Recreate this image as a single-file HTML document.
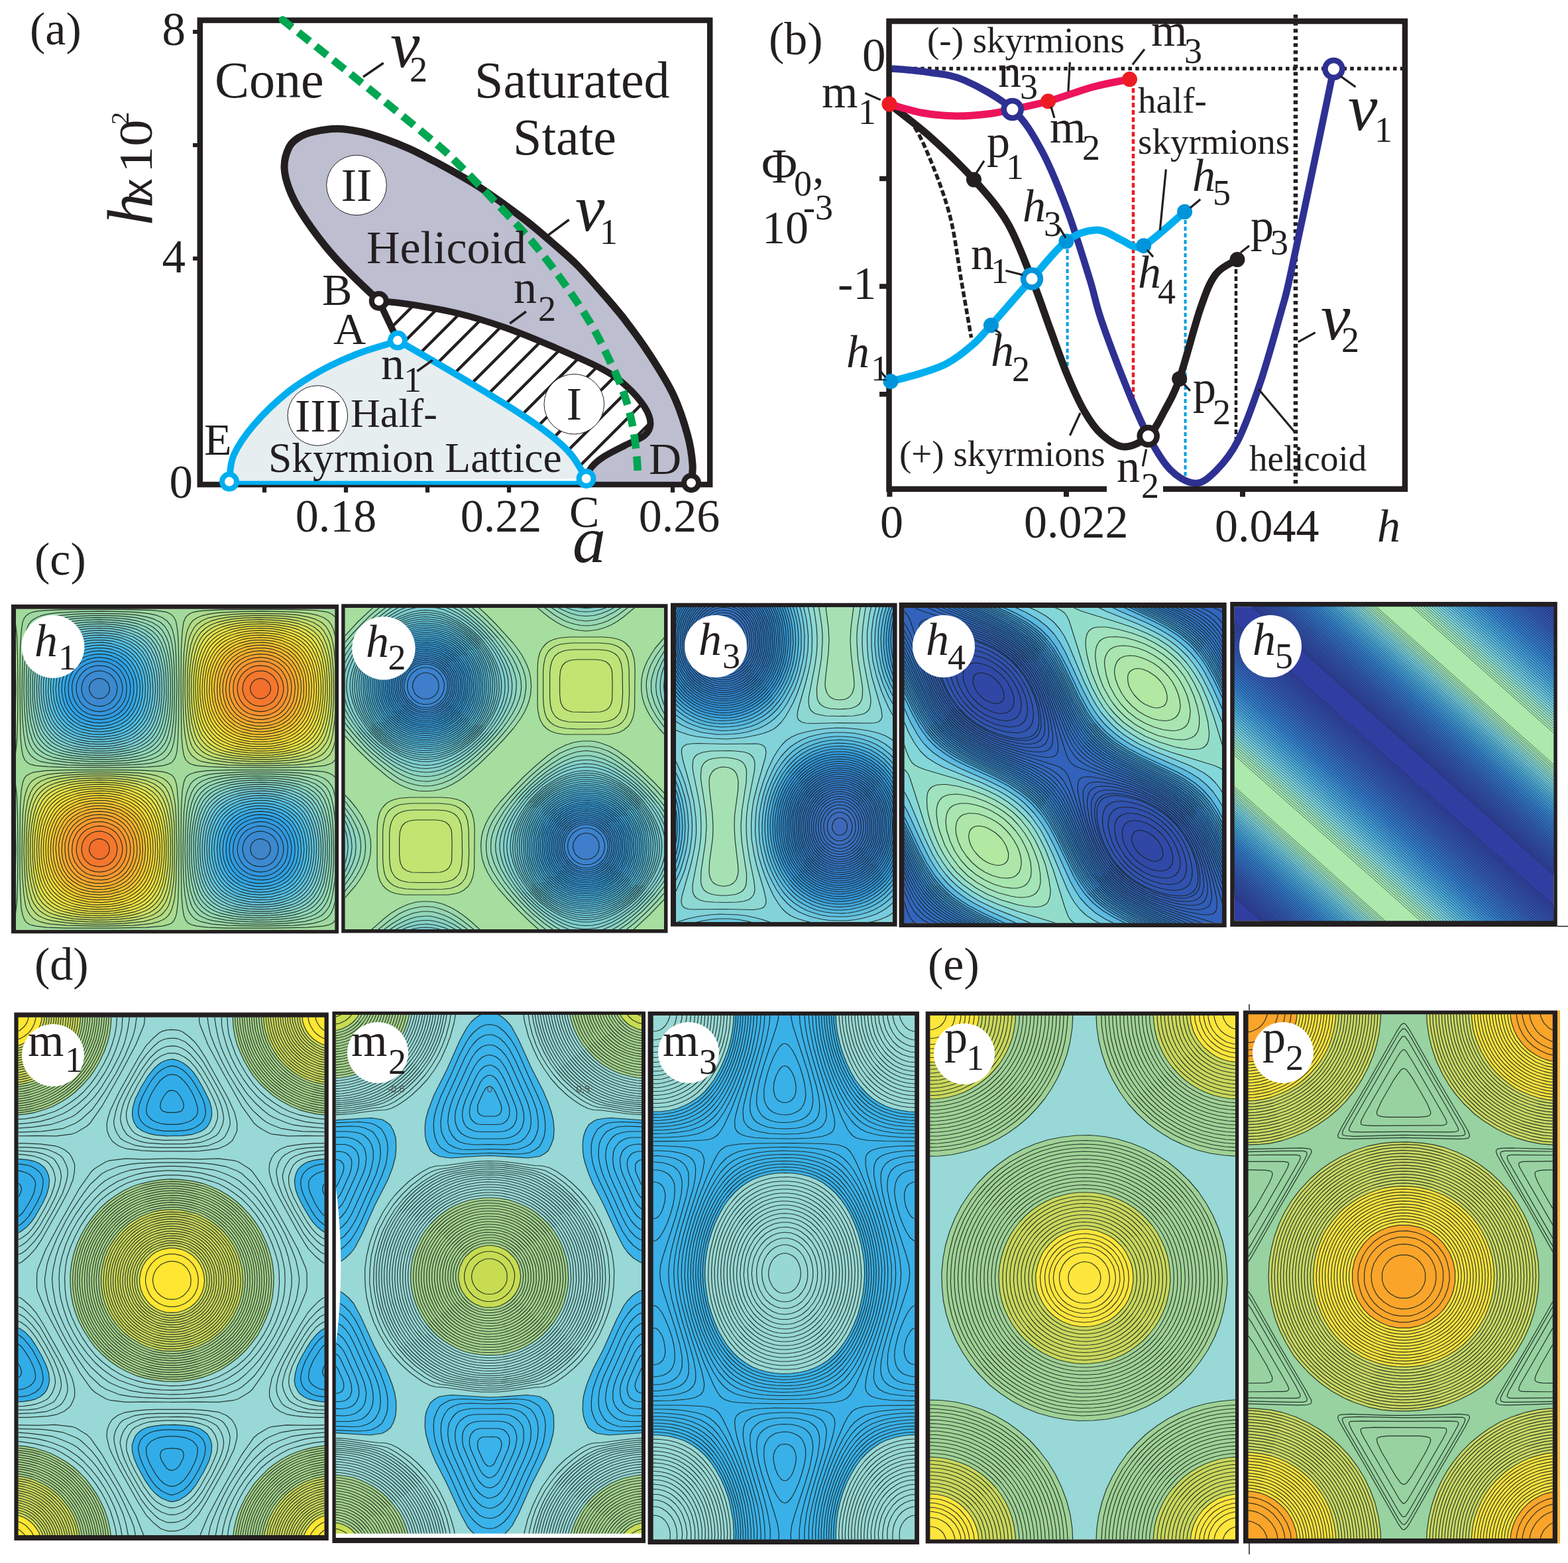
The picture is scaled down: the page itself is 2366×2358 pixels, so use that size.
<!DOCTYPE html>
<html><head><meta charset="utf-8"><title>Figure</title>
<style>html,body{margin:0;padding:0;background:#fff}svg{display:block}text{font-family:"Liberation Serif",serif;fill:#231f20}</style>
</head><body>
<svg width="2366" height="2358" viewBox="0 0 2366 2358">
<rect width="2366" height="2358" fill="#fff"/>
<path d="M571.7 454C564.2 446.8 540.3 424.7 526.8 410.9C513.3 397.1 502.7 386.1 490.6 371C478.5 355.9 463.1 334.5 454 320C444.9 305.5 440.2 295.4 436 284C431.8 272.6 429 261.6 429 251.4C429 241.2 432.5 229.7 436 222.5C439.5 215.3 443.9 211.9 450 208C456.1 204.1 462.7 201.3 472.5 199C482.3 196.7 496.6 194.2 508.7 194.2C520.8 194.2 533 196.4 545 199C557 201.6 568.9 205.6 581 209.8C593.1 214 605.3 218.9 617.4 224.3C629.5 229.7 641.5 236.1 653.6 242.4C665.7 248.7 677.9 255.4 690 262.3C702.1 269.2 714 276.1 726 284C738 291.9 750.2 300.6 762.3 309.4C774.4 318.2 786.4 326.9 798.5 336.6C810.6 346.3 822.7 356.8 834.8 367.4C846.9 378 859 387.9 871 400C883 412.1 894.9 426 907 439.9C919.1 453.8 931.4 467.6 943.5 483.3C955.6 499 967.6 515.3 979.7 534C991.8 552.7 1006.3 575.1 1016 595.6C1025.7 616.1 1032.9 639.5 1037.7 657C1042.5 674.5 1044.1 688.8 1045 700.7C1045.9 712.6 1043.3 723.9 1043 728.5 L884.6 728 L571.7 454 Z" fill="#bdbed0"/>
<clipPath id="hc"><path d="M571.7 454C579.3 454.8 597.7 455.9 617.4 459C637.1 462.1 665.9 466.6 690 472.5C714.1 478.4 738.2 485.8 762.3 494.2C786.4 502.6 810.7 512.9 834.8 523.2C858.9 533.5 888.9 546.2 907 555.8C925.1 565.4 932.6 571.3 943.5 581C954.4 590.7 966.2 604.1 972.5 613.8C978.8 623.5 981.5 631.8 981.5 639C981.5 646.2 978.8 651.5 972.5 657C966.2 662.5 953.8 666.4 943.5 671.7C933.2 677 919.5 683.5 911 689C902.5 694.5 896.8 699.5 892.4 705C888 710.5 885.9 719.2 884.6 722 L600 513.6 L571.7 454 Z"/></clipPath>
<path d="M571.7 454C579.3 454.8 597.7 455.9 617.4 459C637.1 462.1 665.9 466.6 690 472.5C714.1 478.4 738.2 485.8 762.3 494.2C786.4 502.6 810.7 512.9 834.8 523.2C858.9 533.5 888.9 546.2 907 555.8C925.1 565.4 932.6 571.3 943.5 581C954.4 590.7 966.2 604.1 972.5 613.8C978.8 623.5 981.5 631.8 981.5 639C981.5 646.2 978.8 651.5 972.5 657C966.2 662.5 953.8 666.4 943.5 671.7C933.2 677 919.5 683.5 911 689C902.5 694.5 896.8 699.5 892.4 705C888 710.5 885.9 719.2 884.6 722 L600 513.6 L571.7 454 Z" fill="#fff"/>
<path d="M303.5 740L603.5 440M344.6 740L644.6 440M385.7 740L685.7 440M426.8 740L726.8 440M467.9 740L767.9 440M509.0 740L809.0 440M550.1 740L850.1 440M591.2 740L891.2 440M632.3 740L932.3 440M673.4 740L973.4 440M714.5 740L1014.5 440M755.6 740L1055.6 440M796.7 740L1096.7 440M837.8 740L1137.8 440M878.9 740L1178.9 440M920.0 740L1220.0 440M961.1 740L1261.1 440M1002.2 740L1302.2 440" stroke="#231f20" stroke-width="4.4" fill="none" clip-path="url(#hc)"/>
<path d="M571.7 454C564.2 446.8 540.3 424.7 526.8 410.9C513.3 397.1 502.7 386.1 490.6 371C478.5 355.9 463.1 334.5 454 320C444.9 305.5 440.2 295.4 436 284C431.8 272.6 429 261.6 429 251.4C429 241.2 432.5 229.7 436 222.5C439.5 215.3 443.9 211.9 450 208C456.1 204.1 462.7 201.3 472.5 199C482.3 196.7 496.6 194.2 508.7 194.2C520.8 194.2 533 196.4 545 199C557 201.6 568.9 205.6 581 209.8C593.1 214 605.3 218.9 617.4 224.3C629.5 229.7 641.5 236.1 653.6 242.4C665.7 248.7 677.9 255.4 690 262.3C702.1 269.2 714 276.1 726 284C738 291.9 750.2 300.6 762.3 309.4C774.4 318.2 786.4 326.9 798.5 336.6C810.6 346.3 822.7 356.8 834.8 367.4C846.9 378 859 387.9 871 400C883 412.1 894.9 426 907 439.9C919.1 453.8 931.4 467.6 943.5 483.3C955.6 499 967.6 515.3 979.7 534C991.8 552.7 1006.3 575.1 1016 595.6C1025.7 616.1 1032.9 639.5 1037.7 657C1042.5 674.5 1044.1 688.8 1045 700.7C1045.9 712.6 1043.3 723.9 1043 728.5" fill="none" stroke="#231f20" stroke-width="11" stroke-linecap="round"/>
<path d="M571.7 454C579.3 454.8 597.7 455.9 617.4 459C637.1 462.1 665.9 466.6 690 472.5C714.1 478.4 738.2 485.8 762.3 494.2C786.4 502.6 810.7 512.9 834.8 523.2C858.9 533.5 888.9 546.2 907 555.8C925.1 565.4 932.6 571.3 943.5 581C954.4 590.7 966.2 604.1 972.5 613.8C978.8 623.5 981.5 631.8 981.5 639C981.5 646.2 978.8 651.5 972.5 657C966.2 662.5 953.8 666.4 943.5 671.7C933.2 677 919.5 683.5 911 689C902.5 694.5 896.8 699.5 892.4 705C888 710.5 885.9 719.2 884.6 722" fill="none" stroke="#231f20" stroke-width="10" stroke-linecap="round"/>
<path d="M571.7 454L600 513.6" stroke="#231f20" stroke-width="10"/>
<rect x="301.8" y="30.6" width="769.4" height="700.4" fill="none" stroke="#231f20" stroke-width="8.5"/>
<path d="M291 48H302M291 219H302M291 390H302M399 731V743M522 731V743M645 731V743M768 731V743M1015 731V743" stroke="#231f20" stroke-width="6.2"/>
<path d="M346 726.6C347.1 720 346.2 701.4 352.5 687C358.8 672.6 369.8 656.5 383.5 640.5C397.2 624.5 417.8 604.8 435 591C452.2 577.2 469.7 567.1 487 557.6C504.3 548.1 522.5 540.4 538.8 534C555.1 527.6 574.8 522.4 585 519C595.2 515.6 597.5 514.5 600 513.6 L600 513.6C615 522.3 660 548.1 690 566C720 583.9 756.7 606 780 621C803.3 636 816.3 645.2 830 656C843.7 666.8 852.9 675 862 686C871.1 697 880.8 716 884.6 722 L346 726.6 Z" fill="#e6eef0"/>
<path d="M346 728.5L884.6 728.5" stroke="#00aeef" stroke-width="6"/>
<path d="M346 726.6C347.1 720 346.2 701.4 352.5 687C358.8 672.6 369.8 656.5 383.5 640.5C397.2 624.5 417.8 604.8 435 591C452.2 577.2 469.7 567.1 487 557.6C504.3 548.1 522.5 540.4 538.8 534C555.1 527.6 574.8 522.4 585 519C595.2 515.6 597.5 514.5 600 513.6 L600 513.6C615 522.3 660 548.1 690 566C720 583.9 756.7 606 780 621C803.3 636 816.3 645.2 830 656C843.7 666.8 852.9 675 862 686C871.1 697 880.8 716 884.6 722" fill="none" stroke="#00aeef" stroke-width="10" stroke-linejoin="round"/>
<path d="M429 32C430.4 33.1 418.2 23.4 437.5 38.8C456.8 54.2 508.6 95.2 544.6 124.2C580.6 153.2 629.1 192.4 653.3 212.7C677.5 233 675.5 231.9 690 246C704.5 260.1 723 279.3 740 297C757 314.7 777.3 335.5 792 352C806.7 368.5 816.5 381.1 828 396C839.5 410.9 850.7 426.5 861 441.5C871.3 456.5 881.3 471.3 890 486C898.7 500.7 904.9 512.8 913 529.5C921.1 546.2 932.1 568.8 938.8 586.4C945.5 604 949.5 619.4 953 635C956.5 650.6 958.4 666.5 960 680C961.6 693.5 962.1 710 962.5 716" fill="none" stroke="#00a651" stroke-width="11.6" stroke-dasharray="21.7 11.9"/>
<circle cx="538" cy="279.4" r="45.3" fill="#fff" stroke="#231f20" stroke-width="1"/>
<circle cx="866.3" cy="609.7" r="45.3" fill="#fff" stroke="#231f20" stroke-width="1"/>
<circle cx="479.3" cy="627" r="45.3" fill="#fff" stroke="#231f20" stroke-width="1"/>
<circle cx="571.7" cy="454" r="11" fill="#fff" stroke="#231f20" stroke-width="8"/>
<circle cx="1043" cy="728.5" r="11" fill="#fff" stroke="#231f20" stroke-width="8"/>
<circle cx="600" cy="513.6" r="11" fill="#fff" stroke="#00aeef" stroke-width="8"/>
<circle cx="884.6" cy="722" r="11" fill="#fff" stroke="#00aeef" stroke-width="8"/>
<circle cx="346" cy="726.6" r="11" fill="#fff" stroke="#00aeef" stroke-width="8"/>
<path d="M548 116L578.7 95M823.6 357.4L858.6 331.5M769.3 488L793.9 470M629.4 560L652.7 543.4" stroke="#231f20" stroke-width="3.5"/>
<text x="45" y="67" font-size="70">(a)</text>
<text x="52" y="866.5" font-size="70">(c)</text>
<text x="280" y="67.5" font-size="71" text-anchor="end">8</text>
<text x="280" y="411" font-size="71" text-anchor="end">4</text>
<text x="291" y="751" font-size="71" text-anchor="end">0</text>
<g transform="translate(228.5,337) rotate(-90)"><text x="-3" y="0" font-size="97" font-style="italic">h</text><text x="37.5" y="0" font-size="65" style="font-family:'Liberation Sans',sans-serif" textLength="30" lengthAdjust="spacingAndGlyphs">x</text><g transform="translate(76,0) scale(1.12,1)"><text x="0" y="0" font-size="72">10</text></g><text x="149" y="-34.5" font-size="38">2</text></g>
<text x="324" y="147" font-size="78">Cone</text>
<text x="716" y="147" font-size="78">Saturated</text>
<text x="774" y="233" font-size="78">State</text>
<text x="553" y="397" font-size="70">Helicoid</text>
<text x="538" y="303" font-size="70" text-anchor="middle">II</text>
<text x="866.3" y="633" font-size="70" text-anchor="middle">I</text>
<text x="480" y="651" font-size="70" text-anchor="middle">III</text>
<text x="486" y="460" font-size="68">B</text>
<text x="503" y="518.5" font-size="68">A</text>
<text x="308" y="686" font-size="68">E</text>
<text x="979" y="714.5" font-size="68">D</text>
<text x="859" y="795" font-size="68">C</text>
<text x="864" y="848" font-size="100" font-style="italic">a</text>
<text x="775" y="457" font-size="70">n</text><text x="812" y="484" font-size="54">2</text>
<text x="575" y="572" font-size="70">n</text><text x="609" y="591" font-size="54">1</text>
<text x="868" y="348" font-size="100" font-style="italic">ν</text><text x="905" y="367.7" font-size="54">1</text>
<text x="589" y="101" font-size="100" font-style="italic">ν</text><text x="618" y="122.5" font-size="54">2</text>
<text x="529" y="643.5" font-size="62">Half-</text>
<text x="405" y="711.6" font-size="63.5">Skyrmion Lattice</text>
<text x="507" y="802" font-size="70" text-anchor="middle">0.18</text>
<text x="756" y="802" font-size="70" text-anchor="middle">0.22</text>
<text x="1025" y="802" font-size="70" text-anchor="middle">0.26</text>
<path d="M1346 103.6H2116" stroke="#231f20" stroke-width="5.5" stroke-dasharray="5.6 5.2" fill="none"/>
<path d="M1955 22V734" stroke="#231f20" stroke-width="6.5" stroke-dasharray="5.6 5.2" fill="none"/>
<path d="M1865 395V665" stroke="#231f20" stroke-width="4.5" stroke-dasharray="7 4" fill="none"/>
<path d="M1610.6 366V561M1788.6 322V724" stroke="#00a0e0" stroke-width="4" stroke-dasharray="6 4" fill="none"/>
<path d="M1710 122V609" stroke="#ed1c24" stroke-width="4.5" stroke-dasharray="7 4" fill="none"/>
<path d="M1342 157C1347.9 162.2 1366.5 172 1377.6 188C1388.7 204 1399.2 229.2 1408.7 253C1418.2 276.8 1427.7 302.8 1434.6 330.6C1441.5 358.4 1444.8 390.2 1450 420C1455.2 449.8 1463 494.5 1465.6 509.4" fill="none" stroke="#231f20" stroke-width="5.5" stroke-dasharray="9 4"/>
<path d="M1342 157C1352.2 165.2 1382.2 187.3 1403.5 206.3C1424.8 225.3 1450.1 249.4 1469.5 271C1488.9 292.6 1505.4 310.8 1520 335.7C1534.6 360.6 1546.2 393.8 1557 420.6C1567.8 447.4 1575.8 472.3 1584.7 496.5C1593.6 520.7 1602 545.3 1610.6 566C1619.2 586.7 1627.8 605.9 1636.4 620.7C1645 635.5 1652.1 646.1 1662 655C1671.9 663.9 1684.2 673.5 1696 674C1707.8 674.5 1722.5 667 1732.7 658C1742.9 649 1749.2 634.4 1757 620C1764.8 605.6 1770.7 597.3 1779.7 571.5C1788.8 545.7 1802.2 491.7 1811.3 465.4C1820.4 439.1 1825.3 425.9 1834.6 413.6C1843.9 401.3 1861.6 395.3 1867 391.6" fill="none" stroke="#231f20" stroke-width="11"/>
<path d="M1345 103.5C1354.2 104.4 1381.7 106.1 1400 109C1418.3 111.9 1433.7 111.7 1455 121C1476.3 130.3 1508.2 147.3 1527.7 165C1547.2 182.7 1557.9 201.6 1571.7 227C1585.5 252.4 1598.5 285.4 1610.6 317.6C1622.6 349.8 1635.4 392.4 1644 420C1652.6 447.6 1652.5 455.7 1662 483.5C1671.5 511.3 1689.2 557.9 1701 587C1712.8 616.1 1721.9 637.7 1732.7 658C1743.5 678.3 1754.2 696.9 1766 708.7C1777.8 720.5 1792 728.8 1803.5 729C1815 729.2 1824.2 720.7 1835 710C1845.8 699.3 1856.8 686.9 1868 664.7C1879.2 642.5 1891.1 609.1 1901.9 576.7C1912.7 544.4 1925.7 496.7 1933 470.6C1940.3 444.5 1938.2 455.1 1946 420C1953.8 384.9 1968.9 312.7 1980 260C1991.1 207.3 2007 130 2012.4 104" fill="none" stroke="#2e3192" stroke-width="10.5"/>
<path d="M1344 575.4C1351.7 573.3 1375.8 567.6 1390 563C1404.2 558.4 1416.4 555.2 1429.4 548C1442.4 540.8 1457 529.3 1468 519.8C1479 510.3 1480.6 507.3 1495.4 490.8C1510.2 474.3 1538.1 441.7 1557 420.6C1575.9 399.5 1592.8 376.3 1609 364C1625.2 351.7 1641 347.5 1654.5 347C1668 346.5 1680.8 356.9 1690 361C1699.2 365.1 1704 369.9 1710 371.5C1716 373.1 1718.2 374.6 1725.7 370.7C1733.2 366.8 1744.7 356.5 1755 348C1765.3 339.5 1782.2 324.2 1787.6 319.5" fill="none" stroke="#00aeef" stroke-width="11"/>
<path d="M1342 157C1350 159.2 1373.3 167 1390 170C1406.7 173 1425.3 174.7 1442 175C1458.7 175.3 1475.7 173.7 1490 172C1504.3 170.3 1512.4 168.2 1527.7 165C1543 161.8 1561.2 158.5 1581.6 152.8C1602 147.1 1629.5 136.5 1650 131C1670.5 125.5 1695.4 121.5 1704.5 119.6" fill="none" stroke="#ed145b" stroke-width="11"/>
<path d="M1670 737.7H1341.5V32H2120V737.7H1755" fill="none" stroke="#231f20" stroke-width="8.5"/>
<path d="M1327 269.5H1342M1327 432H1342M1327 594.8H1342" stroke="#231f20" stroke-width="7.5"/>
<path d="M1342.4 737V749.5M1609 737V749.5M1875 737V749.5" stroke="#231f20" stroke-width="8"/>
<circle cx="1342" cy="157" r="11.5" fill="#ed1c24"/>
<circle cx="1581.6" cy="152.8" r="11.5" fill="#ed1c24"/>
<circle cx="1704.5" cy="119.6" r="11.5" fill="#ed1c24"/>
<circle cx="1344" cy="575.4" r="11.5" fill="#0095da"/>
<circle cx="1495.4" cy="490.8" r="11.5" fill="#0095da"/>
<circle cx="1609" cy="364" r="11.5" fill="#0095da"/>
<circle cx="1725.7" cy="370.7" r="11.5" fill="#0095da"/>
<circle cx="1787.6" cy="319.5" r="11.5" fill="#0095da"/>
<circle cx="1469.5" cy="271" r="11.5" fill="#231f20"/>
<circle cx="1779.7" cy="571.5" r="11.5" fill="#231f20"/>
<circle cx="1867" cy="391.6" r="11.5" fill="#231f20"/>
<circle cx="1527.7" cy="165" r="13" fill="#fff" stroke="#2e3192" stroke-width="8.5"/>
<circle cx="2012.4" cy="104" r="13" fill="#fff" stroke="#2e3192" stroke-width="8.5"/>
<circle cx="1557" cy="420.6" r="13" fill="#fff" stroke="#0095da" stroke-width="8.5"/>
<circle cx="1732.7" cy="658" r="13" fill="#fff" stroke="#231f20" stroke-width="8.5"/>
<path d="M1614.4 657L1630 623M1899 587L1953.6 651.7M1958.8 515.9L1984.7 501.6M1305.4 140.5L1328.7 150.6M1614.4 93.8L1611.9 137.8M1708.9 97.6L1727 74.3M1586 161L1591 177.9M1473.4 260.7L1485 242.6M1598.9 343.5L1608 359M1759.4 255.5L1750.3 347.4M1517.4 408.2L1543.3 414.7M1730.9 377L1740 387.5M1795.8 313.7L1811.3 300.8M1872 381L1885 370.7M2022.2 114.5L2045.5 131.3M1501.9 497.8L1509.6 503M1327.2 558.6L1336.2 569M1729.6 677.6L1724.4 703.5M1785.4 578L1795.8 589.6" stroke="#231f20" stroke-width="3.2"/>
<text x="1160" y="81.5" font-size="70">(b)</text>
<text x="1301" y="107" font-size="71">0</text>
<text x="1149" y="276" font-size="74">Φ</text><text x="1198" y="294.5" font-size="54">0</text><text x="1226" y="276" font-size="70">,</text>
<text x="1150" y="367" font-size="70">10</text><text x="1212" y="331" font-size="54">-3</text>
<text x="1264" y="451.4" font-size="70">-1</text>
<text x="1240" y="162" font-size="70">m</text><text x="1295" y="187" font-size="54">1</text>
<text x="1277" y="554" font-size="70" font-style="italic">h</text><text x="1314" y="574" font-size="54">1</text>
<text x="1399" y="79" font-size="55">(-) skyrmions</text>
<text x="1357" y="702.5" font-size="55">(+) skyrmions</text>
<text x="1717" y="170" font-size="55">half-</text>
<text x="1717" y="232" font-size="55">skyrmions</text>
<text x="1885" y="710" font-size="55">helicoid</text>
<text x="1506" y="131" font-size="70">n</text><text x="1539" y="149" font-size="54">3</text>
<text x="1584" y="215" font-size="70">m</text><text x="1633" y="241" font-size="54">2</text>
<text x="1737" y="69" font-size="70">m</text><text x="1787" y="95" font-size="54">3</text>
<text x="1489" y="237" font-size="70">p</text><text x="1518" y="270" font-size="54">1</text>
<text x="1543" y="334.4" font-size="70" font-style="italic">h</text><text x="1575" y="356" font-size="54">3</text>
<text x="1465" y="405.6" font-size="70">n</text><text x="1495" y="427" font-size="54">1</text>
<text x="1495" y="552" font-size="70" font-style="italic">h</text><text x="1527" y="575.4" font-size="54">2</text>
<text x="1717" y="434" font-size="70" font-style="italic">h</text><text x="1747" y="457.6" font-size="54">4</text>
<text x="1799" y="288" font-size="70" font-style="italic">h</text><text x="1830" y="308.6" font-size="54">5</text>
<text x="1887" y="364" font-size="70">p</text><text x="1917" y="384" font-size="54">3</text>
<text x="1800" y="608" font-size="70">p</text><text x="1830" y="640" font-size="54">2</text>
<text x="1685" y="726.8" font-size="70">n</text><text x="1722" y="751.4" font-size="54">2</text>
<text x="2034" y="196" font-size="100" font-style="italic">ν</text><text x="2074" y="214" font-size="54">1</text>
<text x="1993" y="512" font-size="100" font-style="italic">ν</text><text x="2024" y="531.4" font-size="54">2</text>
<text x="1328" y="811" font-size="70">0</text>
<text x="1545" y="811" font-size="70">0.022</text>
<text x="1833" y="817" font-size="70">0.044</text>
<text x="2078" y="817" font-size="70" font-style="italic">h</text>
<clipPath id="c1"><rect x="0" y="0" width="962.6" height="968.4000000000001"/></clipPath>
<g transform="translate(24,918.7) scale(0.5)"><g clip-path="url(#c1)" stroke="#16221c" stroke-width="2.4" stroke-opacity="0.88" stroke-linejoin="round">
<rect x="-8" y="-8" width="978" height="984" fill="#a2da9b" stroke="none"/>
<path fill="#abdb8f" d="M91 -8h321l-60 2l-100 1l-100-1zM634 2l160-1l104 3l26 3l18 3l12 6l9 8l4 8l3 10v397l-6 15l-4 5l-5 5l-11 5l-14 4l-20 2l-26 2l-104 2l-140-1l-58-2l-36-3l-12-3l-8-3l-7-5l-6-6l-6-14l-4-22l-3-34l-1-54l-1-112l1-98l3-52l4-30l5-12l6-8l8-6l10-4l15-3l20-2zM-8 28v-1l3 7l4 12l4 36l2 60l1 98l-1 98l-2 60l-4 36l-3 11l-4 9zM159 486h161l58 1l40 2l24 2l16 4l12 6l8 9l4 10l4 16l4 50l2 110l-1 136l-2 54l-4 32l-3 11l-4 9l-4 6l-6 5l-10 4l-16 4l-48 4l-106 2h-138l-56-2l-34-4l-12-3l-8-3l-8-5l-5-6l-6-14l-5-24l-2-36l-2-58v-114l1-94l3-50l5-28l5-12l6-7l8-5l12-5l16-2l22-3zM659 970h187l52 2l32 4h-384l40-4z"/>
<path fill="#b4dc83" d="M680 8l62-1l62 1l46 2l36 4l24 5l19 7l13 9l10 13l7 16l4 18l4 24l2 32l1 200l-5 48l-3 18l-4 14l-5 12l-6 10l-9 8l-8 6l-15 6l-19 5l-24 3l-32 3l-100 2l-100-2l-48-5l-18-3l-14-3l-12-5l-10-7l-8-7l-6-9l-5-10l-3-12l-6-31l-4-45l-2-60l1-78l2-64l5-42l3-16l4-14l7-14l8-11l12-8l14-6l20-5l26-4l32-2zM-8 90l3 22l3 36l2 92l-2 92l-3 34l-3 26zM203 492h63l60 1l44 2l34 4l23 5l17 7l12 9l11 14l5 14l5 20l4 24l2 32l3 100l-3 100l-4 48l-4 18l-4 14l-5 12l-6 9l-7 7l-10 6l-14 6l-19 5l-24 3l-32 3l-100 2l-100-2l-48-4l-18-3l-14-4l-12-5l-10-6l-8-8l-6-9l-5-10l-4-12l-5-32l-4-46l-2-62l1-80l2-62l5-42l4-16l4-12l7-14l9-10l12-8l16-6l20-5l28-3z"/>
<path fill="#bcdd77" d="M699 14h55l52 1l42 3l32 6l24 7l18 9l13 12l10 16l7 17l5 21l4 26l2 32l2 42l1 48l-2 44l-2 38l-6 43l-4 17l-5 14l-7 12l-8 10l-9 8l-11 6l-16 7l-22 5l-26 4l-32 3l-42 1l-48 1l-46-1l-38-3l-44-6l-18-4l-14-6l-12-7l-10-8l-8-10l-6-10l-4-12l-4-14l-6-34l-4-46l-2-58l1-62l4-50l5-36l4-15l5-13l9-16l10-11l14-10l16-7l22-5l26-4l34-3zM-8 180l1 60l-1 62zM222 498h56l50 2l40 3l30 6l23 7l17 10l13 12l9 16l6 16l5 22l4 26l3 34l1 42v48l-1 44l-2 38l-7 42l-4 16l-5 14l-6 10l-8 10l-10 9l-12 6l-16 6l-22 6l-26 3l-34 3l-44 2h-48l-44-1l-38-3l-42-6l-16-4l-14-6l-12-6l-10-9l-8-10l-6-10l-9-26l-6-36l-3-48l-2-60l2-60l3-50l6-36l9-26l8-14l11-12l13-9l18-7l22-5l28-5l36-2z"/>
<path fill="#c5de6b" d="M713 20h51l46 2l36 4l30 7l22 8l18 11l13 14l11 19l7 19l5 22l3 28l3 32l1 40v42l-2 38l-3 32l-4 22l-4 18l-5 16l-6 12l-9 12l-8 9l-10 7l-14 7l-19 7l-23 5l-28 4l-32 2l-40 2l-42-1l-38-2l-32-3l-22-3l-18-4l-16-6l-13-6l-11-8l-10-10l-8-10l-6-13l-9-27l-5-34l-4-46l-1-52l1-52l4-42l6-34l9-26l10-16l11-12l14-10l18-8l22-6l28-5l34-3zM238 504h48l44 3l36 5l28 6l22 9l16 11l13 14l10 20l7 20l4 24l4 28l2 34l1 40v42l-2 36l-4 32l-3 20l-5 18l-6 16l-7 12l-8 11l-10 9l-12 8l-12 5l-20 6l-23 5l-29 4l-34 2l-40 1l-42-1l-36-2l-32-3l-20-4l-18-4l-16-6l-12-7l-11-8l-9-10l-7-10l-7-14l-8-28l-6-38l-3-48v-54l2-50l4-40l7-32l9-24l11-16l12-11l16-10l18-7l24-6l28-4l36-3z"/>
<path fill="#cfdf61" d="M730 26l46 1l42 3l34 6l26 8l21 10l17 14l12 17l9 21l6 22l5 24l3 30l2 32v36l-1 36l-3 32l-4 26l-5 20l-5 16l-6 14l-8 12l-9 10l-10 8l-13 8l-15 6l-20 6l-26 5l-29 3l-33 2h-38l-36-1l-32-3l-28-4l-20-5l-16-5l-14-7l-11-7l-11-10l-8-10l-7-12l-6-16l-8-30l-5-36l-3-46v-48l3-42l5-36l7-28l10-22l10-15l14-13l16-10l18-7l24-6l28-5l34-3zM197 512l49-2l48 1l42 4l34 6l26 8l20 11l16 15l12 18l7 17l6 22l5 24l3 28l2 34v36l-1 36l-3 32l-3 22l-4 20l-6 18l-6 14l-8 12l-8 10l-12 10l-12 8l-18 7l-20 6l-24 4l-28 3l-34 2l-38 1l-36-2l-32-2l-22-4l-20-4l-17-5l-15-6l-13-8l-11-10l-9-10l-7-12l-9-24l-7-30l-5-36l-2-44v-48l4-44l5-36l8-28l9-18l10-14l13-12l14-9l18-7l22-6l26-5z"/>
<path fill="#d9e056" d="M690 34l46-2l46 2l40 4l32 7l24 9l20 13l15 15l12 20l7 18l6 20l4 24l3 28l2 32v34l-2 32l-3 28l-4 21l-5 19l-6 16l-7 14l-8 12l-10 10l-10 8l-14 8l-18 7l-22 6l-24 4l-28 3l-32 2h-34l-32-2l-30-3l-22-4l-18-5l-16-6l-14-7l-12-9l-10-10l-8-10l-7-14l-9-24l-7-30l-4-36l-2-42l1-42l4-38l6-32l8-26l8-16l10-14l13-12l15-10l18-8l22-6l26-5zM207 518l45-2l44 2l40 4l32 7l24 9l20 13l15 15l12 20l7 18l6 22l4 24l3 28l1 32v34l-1 32l-4 28l-4 22l-5 18l-6 16l-7 14l-9 12l-10 10l-11 8l-13 7l-18 7l-22 6l-25 4l-29 3l-32 1h-34l-32-2l-28-3l-20-4l-19-5l-16-6l-13-7l-12-9l-10-9l-8-11l-8-14l-8-24l-7-30l-4-36l-2-42l1-42l4-38l6-32l8-26l9-18l11-14l12-11l16-10l18-7l22-6l26-5z"/>
<path fill="#e3e14b" d="M698 40l44-1l42 2l38 5l30 7l24 11l18 13l8 7l8 10l11 20l6 18l6 22l4 24l2 28l1 30v32l-3 28l-3 26l-5 20l-5 16l-6 14l-8 14l-10 12l-10 9l-12 8l-14 7l-18 7l-22 5l-24 4l-28 3l-30 1l-32-1l-28-2l-26-4l-20-4l-16-5l-14-6l-14-8l-12-10l-9-10l-9-12l-7-14l-8-24l-6-30l-4-34l-1-38l1-38l4-34l6-30l8-24l10-18l11-14l12-10l16-10l18-8l22-6l26-5zM215 524l43-1l42 2l37 5l30 8l23 10l19 14l15 17l11 21l7 18l5 22l4 24l2 28l1 30l-1 32l-2 28l-4 26l-4 20l-6 16l-7 16l-8 12l-10 12l-10 9l-12 8l-14 6l-18 7l-22 5l-26 4l-28 2l-30 1l-30-1l-28-2l-26-4l-20-5l-16-5l-16-7l-12-8l-12-10l-9-10l-8-12l-7-14l-8-24l-6-30l-3-36l-1-38l1-38l4-34l6-28l9-23l9-17l11-14l14-12l16-9l18-7l22-7l26-4z"/>
<path fill="#eae144" d="M707 46l41-1l40 3l36 6l28 8l22 12l18 14l14 18l12 24l6 18l4 22l4 24l2 28v28l-2 28l-3 26l-4 22l-5 18l-6 16l-8 14l-8 12l-10 10l-10 8l-13 8l-15 7l-18 6l-22 5l-24 3l-28 2h-28l-28-1l-26-3l-24-4l-18-5l-16-7l-14-7l-11-8l-11-10l-8-10l-8-12l-7-16l-8-24l-5-30l-3-32l-1-36l2-34l4-30l7-26l8-22l10-16l11-14l14-12l16-9l18-8l22-6l26-4zM224 530l42-1l40 3l34 6l28 9l22 12l18 15l14 19l10 23l6 20l5 22l3 25l2 27v28l-2 26l-3 26l-4 22l-5 16l-6 16l-8 14l-8 12l-10 10l-12 10l-14 8l-14 6l-20 6l-22 4l-26 4l-26 1h-28l-28-1l-26-3l-22-5l-16-4l-16-6l-14-8l-12-8l-10-10l-10-12l-8-14l-6-14l-7-24l-6-30l-3-34v-34l2-34l5-30l6-26l9-22l10-16l12-14l14-11l16-9l20-8l22-5l24-4z"/>
<path fill="#eddf40" d="M718 52h40l38 4l32 7l26 10l22 13l16 16l13 20l10 26l6 20l3 22l3 24v26v26l-3 24l-3 22l-5 20l-6 16l-7 14l-8 12l-10 12l-11 10l-12 8l-14 7l-16 5l-20 6l-24 4l-24 2l-26 1l-26-1l-24-2l-24-4l-20-6l-16-5l-14-7l-12-8l-11-10l-10-12l-8-12l-7-14l-6-16l-6-26l-4-28l-1-30v-32l3-30l5-26l7-22l9-20l11-16l12-12l14-11l16-8l20-8l21-5l25-4zM237 536h39l36 4l32 7l26 11l12 7l10 7l16 17l13 21l9 26l5 20l4 24l2 24v26l-1 26l-3 24l-4 22l-5 20l-7 16l-7 13l-8 11l-10 11l-11 9l-13 8l-16 7l-16 5l-20 5l-24 4l-26 2h-26l-26-1l-24-3l-22-4l-18-6l-16-6l-13-7l-13-9l-10-10l-9-11l-7-12l-8-16l-5-16l-6-26l-3-28l-1-32l1-32l3-28l5-26l8-22l8-18l10-14l12-12l14-11l18-9l20-7l22-5l26-4z"/>
<path fill="#f1dd3c" d="M701 60l37-2l38 2l34 6l28 9l22 11l11 8l9 8l14 18l12 24l5 18l5 20l3 22l2 24v24l-2 24l-3 22l-4 20l-5 16l-7 15l-7 13l-9 12l-10 10l-10 8l-13 8l-15 7l-18 6l-20 4l-22 3l-22 2h-24l-24-1l-23-3l-21-4l-16-5l-16-7l-14-7l-12-9l-10-10l-8-10l-8-13l-7-15l-7-22l-5-24l-3-28l-1-30l2-30l4-26l6-24l8-20l8-16l11-14l12-11l14-10l16-8l20-7l22-5zM217 544l37-2l38 3l34 5l28 10l22 11l18 15l15 20l11 23l6 19l4 20l3 22l2 24l-1 24l-1 24l-3 22l-5 20l-5 16l-6 14l-8 13l-8 11l-10 10l-12 9l-14 8l-14 7l-18 5l-20 5l-22 3l-24 1h-24l-24-1l-22-3l-22-5l-16-5l-16-7l-12-8l-12-9l-10-10l-8-11l-8-13l-6-14l-7-22l-5-26l-2-28l-1-30l2-28l4-26l6-24l9-20l8-15l10-13l13-12l15-10l18-8l18-6l22-5z"/>
<path fill="#f5db38" d="M711 66l35-1l36 3l32 7l26 9l22 14l17 16l13 20l11 26l5 18l3 20l2 22l1 22l-1 22l-2 22l-4 20l-5 18l-6 14l-7 14l-8 12l-9 10l-12 10l-12 8l-14 7l-14 5l-20 5l-20 4l-22 2h-22h-22l-22-3l-20-4l-18-5l-14-5l-14-7l-12-9l-10-8l-10-12l-8-12l-7-14l-5-14l-6-22l-4-24l-2-26l1-28l2-24l4-24l7-22l8-18l9-14l11-13l13-11l15-10l16-7l20-6l20-4zM227 550l37-1l34 3l32 7l26 11l20 12l10 9l8 9l13 20l10 26l5 18l4 22l1 22l1 22l-1 22l-3 22l-4 19l-5 17l-6 14l-7 14l-9 12l-9 10l-12 9l-12 8l-14 7l-16 5l-19 5l-21 3l-22 2l-22 1l-22-2l-22-2l-20-4l-18-6l-14-6l-14-8l-11-8l-11-10l-8-10l-8-13l-6-13l-6-16l-5-22l-4-26l-1-26l1-26l3-26l4-22l7-20l8-18l9-14l12-13l12-10l15-9l17-7l20-6l20-4z"/>
<path fill="#f8d934" d="M725 72l35 1l34 4l29 9l13 6l12 7l19 15l8 10l7 10l12 24l8 30l3 20l2 20v22l-1 20l-3 20l-4 18l-6 16l-6 14l-7 12l-9 12l-10 10l-11 8l-12 8l-14 6l-16 6l-18 4l-20 3l-20 1h-22l-20-1l-20-3l-18-4l-16-5l-15-7l-13-8l-11-8l-10-10l-9-12l-7-12l-6-14l-5-16l-4-16l-4-22l-1-24v-24l3-22l4-22l5-18l7-16l10-16l10-13l12-11l12-8l16-8l16-6l20-5l20-3zM246 556l36 1l34 6l16 5l14 6l12 6l11 8l9 8l10 10l7 10l7 12l6 14l4 14l7 32l2 20v20l-1 20l-2 20l-4 18l-5 18l-6 14l-8 14l-8 12l-10 10l-11 9l-12 8l-14 6l-16 6l-18 5l-18 3l-20 1l-22 1l-20-1l-20-3l-18-4l-18-5l-14-6l-14-8l-11-8l-10-10l-9-11l-8-13l-7-14l-5-16l-7-34l-2-22v-22l1-22l4-22l4-18l7-18l8-16l9-14l10-11l12-10l14-8l15-7l17-6l20-4l20-3z"/>
<path fill="#fad531" d="M712 80l34-1l32 3l28 6l26 11l20 13l17 18l13 21l10 25l4 18l3 18l1 38l-2 20l-2 18l-4 16l-6 16l-6 14l-8 12l-8 11l-10 9l-10 8l-13 8l-13 6l-16 5l-18 4l-18 3l-20 1h-20l-20-1l-18-3l-16-4l-16-6l-12-6l-12-7l-10-8l-10-10l-8-10l-8-13l-6-13l-6-16l-4-20l-3-22l-1-22l1-22l2-20l5-20l6-18l8-17l9-13l11-12l12-10l12-8l16-7l16-6l18-4zM228 564l34-1l32 3l30 8l24 10l20 14l16 18l12 20l10 26l4 18l3 18l1 38l-2 20l-3 18l-4 16l-6 16l-6 14l-8 12l-9 11l-10 9l-11 8l-13 8l-14 6l-14 4l-18 4l-18 2l-20 2l-20-1l-20-1l-18-4l-17-4l-15-6l-13-6l-12-8l-10-8l-9-10l-9-12l-7-12l-6-14l-4-14l-5-20l-2-22l-1-22l1-22l3-20l4-20l7-18l8-16l9-13l10-11l12-10l14-9l16-7l16-5l18-4z"/>
<path fill="#face30" d="M735 86l35 2l32 7l26 11l12 8l10 8l10 10l7 10l7 12l6 13l9 29l4 34l-2 36l-6 32l-5 16l-6 13l-8 13l-8 10l-10 10l-10 8l-12 7l-14 6l-14 5l-16 4l-34 4l-36-1l-32-6l-15-5l-13-6l-12-7l-12-9l-10-10l-8-10l-7-12l-7-14l-5-14l-4-16l-4-34l2-36l2-18l4-16l5-14l7-14l7-12l10-12l10-9l12-9l12-7l14-6l16-5l16-3zM223 572l31-2l30 2l28 6l26 10l20 13l17 17l13 20l10 25l4 15l3 18l2 36l-2 18l-2 18l-4 16l-5 14l-6 13l-7 11l-7 10l-10 10l-10 8l-12 8l-14 7l-14 5l-16 4l-18 3l-36 1l-18-1l-18-3l-16-4l-14-4l-14-7l-12-7l-10-8l-10-10l-8-10l-8-12l-10-26l-5-18l-3-20l-1-20l1-22l2-20l4-18l6-17l7-15l7-12l10-12l11-10l13-9l14-7l16-7l16-4z"/>
<path fill="#fac72f" d="M722 94h30l30 4l26 8l23 12l17 14l15 20l12 24l7 26l3 32l-1 34l-3 16l-5 16l-5 14l-6 12l-15 20l-10 9l-10 8l-12 7l-12 5l-14 5l-16 3l-32 4l-34-2l-16-3l-16-4l-14-5l-12-7l-12-8l-10-8l-8-9l-8-11l-7-12l-5-12l-8-28l-2-18l-1-18v-18l2-18l4-16l5-16l6-14l8-13l9-11l10-10l11-8l13-8l14-6l15-4l16-4zM239 578h31l30 5l26 9l22 13l18 16l14 20l10 23l7 28l2 34l-2 32l-4 16l-4 14l-6 14l-7 12l-7 10l-9 10l-10 9l-11 7l-11 6l-14 5l-30 8l-34 2l-34-3l-16-3l-14-5l-12-5l-12-7l-11-8l-9-8l-9-10l-7-11l-6-11l-6-14l-7-30l-2-18v-18l1-18l3-18l4-16l5-14l6-14l8-12l9-10l10-10l12-8l13-7l14-6l16-4l16-3z"/>
<path fill="#fac02e" d="M720 102l28-1l28 4l26 8l22 11l17 14l14 18l12 22l7 24l3 30l-1 32l-6 29l-5 13l-6 12l-14 20l-9 9l-10 8l-12 7l-12 6l-26 7l-30 4l-32-1l-28-6l-14-5l-12-6l-20-14l-9-9l-8-10l-7-11l-6-13l-8-26l-2-16l-2-18l1-18l2-16l3-16l5-14l6-14l7-12l8-11l9-9l11-8l12-8l12-5l14-5l16-4zM236 586h30l28 4l25 8l21 12l18 15l14 19l10 22l6 24l3 30l-2 32l-3 16l-4 14l-11 24l-7 10l-9 10l-9 8l-10 8l-11 6l-13 5l-26 7l-30 3l-32-2l-16-3l-14-4l-24-11l-10-7l-10-8l-9-10l-7-10l-7-12l-5-12l-7-26l-3-32l1-18l2-16l4-16l4-14l7-14l7-12l9-11l10-9l10-8l12-7l26-9l16-4z"/>
<path fill="#fab92d" d="M721 110l27-1l26 4l24 7l22 12l16 14l14 18l10 21l7 23l2 28l-1 30l-7 26l-5 12l-6 12l-14 18l-8 8l-11 8l-21 11l-26 7l-28 3l-30-2l-26-6l-12-5l-12-6l-18-14l-8-8l-8-11l-11-21l-8-26l-2-30l2-30l3-14l4-14l6-13l7-11l7-10l10-10l10-8l10-6l13-6l13-5zM237 594h27l26 4l24 7l20 12l18 15l13 18l10 22l6 24l2 30l-2 28l-7 26l-11 22l-15 19l-10 8l-10 7l-22 10l-26 7l-30 2l-28-2l-26-7l-12-5l-11-7l-19-15l-14-19l-11-22l-6-26l-3-30l3-30l4-14l5-14l12-22l8-10l8-8l11-8l11-7l12-5l14-5z"/>
<path fill="#fab22d" d="M726 118h26l24 4l22 8l20 12l16 16l12 18l9 20l5 24l1 26l-3 26l-8 24l-12 22l-15 16l-19 13l-22 9l-24 5l-26 2l-26-4l-24-7l-21-12l-17-15l-13-19l-10-22l-5-24l-1-28l4-26l8-24l6-12l7-10l16-16l20-13l24-9zM243 602l27 1l24 5l22 8l18 12l16 16l11 18l9 22l4 24l1 26l-4 26l-9 24l-12 20l-15 16l-19 12l-22 9l-26 5l-26 1l-26-4l-24-9l-20-12l-16-15l-13-19l-8-22l-5-26l-1-28l5-26l9-24l13-20l17-16l20-12l23-8z"/>
<path fill="#f9aa2d" d="M717 128l23-2l24 3l20 5l19 10l16 12l13 15l10 17l6 20l4 24l-1 24l-5 24l-8 20l-13 18l-15 14l-18 11l-22 7l-24 4l-24-1l-24-5l-20-9l-18-12l-14-15l-11-18l-7-22l-4-24l1-26l6-24l10-22l14-18l17-14l21-10zM233 612l23-1l22 2l22 6l18 10l16 12l12 15l10 18l7 22l3 24l-1 24l-6 22l-9 21l-13 17l-15 13l-19 11l-21 7l-24 3l-24-1l-22-5l-22-9l-18-13l-14-16l-10-18l-7-22l-3-26l2-26l6-24l10-20l14-17l18-14l20-9z"/>
<path fill="#f8a22e" d="M735 136l21 1l20 5l18 8l16 12l13 14l10 18l7 20l3 22l-2 22l-4 20l-9 19l-12 16l-15 13l-17 9l-20 7l-22 2l-22-1l-20-5l-18-8l-17-12l-13-15l-9-17l-7-20l-3-22l2-22l5-20l8-18l12-17l14-12l18-10l20-6zM231 622l21-2l20 2l20 5l18 9l14 10l13 14l9 16l7 18l3 22v22l-4 20l-8 20l-11 16l-15 14l-17 10l-19 7l-22 3h-22l-20-4l-20-8l-17-12l-13-14l-10-16l-7-20l-3-22v-24l6-22l8-18l12-16l16-14l19-10z"/>
<path fill="#f79a2e" d="M719 148l19-2l18 2l18 5l16 7l14 11l11 13l9 15l6 17l2 18l-1 20l-4 18l-8 18l-10 14l-13 12l-16 9l-18 6l-18 3l-20-1l-18-4l-18-8l-14-10l-12-13l-9-16l-7-18l-2-20l1-20l5-20l8-16l11-14l14-12l17-9zM234 632l18-2l18 2l18 5l16 8l14 10l11 13l9 16l5 16l3 18l-1 20l-4 18l-8 18l-10 14l-13 12l-16 9l-18 7l-18 2l-20-1l-18-4l-18-8l-14-9l-12-14l-10-16l-6-18l-2-20l1-20l5-20l8-16l12-15l14-11l16-9z"/>
<path fill="#f68f2e" d="M730 158h18l16 3l14 6l14 9l10 10l9 14l6 14l3 16l1 16l-3 17l-6 15l-8 14l-12 12l-12 8l-16 7l-16 3h-18l-16-3l-15-5l-13-8l-12-12l-8-12l-7-16l-3-16v-18l2-16l6-14l9-14l11-12l14-9l16-6zM246 642h16l16 4l15 6l13 8l11 12l9 14l5 14l3 16v18l-3 16l-6 14l-9 14l-10 10l-14 9l-16 7l-16 3l-18-1l-16-3l-14-5l-14-10l-10-10l-10-14l-6-16l-3-16l1-18l3-16l7-16l8-12l12-11l14-9l16-6z"/>
<path fill="#f5832d" d="M724 172l14-1l14 1l12 3l12 6l11 9l9 10l6 12l4 12l2 14l-1 14l-4 14l-6 12l-9 12l-10 8l-12 6l-12 4l-14 2l-14-1l-14-4l-12-6l-12-9l-8-10l-6-11l-4-13l-2-14l1-14l4-14l6-12l9-11l10-8l12-7zM239 656l13-1l14 1l13 4l12 6l10 8l8 10l7 12l4 13l2 13l-1 14l-4 14l-6 12l-9 12l-10 8l-12 6l-12 4l-14 2l-14-1l-14-4l-12-6l-12-9l-8-10l-6-12l-4-12l-2-14l2-16l4-14l6-11l9-11l10-8l13-6z"/>
<path fill="#f4772d" d="M725 188l11-1h10l10 2l10 5l8 6l7 8l5 8l4 10l2 10l-1 12l-2 10l-5 10l-6 9l-8 7l-8 4l-10 4l-10 2l-12-1l-10-2l-10-5l-8-6l-8-8l-4-8l-4-10l-2-10l1-12l2-10l5-10l6-8l8-7l8-5zM240 672l10-1h10l10 3l10 4l8 6l7 8l5 8l4 10l2 12l-1 10l-2 10l-5 10l-6 9l-8 7l-8 5l-10 3l-10 2l-12-1l-10-2l-10-4l-9-7l-7-8l-5-8l-3-10l-2-10l1-12l2-10l5-10l6-8l8-7l10-6z"/>
<path fill="#f26f2c" d="M731 210h13l10 4l9 8l5 10l1 12l-4 12l-9 9l-10 5l-12 1l-12-4l-9-9l-5-10l-1-12l5-12l8-9zM246 694h12l12 5l8 9l4 10v12l-4 11l-9 9l-11 5h-12l-11-5l-9-9l-5-11l1-12l4-11l8-8l6-3z"/>
<path fill="#9fd9a1" d="M578 -8h321l-61 2l-100 1l-100-1zM148 2l160-1l104 3l26 3l18 3l12 6l8 8l6 10l3 14l3 20l2 26l2 102l-1 140l-2 58l-3 36l-3 12l-4 10l-5 7l-5 5l-11 5l-14 4l-20 2l-28 2l-104 2l-138-1l-58-2l-36-3l-12-3l-8-3l-7-5l-6-6l-6-14l-4-22l-3-34l-1-54l-1-112l1-98l3-52l4-30l5-12l6-8l8-6l10-4l15-3l20-2zM645 486h161l58 1l40 2l24 2l16 4l12 6l8 9l6 16v397l-6 15l-4 6l-6 5l-12 5l-14 3l-48 4l-106 2h-138l-56-2l-34-4l-12-3l-8-3l-8-5l-5-6l-6-14l-4-24l-3-36l-1-58l-1-114l1-94l3-50l5-28l5-12l6-7l8-5l12-4l16-3l22-3zM-8 512l3 6l4 12l4 36l2 60l1 98l-1 98l-2 60l-4 36l-3 11l-4 9zM173 970h187l52 2l32 4h-384l40-4z"/>
<path fill="#9bd9a7" d="M194 8l62-1l62 1l46 2l36 4l24 5l18 7l14 10l10 13l6 13l5 20l4 24l2 32l3 98l-3 102l-4 48l-3 18l-4 14l-5 12l-7 10l-8 8l-8 6l-16 6l-18 5l-24 3l-30 2l-98 3l-102-2l-50-5l-18-3l-14-3l-12-5l-10-7l-8-7l-6-9l-5-10l-4-12l-5-30l-4-44l-2-60l1-80l2-64l4-42l4-16l4-14l6-14l9-11l12-8l14-6l20-5l26-4zM689 492h63l60 1l44 2l34 4l23 5l17 7l12 9l11 14l6 14l4 20l4 24l2 32v200l-4 46l-3 18l-4 14l-5 12l-6 10l-8 8l-9 6l-15 6l-19 5l-24 3l-32 3l-100 2l-100-2l-48-4l-18-4l-14-3l-12-5l-10-6l-8-8l-6-9l-5-10l-3-12l-6-32l-4-46l-2-62l1-80l2-62l5-42l4-16l4-12l7-14l9-10l12-8l16-6l20-5l28-3zM-8 574l3 24l3 34l2 92l-2 92l-3 34l-3 26z"/>
<path fill="#98d8ad" d="M213 14h55l52 1l42 3l32 6l24 7l18 9l13 12l10 16l7 17l5 21l4 26l2 32l2 42v48l-1 44l-2 38l-6 44l-4 16l-6 14l-6 12l-8 10l-10 8l-10 6l-16 7l-22 5l-26 4l-32 3l-42 1l-48 1l-46-1l-38-3l-44-6l-18-4l-14-6l-12-7l-10-8l-8-10l-6-10l-5-12l-4-14l-5-34l-4-46l-2-58l1-62l4-50l5-36l4-15l5-13l9-16l10-11l14-10l16-7l22-5l26-4l34-3zM708 498h56l50 2l40 3l30 6l23 7l17 10l13 12l9 15l6 17l5 22l4 26l3 34l1 42v48l-1 44l-2 38l-7 42l-4 16l-5 14l-6 10l-8 10l-10 9l-12 6l-16 6l-22 6l-26 3l-34 3l-44 2h-48l-44-1l-38-3l-42-6l-16-4l-14-6l-12-6l-10-9l-8-10l-6-11l-8-25l-7-36l-3-48l-2-60l2-60l3-50l6-36l9-26l8-14l11-12l13-9l18-7l22-5l28-5l36-2zM-8 664l1 60l-1 63z"/>
<path fill="#94d8b3" d="M227 20h51l46 2l36 4l30 7l22 8l18 11l13 14l11 19l7 19l4 22l4 28l3 32l1 40v40l-2 38l-3 33l-4 23l-4 18l-5 16l-6 12l-9 12l-8 9l-10 7l-14 7l-19 7l-23 5l-28 4l-32 2l-40 2l-42-1l-38-2l-32-3l-22-3l-18-4l-16-6l-13-6l-11-8l-10-9l-8-11l-6-12l-9-28l-6-34l-3-46l-1-52l1-52l4-42l6-34l9-26l10-16l11-12l14-10l18-8l22-6l28-5l34-3zM724 504l50 1l44 2l36 5l28 7l22 9l16 12l12 14l10 20l6 20l5 24l3 28l2 34l1 40v40l-2 36l-4 32l-3 20l-5 18l-6 16l-7 12l-8 11l-10 9l-10 7l-14 6l-20 6l-24 5l-28 4l-34 2l-40 1l-42-1l-36-2l-32-3l-20-4l-18-4l-16-6l-12-7l-11-8l-9-10l-7-10l-6-14l-9-28l-5-38l-4-48v-54l2-50l4-40l7-32l9-24l11-16l12-11l16-10l18-7l24-6l28-4l36-3z"/>
<path fill="#91d7b9" d="M244 26l46 1l42 3l34 6l26 8l21 10l16 14l13 17l9 21l6 22l5 24l3 30l2 32v36l-1 36l-3 32l-4 26l-5 20l-5 16l-6 14l-8 12l-9 10l-10 8l-13 8l-15 6l-20 6l-26 5l-29 3l-33 2h-38l-36-1l-32-3l-28-4l-20-5l-16-5l-14-7l-11-7l-11-10l-8-10l-8-14l-5-14l-8-30l-5-36l-3-46v-48l3-42l5-36l7-28l9-22l11-15l13-13l17-10l18-7l24-6l28-5l34-3zM684 512l48-2l48 1l42 4l34 6l26 8l20 11l16 15l12 18l7 17l6 20l4 24l4 30l2 34v36l-1 36l-3 32l-3 22l-4 20l-6 18l-6 14l-7 12l-9 10l-11 10l-13 8l-18 7l-20 6l-24 4l-28 3l-34 2l-38 1l-36-2l-32-2l-22-4l-20-4l-17-5l-15-6l-12-8l-12-10l-8-10l-8-12l-9-24l-7-30l-5-38l-2-44l1-48l3-44l5-34l8-28l9-18l10-14l13-12l14-9l18-7l22-6l26-5z"/>
<path fill="#8cd5bf" d="M204 34l46-2l46 2l40 4l32 7l24 9l20 13l15 15l12 20l7 18l6 20l4 24l3 28l1 32v34l-1 32l-3 28l-4 22l-5 18l-6 16l-7 14l-8 12l-10 10l-10 8l-14 8l-18 7l-22 6l-24 4l-28 3l-32 2h-34l-32-2l-30-3l-22-4l-18-5l-16-6l-14-7l-12-9l-10-10l-8-10l-8-14l-8-24l-7-30l-4-36l-2-42l1-42l4-38l6-32l8-26l8-16l10-14l13-12l15-10l18-8l22-6l26-5zM693 518l45-2l46 2l40 5l32 7l24 9l19 13l16 16l11 20l7 18l5 20l5 26l2 28l2 32l-1 34l-1 32l-4 28l-4 20l-4 18l-6 16l-8 14l-9 12l-10 10l-11 8l-13 7l-18 7l-22 6l-25 4l-29 3l-32 1h-34l-32-2l-28-3l-20-4l-19-5l-15-6l-14-7l-12-9l-10-10l-8-10l-8-14l-8-24l-7-30l-4-36l-2-42l1-42l4-38l6-32l8-26l8-16l10-14l13-12l16-10l19-8l22-6l26-5z"/>
<path fill="#87d3c5" d="M212 40l44-1l42 2l38 5l30 7l24 11l18 13l15 17l12 20l6 18l6 22l4 24l2 28l1 30v32l-3 28l-3 26l-5 20l-5 16l-6 14l-8 14l-10 12l-10 9l-12 8l-14 7l-18 7l-22 5l-24 4l-28 3l-30 1l-32-1l-28-2l-26-4l-20-4l-16-5l-14-6l-14-8l-12-10l-9-10l-9-12l-7-14l-8-24l-6-30l-4-34l-1-38l1-38l4-34l6-30l8-24l9-16l10-14l13-12l16-10l19-8l22-6l26-5zM701 524l45-1l42 2l36 5l30 8l24 11l18 14l15 17l11 21l6 19l6 22l3 24l3 28v30v30l-3 28l-4 26l-4 20l-6 16l-7 16l-7 12l-11 12l-10 9l-12 8l-14 6l-18 7l-22 5l-26 4l-28 2l-30 1l-30-1l-28-2l-26-4l-20-5l-16-5l-16-7l-12-8l-12-10l-9-10l-8-12l-7-14l-8-24l-6-30l-3-36l-1-38l1-38l4-34l7-28l8-23l9-17l12-14l13-12l16-9l18-7l22-7l26-4z"/>
<path fill="#82d1cb" d="M221 46l41-1l40 3l36 6l28 8l22 12l18 14l14 18l12 24l5 18l5 22l4 24l1 28l1 28l-2 28l-3 26l-4 22l-5 18l-6 15l-8 15l-8 12l-10 10l-10 8l-13 8l-15 7l-18 6l-22 4l-24 4l-28 2h-28l-28-1l-26-3l-24-4l-18-5l-16-7l-14-7l-12-8l-10-10l-10-12l-8-14l-6-14l-7-24l-6-30l-3-34v-34l2-34l5-30l6-26l9-22l10-16l10-12l14-12l16-9l18-8l22-6l26-4zM711 530l41-1l40 3l34 6l28 9l22 12l18 15l14 19l11 23l6 20l4 22l3 24l2 28v28l-2 26l-3 26l-4 22l-5 17l-6 15l-8 14l-8 12l-10 10l-12 10l-14 8l-14 6l-20 6l-22 4l-26 4l-26 1h-28l-28-1l-26-3l-22-5l-16-4l-16-6l-14-8l-12-8l-10-10l-10-12l-8-14l-6-14l-7-24l-6-30l-2-34l-1-34l2-34l5-30l6-26l9-22l10-16l12-14l14-11l16-9l20-8l22-5l24-4z"/>
<path fill="#7dcfd1" d="M232 52h40l38 4l32 7l26 10l22 13l16 16l13 20l10 26l5 20l4 22l2 24l1 26l-1 26l-2 24l-3 22l-6 20l-5 16l-7 14l-9 14l-9 10l-11 10l-12 8l-14 7l-16 5l-20 6l-24 4l-24 2l-26 1l-26-1l-24-2l-24-4l-20-6l-16-5l-14-7l-12-8l-11-10l-10-12l-8-12l-7-14l-6-16l-6-26l-4-28l-1-30v-32l3-30l5-26l7-22l9-20l11-16l11-12l15-11l16-8l20-8l21-5l25-4zM723 536h39l38 5l32 7l26 11l20 13l9 8l8 10l13 22l9 26l5 21l3 23l2 24v26l-1 26l-3 24l-4 22l-5 18l-7 16l-7 13l-8 12l-10 10l-11 9l-13 8l-16 7l-16 5l-20 5l-24 4l-26 2h-26l-26-1l-24-3l-22-4l-18-6l-16-6l-13-7l-13-9l-10-10l-9-11l-8-14l-6-14l-6-16l-6-26l-3-28l-1-32l1-32l3-28l5-26l8-22l8-18l10-14l12-12l14-11l18-9l20-7l22-5l26-4z"/>
<path fill="#78cdd7" d="M215 60l37-2l38 2l34 6l28 9l22 11l10 7l10 9l14 18l12 24l5 18l5 20l3 22l1 24v24l-1 24l-3 22l-5 20l-5 16l-6 15l-7 13l-9 12l-10 10l-10 8l-14 8l-14 7l-18 6l-20 4l-22 3l-22 2h-24l-24-1l-23-3l-21-4l-16-5l-16-7l-14-7l-12-9l-10-10l-10-12l-7-12l-6-14l-7-22l-5-26l-3-28l-1-28l2-30l4-26l6-24l7-20l9-16l11-14l12-11l14-10l16-8l20-7l22-5zM703 544l37-2l38 3l34 5l28 10l22 11l18 15l15 20l11 23l6 19l4 20l3 22l2 24v24l-2 24l-3 22l-5 20l-5 16l-6 14l-8 13l-8 11l-10 10l-12 9l-14 9l-14 6l-18 5l-20 5l-22 3l-24 1h-24l-24-1l-22-3l-22-5l-16-5l-16-8l-12-7l-12-9l-10-10l-8-11l-8-13l-6-14l-7-22l-5-26l-2-28l-1-30l2-28l4-26l7-24l8-20l8-15l11-13l13-12l14-10l16-7l20-7l22-5z"/>
<path fill="#70cada" d="M225 66l35-1l36 3l32 7l26 9l20 13l9 7l9 9l14 21l10 24l5 18l4 20l2 22l1 22l-1 22l-2 22l-4 20l-5 19l-6 15l-7 14l-9 12l-9 10l-11 10l-12 8l-13 6l-15 6l-20 5l-20 4l-22 2h-22h-22l-22-3l-20-4l-18-5l-14-5l-14-7l-12-9l-10-8l-10-12l-8-12l-7-14l-5-14l-6-22l-4-24l-2-26v-28l3-24l4-24l7-22l8-18l9-14l11-13l12-11l14-9l16-7l20-7l22-4zM713 550l37-1l34 3l32 7l26 11l20 12l10 9l8 9l13 20l10 26l5 18l4 22l2 22v22l-1 22l-3 22l-4 20l-5 16l-6 14l-7 14l-9 12l-9 10l-12 10l-12 7l-14 7l-16 5l-19 5l-21 3l-22 2l-22 1l-22-2l-22-2l-20-4l-18-6l-14-6l-14-8l-11-8l-11-10l-8-10l-8-13l-6-13l-6-16l-5-22l-4-26l-1-26l1-26l3-26l4-22l7-20l8-18l9-14l12-13l12-10l15-9l17-7l20-6l20-4z"/>
<path fill="#68c7dd" d="M239 72l35 1l34 4l29 9l13 6l12 7l19 15l8 10l7 10l12 25l8 29l3 20l2 20v22l-2 20l-2 20l-5 18l-5 16l-6 14l-7 12l-9 12l-10 10l-11 8l-12 8l-14 6l-16 5l-18 5l-20 3l-20 1h-22l-20-1l-20-3l-18-4l-16-5l-15-7l-13-8l-11-8l-10-10l-9-12l-7-12l-6-14l-6-16l-3-16l-4-22l-1-24v-24l3-22l4-22l5-18l7-16l10-16l10-13l12-11l12-8l16-8l16-6l20-5l20-3zM732 556l38 2l34 6l28 10l12 6l11 8l10 8l9 10l7 10l7 13l10 27l7 32l2 20v20l-1 20l-2 20l-4 19l-5 17l-6 14l-8 14l-8 12l-10 10l-11 9l-12 8l-14 6l-16 6l-18 5l-18 3l-20 1l-22 1l-20-1l-20-3l-18-4l-17-5l-15-6l-14-8l-11-8l-10-10l-9-11l-8-13l-6-14l-6-16l-7-34l-2-22v-22l2-22l3-22l4-18l7-18l8-16l9-14l10-11l12-9l14-9l15-7l17-6l20-4l20-3z"/>
<path fill="#60c4e0" d="M226 80l34-1l32 3l28 6l26 11l20 13l17 18l13 21l9 25l5 18l2 18l2 38l-2 20l-3 18l-3 16l-6 16l-6 14l-8 12l-8 10l-10 10l-10 8l-13 8l-14 6l-15 5l-18 4l-18 3l-20 1h-20l-20-1l-18-3l-16-4l-16-6l-12-6l-12-7l-10-8l-11-10l-9-12l-7-12l-6-14l-5-14l-4-20l-3-22l-1-22l1-22l3-22l4-19l6-17l8-17l9-13l11-12l11-10l13-8l16-8l16-5l18-4zM715 564l33-1l32 3l30 8l24 10l20 14l16 17l12 21l10 26l4 18l3 18l1 38l-2 20l-3 18l-4 16l-6 16l-6 14l-8 12l-9 11l-10 9l-11 8l-13 8l-14 6l-14 4l-18 4l-18 2l-20 2l-20-1l-20-1l-18-4l-17-4l-15-6l-13-6l-12-8l-10-8l-9-10l-9-12l-7-12l-6-14l-4-14l-5-20l-2-22l-1-22l1-22l3-20l5-20l6-18l8-16l9-13l10-11l12-10l14-9l16-7l16-5l18-4z"/>
<path fill="#58c1e3" d="M249 86l35 2l16 3l16 4l26 11l12 8l10 8l9 10l8 10l7 12l6 13l8 29l4 34l-1 36l-6 32l-5 15l-6 14l-8 13l-8 10l-10 10l-10 8l-12 7l-14 6l-14 5l-16 4l-34 4l-36-1l-32-6l-15-5l-13-6l-14-8l-10-8l-10-10l-8-10l-7-12l-7-14l-5-14l-4-16l-4-34l2-36l2-18l4-16l5-14l7-14l7-12l10-12l10-9l12-9l12-7l14-6l16-5l16-3zM709 572l31-2l30 2l28 6l26 10l20 13l17 17l13 20l10 24l4 16l3 18l2 36l-2 18l-2 18l-4 16l-5 14l-6 13l-7 11l-7 10l-10 10l-10 9l-12 7l-14 7l-14 5l-16 4l-18 3l-36 1l-18-1l-18-3l-16-4l-14-4l-14-7l-12-7l-10-8l-10-10l-8-10l-7-12l-11-26l-5-18l-3-20l-1-20l1-22l2-20l4-18l6-17l7-15l7-12l10-12l11-10l13-9l14-7l16-7l16-4z"/>
<path fill="#50bee6" d="M236 94h30l30 4l26 8l23 12l17 14l15 20l11 22l8 28l3 32l-2 34l-2 16l-5 16l-5 14l-6 12l-15 20l-10 9l-10 8l-12 7l-12 5l-14 5l-16 3l-32 4l-34-2l-16-3l-16-4l-14-5l-12-7l-12-7l-10-9l-8-9l-8-11l-7-12l-5-12l-8-28l-2-18l-1-18v-18l2-18l4-16l5-16l6-14l8-13l9-11l10-10l11-8l13-8l14-6l15-5l16-3zM725 578h31l30 5l26 9l22 13l18 16l14 20l10 23l7 28l2 34l-2 32l-4 16l-4 14l-6 14l-7 12l-7 10l-9 10l-10 9l-11 7l-11 6l-14 5l-30 8l-34 2l-32-3l-30-7l-14-6l-12-7l-11-8l-9-8l-9-10l-7-11l-6-11l-6-14l-7-30l-2-18v-18l1-18l3-18l4-16l5-15l7-13l7-12l9-10l11-10l11-8l13-7l14-6l16-4l16-3z"/>
<path fill="#49b8e6" d="M234 102l28-1l28 4l26 8l22 11l17 14l14 18l12 22l7 24l3 30l-1 32l-6 28l-5 14l-6 12l-14 20l-9 9l-10 8l-12 7l-12 6l-26 7l-30 4l-32-1l-28-6l-14-5l-12-6l-20-14l-9-9l-8-10l-7-11l-6-13l-8-26l-2-16l-2-18l1-18l2-16l3-16l5-14l6-14l7-12l8-11l9-9l11-9l12-7l12-5l14-5l16-4zM722 586h30l28 4l25 8l21 12l18 15l14 19l10 22l6 24l4 30l-2 32l-4 16l-4 14l-11 24l-7 10l-8 10l-10 9l-10 7l-11 6l-13 5l-26 7l-30 3l-32-2l-16-3l-14-4l-24-11l-10-7l-10-9l-9-9l-7-10l-6-12l-6-12l-7-26l-3-32l1-18l2-16l4-16l5-14l6-14l7-12l9-11l10-9l10-8l12-7l14-6l14-4z"/>
<path fill="#42b2e6" d="M235 110l27-1l26 4l24 7l20 11l16 13l15 18l11 22l6 24l3 28l-2 30l-6 26l-5 12l-6 12l-14 18l-8 8l-11 8l-21 11l-26 7l-28 3l-30-2l-26-6l-13-5l-11-6l-18-14l-16-19l-11-21l-8-26l-3-30l3-30l3-14l4-14l6-13l7-11l7-10l10-10l20-14l12-6l14-5zM723 594h27l26 4l24 7l20 11l18 16l13 18l10 22l6 24l3 30l-3 28l-7 26l-11 22l-15 19l-10 8l-10 7l-22 10l-26 7l-30 2l-28-2l-26-7l-12-6l-11-6l-19-15l-14-19l-11-22l-6-26l-2-30l3-30l3-14l5-14l12-22l8-10l8-8l11-8l11-7l12-5l14-5z"/>
<path fill="#3bace6" d="M240 118h26l24 4l22 8l20 12l16 16l12 18l8 20l6 24l1 26l-3 26l-8 24l-12 21l-15 17l-19 13l-22 9l-24 5l-26 2l-26-4l-24-7l-21-12l-17-15l-13-19l-10-22l-5-24l-1-28l4-26l8-24l6-12l7-10l16-16l20-13l24-9zM730 602l26 1l24 5l22 8l18 12l16 16l11 18l9 22l4 24l1 26l-4 26l-9 24l-12 20l-15 16l-19 12l-22 9l-26 5l-26 1l-26-4l-24-9l-20-12l-16-15l-12-19l-9-22l-5-26l-1-28l5-26l9-24l13-20l17-16l20-12l23-8z"/>
<path fill="#34a6e6" d="M231 128l23-2l22 3l21 5l19 9l16 12l13 15l10 18l7 20l4 24l-1 24l-5 24l-8 20l-13 18l-15 14l-18 10l-22 8l-24 4l-24-1l-24-5l-20-8l-18-13l-14-15l-11-18l-7-22l-4-24l1-26l6-24l10-22l14-18l17-14l21-10zM719 612l23-1l22 2l22 6l18 10l16 12l13 15l9 18l7 22l3 24l-1 24l-5 22l-10 21l-12 17l-16 14l-19 10l-21 7l-24 3l-24-1l-24-6l-20-8l-17-13l-15-16l-10-19l-7-21l-3-26l2-26l6-24l10-20l14-17l18-14l20-9z"/>
<path fill="#2da0e6" d="M249 136l21 1l20 5l18 8l16 12l13 14l10 18l7 20l2 22l-1 22l-5 20l-8 19l-12 16l-14 12l-18 10l-20 7l-22 2l-22-1l-20-5l-18-8l-17-12l-13-15l-10-17l-6-20l-3-22l2-22l5-20l8-19l12-16l14-12l18-10l20-6zM717 622l21-2l20 2l20 5l18 8l14 11l13 14l9 16l7 20l3 20v22l-4 20l-8 20l-11 16l-15 14l-17 10l-19 7l-22 3h-22l-20-4l-20-8l-17-12l-13-14l-10-17l-7-19l-3-22l1-24l5-22l9-20l13-16l16-13l18-9z"/>
<path fill="#309ae1" d="M233 148l19-2l18 2l18 5l16 7l14 11l11 13l9 16l5 16l3 18l-1 20l-4 18l-8 18l-10 14l-13 12l-16 9l-18 6l-18 3l-20-1l-18-4l-18-8l-14-10l-12-13l-10-16l-6-18l-2-20l1-20l5-20l8-16l11-14l14-12l17-9zM720 632l18-2l18 2l18 5l16 7l14 11l11 13l9 16l5 16l3 18l-1 20l-4 18l-7 18l-11 14l-13 12l-16 10l-18 6l-18 2l-20-1l-18-4l-18-8l-14-10l-12-13l-10-16l-6-18l-2-20l1-20l5-19l8-17l12-15l14-11l16-8z"/>
<path fill="#3495dd" d="M244 158h16l18 3l14 6l14 9l10 10l9 14l6 14l3 16v18l-2 16l-6 15l-8 13l-12 12l-12 8l-16 7l-16 3h-18l-16-2l-15-6l-13-8l-12-12l-8-12l-7-16l-3-16l-1-18l3-16l6-15l8-13l12-12l14-9l16-6zM732 642h16l16 4l15 6l13 8l11 12l9 14l6 14l3 16l-1 18l-3 16l-5 14l-10 14l-10 10l-14 9l-16 7l-16 3l-18-1l-16-3l-14-6l-14-9l-10-10l-9-14l-7-16l-3-16l1-18l3-16l7-16l8-12l12-11l14-9l16-5z"/>
<path fill="#378fd8" d="M238 172l14-1l14 1l12 3l12 6l11 9l9 10l6 12l4 12l2 14l-1 14l-4 14l-6 12l-9 11l-10 9l-12 6l-12 4l-14 2l-14-1l-14-4l-12-6l-12-9l-8-10l-6-12l-4-12l-2-14l1-14l4-14l6-12l9-11l10-9l12-6zM725 656l13-1l14 1l13 4l12 6l10 8l9 10l6 12l4 12l2 14l-1 14l-4 14l-6 12l-9 12l-10 8l-12 6l-12 4l-14 2l-14-1l-14-4l-12-6l-12-9l-8-10l-6-12l-4-12l-2-14l2-16l4-14l6-11l9-11l10-8l13-6z"/>
<path fill="#3b89d0" d="M239 188l11-1h10l10 3l10 4l8 6l7 8l5 8l4 10l2 10l-1 12l-2 10l-5 10l-6 8l-8 8l-8 4l-10 4l-10 2l-12-1l-10-2l-10-5l-9-6l-7-8l-5-8l-3-10l-2-10l1-12l2-10l5-10l6-8l8-7l8-5zM726 672l10-1h10l10 3l10 4l8 6l7 8l5 8l4 10l2 10l-1 12l-2 10l-5 10l-6 9l-8 7l-8 5l-10 3l-10 2l-12-1l-10-2l-10-5l-9-6l-7-8l-5-8l-3-10l-2-10l1-12l2-10l5-10l6-8l8-7l10-6z"/>
<path fill="#3f85ca" d="M245 210h13l10 4l9 8l5 11l1 11l-4 12l-9 9l-10 5l-12 1l-12-4l-9-9l-5-10l-1-12l4-12l9-9zM732 694h12l12 5l8 8l4 11v12l-4 11l-9 9l-11 5h-12l-11-5l-9-9l-4-11v-12l4-10l8-9l6-3z"/>
</g></g><path fill-rule="evenodd" fill="#231f20" d="M17 912H511V1408.3H17ZM24 918.7H505.3V1402.9H24Z"/><circle cx="80" cy="975.5" r="47.4" fill="#fff"/><text x="52" y="990" font-size="70" font-style="italic">h</text><text x="88" y="1009.7" font-size="54">1</text>
<clipPath id="c2"><rect x="0" y="0" width="962.8" height="970"/></clipPath>
<g transform="translate(520.6,917) scale(0.5)"><g clip-path="url(#c2)" stroke="#16221c" stroke-width="2.4" stroke-opacity="0.88" stroke-linejoin="round">
<rect x="-8" y="-8" width="978" height="986" fill="#a5de9e" stroke="none"/>
<path fill="#b2e188" d="M654 90l26-2h98l24 2l20 4l15 6l9 6l12 12l6 10l4 10l4 15l2 14l1 19l-1 118l-4 23l-6 16l-8 13l-14 12l-11 6l-12 4l-24 4h-133l-25-4l-17-6l-12-8l-10-10l-8-14l-4-11l-4-21l-1-14v-110l1-21l2-12l4-15l4-9l6-9l9-10l8-6l13-6l14-4zM170 574l26-2h98l24 2l20 4l15 6l9 6l12 12l6 10l4 10l4 15l2 14l1 19l-1 118l-4 23l-6 16l-8 13l-14 12l-11 6l-12 4l-24 4h-133l-25-4l-17-6l-12-8l-10-10l-8-14l-4-11l-4-21l-1-14v-110l1-21l2-12l4-15l4-9l6-9l9-10l8-6l13-6l14-4z"/>
<path fill="#b8e280" d="M685 106h83l34 3l16 5l11 6l10 8l7 10l4 9l4 13l3 24l1 74l-2 38l-4 22l-6 15l-10 13l-11 8l-9 4l-12 4l-24 3l-74 1l-38-2l-22-4l-15-6l-11-8l-10-12l-4-8l-4-14l-2-14l-2-22v-86l2-20l4-19l4-10l6-10l7-7l9-6l8-4l12-4l14-2zM201 590h83l34 3l16 5l11 6l10 8l7 10l4 9l4 13l3 24l1 74l-2 38l-4 22l-6 15l-10 13l-11 8l-9 4l-12 4l-24 3l-74 1l-38-2l-22-4l-15-6l-11-8l-10-12l-4-8l-4-14l-2-14l-2-22v-86l2-20l4-19l4-10l6-10l7-7l9-6l8-4l12-4l14-2z"/>
<path fill="#bee377" d="M690 126h72l26 2l14 4l12 6l8 7l6 9l6 16l3 24l1 64l-2 32l-4 18l-4 10l-8 10l-10 8l-17 6l-21 3h-64l-34-1l-18-4l-10-4l-11-8l-7-10l-4-8l-4-16l-2-26v-70l2-20l4-16l8-15l5-5l8-6l15-6l9-2zM206 610h72l26 2l14 4l12 6l8 7l6 9l6 16l3 24l1 64l-2 32l-4 18l-4 10l-8 10l-10 8l-17 6l-21 3h-64l-34-1l-18-4l-10-4l-11-8l-7-10l-4-8l-4-16l-2-26v-70l2-20l4-16l8-15l5-5l8-6l15-6l9-2z"/>
<path fill="#c2e471" d="M698 156h59l17 2l12 4l6 4l6 6l6 12l2 9l1 39l-1 46l-2 9l-4 9l-4 6l-8 6l-10 4l-8 2l-38 1l-46-1l-14-4l-7-4l-7-6l-6-12l-2-8l-2-20v-49l2-21l6-16l10-10l9-4l7-2zM214 640h59l17 2l12 4l6 4l6 6l6 12l2 9l1 39l-1 46l-2 9l-4 9l-4 6l-8 6l-10 4l-8 2l-38 1l-46-1l-14-4l-7-4l-7-6l-6-12l-2-8l-2-20v-49l2-21l6-16l10-10l9-4l7-2z"/>
<path fill="#9bdaac" d="M90 -6l2-2h304l30 28l28 28l52 57l12 15l14 20l10 18l8 17l6 17l4 20l2 24l-2 24l-4 19l-6 17l-8 18l-12 20l-22 30l-30 34l-35 36l-35 34l-34 30l-26 20l-23 14l-21 10l-18 6l-18 4l-18 1h-16l-14-1l-19-4l-17-6l-18-8l-20-12l-17-12l-43-36l-48-46l-46-50v-285l46-50zM572 -8h311l-43 36l-20 14l-18 10l-19 8l-21 6l-14 2l-20 2l-20-2l-15-2l-20-6l-19-8l-18-10l-18-12l-18-14zM970 82v307l-22-25l-14-18l-12-18l-10-18l-8-18l-6-19l-3-17l-1-20l1-20l3-18l6-19l8-18l12-21l12-18zM716 402h28l13 2l15 4l27 10l25 14l30 22l39 34l39 38l38 40v307l-52 54l-55 51h-270l-34-30l-35-34l-34-36l-28-32l-18-24l-12-20l-10-21l-8-24l-3-21l-1-22l2-22l4-18l8-21l12-23l16-24l16-20l36-40l36-37l36-33l38-32l24-16l28-14l24-8zM-8 556l24 26l18 22l14 20l10 18l10 22l6 20l3 16l1 20l-1 20l-3 16l-6 20l-10 22l-12 20l-14 20l-40 46zM232 886h22l20 2l22 6l23 10l21 12l20 14l22 18l33 30h-343l48-42l18-14l19-12l16-8l19-8l22-6z"/>
<path fill="#96d8b3" d="M110 -6l2-2h263l27 23l28 26l24 25l25 28l22 28l16 22l10 18l10 22l6 20l3 18v22l-3 20l-4 18l-8 20l-8 16l-13 20l-23 30l-26 30l-29 30l-30 29l-34 28l-30 22l-20 12l-24 10l-18 5l-16 3l-16 1l-16-1l-16-3l-18-5l-16-6l-16-8l-18-12l-22-16l-44-37l-25-24l-23-24l-38-45v-243l25-30l30-32l29-29zM592 -8h271l-41 31l-28 16l-16 6l-18 5l-16 3l-16 1l-16-1l-16-3l-18-5l-16-6l-28-16zM970 102v267l-29-39l-16-28l-7-18l-5-16l-2-14l-2-18l1-18l3-14l4-16l6-16l16-28l14-20zM713 418h27l28 5l26 9l26 15l38 28l40 35l37 36l35 40v267l-29 33l-31 32l-36 33l-34 27h-225l-31-25l-36-32l-34-35l-28-32l-21-28l-18-28l-11-22l-7-24l-3-22v-20l3-22l6-22l8-18l12-20l18-26l25-30l29-32l31-31l32-28l34-26l24-16l22-10l24-8zM-8 576v-2l7 8l24 32l12 18l10 18l8 18l6 20l2 16l1 16l-1 18l-3 18l-5 16l-8 18l-10 18l-12 18l-31 39zM229 902l19-1l20 2l22 6l18 7l18 9l22 14l24 18l25 21h-306l41-33l32-22l16-8l16-6l16-4z"/>
<path fill="#90d6ba" d="M129 -6l3-2h224l24 19l30 26l28 27l25 28l22 28l20 30l12 24l10 26l4 20l1 20l-2 20l-5 18l-8 20l-12 22l-14 22l-16 22l-22 26l-27 29l-28 26l-26 22l-28 20l-22 14l-22 10l-22 8l-16 3l-14 2l-16-1l-16-2l-18-6l-16-6l-16-8l-20-12l-40-30l-24-20l-20-19l-36-40l-21-26l-13-19v-199l15-22l16-20l31-34l36-35zM612 -8h232l-32 21l-32 16l-26 8l-26 3l-26-3l-26-8l-32-16zM969 122l1 228l-21-32l-14-28l-8-26l-3-14v-14v-14l3-14l8-26l14-28zM717 432l13-1l14 2l14 2l14 4l28 12l32 20l40 30l34 31l37 40l27 34v227l-33 41l-39 41l-42 36l-39 27h-179l-4-3l-34-24l-36-30l-33-33l-28-32l-24-32l-18-30l-12-26l-8-28l-1-20l1-20l4-18l8-22l12-22l16-26l18-24l22-26l25-26l26-25l24-20l30-22l26-16l22-10l24-8zM-8 594v-2l7 10l18 26l10 18l8 16l6 16l4 14l2 14l1 14l-1 14l-2 14l-4 14l-6 16l-16 30l-27 39zM233 916h15l16 1l16 4l18 6l18 8l20 12l24 16l19 15h-271l34-25l34-20l30-12z"/>
<path fill="#8ad3c2" d="M148 -6l4-2h184l28 19l30 24l29 27l26 28l24 32l18 28l14 28l8 24l4 20v18l-2 20l-4 18l-8 20l-10 20l-16 26l-16 22l-20 24l-23 24l-24 22l-26 21l-22 16l-24 14l-22 11l-22 7l-18 3l-16 1l-16-1l-18-3l-18-6l-18-8l-20-10l-18-12l-22-16l-20-16l-21-19l-19-20l-19-22l-16-20l-14-20l-13-23v-155l13-22l16-24l18-22l20-22l21-21l22-19l24-19zM630 -8h195l-27 15l-24 10l-22 6l-24 2l-24-2l-22-6l-24-10zM969 142l1-2v191l-15-27l-9-24l-6-20l-2-24l2-20l5-24l10-24zM724 446h16l14 3l28 8l32 15l34 23l32 25l35 34l32 38l23 33v189l-15 22l-20 26l-23 26l-24 24l-22 19l-28 21l-24 15l-22 11h-129l-25-13l-24-16l-28-21l-31-28l-26-28l-24-30l-18-26l-16-28l-10-26l-6-26l-1-22l3-20l6-22l8-20l14-26l16-24l20-26l18-20l23-23l24-21l24-19l28-18l22-12l24-10l18-5zM-8 610l19 30l13 28l7 26l2 26l-2 26l-8 26l-14 30l-17 27zM240 930h16l14 3l28 8l30 14l35 23h-238l31-21l28-14l16-6l14-4z"/>
<path fill="#85d1c9" d="M170 -6l4-2h140l34 19l28 20l26 22l23 23l22 26l20 28l16 26l12 28l6 22l3 20v18l-2 20l-5 18l-8 20l-12 24l-14 22l-16 22l-17 20l-22 22l-24 22l-22 17l-22 14l-22 12l-22 10l-22 6l-18 3h-18l-18-2l-20-4l-18-7l-20-10l-18-10l-24-16l-22-18l-20-18l-18-19l-19-22l-16-22l-14-22l-12-22l-7-18v-101l9-21l14-26l16-24l16-20l18-20l19-19l20-18l24-18l22-14zM651 -8h153l-20 9l-18 6l-20 4l-18 1l-20-1l-18-4l-18-6zM970 162v147l-9-21l-6-18l-3-16l-1-18l1-16l3-18l6-20zM710 460l16-1h16l18 4l16 4l16 6l20 10l34 22l22 17l18 15l34 35l13 16l16 22l12 20l9 17v146l-19 33l-22 30l-23 26l-24 24l-26 21l-28 20l-26 14l-24 10l-24 7h-52l-14-3l-16-6l-22-10l-22-12l-26-18l-22-18l-23-21l-20-22l-20-24l-16-24l-14-24l-10-24l-6-20l-4-22v-18l2-18l6-22l8-20l10-20l14-22l16-22l18-22l21-22l22-19l22-18l20-13l22-13l22-10l22-8zM-8 628l13 24l8 22l6 24l2 22l-2 22l-6 24l-10 24l-11 21zM226 944l14-1h14l14 2l16 4l14 4l18 8l30 17h-205l23-13l22-10l22-8z"/>
<path fill="#80cfce" d="M196 -6l7-2h82l21 7l20 10l22 12l20 14l22 18l22 21l19 20l20 26l16 26l12 24l8 22l5 22l1 18v18l-4 20l-6 20l-8 20l-12 22l-16 24l-15 20l-18 20l-20 19l-22 18l-22 16l-20 12l-22 10l-22 8l-20 4l-20 2l-18-1l-20-3l-20-7l-22-9l-22-12l-20-14l-24-19l-20-18l-19-20l-18-22l-16-24l-12-22l-10-22l-6-20l-4-18l-1-16l1-18l4-20l4-16l8-18l10-20l12-20l14-20l15-18l19-20l19-17l20-16l20-14l20-12l18-8zM676 -8h103l-25 7l-26 2l-26-2zM969 190l1 93l-6-23l-2-24l2-24zM704 472l18-2l20 1l16 2l20 6l16 6l20 10l20 12l20 14l20 16l18 17l19 20l16 20l14 20l12 20l10 20l7 20v92l-7 18l-11 24l-15 24l-17 22l-19 22l-23 23l-22 18l-26 18l-24 14l-24 10l-22 7l-24 3h-20l-20-3l-18-5l-20-8l-22-12l-20-12l-22-16l-20-17l-22-22l-17-20l-16-22l-14-22l-10-20l-8-20l-6-22l-2-18v-20l2-18l4-18l8-20l10-20l10-18l14-20l17-22l19-20l21-19l20-16l20-14l20-12l22-10l18-6zM-8 648l7 18l6 18l3 20l1 16l-1 16l-3 18l-6 20l-7 17zM220 956l26-2l26 3l28 8l29 13h-170l15-8l18-7z"/>
<path fill="#7bcdd0" d="M243 -4l17 1l18 3l21 6l23 10l22 12l24 16l20 16l16 15l18 20l18 23l12 18l12 22l8 19l6 19l4 20l1 20l-1 20l-4 20l-6 18l-10 23l-12 21l-12 18l-14 18l-20 22l-22 20l-18 14l-18 12l-21 12l-23 10l-19 6l-20 4l-19 1l-19-1l-21-4l-18-6l-23-10l-21-12l-18-12l-21-16l-19-18l-20-21l-16-21l-12-18l-12-22l-8-19l-6-19l-4-18l-2-22l2-22l4-20l6-18l8-19l12-21l14-21l16-21l17-18l19-18l20-16l21-14l22-12l18-8l19-6l18-4zM727 480l17 1l18 3l21 6l23 10l22 12l24 16l20 16l16 15l18 20l18 23l12 18l12 22l8 19l6 19l4 20l1 20l-1 20l-4 20l-6 18l-10 23l-12 21l-12 18l-14 18l-20 22l-22 20l-18 14l-18 12l-21 12l-23 10l-19 6l-20 4l-19 1l-19-1l-21-4l-18-6l-23-10l-21-12l-18-12l-21-16l-19-18l-20-21l-16-21l-12-18l-12-22l-8-19l-6-19l-4-18l-2-22l2-22l4-20l6-18l8-19l12-21l14-21l16-21l17-18l19-18l20-16l21-14l22-12l18-8l19-6l18-4zM-8 674l6 24l1 22l-1 20l-6 27zM243 964l17 1l18 3l31 10h-131l17-6l15-4l16-3z"/>
<path fill="#77cad1" d="M228 8l18-1l22 2l18 4l20 6l22 10l18 10l20 14l20 16l20 19l15 18l12 16l12 20l10 20l8 20l6 22l3 18v16l-1 20l-4 18l-8 24l-10 22l-10 18l-14 20l-18 22l-17 17l-20 17l-16 11l-20 12l-20 10l-22 8l-18 4l-18 3h-24l-18-3l-18-4l-22-8l-20-10l-20-12l-22-16l-14-12l-17-17l-14-16l-14-20l-13-20l-9-20l-8-22l-6-24l-2-16v-16l2-18l4-18l8-22l8-18l10-18l12-18l18-22l21-22l16-14l16-11l22-14l16-8l20-8l20-6zM712 492l18-1l22 2l18 4l20 6l22 10l18 10l20 14l20 16l20 19l15 18l12 16l12 20l10 20l8 20l6 22l3 18v16l-1 20l-4 18l-8 24l-10 22l-10 18l-14 20l-18 22l-17 17l-20 17l-16 11l-20 12l-20 10l-22 8l-18 4l-18 3h-24l-18-3l-18-4l-22-8l-20-10l-20-12l-22-16l-14-12l-17-17l-14-16l-14-20l-13-20l-9-20l-8-22l-6-24l-2-16v-16l2-18l4-18l8-22l8-18l10-18l12-18l18-22l21-22l16-14l16-11l22-14l16-8l20-8l20-6zM228 976l22-1l24 3h-60z"/>
<path fill="#72c8d3" d="M238 14l20 1l18 2l20 5l20 8l20 10l18 11l18 13l19 16l17 18l14 18l12 18l11 20l9 20l6 20l4 20l1 18v18l-3 20l-6 20l-7 20l-11 20l-11 18l-13 18l-16 18l-18 17l-18 14l-18 12l-20 11l-20 8l-20 6l-20 4l-18 1h-18l-20-4l-20-5l-20-8l-20-11l-18-11l-18-13l-18-17l-15-16l-14-18l-12-18l-11-20l-9-20l-6-20l-4-20l-1-18l1-18l3-20l5-18l8-20l10-20l11-18l13-18l16-18l17-16l18-15l18-12l20-11l20-8l18-6l20-4zM722 498l20 1l18 2l20 5l20 8l20 10l18 11l18 13l19 16l17 18l14 18l12 18l11 20l9 20l6 20l4 20l1 18v18l-3 20l-6 20l-7 20l-11 20l-11 18l-13 18l-16 18l-18 17l-18 14l-18 12l-20 11l-20 8l-20 6l-20 4l-18 1h-18l-20-4l-20-5l-20-8l-20-11l-18-11l-18-13l-18-17l-15-16l-14-18l-12-18l-11-20l-9-20l-6-20l-4-20l-1-18l1-18l3-20l5-18l8-20l10-20l11-18l13-18l16-18l17-16l18-15l18-12l20-11l20-8l18-6l20-4z"/>
<path fill="#6ec6d5" d="M222 22l18-1h20l20 4l20 5l20 8l20 10l18 12l18 13l16 15l16 18l14 18l11 18l10 20l7 20l5 20l3 20l1 18l-2 20l-4 18l-6 20l-8 20l-10 18l-12 18l-15 18l-15 16l-17 15l-18 13l-18 10l-18 9l-20 7l-20 6l-18 2l-18 1l-20-2l-18-4l-20-6l-20-8l-18-10l-18-12l-18-14l-16-16l-15-17l-13-18l-11-18l-9-18l-7-20l-5-20l-3-18v-18l1-18l3-18l6-20l9-20l9-18l12-18l12-16l15-16l16-15l16-12l18-12l18-9l20-9l20-6zM706 506l18-1h20l20 4l20 5l20 8l20 10l18 12l18 13l16 15l16 18l14 18l11 18l10 20l7 20l5 20l3 20l1 18l-2 20l-4 18l-6 20l-8 20l-10 18l-12 18l-15 18l-15 16l-17 15l-18 13l-18 10l-18 9l-20 7l-20 6l-18 2l-18 1l-20-2l-18-4l-20-6l-20-8l-18-10l-18-12l-18-14l-16-16l-15-17l-13-18l-11-18l-9-18l-7-20l-5-20l-3-18v-18l1-18l3-18l6-20l9-20l9-18l12-18l12-16l15-16l16-15l16-12l18-12l18-9l20-9l20-6z"/>
<path fill="#69c3d6" d="M227 28l19-1l20 2l20 3l18 6l20 8l18 9l18 12l16 13l15 14l14 16l13 18l11 18l8 18l7 20l5 20l3 20v18l-2 20l-3 18l-7 20l-8 18l-9 18l-12 18l-13 16l-14 14l-16 14l-18 13l-18 10l-18 9l-20 7l-20 4l-18 3h-20l-18-2l-18-4l-20-6l-18-7l-18-10l-18-12l-16-13l-14-14l-14-16l-13-18l-11-18l-8-18l-7-20l-5-18l-2-20l-1-18l2-18l4-20l5-18l8-18l9-18l12-18l13-16l14-15l16-14l16-12l18-11l18-9l20-7l18-5zM711 512l19-1l20 2l20 3l18 6l20 8l18 9l18 12l16 13l15 14l14 16l13 18l11 18l8 18l7 20l5 20l3 20v18l-2 20l-3 18l-7 20l-8 18l-9 18l-12 18l-13 16l-14 14l-16 14l-18 13l-18 10l-18 9l-20 7l-20 4l-18 3h-20l-18-2l-18-4l-20-6l-18-7l-18-10l-18-12l-16-13l-14-14l-14-16l-13-18l-11-18l-8-18l-7-20l-5-18l-2-20l-1-18l2-18l4-20l5-18l8-18l9-18l12-18l13-16l14-15l16-14l16-12l18-11l18-9l20-7l18-5z"/>
<path fill="#65c1d8" d="M233 34h19l18 2l20 4l18 5l18 8l18 10l18 12l16 13l14 14l13 16l11 16l10 18l8 18l6 20l4 18l2 20l-1 20l-2 18l-4 18l-6 18l-8 18l-10 18l-11 16l-13 16l-15 15l-16 13l-16 10l-18 10l-18 8l-18 5l-18 4l-20 2h-20l-18-2l-18-4l-18-6l-18-8l-18-10l-16-10l-16-14l-15-15l-13-16l-11-16l-10-18l-7-18l-6-18l-4-18l-2-20v-20l2-18l4-18l6-18l8-18l10-18l11-16l13-16l14-14l16-13l16-11l18-10l18-8l18-6l18-4zM717 518h19l18 2l20 4l18 5l18 8l18 10l18 12l16 13l14 14l13 16l11 16l10 18l8 18l6 20l4 18l2 20l-1 20l-2 18l-4 18l-6 18l-8 18l-10 18l-11 16l-13 16l-15 15l-16 13l-16 10l-18 10l-18 8l-18 5l-18 4l-20 2h-20l-18-2l-18-4l-18-6l-18-8l-18-10l-16-10l-16-14l-15-15l-13-16l-11-16l-10-18l-7-18l-6-18l-4-18l-2-20v-20l2-18l4-18l6-18l8-18l10-18l11-16l13-16l14-14l16-13l16-11l18-10l18-8l18-6l18-4z"/>
<path fill="#60bfda" d="M218 42l18-2h18l20 3l18 3l18 6l18 8l18 10l16 11l15 13l13 14l13 16l10 16l9 18l7 18l6 18l3 18l1 18v20l-3 18l-4 18l-6 18l-8 18l-9 16l-11 16l-12 14l-14 14l-16 12l-16 11l-18 9l-18 7l-18 5l-18 3l-18 2h-20l-18-3l-18-4l-18-6l-18-8l-16-9l-16-11l-14-12l-14-14l-13-16l-10-16l-9-16l-7-18l-5-18l-4-20l-2-18l1-20l2-18l4-18l6-18l8-18l9-16l11-16l12-14l14-14l15-12l16-11l16-8l18-8l18-5zM702 526l18-2h18l20 3l18 3l18 6l18 8l18 10l16 11l15 13l13 14l13 16l10 16l9 18l7 18l6 18l3 18l1 18v20l-3 18l-4 18l-6 18l-8 18l-9 16l-11 16l-12 14l-14 14l-16 12l-16 11l-18 9l-18 7l-18 5l-18 3l-18 2h-20l-18-3l-18-4l-18-6l-18-8l-16-9l-16-11l-14-12l-14-14l-13-16l-10-16l-9-16l-7-18l-5-18l-4-20l-2-18l1-20l2-18l4-18l6-18l8-18l9-16l11-16l12-14l14-14l15-12l16-11l16-8l18-8l18-5z"/>
<path fill="#5cbcdb" d="M219 48l19-2l18 1l20 2l16 4l18 5l16 7l16 9l16 11l14 11l13 14l11 13l11 17l8 16l8 18l5 18l3 18l2 18v20l-2 18l-4 18l-6 18l-7 16l-9 16l-11 17l-12 14l-14 13l-14 11l-16 11l-16 8l-16 6l-18 6l-18 3l-18 2l-20-1l-18-2l-18-3l-18-6l-18-8l-17-9l-14-10l-14-12l-13-13l-12-15l-10-16l-8-16l-7-18l-6-18l-3-18l-1-18v-20l2-18l4-18l6-18l7-16l9-16l11-16l12-14l12-12l15-12l16-10l15-8l18-7l18-5zM703 532l19-2l18 1l20 2l16 4l18 5l16 7l16 9l16 11l14 11l13 14l11 13l11 17l8 16l8 18l5 18l3 18l2 18v20l-2 18l-4 18l-6 18l-7 16l-9 16l-11 17l-12 14l-14 13l-14 11l-16 11l-16 8l-16 6l-18 6l-18 3l-18 2l-20-1l-18-2l-18-3l-18-6l-18-8l-17-9l-14-10l-14-12l-13-13l-12-15l-10-16l-8-16l-7-18l-6-18l-3-18l-1-18v-20l2-18l4-18l6-18l7-16l9-16l11-16l12-14l12-12l15-12l16-10l15-8l18-7l18-5z"/>
<path fill="#57badd" d="M217 54l17-2h18l18 2l18 3l18 6l16 6l16 9l15 10l15 12l12 12l11 14l10 14l8 16l7 16l6 18l3 18l2 18v18l-2 18l-3 18l-6 18l-6 16l-9 16l-9 14l-11 14l-13 13l-14 11l-16 11l-16 9l-16 6l-18 6l-18 3l-18 2h-18l-18-2l-18-4l-18-5l-16-7l-16-9l-14-9l-14-12l-12-12l-12-14l-10-15l-8-16l-7-16l-5-18l-4-18l-2-18v-18l2-18l4-18l6-18l6-16l9-16l10-14l11-14l12-12l14-12l16-10l16-9l16-6l18-6zM701 538l17-2h18l18 2l18 3l18 6l16 6l16 9l15 10l15 12l12 12l11 14l10 14l8 16l7 16l6 18l3 18l2 18v18l-2 18l-3 18l-6 18l-6 16l-9 16l-9 14l-11 14l-13 13l-14 11l-16 11l-16 9l-16 6l-18 6l-18 3l-18 2h-18l-18-2l-18-4l-18-5l-16-7l-16-9l-14-9l-14-12l-12-12l-12-14l-10-15l-8-16l-7-16l-5-18l-4-18l-2-18v-18l2-18l4-18l6-18l6-16l9-16l10-14l11-14l12-12l14-12l16-10l16-9l16-6l18-6z"/>
<path fill="#53b7de" d="M232 58h18l18 1l18 4l16 4l16 7l16 8l14 9l13 11l13 12l12 14l9 14l9 16l7 16l5 16l3 16l2 18l1 18l-2 16l-3 18l-4 16l-7 16l-8 16l-9 14l-11 15l-12 12l-13 11l-14 10l-15 9l-16 7l-18 5l-16 4l-18 2l-18 1l-16-2l-18-3l-16-4l-16-7l-16-8l-14-8l-15-12l-12-12l-11-12l-10-14l-9-16l-7-16l-6-18l-4-16l-2-18v-18l1-18l4-18l4-16l7-16l8-16l9-14l11-14l12-12l14-12l14-10l15-8l17-7l16-5l16-4zM716 542h18l18 1l18 4l16 4l16 7l16 8l14 9l13 11l13 12l12 14l9 14l9 16l7 16l5 16l3 16l2 18l1 18l-2 16l-3 18l-4 16l-7 16l-8 16l-9 14l-11 15l-12 12l-13 11l-14 10l-15 9l-16 7l-18 5l-16 4l-18 2l-18 1l-16-2l-18-3l-16-4l-16-7l-16-8l-14-8l-15-12l-12-12l-11-12l-10-14l-9-16l-7-16l-6-18l-4-16l-2-18v-18l1-18l4-18l4-16l7-16l8-16l9-14l11-14l12-12l14-12l14-10l15-8l17-7l16-5l16-4z"/>
<path fill="#50b4de" d="M227 64l17-1l16 1l18 3l16 4l16 5l16 8l14 9l14 10l12 11l12 13l10 14l9 15l7 16l5 16l4 16l2 16l1 18l-1 16l-2 16l-4 16l-6 16l-8 16l-8 14l-11 14l-11 12l-13 12l-14 10l-14 8l-16 8l-16 5l-16 4l-16 2l-18 1l-16-1l-16-2l-16-4l-16-6l-16-8l-14-8l-14-10l-12-11l-12-14l-10-13l-9-15l-7-16l-6-16l-4-16l-2-16l-1-18l1-16l3-16l4-16l5-16l8-16l8-14l11-14l11-12l12-11l14-11l14-8l16-8l16-5l16-4zM711 548l17-1l16 1l18 3l16 4l16 5l16 8l14 9l14 10l12 11l12 13l10 14l9 15l7 16l5 16l4 16l2 16l1 18l-1 16l-2 16l-4 16l-6 16l-8 16l-8 14l-11 14l-11 12l-13 12l-14 10l-14 8l-16 8l-16 5l-16 4l-16 2l-18 1l-16-1l-16-2l-16-4l-16-6l-16-8l-14-8l-14-10l-12-11l-12-14l-10-13l-9-15l-7-16l-6-16l-4-16l-2-16l-1-18l1-16l3-16l4-16l5-16l8-16l8-14l11-14l11-12l12-11l14-11l14-8l16-8l16-5l16-4z"/>
<path fill="#4cb0de" d="M224 70l16-1h16l16 2l16 4l16 5l14 6l14 8l14 10l12 10l12 13l10 13l9 14l7 14l6 16l5 16l2 16l2 16l-1 16l-2 16l-3 16l-6 16l-6 14l-8 14l-10 14l-10 12l-12 12l-13 10l-14 9l-14 7l-16 6l-16 4l-16 3l-16 1h-16l-16-2l-16-3l-16-6l-14-6l-14-8l-14-9l-12-10l-12-13l-10-13l-9-14l-7-14l-7-16l-4-16l-3-16l-1-16v-16l2-16l4-16l5-16l6-14l8-14l10-15l10-11l12-12l14-11l14-9l14-7l16-6l16-4zM708 554l16-1h16l16 2l16 4l16 5l14 6l14 8l14 10l12 10l12 13l10 13l9 14l7 14l6 16l5 16l2 16l2 16l-1 16l-2 16l-3 16l-6 16l-6 14l-8 14l-10 14l-10 12l-12 12l-13 10l-14 9l-14 7l-16 6l-16 4l-16 3l-16 1h-16l-16-2l-16-3l-16-6l-14-6l-14-8l-14-9l-12-10l-12-13l-10-13l-9-14l-7-14l-7-16l-4-16l-3-16l-1-16v-16l2-16l4-16l5-16l6-14l8-14l10-15l10-11l12-12l14-11l14-9l14-7l16-6l16-4z"/>
<path fill="#49addd" d="M221 76l15-1h16l16 1l16 3l16 6l14 5l14 8l14 10l22 20l10 13l9 13l7 14l6 14l5 16l3 16l1 16v16l-2 16l-3 14l-5 16l-6 14l-8 14l-9 13l-10 12l-11 11l-12 10l-13 8l-14 8l-16 6l-14 4l-16 3l-16 2h-16l-16-2l-14-3l-16-5l-14-6l-14-8l-14-9l-12-10l-10-11l-10-12l-9-13l-7-14l-6-14l-5-16l-3-16l-1-16v-16l2-16l3-16l5-16l6-14l8-14l9-12l10-12l10-10l12-10l14-9l14-8l14-5l16-5zM705 560l15-1h16l16 1l16 3l16 6l14 5l14 8l14 10l22 20l10 13l9 13l7 14l6 14l5 16l3 16l1 16v16l-2 16l-3 14l-5 16l-6 14l-8 14l-9 13l-10 12l-11 11l-12 10l-13 8l-14 8l-16 6l-14 4l-16 3l-16 2h-16l-16-2l-14-3l-16-5l-14-6l-14-8l-14-9l-12-10l-10-11l-10-12l-9-13l-7-14l-6-14l-5-16l-3-16l-1-16v-16l2-16l3-16l5-16l6-14l8-14l9-12l10-12l10-10l12-10l14-9l14-8l14-5l16-5z"/>
<path fill="#45a9dd" d="M219 82l15-2h16l16 2l14 2l16 5l14 6l14 7l12 8l12 10l10 10l10 12l8 12l8 14l6 14l4 14l4 16l1 14v16l-1 16l-3 14l-5 16l-5 14l-8 14l-8 12l-10 12l-11 11l-12 10l-12 8l-14 7l-13 6l-29 7l-14 2h-16l-16-1l-14-3l-16-5l-14-5l-14-8l-12-8l-12-9l-12-12l-9-12l-8-12l-13-26l-4-14l-4-16l-1-14l-1-16l2-16l2-14l5-16l6-14l7-14l8-12l10-12l10-10l12-11l12-8l14-7l14-6l14-5zM703 566l15-2h16l16 2l14 2l16 5l14 6l14 7l12 8l12 10l10 10l10 12l8 12l8 14l6 14l4 14l4 16l1 14v16l-1 16l-3 14l-5 16l-5 14l-8 14l-8 12l-10 12l-11 11l-12 10l-12 8l-14 7l-13 6l-29 7l-14 2h-16l-16-1l-14-3l-16-5l-14-5l-14-8l-12-8l-12-9l-12-12l-9-12l-8-12l-13-26l-4-14l-4-16l-1-14l-1-16l2-16l2-14l5-16l6-14l7-14l8-12l10-12l10-10l12-11l12-8l14-7l14-6l14-5z"/>
<path fill="#42a6dd" d="M233 86h15l14 1l16 3l14 4l26 11l12 8l12 9l10 10l11 12l8 12l7 13l6 13l4 14l4 14l1 16l1 16l-2 14l-6 28l-12 26l-8 12l-9 12l-10 10l-11 10l-12 8l-14 8l-14 6l-14 5l-28 4h-16l-14-1l-28-6l-26-12l-12-7l-12-10l-10-9l-10-12l-9-12l-7-13l-6-13l-5-14l-3-14l-2-16v-16l1-14l7-28l11-26l8-12l9-12l21-20l11-8l14-8l14-6l14-5l14-3zM717 570h15l14 1l16 3l14 4l26 11l12 8l12 9l10 10l11 12l8 12l7 13l6 13l4 14l4 14l1 16l1 16l-2 14l-6 28l-12 26l-8 12l-9 12l-10 10l-11 10l-12 8l-14 8l-14 6l-14 5l-28 4h-16l-14-1l-28-6l-26-12l-12-7l-12-10l-10-9l-10-12l-9-12l-7-13l-6-13l-5-14l-3-14l-2-16v-16l1-14l7-28l11-26l8-12l9-12l21-20l11-8l14-8l14-6l14-5l14-3z"/>
<path fill="#3ea2dd" d="M229 92h27l14 2l14 3l26 10l12 7l12 9l20 19l9 12l7 12l11 26l4 14l2 14l1 28l-2 14l-4 14l-10 26l-7 12l-9 12l-10 12l-10 9l-12 9l-12 7l-26 11l-14 3l-14 2h-28l-14-2l-14-3l-26-11l-12-7l-12-9l-20-20l-15-23l-11-26l-4-14l-2-14v-28l2-14l4-14l10-26l7-12l9-12l20-20l12-9l12-7l26-11zM713 576h27l14 2l14 3l26 10l12 7l12 9l20 19l9 12l7 12l11 26l4 14l2 14l1 28l-2 14l-4 14l-10 26l-7 12l-9 12l-10 12l-10 9l-12 9l-12 7l-26 11l-14 3l-14 2h-28l-14-2l-14-3l-26-11l-12-7l-12-9l-20-20l-15-23l-11-26l-4-14l-2-14v-28l2-14l4-14l10-26l7-12l9-12l20-20l12-9l12-7l26-11z"/>
<path fill="#3b9fdc" d="M226 98l26-1l14 2l14 3l26 10l22 13l20 19l16 22l6 12l6 14l5 26l2 14l-1 14l-4 26l-10 26l-14 22l-18 19l-22 16l-12 7l-14 5l-26 6l-14 1h-14l-26-4l-26-10l-22-14l-20-18l-16-22l-6-12l-6-14l-6-26l-1-14v-14l5-26l9-26l15-23l18-20l22-15l24-11l14-5zM710 582l26-1l14 2l14 3l26 10l22 13l20 19l16 22l6 12l6 14l5 26l2 14l-1 14l-4 26l-10 26l-14 22l-18 19l-22 16l-12 7l-14 5l-26 6l-14 1h-14l-26-4l-26-10l-22-14l-20-18l-16-22l-6-12l-6-14l-6-26l-1-14v-14l5-26l9-26l15-23l18-20l22-15l24-11l14-5z"/>
<path fill="#379bdc" d="M223 104l27-1l26 3l24 9l22 13l20 18l15 20l12 24l7 26l1 26l-4 26l-9 24l-13 22l-17 20l-20 15l-24 12l-26 6l-26 2l-26-4l-24-8l-22-13l-20-18l-16-21l-11-23l-7-26l-1-26l3-26l9-24l13-23l17-19l21-16l24-11zM707 588l27-1l26 3l24 9l22 13l20 18l15 20l12 24l7 26l1 26l-4 26l-9 24l-13 22l-17 20l-20 15l-24 12l-26 6l-26 2l-26-4l-24-8l-22-13l-20-18l-16-21l-11-23l-7-26l-1-26l3-26l9-24l13-23l17-19l21-16l24-11z"/>
<path fill="#3498dc" d="M221 110l25-2l26 3l24 8l22 13l19 16l15 20l11 22l7 24l1 26l-3 24l-8 24l-12 21l-16 19l-20 15l-22 12l-24 6l-26 2l-24-3l-24-8l-22-12l-18-16l-16-20l-11-22l-7-24l-2-26l3-24l8-24l13-22l16-19l19-15l23-11zM705 594l25-2l26 3l24 8l22 13l19 16l15 20l11 22l7 24l1 26l-3 24l-8 24l-12 21l-16 19l-20 15l-22 12l-24 6l-26 2l-24-3l-24-8l-22-12l-18-16l-16-20l-11-22l-7-24l-2-26l3-24l8-24l13-22l16-19l19-15l23-11z"/>
<path fill="#3295db" d="M234 114h24l22 5l22 9l20 14l18 18l12 20l9 22l4 24v24l-5 22l-9 22l-14 20l-17 17l-20 13l-22 9l-24 4h-24l-22-5l-22-9l-20-13l-17-18l-13-20l-9-22l-5-24l1-24l4-22l9-22l14-20l18-18l20-13l22-9zM718 598h24l22 5l22 9l20 14l18 18l12 20l9 22l4 24v24l-5 22l-9 22l-14 20l-17 17l-20 13l-22 9l-24 4h-24l-22-5l-22-9l-20-13l-17-18l-13-20l-9-22l-5-24l1-24l4-22l9-22l14-20l18-18l20-13l22-9z"/>
<path fill="#3394da" d="M230 120h24l22 4l21 8l19 12l16 16l13 18l10 22l4 22l1 24l-4 22l-8 20l-13 20l-15 16l-20 14l-20 8l-22 5l-24 1l-22-4l-20-8l-20-13l-16-15l-14-20l-9-20l-5-22v-24l4-22l8-21l12-19l16-17l18-12l22-10zM714 604h24l22 4l21 8l19 12l16 16l13 18l10 22l4 22l1 24l-4 22l-8 20l-13 20l-15 16l-20 14l-20 8l-22 5l-24 1l-22-4l-20-8l-20-13l-16-15l-14-20l-9-20l-5-22v-24l4-22l8-21l12-19l16-17l18-12l22-10z"/>
<path fill="#3492d9" d="M228 126l20-1l22 3l20 7l20 12l17 15l13 18l9 20l4 20l1 22l-3 22l-8 20l-11 18l-14 16l-18 13l-20 9l-20 5l-22 1l-22-3l-20-7l-18-11l-16-15l-14-18l-9-20l-5-20l-1-22l3-20l7-20l12-20l14-16l17-13l20-10zM712 610l20-1l22 3l20 7l20 12l17 15l13 18l9 20l4 20l1 22l-3 22l-8 20l-11 18l-14 16l-18 13l-20 9l-20 5l-22 1l-22-3l-20-7l-18-11l-16-15l-14-18l-9-20l-5-20l-1-22l3-20l7-20l12-20l14-16l17-13l20-10z"/>
<path fill="#3590d8" d="M226 132l20-2l20 3l20 6l18 10l16 14l13 17l9 18l6 20l1 20l-2 20l-7 20l-10 18l-14 16l-16 13l-18 9l-20 5l-20 2l-20-2l-20-7l-18-10l-16-13l-13-17l-9-18l-6-20l-1-20l2-20l6-20l10-18l13-15l16-13l19-10zM710 616l20-2l20 3l20 6l18 10l16 14l13 17l9 18l6 20l1 20l-2 20l-7 20l-10 18l-14 16l-16 13l-18 9l-20 5l-20 2l-20-2l-20-7l-18-10l-16-13l-13-17l-9-18l-6-20l-1-20l2-20l6-20l10-18l13-15l16-13l19-10z"/>
<path fill="#358fd7" d="M224 138l18-2l20 2l18 5l18 9l16 13l12 15l10 18l5 18l2 18l-1 20l-5 18l-10 18l-13 16l-14 12l-18 10l-18 5l-18 2l-20-1l-18-5l-18-10l-16-12l-12-15l-10-18l-6-18l-2-20l2-20l6-18l9-18l13-15l14-12l18-10zM708 622l18-2l20 2l18 5l18 9l16 13l12 15l10 18l5 18l2 18l-1 20l-5 18l-10 18l-13 16l-14 12l-18 10l-18 5l-18 2l-20-1l-18-5l-18-10l-16-12l-12-15l-10-18l-6-18l-2-20l2-20l6-18l9-18l13-15l14-12l18-10z"/>
<path fill="#368dd6" d="M235 142h19l18 4l16 7l16 10l12 13l11 16l7 18l3 18v18l-4 18l-7 17l-10 15l-12 12l-16 11l-18 7l-18 3h-18l-18-4l-17-7l-15-10l-12-12l-11-16l-7-18l-4-18v-18l4-18l7-16l10-16l13-13l16-11l18-7zM719 626h19l18 4l16 7l16 10l12 13l11 16l7 18l3 18v18l-4 18l-7 17l-10 15l-12 12l-16 11l-18 7l-18 3h-18l-18-4l-17-7l-15-10l-12-12l-11-16l-7-18l-4-18v-18l4-18l7-16l10-16l13-13l16-11l18-7z"/>
<path fill="#378bd5" d="M232 148l18-1l16 3l16 6l16 10l13 12l10 14l7 16l3 16l1 18l-3 16l-6 16l-9 15l-12 13l-14 10l-16 7l-16 4l-18 1l-16-3l-16-5l-16-10l-13-12l-10-14l-7-16l-4-16v-18l2-16l6-16l10-16l12-13l14-10l16-7zM716 632l18-1l16 3l16 6l16 10l13 12l10 14l7 16l3 16l1 18l-3 16l-6 16l-9 15l-12 13l-14 10l-16 7l-16 4l-18 1l-16-3l-16-5l-16-10l-13-12l-10-14l-7-16l-4-16v-18l2-16l6-16l10-16l12-13l14-10l16-7z"/>
<path fill="#378ad4" d="M230 154l16-1l16 2l16 5l14 8l12 11l10 13l7 14l4 16l2 16l-2 16l-6 16l-8 14l-11 12l-12 10l-14 7l-16 4l-16 1l-16-2l-16-5l-14-8l-12-10l-10-13l-7-14l-5-16l-1-16l2-16l5-16l8-14l10-12l14-11l14-7zM714 638l16-1l16 2l16 5l14 8l12 11l10 13l7 14l4 16l2 16l-2 16l-6 16l-8 14l-11 12l-12 10l-14 7l-16 4l-16 1l-16-2l-16-5l-14-8l-12-10l-10-13l-7-14l-5-16l-1-16l2-16l5-16l8-14l10-12l14-11l14-7z"/>
<path fill="#3888d3" d="M228 160l16-2l14 2l14 4l14 7l12 10l10 11l7 14l4 14l2 14l-1 16l-4 14l-8 14l-9 12l-11 9l-14 8l-14 4l-14 2l-16-1l-14-4l-14-7l-12-10l-9-11l-8-14l-5-14l-1-14l1-16l4-14l7-14l9-12l12-10l14-8zM712 644l16-2l14 2l14 4l14 7l12 10l10 11l7 14l4 14l2 14l-1 16l-4 14l-8 14l-9 12l-11 9l-14 8l-14 4l-14 2l-16-1l-14-4l-14-7l-12-10l-9-11l-8-14l-5-14l-1-14l1-16l4-14l7-14l9-12l12-10l14-8z"/>
<path fill="#3986d2" d="M227 166l15-2l14 1l14 4l12 6l11 9l9 10l7 12l5 14l1 14l-1 14l-4 14l-6 12l-8 11l-11 9l-11 7l-14 4l-14 2l-14-1l-14-4l-12-6l-11-8l-9-10l-7-12l-5-14l-2-14l1-14l4-14l6-12l9-12l10-9l12-7zM711 650l15-2l14 1l14 4l12 6l11 9l9 10l7 12l5 14l1 14l-1 14l-4 14l-6 12l-8 11l-11 9l-11 7l-14 4l-14 2l-14-1l-14-4l-12-6l-11-8l-9-10l-7-12l-5-14l-2-14l1-14l4-14l6-12l9-12l10-9l12-7z"/>
<path fill="#3a85d1" d="M237 170h13l11 2l11 4l10 6l8 7l8 9l6 11l4 11l2 16l-2 14l-2 8l-6 12l-6 8l-10 10l-14 8l-12 4l-14 1l-14-1l-13-4l-13-8l-12-12l-6-9l-6-15l-2-10v-12l4-17l4-9l8-12l6-6l12-8l14-6zM721 654h13l11 2l11 4l10 6l8 7l8 9l6 11l4 11l2 16l-2 14l-2 8l-6 12l-6 8l-10 10l-14 8l-12 4l-14 1l-14-1l-13-4l-13-8l-12-12l-6-9l-6-15l-2-10v-12l4-17l4-9l8-12l6-6l12-8l14-6z"/>
<path fill="#3c82ce" d="M237 180h13l10 2l10 4l9 6l9 9l6 10l4 11l2 10l-2 18l-4 10l-6 10l-8 8l-8 6l-14 6l-10 1h-12l-12-3l-8-4l-9-6l-7-8l-6-9l-4-10l-2-11v-9l2-11l4-10l8-12l7-6l9-6l10-4zM721 664h13l10 2l10 4l9 6l9 9l6 10l4 11l2 10l-2 18l-4 10l-6 10l-8 8l-8 6l-14 6l-10 1h-12l-12-3l-8-4l-9-6l-7-8l-6-9l-4-10l-2-11v-9l2-11l4-10l8-12l7-6l9-6l10-4z"/>
<path fill="#3f7eca" d="M239 196h10l13 4l6 4l8 8l6 12l1 14l-1 9l-4 9l-6 8l-8 6l-10 4l-10 1l-11-1l-9-4l-6-4l-6-6l-4-7l-4-13v-8l2-9l6-11l10-10l9-4zM723 680h10l13 4l6 4l8 8l6 12l1 14l-1 9l-4 9l-6 8l-8 6l-10 4l-10 1l-11-1l-9-4l-6-4l-6-6l-4-7l-4-13v-8l2-9l6-11l10-10l9-4z"/>
</g></g><path fill-rule="evenodd" fill="#231f20" d="M515.2 911.2H1007.5V1407.5H515.2ZM520.6 917H1002V1402H520.6Z"/><circle cx="578.9" cy="977.9" r="47.7" fill="#fff"/><text x="552" y="991" font-size="70" font-style="italic">h</text><text x="585.5" y="1009.7" font-size="54">2</text>
<clipPath id="c3"><rect x="0" y="0" width="654" height="950"/></clipPath>
<g transform="translate(1020,916) scale(0.5)"><g clip-path="url(#c3)" stroke="#16221c" stroke-width="2.4" stroke-opacity="0.88" stroke-linejoin="round">
<rect x="-8" y="-8" width="670" height="966" fill="#a6e1b3" stroke="none"/>
<path fill="#9fdfbf" d="M-8 -8h459l9 70l2 38l-2 38l-9 78l-1 16l1 12l5 16l8 10l6 4l8 4l16 2l16-2l8-4l6-4l8-10l5-16l1-12l-1-16l-9-78l-2-38l2-38l9-70h125v966h-670zM130 484l-12 5l-8 7l-7 12l-3 14l1 26l9 76l2 38l-1 34l-10 74l-1 28l1 10l3 10l4 8l4 5l6 4l8 4l10 2l10 1l16-3l12-7l8-10l5-16l1-12l-1-16l-9-78l-2-38l1-34l10-74l1-28l-2-12l-3-10l-5-8l-6-6l-10-5l-10-2l-12-1z"/>
<path fill="#96dccd" d="M-8 -8h438l10 64l2 26v24l-3 48l-14 88v18l1 13l2 7l4 8l6 7l8 5l10 4l10 2l28 2l28-2l10-2l10-4l8-5l6-7l4-8l2-7l1-13v-18l-14-88l-3-48v-24l2-26l10-64h104v966h-670zM134 454l-24 3l-10 3l-8 4l-7 6l-4 6l-4 8l-1 8l-1 12v16l14 90l2 26l1 26l-3 46l-13 88l-1 28l1 12l4 10l5 8l8 6l9 4l14 4l17 2h19l26-3l9-3l8-4l6-4l5-6l4-8l2-8l1-14v-16l-14-92l-2-26l-1-26l3-46l13-86l1-28l-1-12l-4-11l-6-8l-8-6l-10-4l-14-3l-18-2z"/>
<path fill="#8dd8d3" d="M-8 -8h422l6 36l4 30l2 30v28l-2 26l-4 30l-19 98l-1 16l2 14l3 8l5 6l8 6l8 3l26 5l42 1l42-1l26-5l8-3l8-6l5-6l3-8l2-14l-1-16l-19-98l-4-30l-2-26v-28l2-30l4-30l6-36h88v966h-670zM106 434l-26 4l-15 6l-5 4l-5 6l-3 6l-1 8l-1 14l2 16l15 74l6 34l2 28l1 28l-1 32l-4 34l-20 104l-1 16l1 12l4 10l7 8l11 6l15 4l26 2l38 1l32-1l22-3l14-5l8-6l7-10l3-12l-1-14l-2-16l-14-70l-5-34l-3-30l-1-28l1-32l4-34l20-104l1-16l-1-12l-4-10l-7-8l-8-5l-12-4l-18-2l-22-2z"/>
<path fill="#82d2d9" d="M-8 -8h405l8 38l5 36l1 34l-1 36l-4 28l-6 30l-9 36l-20 70l-4 16l-1 12l1 6l3 6l8 6l14 4l20 1l80-2l96 1l12-1l8-2l6-3l4-4l3-6l1-6l-2-18l-29-100l-6-30l-5-28l-2-26l-1-26v-24l3-26l4-28l7-30h71v966h-670zM46 412l-14 2l-10 6l-5 8v12l4 22l22 78l11 48l6 48l1 24v24l-4 36l-7 36l-8 32l-24 84l-2 16l2 10l4 6l6 4l10 3l14 1l92-1l88 2l16-2l12-3l6-4l4-6l2-8l-1-10l-5-24l-23-78l-8-36l-7-44l-1-44l2-34l5-36l11-44l24-84l3-18l-2-12l-4-6l-6-4l-8-3l-12-1l-96 1l-78-2z"/>
<path fill="#77ccdd" d="M-8 -8h391l6 24l5 24l3 24l2 22v22l-1 24l-7 46l-7 28l-9 28l-10 28l-11 26l-13 24l-12 20l-11 15l-12 12l-10 8l-14 7l-16 6l-18 5l-46 9l-48 4l-46-2l-48-6l-22-5l-18-6l-16-6l-12-6zM605 -8h57v345l-10-15l-11-20l-20-46l-16-48l-11-46l-4-42v-42l5-42zM455 366l31-2l32 1l32 3l32 5l26 6l22 8l18 10l14 11v508l-14 11l-14 8l-20 8l-22 6l-30 6l-29 3h-78l-35-4l-30-7l-26-8l-18-8l-14-10l-12-12l-12-16l-14-23l-13-28l-13-32l-10-30l-9-30l-6-36l-4-36l1-36l3-36l8-38l12-40l14-38l18-38l13-21l12-16l13-13l15-10l20-9l26-7l30-6zM-8 452l11 20l13 30l11 30l7 26l7 26l4 26l3 26l1 26l-1 26l-3 26l-4 26l-7 26l-7 26l-11 28l-12 28l-12 25zM105 928l27-2l26 1l28 1l26 3l28 6l22 6l18 6l17 9h-305l18-10l26-8l32-7z"/>
<path fill="#6ac5de" d="M-8 -8h379l7 22l5 24l3 22l2 24l-1 44l-2 22l-5 24l-6 24l-7 24l-9 24l-11 22l-11 21l-12 18l-12 15l-14 14l-14 11l-16 10l-16 8l-18 6l-20 6l-22 4l-22 2l-24 1h-24l-22-3l-22-3l-20-6l-20-7l-16-7l-16-9l-14-11zM616 -6l1-2h45v312l-20-33l-17-39l-13-40l-8-40l-4-38l1-40l5-40zM479 378h29l28 2l26 5l26 7l22 9l20 11l16 12l16 16v444l-14 14l-14 11l-16 10l-16 8l-18 6l-22 6l-22 4l-24 3h-28l-26-1l-26-4l-26-6l-22-8l-20-9l-18-12l-16-14l-16-18l-15-22l-13-24l-13-28l-10-28l-8-30l-6-30l-2-28l-1-30l2-30l5-30l7-30l10-32l13-30l13-26l16-24l14-16l16-15l16-11l18-10l22-9l24-6l26-5zM-8 484l10 20l10 22l7 22l7 24l5 22l4 24l3 44l-3 44l-4 24l-5 22l-7 24l-7 22l-10 22l-10 20zM129 940h31l32 3l30 6l27 9h-210l21-7l22-5l24-4z"/>
<path fill="#5ebedf" d="M-8 -8h369l6 22l5 22l4 22l2 22v22v22l-3 22l-4 22l-5 24l-7 22l-9 22l-10 20l-10 18l-12 18l-13 16l-13 13l-14 12l-16 10l-18 10l-18 7l-20 5l-22 5l-22 2l-22 1l-22-2l-22-3l-20-4l-20-7l-18-7l-16-9l-16-11l-14-12zM627 -8h35v289l-17-31l-16-36l-10-36l-7-38l-2-36l1-38l6-38zM476 390h28l28 2l26 5l26 8l22 10l20 13l20 16l16 18v400l-14 16l-16 14l-16 11l-18 10l-20 8l-20 6l-22 4l-24 3h-26l-24-1l-24-4l-24-7l-20-7l-20-11l-18-12l-16-14l-16-18l-14-20l-13-24l-11-24l-10-26l-7-26l-6-28l-3-28v-28l2-30l4-28l6-28l10-28l11-26l12-24l15-22l14-17l16-16l16-12l18-11l20-9l24-7l24-5zM-8 510l7 14l8 20l12 40l7 40l2 38l-2 38l-7 40l-11 38l-16 37zM126 952l20-1l20 1l37 6h-118l19-4z"/>
<path fill="#53b7e0" d="M-8 -8h359l6 20l6 22l4 22l2 20l1 22l-1 22l-2 22l-3 20l-5 20l-7 22l-7 20l-10 20l-10 18l-12 18l-13 16l-12 13l-14 12l-16 11l-18 9l-18 8l-20 6l-20 4l-22 2l-22 1l-22-2l-20-3l-20-5l-20-7l-18-9l-16-10l-16-12l-14-13zM637 -8h25v269l-16-31l-13-34l-9-34l-4-34l-2-34l3-34l6-34zM463 402l29-2l30 2l28 5l28 8l24 12l22 14l20 18l18 21v364l-14 16l-14 14l-16 13l-16 10l-18 9l-20 7l-22 6l-22 4l-22 1l-24-1l-24-3l-22-5l-22-8l-20-10l-18-11l-16-14l-16-16l-14-18l-13-20l-11-22l-10-24l-8-24l-6-26l-4-26l-2-26l1-28l3-26l5-26l7-26l9-26l12-24l13-22l13-18l15-17l16-14l18-13l18-9l20-8l22-7zM-8 534v-2l3 8l8 20l10 36l5 32l2 34l-2 34l-5 32l-9 32l-12 32z"/>
<path fill="#4bafde" d="M-8 -8h350l6 20l6 20l4 20l2 22l1 20v22l-5 40l-5 22l-6 20l-7 20l-9 18l-10 18l-11 16l-12 15l-12 13l-14 12l-16 12l-16 9l-18 8l-18 5l-20 5l-20 2l-22 1l-20-1l-20-3l-20-5l-18-7l-18-9l-16-9l-16-13l-14-13l-6-7zM646 -6v-2h16v250l-13-28l-11-30l-7-32l-4-32v-32l3-32l6-32zM485 410l27 1l26 3l24 7l24 9l22 13l20 15l18 19l16 20v330l-15 19l-17 18l-18 14l-20 13l-22 10l-22 6l-24 5l-24 2h-22l-22-3l-22-5l-20-7l-20-10l-18-11l-16-12l-16-16l-14-18l-13-20l-12-22l-9-22l-8-24l-6-24l-4-24l-1-26v-26l2-24l5-26l7-24l9-24l10-22l12-21l14-19l14-16l16-15l18-13l18-10l20-8l20-6l22-4zM-8 556l8 24l7 28l3 28l1 26l-1 26l-3 28l-6 26l-9 27z"/>
<path fill="#43a7dd" d="M-8 -8h341l6 18l6 20l4 20l3 20l2 40l-5 40l-4 20l-6 20l-7 20l-8 18l-9 16l-11 17l-12 15l-12 13l-14 12l-16 12l-16 9l-18 8l-18 6l-20 4l-18 2l-20 1l-20-1l-18-3l-18-5l-18-6l-18-9l-16-10l-14-11l-14-13l-12-14zM655 -8h7v232l-11-28l-9-28l-5-30l-3-30l1-30l4-30l6-28zM473 420l29-1l28 3l26 7l26 10l24 14l20 16l19 21l17 23v298l-14 20l-16 18l-18 16l-18 12l-20 11l-20 7l-22 6l-24 3l-22 1l-20-2l-22-4l-20-6l-18-7l-18-10l-16-11l-16-14l-14-15l-14-19l-12-19l-10-22l-9-22l-6-22l-5-24l-3-24l-1-24l1-24l4-24l5-24l7-24l9-22l11-20l12-20l13-16l15-16l15-12l18-12l18-10l20-7l20-6zM-8 582l5 16l4 22l2 20l1 22l-1 22l-2 20l-4 20l-5 20z"/>
<path fill="#3b9fdc" d="M-8 -8h333l12 36l5 20l3 20l1 20v20l-3 38l-9 38l-7 18l-8 18l-9 17l-10 15l-12 16l-12 13l-14 12l-16 12l-16 9l-16 7l-18 6l-18 5l-18 2l-18 1l-18-2l-18-2l-18-5l-18-6l-16-8l-16-10l-14-10l-14-13l-18-21zM662 -4v209l-9-25l-6-26l-4-26l-2-28l2-28l4-26l6-26zM480 428h28l26 4l26 7l26 12l22 14l20 18l18 21l16 24v268l-14 21l-15 19l-17 16l-20 15l-22 12l-22 9l-24 6l-24 2h-20l-20-2l-20-4l-20-7l-18-8l-18-11l-16-12l-14-13l-14-16l-12-18l-11-19l-9-20l-8-22l-6-22l-4-24l-2-22v-22l1-24l4-24l6-22l7-22l9-20l11-20l12-18l13-16l15-14l16-13l16-10l18-9l20-7l20-5zM-8 612l3 24l2 26l-2 26l-3 24z"/>
<path fill="#3397da" d="M-8 -8h325l7 18l6 18l5 20l3 18l2 38l-4 38l-4 20l-5 18l-13 34l-9 16l-10 16l-11 15l-12 13l-14 12l-14 10l-16 10l-16 7l-16 6l-18 4l-18 3h-18l-18-1l-18-3l-18-4l-16-6l-16-8l-14-9l-14-11l-14-12l-12-14l-10-13zM662 16v168l-6-20l-4-22l-3-20l-1-22l1-22l3-20l4-22zM482 436h28l28 5l26 9l24 12l22 16l20 19l18 23l14 24v236l-14 24l-15 20l-18 18l-19 15l-22 13l-22 9l-24 6l-26 3h-20l-18-2l-20-5l-18-6l-18-8l-16-10l-16-12l-14-14l-13-15l-13-18l-10-18l-9-20l-7-20l-6-22l-4-22l-1-22l-1-22l2-22l4-22l5-22l8-22l9-20l10-18l13-18l13-15l14-14l16-12l16-10l18-8l18-6l18-5z"/>
<path fill="#3294d9" d="M-8 -8h317l8 18l6 18l8 36l1 18l1 20l-3 36l-8 36l-13 34l-8 16l-10 16l-11 14l-11 12l-13 12l-14 10l-14 9l-16 8l-16 6l-18 4l-16 3l-18 1l-18-1l-16-3l-18-4l-16-6l-16-8l-14-9l-14-10l-12-11l-15-17l-13-18zM662 42v118l-5-28l-2-30l1-30zM479 444h29l28 4l26 9l26 14l22 17l20 20l17 24l15 28v204l-5 10l-12 22l-15 20l-17 18l-19 15l-20 12l-22 10l-24 6l-24 3h-20l-18-2l-18-4l-18-5l-18-9l-16-10l-14-10l-14-13l-13-15l-12-16l-10-18l-9-18l-7-20l-6-22l-4-20l-2-22v-22l2-22l3-22l5-20l7-20l9-20l10-18l11-16l12-15l14-13l14-12l16-10l16-8l18-7l18-4z"/>
<path fill="#3291d7" d="M-8 -8h310l13 32l5 18l3 18l4 36l-2 36l-8 36l-6 18l-6 16l-17 30l-11 14l-11 13l-12 11l-14 11l-14 9l-16 8l-16 6l-16 4l-16 2l-16 1h-16l-16-3l-16-3l-16-6l-16-7l-14-8l-14-11l-12-10l-18-21l-16-23zM474 452l30-1l30 5l28 9l26 15l24 19l20 23l17 26l13 30v168l-12 28l-12 20l-14 18l-16 16l-18 15l-20 12l-20 9l-20 5l-22 4h-18l-18-1l-18-4l-18-5l-16-7l-16-9l-14-10l-14-12l-12-13l-12-16l-10-16l-9-18l-8-18l-6-20l-4-20l-3-22l-1-20l1-22l3-20l4-20l6-20l8-20l10-18l10-16l11-14l13-14l14-12l15-10l16-9l16-7l18-5z"/>
<path fill="#318ed6" d="M-6 -8h300l14 32l9 34l4 36l-2 36l-3 18l-5 18l-12 32l-8 16l-9 14l-10 14l-11 12l-13 12l-12 9l-14 9l-14 7l-14 5l-16 4l-16 3l-16 1l-16-1l-16-2l-16-4l-14-5l-16-7l-14-9l-12-8l-13-12l-20-24l-17-27v-210zM493 458l27 2l28 7l26 12l24 17l22 22l17 24l15 28l10 29v126l-11 31l-15 28l-13 18l-15 17l-16 14l-18 12l-18 9l-20 6l-20 4l-22 2l-18-1l-16-3l-18-5l-16-6l-16-9l-14-9l-14-12l-12-13l-11-14l-11-16l-9-18l-8-18l-6-20l-4-20l-3-20l-1-20l1-20l3-20l4-20l6-18l7-18l9-18l10-16l11-14l12-13l14-12l14-10l16-9l16-7l18-5l18-3z"/>
<path fill="#318bd4" d="M0 -6l1-2h286l8 16l7 16l9 34l3 34v18l-1 18l-7 34l-12 33l-8 15l-9 14l-10 14l-11 12l-12 10l-12 10l-14 8l-14 7l-14 5l-16 4l-14 2l-16 1l-16-1l-14-2l-16-4l-14-5l-14-7l-14-8l-12-10l-12-10l-12-14l-11-14l-9-16l-8-16v-180zM476 466l16-1l16 1l16 2l16 4l16 6l14 7l14 9l13 10l12 12l11 12l10 14l9 16l8 16l7 18l5 18l3 18v68l-2 14l-6 20l-7 20l-9 18l-9 16l-12 16l-13 14l-14 12l-16 11l-16 8l-16 6l-18 5l-18 3h-18l-16-2l-16-3l-16-5l-16-7l-14-8l-14-10l-12-10l-12-13l-11-15l-10-16l-8-16l-7-18l-6-18l-3-18l-3-20l-1-18l1-20l3-20l4-18l5-18l8-18l8-16l10-16l11-14l11-12l14-12l14-9l16-9l16-7l16-4z"/>
<path fill="#3189d3" d="M8 -8h272l8 16l7 16l5 16l5 18l4 34v18l-2 18l-7 34l-6 16l-6 16l-9 16l-9 13l-10 13l-12 12l-12 10l-12 9l-14 8l-14 6l-14 4l-14 3l-14 2h-16l-16-1l-14-3l-14-4l-14-6l-14-8l-12-8l-22-20l-12-14l-11-16l-9-18l-8-18v-148l8-18zM486 472h16l16 2l16 3l16 6l16 7l14 9l14 11l12 12l12 14l10 14l9 16l7 16l6 18l4 18l3 18l2 18l-1 20l-1 18l-4 18l-4 18l-7 18l-7 16l-10 16l-10 14l-11 12l-12 12l-14 10l-14 9l-16 7l-16 5l-16 4l-16 1h-16l-16-2l-16-4l-16-6l-14-6l-14-9l-14-11l-12-12l-12-14l-10-14l-9-16l-7-16l-6-18l-4-18l-3-18l-2-18l1-20l1-18l4-18l4-18l7-18l7-16l9-15l10-14l12-13l12-12l14-10l14-9l14-6l16-6l16-3z"/>
<path fill="#3186d2" d="M14 -6l1-2h258l8 14l7 16l6 16l4 18l5 34v18l-2 18l-3 18l-4 16l-5 16l-7 16l-8 14l-9 14l-11 13l-11 11l-23 18l-12 6l-14 6l-14 5l-14 3l-28 1l-14-1l-14-3l-14-4l-14-6l-13-7l-12-8l-22-20l-15-18l-11-18l-10-22l-7-22v-108l10-28zM473 480l15-1h16l16 2l16 4l16 6l14 7l14 9l12 10l12 12l11 13l9 14l9 16l7 16l6 18l4 18l2 18l1 18l-1 20l-2 18l-4 18l-6 18l-6 16l-9 16l-9 14l-10 13l-12 12l-12 10l-14 10l-14 7l-16 7l-14 3l-16 3l-16 1l-16-2l-16-3l-14-4l-14-6l-14-7l-14-10l-11-10l-11-11l-10-13l-9-14l-9-16l-6-16l-6-16l-4-18l-2-18l-1-18l1-18l5-34l5-18l6-16l8-16l9-14l10-14l11-11l12-11l13-10l15-8l14-6l14-5z"/>
<path fill="#3083d0" d="M21 -6l1-2h244l8 14l8 16l6 16l4 16l3 16l2 18v18l-1 18l-3 18l-4 16l-6 16l-7 16l-8 15l-9 13l-11 13l-12 11l-22 16l-12 6l-14 6l-26 6l-14 1h-14l-14-2l-14-3l-26-11l-24-16l-20-19l-16-22l-13-24l-10-28l-5-28v-48l3-20l5-16l5-16l8-16zM477 486l15-1l16 1l16 2l14 4l14 6l14 7l14 10l12 10l12 13l9 12l9 14l8 16l6 16l5 16l4 16l2 18v18l-1 18l-2 18l-4 16l-5 16l-7 17l-8 15l-10 14l-10 12l-12 12l-12 10l-14 9l-14 7l-14 5l-14 4l-16 2h-16l-14-1l-14-3l-14-5l-14-6l-14-8l-12-9l-12-10l-10-11l-11-14l-8-14l-7-14l-6-16l-5-16l-4-16l-2-18v-34l3-18l3-16l5-16l7-16l7-14l9-14l9-12l12-13l12-10l12-8l14-8l14-6l14-4z"/>
<path fill="#3081cf" d="M28 -6l1-2h230l9 14l8 16l6 16l4 16l4 16l1 18l1 18l-1 16l-3 18l-4 16l-6 16l-7 16l-8 14l-10 14l-11 12l-12 11l-22 15l-12 6l-14 5l-26 5h-26l-26-6l-24-10l-12-7l-11-9l-20-20l-17-24l-12-26l-8-30l-4-30l1-30l6-30l10-28zM482 492l14-1l16 2l14 2l14 5l14 6l12 7l12 8l12 11l11 12l9 12l9 14l7 15l6 15l4 16l4 16l1 18l1 18l-1 16l-3 18l-4 16l-6 16l-6 14l-8 14l-10 14l-10 12l-10 10l-13 10l-13 8l-14 7l-14 5l-14 3l-14 1h-14l-14-1l-14-3l-14-5l-14-6l-12-7l-12-9l-12-11l-10-11l-9-13l-9-14l-6-14l-6-16l-5-16l-4-32l-1-18l1-16l7-32l11-30l8-14l9-14l10-12l10-10l12-10l12-8l14-7l14-5l14-4z"/>
<path fill="#307ecd" d="M35 -6l2-2h214l10 14l7 14l7 16l5 16l4 16l2 18v18l-1 18l-3 18l-4 16l-6 16l-7 14l-8 14l-10 14l-11 12l-12 10l-22 14l-24 9l-26 5l-26-1l-24-6l-24-11l-21-16l-19-20l-15-24l-12-26l-7-28l-2-30l2-30l6-28l11-26zM487 498h15l14 2l14 3l12 4l14 7l12 7l12 10l10 9l10 12l8 12l8 14l7 14l5 16l4 16l4 32l-1 32l-3 16l-5 16l-12 28l-8 14l-9 12l-10 12l-11 10l-13 9l-12 7l-12 5l-14 5l-14 3l-14 1h-14l-14-2l-14-4l-12-4l-14-7l-12-8l-11-9l-10-10l-10-12l-9-12l-7-14l-7-14l-8-30l-4-32l1-32l3-16l5-16l12-28l8-14l9-12l10-12l10-9l12-9l12-7l12-6l14-4l14-4z"/>
<path fill="#307ccc" d="M44 -8h200l6 8l9 14l7 14l6 16l4 16l3 16l2 16v18l-2 16l-3 16l-5 16l-6 16l-7 14l-9 14l-10 12l-11 11l-12 9l-22 13l-24 8l-24 3l-24-2l-24-7l-22-12l-20-16l-18-21l-14-24l-10-26l-6-28l-1-28l3-28l7-26l12-26zM473 506l13-2h14l14 2l14 3l14 5l12 6l22 15l10 10l10 11l8 12l8 14l11 28l4 16l3 16l1 16l-1 16l-1 16l-4 16l-4 16l-6 14l-15 26l-9 12l-10 10l-11 9l-12 9l-12 6l-14 6l-12 3l-14 2h-26l-14-2l-12-4l-24-11l-11-8l-11-9l-19-21l-14-24l-11-28l-6-30l-1-16l1-16l4-30l9-28l14-26l18-22l21-18l12-7l12-6z"/>
<path fill="#317bcc" d="M50 -6l2-2h184l11 14l9 14l6 14l5 14l5 16l2 16l1 16v16l-2 16l-3 16l-5 14l-5 14l-8 15l-8 12l-10 12l-10 9l-12 10l-22 12l-22 7l-24 3l-24-3l-22-7l-22-12l-19-16l-16-20l-13-23l-9-25l-5-26l-1-28l3-28l8-26l12-24zM475 512l13-1h14l14 2l12 3l12 4l12 6l12 8l10 8l19 20l15 24l11 28l5 30l1 30l-5 30l-9 28l-7 13l-8 13l-18 21l-11 9l-11 8l-12 6l-12 5l-12 4l-14 2l-14 1l-12-1l-24-6l-12-5l-12-6l-21-16l-17-20l-15-24l-10-28l-5-28l-1-30l4-28l10-28l13-25l17-21l21-17l22-12l12-4z"/>
<path fill="#327acb" d="M58 -6l2-2h168l10 11l8 12l7 13l7 14l7 28l2 16l1 16l-3 30l-4 16l-5 14l-7 14l-7 12l-9 12l-9 10l-10 9l-12 9l-20 10l-22 6l-24 1l-22-3l-22-9l-20-12l-18-17l-14-19l-12-23l-8-24l-3-26v-26l4-26l8-24l11-22zM478 518l12-1h14l24 5l12 5l12 6l20 15l18 20l14 24l10 26l5 28v30l-4 28l-10 26l-13 24l-18 20l-10 9l-12 8l-12 6l-12 5l-24 5l-24-1l-24-6l-22-10l-20-16l-18-20l-12-22l-10-26l-5-28v-28l4-28l9-26l13-24l17-20l20-17l22-11z"/>
<path fill="#3279ca" d="M66 -6l2-2h152l13 14l11 16l7 14l5 13l4 15l3 14l1 14v16l-4 28l-4 14l-5 14l-14 24l-17 20l-10 8l-12 8l-20 9l-22 5h-22l-20-3l-21-9l-19-13l-16-16l-14-19l-11-24l-7-24l-2-24l1-26l5-24l9-24l12-20zM480 524h24l12 1l12 4l22 10l20 15l17 20l13 22l9 26l5 28v28l-5 26l-10 26l-13 22l-18 20l-20 14l-22 10l-12 3l-12 2l-24-1l-22-6l-22-11l-18-15l-16-19l-13-23l-9-26l-4-26v-28l5-26l9-24l13-22l15-18l20-16l22-11z"/>
<path fill="#3378c9" d="M75 -6l2-2h134l10 10l9 10l14 22l10 26l4 26v28l-5 28l-10 26l-15 22l-17 18l-21 13l-20 8l-20 3l-22-1l-20-5l-20-10l-16-13l-16-17l-12-20l-8-22l-5-22l-2-24l2-24l6-22l9-22l14-20zM484 530h22l22 5l22 11l18 14l16 19l13 23l8 24l4 26l-1 26l-5 26l-9 24l-14 22l-17 18l-19 13l-22 10l-22 3l-22-1l-22-6l-20-11l-18-14l-14-18l-13-22l-8-24l-4-26l1-26l5-26l9-23l12-21l17-18l19-14l20-9z"/>
<path fill="#3377c8" d="M85 -6l3-2h112l13 10l11 12l10 14l7 14l8 24l4 26l-1 26l-6 26l-10 24l-14 20l-18 17l-20 12l-18 6l-20 3l-20-2l-20-6l-18-10l-16-13l-14-17l-11-20l-8-22l-4-22v-24l3-22l7-22l10-20l14-18zM491 536l21 2l22 7l19 11l17 15l14 19l10 22l7 24l2 24l-1 24l-6 24l-10 22l-14 20l-16 16l-18 11l-20 8l-22 3l-22-2l-20-7l-19-11l-17-15l-14-19l-10-22l-7-24l-2-24l1-24l6-24l10-22l14-20l16-16l18-11l20-8z"/>
<path fill="#3475c7" d="M96 -6l4-2h88l18 12l13 14l13 18l8 19l6 24l2 25l-3 24l-8 24l-11 21l-14 17l-18 15l-20 9l-18 5h-20l-18-3l-18-8l-18-12l-13-14l-13-18l-8-19l-6-21l-2-22l2-22l5-22l8-20l11-17l14-15zM478 544l20-1l20 3l20 8l18 12l15 16l13 20l8 22l5 22v24l-3 24l-7 22l-12 20l-15 18l-16 13l-20 9l-20 5h-20l-20-5l-18-8l-16-12l-15-16l-11-19l-8-21l-5-22v-24l3-22l7-22l10-20l13-16l16-14l18-10z"/>
<path fill="#3574c6" d="M110 -6l6-2h56l16 7l17 13l14 16l11 18l8 22l3 22v24l-4 22l-9 22l-12 18l-14 15l-18 12l-18 7l-18 3l-20-2l-18-5l-16-9l-14-12l-13-15l-10-18l-7-20l-3-20v-22l3-20l6-20l10-18l13-16l15-13zM482 550h20l18 3l18 8l17 13l14 16l11 18l7 20l4 22v22l-3 22l-8 22l-11 18l-13 15l-17 13l-17 8l-20 4h-20l-18-5l-16-7l-16-13l-13-15l-11-18l-7-20l-4-22v-22l3-22l7-20l10-18l13-15l16-13l18-9z"/>
<path fill="#3573c6" d="M126 -4l20-2l18 3l18 7l16 10l13 14l11 16l8 20l5 20l1 22l-3 20l-6 20l-10 18l-13 16l-14 12l-18 9l-18 4l-18 1l-16-4l-16-7l-16-11l-13-14l-10-16l-7-18l-5-20l-1-20l2-20l6-19l8-17l12-16l14-13l16-9zM476 558l20-2l18 3l18 7l16 10l13 14l11 16l8 20l5 20l1 22l-3 20l-6 20l-10 18l-13 16l-14 12l-18 9l-18 4l-18 1l-16-4l-16-7l-16-11l-13-14l-10-16l-7-18l-5-20l-1-20l2-20l6-19l8-17l12-16l14-13l16-9z"/>
<path fill="#3672c5" d="M133 2l17-1l16 3l16 7l15 11l12 14l10 16l7 18l3 20v20l-3 20l-7 18l-10 16l-12 14l-14 10l-17 8l-16 3l-16-1l-16-4l-16-8l-13-10l-12-14l-9-16l-6-18l-3-18v-20l3-18l6-18l9-16l11-13l14-11l15-8zM483 564l17-1l16 3l16 7l15 11l12 14l10 16l7 18l3 20v20l-3 20l-7 18l-10 16l-12 14l-14 10l-17 8l-16 3l-16-1l-16-4l-16-8l-13-10l-12-14l-9-16l-6-18l-3-18v-20l3-18l6-18l9-16l11-13l14-11l15-8z"/>
<path fill="#3671c4" d="M130 10l16-1l16 2l14 5l15 10l11 12l10 15l7 17l4 18v18l-2 18l-7 18l-8 15l-11 13l-13 10l-14 7l-16 4h-16l-14-3l-14-7l-13-9l-11-12l-9-14l-6-16l-4-18v-18l2-16l5-16l8-16l10-13l12-11l14-8zM480 572l16-1l16 2l14 5l15 10l11 12l10 15l7 17l4 18v18l-2 18l-7 18l-8 15l-11 13l-13 10l-14 7l-16 4h-16l-14-3l-14-7l-13-9l-11-12l-9-14l-6-16l-4-18v-18l2-16l5-16l8-16l10-13l12-11l14-8z"/>
<path fill="#3770c3" d="M130 18l14-2l16 2l14 6l12 8l10 10l10 14l6 16l4 16v16l-2 16l-4 16l-8 14l-10 13l-12 10l-14 7l-14 3h-14l-14-3l-12-5l-12-8l-10-11l-9-14l-5-14l-4-16v-16l2-16l4-14l7-14l8-12l11-10l12-7zM480 580l14-2l16 2l14 6l12 8l10 10l10 14l6 16l4 16v16l-2 16l-4 16l-8 14l-10 13l-12 10l-14 7l-14 3h-14l-14-3l-12-5l-12-8l-10-11l-9-14l-5-14l-4-16v-16l2-16l4-14l7-14l8-12l11-10l12-7z"/>
<path fill="#386fc1" d="M132 26l14-1l12 1l12 5l12 8l10 10l7 11l6 14l3 14l1 16l-2 14l-4 14l-7 14l-8 10l-12 10l-12 6l-12 3h-14l-12-3l-12-5l-9-7l-10-10l-7-11l-5-13l-3-14l-1-16l2-14l4-14l6-12l9-12l10-8l10-6zM482 588l14-1l12 1l12 5l12 8l10 10l7 11l6 14l3 14l1 16l-2 14l-4 14l-7 14l-8 10l-12 10l-12 6l-12 3h-14l-12-3l-12-5l-9-7l-10-10l-7-11l-5-13l-3-14l-1-16l2-14l4-14l6-12l9-12l10-8l10-6z"/>
<path fill="#3a6dbf" d="M140 34l12 1l10 2l10 5l10 8l8 10l6 12l4 12l1 12v14l-3 12l-5 12l-7 11l-8 8l-10 7l-10 4l-12 2l-12-1l-10-3l-10-6l-8-6l-8-10l-6-12l-4-12l-1-12v-14l3-12l5-12l6-10l9-9l10-7l10-4zM490 596l12 1l10 2l10 5l10 8l8 10l6 12l4 12l1 12v14l-3 12l-5 12l-7 11l-8 8l-10 7l-10 4l-12 2l-12-1l-10-3l-10-6l-8-6l-8-10l-6-12l-4-12l-1-12v-14l3-12l5-12l6-10l9-9l10-7l10-4z"/>
<path fill="#3b6cbd" d="M132 46l8-2l10 1l10 2l9 5l9 8l6 8l5 10l2 10l1 10v12l-3 12l-5 10l-6 8l-8 7l-8 5l-10 3l-10 1l-8-1l-10-4l-7-5l-7-6l-6-8l-5-10l-2-10l-1-10v-10l2-10l4-10l6-9l6-7l8-6zM482 608l8-2l10 1l10 2l9 5l9 8l6 8l5 10l2 10l1 10v12l-3 12l-5 10l-6 8l-8 7l-8 5l-10 3l-10 1l-8-1l-10-4l-7-5l-7-6l-6-8l-5-10l-2-10l-1-10v-10l2-10l4-10l6-9l6-7l8-6z"/>
<path fill="#3d6abb" d="M134 58l8-1h8l8 3l6 3l6 5l4 6l4 8l3 8l1 8l-1 10l-2 8l-3 8l-6 8l-6 5l-6 3l-8 3h-8h-6l-7-3l-6-4l-6-6l-5-6l-5-14v-16l1-8l3-8l9-12l6-4zM484 620l8-1h8l8 3l6 3l6 5l4 6l4 8l3 8l1 8l-1 10l-2 8l-3 8l-6 8l-6 5l-6 3l-8 3h-8h-6l-7-3l-6-4l-6-6l-5-6l-5-14v-16l1-8l3-8l9-12l6-4z"/>
<path fill="#3e69ba" d="M139 74h9l9 4l7 8l3 10l-1 12l-4 9l-8 7l-8 2h-8l-8-5l-6-8l-3-9l1-10l4-10l6-7zM489 636h9l9 4l7 8l3 10l-1 12l-4 9l-8 7l-8 2h-8l-8-5l-6-8l-3-9l1-10l4-10l6-7z"/>
</g></g><path fill-rule="evenodd" fill="#231f20" d="M1012 909.8H1353.6V1397.7H1012ZM1020 916H1347V1391H1020Z"/><circle cx="1080" cy="975" r="47" fill="#fff"/><text x="1054" y="988" font-size="70" font-style="italic">h</text><text x="1090" y="1008" font-size="54">3</text>
<clipPath id="c4"><rect x="0" y="0" width="958.8000000000002" height="950.8000000000002"/></clipPath>
<g transform="translate(1364.6,917) scale(0.5)"><g clip-path="url(#c4)" stroke="#16221c" stroke-width="2.4" stroke-opacity="0.88" stroke-linejoin="round">
<rect x="-8" y="-8" width="974" height="966" fill="#3265bd" stroke="none"/>
<path fill="#3268c0" d="M58 -8h818l24 10l18 8l15 10l13 10l10 12l10 15v816l-42-113l-12-30l-14-28l-15-26l-16-24l-17-22l-20-20l-18-16l-18-13l-20-13l-22-12l-28-13l-30-13l-102-37l-30-12l-16-8l-12-8l-10-8l-10-10l-13-19l-12-24l-45-120l-12-30l-13-26l-14-26l-16-24l-17-22l-17-18l-19-17l-22-16l-24-15l-26-14l-56-24l-112-41l-22-10zM-8 36l6 7l7 11l13 25l45 121l13 30l12 26l14 25l15 23l15 20l18 19l18 17l22 17l24 15l26 15l28 13l30 12l118 43l26 13l18 12l10 9l9 11l7 12l9 16l12 30l38 102l13 31l13 27l13 23l14 21l14 18l16 17l20 19l22 17l24 15l28 15l52 23l102 37l36 15h-826l-26-14l-11-8l-9-8l-12-14l-11-20l-12-26l-13-35z"/>
<path fill="#326bc2" d="M81 -8h772l28 12l21 11l18 11l16 14l16 18l14 23v769l-41-104l-13-28l-13-26l-15-25l-16-23l-16-20l-18-18l-32-26l-38-24l-26-13l-28-13l-100-39l-32-14l-18-10l-14-9l-12-10l-12-12l-16-22l-13-26l-49-120l-24-51l-14-24l-15-21l-16-20l-17-18l-18-16l-21-16l-22-14l-25-14l-50-23l-104-41zM-8 58v-2l10 16l15 28l46 114l23 50l14 24l15 22l15 20l16 17l18 17l20 15l22 15l24 14l52 24l118 47l28 14l20 14l12 11l10 12l10 15l10 17l15 34l40 100l13 28l12 24l12 20l14 20l12 16l15 16l19 18l20 16l24 16l26 14l48 23l94 36l34 15h-777l-35-18l-14-10l-12-11l-15-17l-13-22l-14-29l-16-39z"/>
<path fill="#326ec4" d="M100 -8h734l32 14l24 13l20 13l18 15l20 23l18 30v730l-40-96l-26-51l-14-23l-16-23l-16-19l-18-18l-17-14l-19-14l-22-14l-22-12l-46-22l-96-39l-34-17l-28-18l-12-11l-11-11l-17-24l-16-28l-13-30l-37-88l-25-50l-13-22l-14-20l-16-19l-16-17l-18-16l-20-15l-20-13l-24-14l-48-23l-98-40zM-8 76v-2l9 14l14 28l46 108l23 47l13 23l14 20l15 19l16 18l18 16l18 15l21 14l23 13l48 24l118 49l29 16l23 16l10 10l11 12l20 28l17 35l41 97l22 46l13 23l14 21l14 19l16 18l18 17l20 16l22 15l26 15l46 22l88 37l30 13h-738l-22-11l-20-11l-16-12l-14-12l-17-20l-15-23l-15-31l-19-44z"/>
<path fill="#3271c7" d="M116 -8h701l36 16l27 14l24 16l18 16l12 13l12 15l20 34v698l-38-88l-26-50l-14-23l-15-21l-17-19l-17-17l-17-15l-18-13l-20-13l-22-12l-44-21l-93-40l-37-19l-16-10l-14-10l-12-11l-11-12l-18-24l-17-29l-14-31l-38-86l-24-48l-14-22l-14-20l-15-18l-15-16l-18-16l-18-14l-20-13l-24-14l-39-19l-94-40zM-8 90l11 18l11 22l44 101l23 45l13 23l14 20l14 18l16 17l16 15l18 15l20 14l22 13l48 24l86 37l31 14l29 16l24 18l13 12l11 12l11 14l10 16l18 36l41 94l22 44l13 22l13 20l14 18l16 18l16 16l20 16l22 16l24 14l48 24l107 46h-704l-27-13l-22-13l-18-13l-17-15l-17-20l-17-26l-16-32l-21-48z"/>
<path fill="#3274c9" d="M131 -8h671l39 18l29 15l24 16l20 17l14 15l14 17l12 19l12 23v667l-37-83l-25-48l-14-22l-15-20l-16-18l-17-17l-16-13l-18-14l-40-24l-42-20l-92-41l-37-19l-17-11l-14-10l-14-13l-12-12l-18-24l-18-31l-15-31l-39-86l-24-46l-12-20l-14-20l-15-18l-15-15l-18-16l-18-14l-20-14l-22-12l-40-20l-86-38zM-8 106v-2l6 10l13 26l44 98l23 44l13 22l14 20l14 18l15 16l16 15l18 15l18 12l22 14l46 23l86 38l31 15l31 18l25 18l13 12l12 14l21 30l20 38l41 92l21 42l25 40l14 18l14 16l18 17l18 15l20 15l24 14l48 25l100 44h-674l-30-15l-24-14l-21-15l-18-16l-19-22l-18-28l-18-34l-22-50z"/>
<path fill="#3277cb" d="M145 -8h643l43 20l31 17l26 17l21 18l15 16l14 18l14 22l14 26v638l-36-78l-25-46l-13-20l-15-20l-16-18l-17-16l-33-26l-39-24l-40-19l-90-41l-38-20l-32-22l-13-12l-13-13l-20-26l-18-31l-16-31l-40-87l-23-44l-13-20l-14-20l-14-16l-15-16l-16-14l-18-14l-19-13l-22-13l-40-20l-82-37zM-8 118l18 33l43 93l21 42l13 22l14 20l15 18l14 16l15 14l17 14l20 14l20 12l44 23l86 39l32 16l32 18l24 18l13 12l12 14l13 16l10 16l21 38l42 92l21 41l25 39l13 17l14 16l17 17l19 16l20 14l22 14l46 24l93 42h-644l-35-17l-26-15l-22-16l-20-18l-20-23l-19-29l-18-34l-25-55z"/>
<path fill="#327acd" d="M159 -8h616l47 22l32 17l28 19l22 19l16 17l16 21l15 23l15 29v612l-33-71l-26-46l-13-20l-14-18l-16-18l-16-16l-32-25l-38-23l-39-20l-89-41l-38-20l-17-11l-16-12l-15-13l-13-13l-20-26l-20-32l-16-32l-40-86l-24-44l-12-20l-14-18l-13-16l-16-16l-16-15l-17-13l-41-26l-40-20zM-8 132v-1l2 3l13 24l43 93l22 41l12 20l14 20l14 18l14 15l16 15l16 13l38 26l44 23l86 39l32 16l31 19l27 20l14 14l12 13l12 16l12 17l20 38l42 90l21 40l24 38l26 32l17 17l18 15l19 14l21 13l46 25l88 40h-618l-37-18l-28-16l-23-16l-22-20l-22-26l-20-30l-19-36l-27-58z"/>
<path fill="#327dd0" d="M172 -8h590l50 24l34 18l30 20l24 20l18 20l16 21l16 26l16 31v586l-32-68l-25-44l-14-20l-14-18l-15-16l-16-15l-32-25l-36-22l-38-19l-86-40l-40-22l-18-11l-16-12l-14-13l-14-14l-21-27l-20-32l-17-33l-40-85l-24-44l-13-20l-13-17l-14-17l-14-14l-32-27l-40-25l-40-21zM-8 144l16 30l43 90l18 34l25 38l14 18l14 15l31 27l37 25l42 23l86 40l34 17l32 19l28 22l14 13l12 14l12 15l12 18l22 40l42 88l19 38l24 38l25 30l16 17l18 15l19 14l21 14l46 25l81 37h-592l-41-20l-30-17l-26-19l-22-20l-22-25l-20-31l-20-37l-30-64z"/>
<path fill="#3582d2" d="M184 -8h565l55 26l36 19l30 20l24 21l19 20l18 24l17 28l18 34v562l-31-64l-25-44l-13-18l-14-18l-15-16l-15-14l-31-24l-36-22l-36-18l-86-40l-40-22l-34-24l-14-12l-14-14l-22-28l-22-34l-17-34l-41-85l-24-43l-25-36l-27-30l-16-14l-16-12l-38-25l-40-21zM-8 156l14 26l41 86l18 34l25 38l14 17l14 16l30 26l36 25l42 23l86 40l34 17l34 21l27 21l15 14l12 14l12 16l12 18l23 40l42 88l19 37l24 37l24 30l16 16l16 14l18 14l20 13l45 25l77 36h-566l-44-21l-33-19l-27-19l-23-21l-23-27l-22-33l-20-37l-32-68z"/>
<path fill="#3888d4" d="M196 -8h541l59 28l36 19l31 21l26 22l21 22l19 26l18 30l19 37v537l-29-60l-25-42l-13-18l-13-17l-14-15l-16-14l-30-23l-34-21l-36-19l-86-40l-40-22l-18-12l-17-13l-15-13l-14-14l-22-27l-22-35l-18-34l-41-85l-23-42l-25-36l-27-30l-32-26l-36-23l-40-21zM-8 168l12 22l40 83l19 35l25 38l26 30l30 27l36 24l41 23l85 40l34 17l34 21l28 22l15 14l13 15l13 17l12 18l23 41l41 85l19 36l22 36l24 30l16 16l16 14l18 14l20 14l44 24l72 34h-542l-46-22l-35-20l-29-20l-24-22l-24-28l-23-34l-20-38l-35-72z"/>
<path fill="#3b8dd6" d="M208 -8h517l63 30l38 20l32 21l27 23l21 23l20 27l19 32l21 40v514l-29-58l-24-40l-13-18l-13-16l-29-28l-28-21l-34-21l-35-18l-84-40l-41-22l-18-12l-18-13l-16-14l-14-14l-23-29l-21-34l-18-34l-42-86l-23-42l-24-34l-27-29l-30-26l-36-23l-40-21zM-8 180v-2l9 18l41 84l18 34l24 36l26 30l29 26l35 24l40 22l88 42l34 17l34 22l28 21l14 14l14 16l14 18l12 18l23 40l41 86l19 36l22 34l23 30l14 14l16 15l17 13l19 13l44 25l68 32h-518l-50-24l-36-20l-30-21l-26-23l-26-30l-22-34l-20-38l-38-78z"/>
<path fill="#3e93d8" d="M220 -8h493l67 32l38 20l34 22l29 24l22 24l21 29l20 33l22 44v490l-27-54l-25-40l-25-32l-14-14l-15-14l-28-20l-33-20l-33-17l-84-40l-40-22l-36-25l-16-14l-14-14l-24-29l-22-35l-20-36l-41-86l-23-41l-24-34l-26-28l-29-25l-35-23l-40-21zM-8 190l44 90l20 38l24 36l26 30l29 26l35 24l40 22l85 40l35 18l35 22l29 23l16 15l14 16l14 18l11 18l23 40l42 86l18 34l21 34l22 28l13 14l16 15l17 13l19 13l42 24l64 31h-494l-54-26l-38-21l-32-23l-27-24l-25-29l-23-35l-21-39l-40-82z"/>
<path fill="#4199da" d="M232 -8h470l71 34l39 21l36 23l28 24l24 26l22 30l20 34l24 48v466l-26-51l-23-37l-25-31l-28-27l-28-20l-32-19l-32-17l-84-40l-40-22l-20-13l-18-13l-16-14l-14-14l-25-30l-23-36l-19-36l-42-86l-22-40l-23-33l-26-28l-28-24l-34-22l-39-21zM-8 202l42 86l20 36l22 34l26 30l28 25l34 23l40 22l86 41l36 19l36 23l29 23l15 14l14 16l14 18l12 19l23 41l41 84l18 34l20 33l22 28l14 15l14 13l16 13l18 13l42 24l60 29h-470l-58-28l-40-22l-34-24l-27-24l-26-30l-23-36l-21-38l-43-89z"/>
<path fill="#449edd" d="M243 -8h447l78 37l39 21l35 23l30 25l24 26l23 32l21 36l26 52v442l-25-48l-23-36l-24-30l-28-26l-26-18l-32-19l-32-17l-81-38l-41-22l-20-13l-18-13l-16-14l-16-16l-25-30l-23-36l-20-38l-42-86l-22-40l-23-32l-25-28l-28-23l-32-21l-38-20zM-8 214v-2l2 4l38 80l19 34l22 34l25 29l28 24l33 23l39 21l86 41l36 19l37 23l30 24l15 14l14 16l14 18l13 20l23 42l41 84l17 32l20 33l21 27l13 15l14 13l16 13l18 12l40 24l56 27h-446l-63-30l-41-23l-34-23l-29-26l-15-16l-12-16l-24-36l-20-38l-46-94z"/>
<path fill="#48a4df" d="M255 -8h423l82 39l40 21l37 24l31 26l26 28l23 32l22 38l27 56v418l-23-44l-22-34l-23-28l-28-26l-26-19l-32-18l-109-53l-39-21l-36-23l-30-26l-14-14l-13-16l-25-36l-22-40l-41-84l-17-33l-20-33l-22-28l-14-14l-14-13l-17-13l-17-12l-42-23zM-8 224l34 72l21 38l22 34l24 28l27 24l32 22l40 22l86 41l38 20l37 23l30 24l17 16l14 16l13 18l13 20l24 42l40 84l17 32l19 31l20 27l26 27l32 24l38 23l54 26h-422l-68-32l-42-23l-36-25l-29-26l-15-16l-12-16l-25-38l-19-36l-50-102z"/>
<path fill="#4cabe1" d="M267 -8h399l89 42l41 22l38 24l31 26l25 28l24 34l23 40l29 60v394l-22-42l-22-33l-23-27l-27-24l-24-17l-30-17l-110-53l-39-21l-37-24l-30-25l-14-15l-14-16l-25-36l-23-42l-39-82l-17-33l-20-33l-20-26l-14-15l-14-13l-33-24l-39-22zM-8 236l32 68l20 37l21 31l23 28l27 24l32 22l39 21l87 41l38 20l37 23l32 25l16 16l14 16l14 19l14 21l23 42l39 82l17 32l18 30l19 26l26 27l30 24l36 22l52 25h-398l-72-34l-44-24l-36-24l-16-13l-15-15l-15-16l-13-16l-25-39l-20-37l-36-76l-16-31z"/>
<path fill="#5cb9e1" d="M285 -8h363l98 46l40 20l40 26l32 26l14 14l14 17l13 17l13 20l23 42l31 65v360l-21-39l-20-30l-23-26l-24-21l-24-16l-29-17l-107-50l-42-22l-37-24l-31-26l-15-16l-14-16l-13-18l-13-20l-23-43l-39-83l-17-32l-18-31l-19-25l-26-26l-31-23l-38-22zM-8 254l34 70l21 38l23 32l14 15l14 13l26 19l32 20l32 16l85 39l43 23l38 26l16 13l16 15l27 31l24 36l22 42l52 108l17 30l18 25l24 26l29 23l35 21l46 23h-362l-80-37l-44-23l-20-13l-19-13l-17-14l-16-15l-14-16l-14-17l-26-40l-19-36l-39-83l-18-35z"/>
<path fill="#72cbe1" d="M320 -8h294l34 17l85 37l39 20l22 13l20 13l18 14l16 14l16 16l15 18l13 18l14 22l24 46l36 80v290l-17-30l-18-26l-21-22l-22-18l-22-14l-26-14l-104-46l-44-23l-22-13l-18-12l-18-14l-16-14l-16-16l-15-18l-14-20l-13-21l-23-45l-52-112l-17-30l-16-23l-22-23l-28-22l-34-20zM-8 286l26 58l21 38l11 16l11 14l12 12l13 12l24 17l30 17l30 15l86 38l46 23l22 14l20 14l17 14l16 16l15 16l12 16l14 20l12 20l22 42l49 108l15 27l15 23l21 23l24 21l30 19l39 19h-292l-97-43l-46-24l-22-13l-20-14l-20-16l-17-16l-15-17l-14-18l-13-19l-13-22l-21-42l-43-94l-20-38z"/>
<path fill="#84d7d9" d="M361 -8h211l36 18l100 40l46 22l24 13l22 14l20 15l18 16l18 18l16 20l15 22l14 24l25 50l40 98v206l-13-22l-14-18l-16-16l-19-14l-20-11l-22-11l-104-42l-48-22l-24-14l-22-14l-18-14l-18-16l-17-18l-17-20l-14-21l-14-24l-24-49l-47-112l-13-26l-13-20l-19-22l-22-17l-28-16zM-8 326l21 50l17 31l18 25l10 10l12 11l22 14l26 14l116 47l50 24l24 14l22 15l20 16l18 17l16 18l13 18l14 20l13 24l23 48l44 106l12 24l11 18l16 20l19 18l23 15l30 15h-206l-32-14l-90-36l-48-23l-25-15l-23-16l-20-16l-18-17l-15-17l-15-19l-13-21l-13-22l-23-48l-45-108l-12-24l-12-19z"/>
<path fill="#92ddca" d="M431 -8h72l11 9l20 9l104 32l48 16l44 18l36 18l32 21l28 23l26 28l23 32l22 38l19 44l19 54l31 101v60l-6-6l-6-5l-18-8l-130-40l-36-13l-32-14l-28-13l-26-16l-23-16l-21-18l-21-22l-19-24l-17-28l-17-32l-12-28l-13-34l-39-124l-5-16l-6-12l-7-10l-12-9l-16-7zM-8 386l13 44l9 22l8 14l10 9l12 6l18 7l88 26l42 14l32 12l30 13l32 16l28 18l24 19l23 22l19 22l16 23l15 27l15 30l23 60l35 113l10 27l6 10l6 6l8 6l12 6h-54l-25-10l-105-32l-56-20l-44-19l-36-21l-31-22l-28-26l-17-20l-14-20l-15-24l-13-26l-14-32l-14-38l-43-134l-5-12l-6-8l-6-6l-8-6z"/>
<path fill="#9fe2bd" d="M584 58h26l36 7l40 11l38 14l32 16l29 18l25 20l23 22l22 28l19 32l18 38l14 40l10 40l4 34l-1 14l-2 10l-3 8l-6 7l-8 6l-11 3l-13 1h-16l-20-3l-22-4l-48-15l-42-17l-35-20l-31-22l-28-27l-14-17l-13-18l-12-20l-11-22l-10-24l-10-26l-7-26l-6-24l-3-20l-1-16l1-14l3-12l4-8l7-7l10-5zM100 534l12-1h14l34 5l40 11l40 15l32 15l30 18l26 20l24 23l22 28l20 32l17 36l15 40l10 42l5 34l-1 14l-2 10l-4 10l-4 6l-8 5l-10 4l-14 2l-16-1l-18-2l-22-4l-48-14l-42-17l-36-20l-32-23l-28-26l-13-16l-13-18l-12-19l-11-21l-10-22l-9-24l-8-24l-7-26l-4-22l-1-18v-14l2-13l4-9l7-8l9-5z"/>
<path fill="#a4e4b6" d="M616 88l22-1l28 3l30 8l32 12l27 14l25 16l24 19l20 21l20 26l16 28l14 32l10 32l6 30v26l-4 18l-5 8l-5 6l-8 5l-10 4l-12 3h-12l-16-1l-18-3l-36-9l-35-15l-32-18l-29-22l-24-24l-13-16l-11-16l-19-34l-8-20l-7-20l-5-20l-3-18l-2-16l1-14l2-12l4-10l5-8l8-7l8-4zM133 564l23-2l26 3l30 7l33 12l28 14l26 16l23 18l21 22l20 26l17 28l14 32l11 32l5 30l1 26l-2 10l-3 10l-5 8l-5 6l-8 5l-10 4l-12 2l-12 1l-16-1l-16-3l-38-10l-34-14l-32-18l-28-21l-25-25l-23-31l-10-17l-10-18l-14-38l-6-20l-3-18l-2-16v-14l2-12l3-10l5-8l7-8l8-4z"/>
<path fill="#a8e5af" d="M641 116l19-2l22 2l24 6l24 9l24 13l21 14l19 16l18 19l16 21l14 25l11 25l7 26l3 22l-2 20l-5 16l-4 6l-6 6l-8 5l-8 3l-10 2l-12 1l-26-3l-28-8l-28-12l-26-15l-24-19l-21-22l-19-26l-16-30l-10-30l-5-28l-1-12l1-12l3-10l4-8l6-8l6-5l8-4zM171 590h19l22 4l24 7l24 10l22 13l20 14l18 17l16 18l15 21l13 24l10 24l7 26l2 22l-1 20l-6 14l-4 6l-6 6l-8 5l-10 3l-10 2h-12l-26-3l-30-9l-28-13l-27-17l-23-19l-21-23l-19-28l-14-30l-10-32l-2-14l-1-14l1-12l2-10l3-8l5-8l6-6l8-5l10-3z"/>
<path fill="#ade6a8" d="M665 146l15-2l16 1l18 5l18 7l18 9l17 12l15 13l14 15l12 16l10 18l8 19l5 19l2 18l-2 14l-5 12l-8 9l-13 7l-17 3l-20-2l-20-5l-22-10l-20-12l-19-16l-17-18l-14-20l-11-22l-8-22l-3-20l2-18l6-14l9-10zM193 620h15l16 2l18 6l18 8l18 10l16 12l14 14l12 14l11 16l10 18l7 18l4 18l1 16l-2 14l-5 12l-8 9l-6 4l-8 3l-16 2l-20-2l-22-6l-22-10l-22-14l-18-16l-16-18l-15-22l-10-22l-7-24l-1-20l3-16l4-8l4-5l5-5l7-4z"/>
<path fill="#b1e8a2" d="M695 184l9-1l10 1l10 3l12 5l20 13l10 9l8 9l8 11l5 10l4 12l2 10v10l-2 8l-3 7l-5 5l-9 4l-10 2l-12-1l-12-4l-14-6l-12-8l-12-11l-9-10l-9-14l-6-12l-3-12l-1-12l1-10l4-8l7-6zM213 660l9-2l10 1l10 2l12 5l20 12l10 9l9 9l7 10l7 12l4 12l3 10v10l-1 8l-4 8l-5 5l-8 4l-10 2l-12-1l-12-3l-12-5l-13-8l-11-9l-10-11l-9-12l-7-13l-4-13l-2-12l2-12l3-8l6-6z"/>
<path fill="#3262bb" d="M-8 -8h31l11 9l20 9l106 32l52 18l34 14l28 14l25 14l23 16l27 22l24 26l21 29l19 33l17 36l16 42l43 136l8 18l8 10l11 8l18 7l126 39l38 14l32 13l30 15l28 17l24 18l21 19l23 26l22 32l20 36l17 40l19 54l32 103v47h-15l-27-11l-98-29l-54-19l-32-13l-28-14l-26-15l-22-15l-26-23l-24-25l-20-28l-20-34l-16-35l-16-41l-44-139l-8-17l-8-10l-11-8l-17-7l-126-39l-38-13l-32-14l-30-15l-28-17l-24-18l-22-19l-18-20l-18-24l-16-26l-15-30l-14-32l-13-36l-41-130l-5-12l-6-10l-8-8l-8-5zM910 -8h56v28l-8-8l-10-6l-16-7zM-8 862l16 51l9 21l6 8l6 6l7 5l11 5h-55z"/>
<path fill="#325fb9" d="M71 34h13l16 2l46 10l48 14l44 17l36 17l30 18l27 20l25 23l24 29l20 32l19 38l17 42l16 54l10 48l2 16v14l-2 9l-4 7l-8 5l-10 2h-14l-20-3l-26-5l-30-8l-58-18l-44-19l-36-20l-32-23l-27-25l-15-17l-14-19l-13-20l-12-22l-11-24l-11-26l-19-58l-7-28l-5-26l-2-20v-14l3-10l5-6l8-4zM544 510l12-1l16 2l42 8l50 14l48 17l38 18l32 18l27 20l25 23l24 29l21 32l19 38l17 42l16 54l11 50l2 18l-1 12l-2 10l-5 6l-6 4l-12 2h-14l-20-3l-26-5l-30-7l-56-19l-42-17l-36-20l-32-22l-28-25l-14-16l-14-18l-12-18l-11-20l-21-46l-19-54l-9-30l-6-28l-4-22l-1-18l2-12l3-8l6-5z"/>
<path fill="#325db7" d="M94 50l28 1l38 7l42 12l40 15l32 15l30 19l26 19l24 24l24 30l20 32l18 38l15 40l11 44l6 38v14l-1 12l-4 10l-5 6l-8 5l-10 3l-14 1l-18-1l-22-3l-24-6l-50-15l-42-18l-36-19l-32-23l-28-27l-14-17l-14-19l-13-21l-11-22l-11-24l-10-26l-8-28l-7-26l-4-22l-2-18v-16l2-12l5-10l7-6l9-4zM569 526l13-1l14 1l36 6l42 11l42 15l34 16l30 18l28 21l24 23l23 28l20 32l19 38l15 40l12 46l6 38l1 14l-2 12l-3 10l-5 7l-8 5l-10 3l-14 2l-16-1l-20-3l-24-5l-26-7l-26-9l-42-17l-38-21l-31-22l-28-26l-14-16l-13-18l-13-20l-12-22l-11-24l-9-24l-9-26l-7-26l-4-22l-3-20l-1-16l1-14l4-10l6-8l8-5z"/>
<path fill="#325bb6" d="M104 64l12-1h12l34 4l38 10l38 13l32 15l30 18l26 20l24 23l23 28l19 32l17 36l14 40l10 40l3 32l-1 12l-2 10l-5 10l-5 6l-9 6l-10 3l-12 1h-16l-18-2l-22-4l-44-13l-40-16l-36-20l-32-23l-26-25l-14-17l-12-16l-12-20l-11-20l-10-22l-9-24l-7-24l-5-22l-4-20l-1-18v-14l2-12l4-10l7-8l8-5zM594 538l28 1l34 7l36 10l36 14l31 16l28 18l25 20l22 22l21 28l19 32l16 36l14 40l8 38l3 18v14l-1 12l-3 10l-4 8l-5 6l-8 5l-10 3l-14 2l-16-1l-20-2l-22-5l-46-13l-39-17l-35-20l-32-24l-26-26l-14-17l-13-19l-12-20l-11-22l-10-24l-8-24l-7-24l-4-24l-3-18v-16l2-14l3-10l6-8l8-6l10-4z"/>
<path fill="#3259b4" d="M130 74l26 1l32 6l34 10l32 13l28 15l26 17l22 18l21 22l21 28l17 30l16 34l11 36l7 34l1 28l-1 10l-3 10l-5 8l-5 6l-8 5l-10 4l-12 2h-16l-18-2l-20-4l-42-12l-38-16l-34-20l-30-23l-26-26l-14-18l-12-18l-11-20l-9-20l-9-22l-7-22l-6-24l-3-20l-1-16l1-14l2-12l5-10l6-7l8-5l10-4zM603 550h25l30 4l34 9l34 13l30 15l27 17l23 19l22 22l21 27l18 30l16 34l12 36l7 34l2 28l-2 12l-2 10l-4 8l-6 7l-8 5l-10 4l-12 2h-16l-18-1l-18-4l-42-12l-38-15l-34-20l-30-22l-26-26l-13-16l-12-18l-11-18l-10-20l-9-22l-8-22l-6-22l-4-22l-1-18v-14l1-12l4-10l5-8l8-7l10-5z"/>
<path fill="#3158b3" d="M133 86l23-1l28 3l30 8l32 12l28 13l26 17l24 19l20 21l20 26l18 30l14 32l11 32l5 32l1 26l-2 10l-3 9l-4 7l-6 7l-8 5l-10 4l-12 2h-14l-16-1l-18-3l-36-10l-34-14l-32-18l-29-22l-25-25l-12-15l-12-16l-10-18l-9-18l-9-20l-7-20l-5-20l-3-18l-2-18v-14l2-12l4-10l5-8l8-7l8-4zM627 560l25 2l30 6l30 10l28 12l26 14l24 17l21 19l19 21l18 25l17 30l13 32l10 32l4 30v24l-2 10l-3 8l-5 7l-6 6l-8 5l-12 4l-12 2h-14l-18-2l-18-4l-38-11l-34-16l-32-19l-28-22l-24-26l-12-16l-12-18l-11-20l-9-20l-8-22l-6-20l-4-20l-2-18v-14l2-12l4-12l5-8l7-6l10-6l12-3z"/>
<path fill="#3156b1" d="M142 92l22-1l28 4l28 7l30 12l28 14l24 16l22 18l19 20l19 25l16 28l14 31l9 30l5 30v24l-4 18l-5 8l-5 6l-8 5l-10 4l-12 2l-14 1l-16-1l-16-3l-36-10l-33-14l-31-18l-28-22l-23-24l-23-31l-10-17l-9-18l-7-18l-7-20l-4-18l-3-18l-1-14l1-14l3-12l4-10l6-8l7-5l10-5zM618 568l22-2l28 4l30 7l29 11l27 14l25 16l23 18l20 21l19 25l16 28l14 30l10 32l5 30v24l-2 10l-3 8l-5 8l-6 6l-8 5l-10 4l-12 2h-12l-30-3l-36-10l-34-14l-30-17l-28-21l-24-24l-13-16l-11-16l-18-34l-8-19l-6-19l-5-18l-3-18l-1-14v-14l2-12l4-10l5-8l7-6l9-5z"/>
<path fill="#3152af" d="M167 108l21 1l24 4l26 8l24 11l22 13l21 15l19 17l16 18l16 23l14 26l10 26l7 26l3 24l-2 20l-2 8l-4 8l-9 10l-7 5l-10 4l-12 2h-12l-28-3l-32-10l-30-13l-27-17l-25-21l-22-23l-20-30l-15-32l-7-18l-4-16l-3-16l-1-14l1-12l2-12l4-8l5-8l8-7l8-5l10-3zM640 584l20-1l24 4l26 7l24 10l24 13l22 15l20 17l17 19l17 23l14 25l11 28l7 26l3 24l-1 20l-6 16l-4 6l-6 6l-8 5l-9 3l-11 2l-12 1l-28-4l-32-9l-28-12l-28-17l-24-20l-22-23l-20-28l-16-32l-6-16l-6-18l-3-16l-1-14v-12l2-12l3-10l4-8l7-7l7-5l9-4z"/>
<path fill="#314fad" d="M177 126l17-1l20 3l22 6l22 10l20 11l18 13l18 16l16 18l14 20l12 22l9 22l5 22l2 20l-2 18l-6 14l-8 9l-8 5l-8 3l-20 3l-24-3l-26-7l-26-12l-24-15l-22-18l-19-21l-17-24l-14-28l-9-28l-3-26l2-20l3-8l5-8l6-6l6-4l8-4zM652 602l18-1l20 2l22 6l22 8l20 11l20 14l18 16l15 16l15 20l12 22l9 22l6 22l3 20l-2 18l-4 14l-4 6l-6 6l-6 4l-9 4l-19 3l-24-2l-26-7l-26-11l-24-15l-22-17l-20-21l-18-26l-14-26l-8-26l-5-26v-12l2-10l2-8l5-8l4-6l8-6l8-4z"/>
<path fill="#314caa" d="M186 146l14-2l16 1l18 4l18 7l18 10l18 12l16 14l13 14l13 18l10 18l7 18l5 18l1 18l-2 14l-5 12l-8 10l-12 6l-18 3l-20-2l-20-6l-22-9l-20-13l-19-15l-16-18l-14-20l-12-22l-7-22l-3-20l1-18l6-14l10-10zM673 620h15l16 2l18 6l18 8l17 10l16 12l15 14l12 14l11 16l9 18l7 18l5 18l1 16l-2 14l-5 12l-8 8l-6 4l-8 4l-16 2l-20-2l-23-6l-22-10l-21-14l-19-16l-16-18l-14-22l-11-22l-6-23l-2-21l2-10l2-7l3-7l5-6l12-8z"/>
<path fill="#3049a8" d="M201 168l11-2l12 1l14 3l14 5l14 7l14 10l12 10l11 12l9 12l8 14l6 14l4 14l1 12l-1 12l-4 10l-6 8l-10 6l-12 3l-16-1l-16-4l-16-7l-16-9l-14-12l-14-14l-12-16l-8-16l-7-18l-2-16l1-12l4-12l8-8zM687 642h11l14 2l14 4l13 6l13 8l12 9l12 11l10 12l8 12l8 15l5 13l3 14v12l-1 10l-5 10l-6 6l-11 6l-13 2l-16-1l-16-5l-17-8l-16-10l-15-13l-13-15l-11-17l-8-17l-4-16l-1-16l3-14l6-10l10-7z"/>
<path fill="#3047a6" d="M226 196h8l8 1l16 6l16 11l14 16l9 16l4 16v8l-2 6l-3 5l-4 4l-6 3l-8 1l-10-1l-10-3l-10-5l-10-6l-9-8l-8-10l-7-10l-4-10l-3-10v-10l2-8l5-6l5-4zM703 672l7-1l8 1l16 5l17 11l14 14l11 18l4 16l1 8l-2 6l-3 6l-4 4l-6 3l-8 2l-10-1l-10-3l-10-5l-9-6l-9-7l-8-9l-7-10l-5-10l-3-10l-1-10l2-8l3-6l5-5z"/>
</g></g><path fill-rule="evenodd" fill="#231f20" d="M1356.6 909H1850.7V1399H1356.6ZM1364.6 917H1844V1392.4H1364.6Z"/><circle cx="1424" cy="975" r="47" fill="#fff"/><text x="1397" y="988" font-size="70" font-style="italic">h</text><text x="1430" y="1010" font-size="54">4</text>
<clipPath id="c5"><rect x="0" y="0" width="963.4000000000001" height="948.0"/></clipPath>
<g transform="translate(1862.7,915.3) scale(0.5)"><g clip-path="url(#c5)" stroke="#16221c" stroke-width="1.6" stroke-opacity="0.75" stroke-linejoin="round">
<rect x="-8" y="-8" width="979" height="964" fill="#303ea2" stroke="none"/>
<path fill="#3041a4" d="M45 -8h927v825zM-8 38l980 872v46h-882l-98-87z"/>
<path fill="#3042a5" d="M52 -8h918l2 2v817zM-8 46l980 872v38h-875l-105-93z"/>
<path fill="#3045a7" d="M59 -8h902l7 6l4 3v803zM-8 54l980 871v31h-868l-112-100z"/>
<path fill="#3047a8" d="M67 -8h885l12 10l8 7v789zM-8 62l980 871v23h-860l-120-107z"/>
<path fill="#3149aa" d="M74 -8h870l28 25v774zM-8 70l980 871v15h-853l-127-113z"/>
<path fill="#314bab" d="M81 -8h854l29 26l8 7v760zM-8 78v-1l980 872v7h-846l-134-120z"/>
<path fill="#314dad" d="M89 -8h837l42 38l4 3v745zM-8 86v-1l979 871h-837l-142-126z"/>
<path fill="#314fae" d="M96 -8h821l51 45l4 4v731zM-8 94v-1l970 863h-821l-149-133z"/>
<path fill="#3151b0" d="M103 -8h805l5 4l59 53v716zM-8 102v-1l961 855h-805l-156-139z"/>
<path fill="#3153b1" d="M111 -8h788l20 18l53 47v701zM-8 110v-1l952 847h-788l-164-146z"/>
<path fill="#3255b3" d="M118 -8h772l74 66l8 7v687zM-8 118v-1l943 839h-772l-171-152z"/>
<path fill="#3257b4" d="M125 -8h756l9 8l82 73v672zM-8 126v-2l934 832h-756l-178-159z"/>
<path fill="#3259b6" d="M133 -8h739l12 10l88 79v658zM-8 134v-2l925 824h-739l-186-165z"/>
<path fill="#325cb8" d="M140 -8h724l8 7l100 89v644zM-8 142v-2l917 816h-724l-193-172z"/>
<path fill="#325fba" d="M147 -8h708l21 19l96 85v630zM-8 150v-2l908 808h-708l-200-178z"/>
<path fill="#3262bc" d="M155 -8h691l54 48l72 64v615zM-8 158v-2l899 800h-691l-208-185z"/>
<path fill="#3265be" d="M162 -8h675l115 102l20 18v601zM-8 164l890 792h-675l-215-191z"/>
<path fill="#3268c1" d="M169 -8h659l72 64l72 64v586zM-8 172l881 784h-659l-222-198z"/>
<path fill="#326bc3" d="M177 -8h642l41 36l112 100v572zM-8 180l872 776h-642l-230-204z"/>
<path fill="#326ec5" d="M184 -8h626l158 140l4 4v557zM-8 188l863 768h-626l-237-211z"/>
<path fill="#3271c7" d="M191 -8h610l167 148l4 4v543zM-8 196l854 760h-610l-244-218z"/>
<path fill="#3274ca" d="M199 -8h594l175 156l4 4v528zM-8 204l845 752h-593l-252-224z"/>
<path fill="#3277cc" d="M206 -8h578l132 118l56 50v514zM-8 212l837 744h-578l-259-231z"/>
<path fill="#327bce" d="M214 -8h561l67 60l130 116v499zM-8 220l828 736h-562l-266-237z"/>
<path fill="#327ed0" d="M221 -8h545l106 94l100 89v486zM-8 228l819 728h-545l-274-244z"/>
<path fill="#3583d2" d="M228 -8h529l207 184l8 7v471zM-8 236l810 720h-529l-281-250z"/>
<path fill="#3787d3" d="M236 -8h512l120 107l104 92v456zM-8 244v-1l801 713h-513l-288-257z"/>
<path fill="#3a8cd5" d="M243 -8h496l128 114l105 93v442zM-8 252v-1l792 705h-496l-296-263z"/>
<path fill="#3c91d7" d="M250 -8h480l21 18l221 197v427zM-8 260v-1l783 697h-480l-303-270z"/>
<path fill="#3f96d8" d="M258 -8h463l171 152l80 71v413zM-8 268v-1l774 689h-464l-310-276z"/>
<path fill="#419bda" d="M265 -8h448l94 84l165 147v398zM-8 276v-1l766 681h-448l-318-283z"/>
<path fill="#449fdb" d="M272 -8h432l197 176l71 63v384zM-8 284v-1l757 673h-432l-325-289z"/>
<path fill="#46a4dd" d="M280 -8h415l65 58l212 189v369zM-8 292v-2l748 666h-416l-332-296z"/>
<path fill="#49a9de" d="M287 -8h399l278 247l8 8v355zM-8 300v-2l739 658h-399l-340-302z"/>
<path fill="#4faede" d="M294 -8h383l115 102l180 160v341zM-8 308v-2l730 650h-383l-347-309z"/>
<path fill="#55b3df" d="M302 -8h366l32 28l272 242v327zM-8 316v-2l721 642h-366l-355-316z"/>
<path fill="#5bb8df" d="M309 -8h350l151 134l162 144v312zM-8 324v-2l712 634h-350l-362-322z"/>
<path fill="#61bde0" d="M316 -8h334l9 8l313 278v298zM-8 332v-2l703 626h-334l-369-329z"/>
<path fill="#67c2e0" d="M324 -8h318l240 214l90 80v283zM-8 338l694 618h-317l-377-335z"/>
<path fill="#6dc7e0" d="M331 -8h302l335 298l4 4v269zM-8 346l686 610h-302l-384-342z"/>
<path fill="#73cce1" d="M338 -8h286l83 74l265 236v254zM-8 354l677 602h-286l-391-348z"/>
<path fill="#79d1e1" d="M346 -8h269l135 120l222 198v239zM-8 362l668 594h-269l-399-355z"/>
<path fill="#7fd5dc" d="M353 -8h253l362 322l4 4v225zM-8 370l659 586h-253l-406-361z"/>
<path fill="#85d7d6" d="M360 -8h237l279 248l96 86v210zM-8 378l650 578h-237l-413-368z"/>
<path fill="#8adad1" d="M368 -8h220l380 338l4 4v196zM-8 386l641 570h-220l-421-374z"/>
<path fill="#90ddcb" d="M375 -8h204l385 342l8 7v182zM-8 394l632 562h-204l-428-381z"/>
<path fill="#96e0c5" d="M382 -8h188l394 350l8 7v168zM-8 402l623 554h-188l-435-387z"/>
<path fill="#9ce3bf" d="M390 -8h172l406 362l4 3v153zM-8 410l615 546h-172l-443-394z"/>
<path fill="#a1e6ba" d="M397 -8h156l415 370l4 3v139zM-8 418v-1l606 539h-156l-450-400z"/>
<path fill="#a3e6b7" d="M404 -8h140l40 36l388 345v124zM-8 426v-1l597 531h-140l-457-407z"/>
<path fill="#a5e7b5" d="M412 -8h123l349 311l88 78v110zM-8 434v-1l588 523h-123l-465-413z"/>
<path fill="#abe9ac" d="M419 -8h107l288 256l158 141v95zM-8 442v-1l579 515h-107l-472-420z"/>
</g></g><path d="M2350 1397.5H2366" stroke="#231f20" stroke-width="1.5"/><path fill-rule="evenodd" fill="#231f20" d="M1856.3 908H2349.8V1398H1856.3ZM1862.7 915.3H2344.4V1389.3H1862.7Z"/><circle cx="1917" cy="975" r="47" fill="#fff"/><text x="1890" y="988" font-size="70" font-style="italic">h</text><text x="1924" y="1008" font-size="54">5</text>
<clipPath id="d1"><rect x="0" y="0" width="923.8" height="1562.4"/></clipPath>
<g transform="translate(27.6,1534.8) scale(0.5)"><g clip-path="url(#d1)" stroke="#16221c" stroke-width="2.4" stroke-opacity="0.88" stroke-linejoin="round">
<rect x="-8" y="-8" width="939" height="1578" fill="#98d8d6" stroke="none"/>
<path fill="#98d8d6" d="M-8 -8h390l-1 20l-2 12l-24 58l-43 81l-58 103l-38 54l-10 9l-32 19l-12 4l-48 6l-58-1l-64 1zM546 -8h386v366l-62-1l-56 1l-50-6l-10-4l-18-10l-15-10l-9-8l-38-53l-58-103l-43-80l-24-60l-3-12zM309 428l15-2l52 2l88-2l80 2l60-2l48 6l12 4l32 20l10 9l36 50l58 103l44 82l24 58l3 14v42l-2 12l-8 20l-17 42l-43 80l-59 104l-36 51l-10 9l-32 19l-12 4l-50 6l-58-1l-80 1l-88-1l-50 1l-50-6l-12-4l-32-19l-12-11l-34-48l-58-103l-44-82l-26-62l-2-12v-16v-24l3-14l23-58l44-82l58-103l36-51l11-10l33-20l11-4zM-8 1230l70 1l50-2l50 6l12 4l34 21l10 10l34 48l57 100l46 86l23 58l2 8h-388zM808 1230l68 1l56-1v340h-385l2-8l24-58l36-68l65-116l36-51l12-11l32-19l12-4z"/>
<path fill="#98d8d6" d="M-8 -8h366l-5 38l-5 20l-3 10l-23 56l-28 54l-32 52l-23 34l-17 23l-32 29l-16 11l-38 16l-34 5l-32 4l-78 3zM570 -8h362v354l-74-2l-28-3l-38-6l-30-12l-14-7l-12-9l-24-22l-6-6l-18-23l-30-46l-23-38l-21-40l-21-46l-13-34l-7-34zM430 438h78l52 2l28 3l38 7l36 14l13 8l37 34l21 28l34 52l20 34l19 36l20 46l12 32l6 28l4 26l-1 16l-6 38l-3 12l-13 34l-16 36l-17 34l-15 28l-19 30l-28 42l-18 24l-20 19l-18 15l-12 7l-37 15l-37 6l-22 2l-48 3l-66 1l-78-3l-34-3l-36-6l-40-16l-16-10l-32-30l-18-24l-28-41l-24-39l-20-38l-22-48l-14-38l-9-42l-1-12v-12l7-44l7-22l23-56l27-53l17-29l23-35l15-21l17-23l36-33l14-8l36-14l36-7l28-3zM-8 1242v-1h2l76 2l28 3l36 6l40 16l12 7l16 14l20 20l18 23l34 52l24 40l21 42l21 48l9 24l6 32h-363zM891 1242l41-1v329h-359l6-32l7-20l16-38l17-36l17-32l20-32l32-48l18-24l20-19l18-15l12-7l32-13l6-2l36-6l28-3z"/>
<path fill="#98d8d6" d="M-8 -8h343v14l-4 26l-6 28l-5 18l-5 14l-11 26l-23 44l-29 47l-14 20l-12 15l-18 18l-18 17l-14 12l-14 9l-32 13l-30 10l-56 8l-52 4zM592 -8h340v343l-38-3l-40-4l-26-4l-22-7l-34-14l-16-9l-20-16l-22-21l-24-27l-23-34l-23-38l-20-40l-12-28l-9-30l-8-40l-2-16zM427 450l39-1l38 1l40 4l44 6l20 6l26 10l18 9l14 8l24 21l24 24l14 17l23 33l21 36l19 36l15 35l9 29l6 28l4 28v28l-4 26l-6 30l-9 28l-16 36l-17 34l-21 35l-24 35l-17 20l-25 25l-20 17l-14 9l-30 13l-30 10l-48 7l-44 4l-42 1l-42-2l-38-3l-42-7l-32-11l-29-13l-21-15l-32-29l-20-23l-18-25l-24-38l-20-38l-18-41l-10-31l-8-46l-2-26l1-12l2-18l9-40l10-30l24-52l24-42l28-41l18-21l26-26l18-15l20-11l28-12l28-9l46-7zM-8 1254v-2l40 3l34 4l36 5l30 11l30 13l14 8l23 20l23 23l16 19l27 40l23 40l15 30l13 30l9 30l8 42h-341zM903 1254l29-2v318h-338l7-36l7-26l9-22l15-34l19-34l21-35l20-28l20-23l20-19l20-17l14-9l22-9l38-14l40-6z"/>
<path fill="#98d8d6" d="M-8 -8h323l-2 38l-4 20l-7 24l-8 24l-9 22l-11 23l-12 22l-26 39l-31 36l-19 17l-10 8l-20 14l-19 11l-35 14l-36 10l-36 5l-38 3zM613 -8h319v330l-34-3l-32-4l-30-8l-26-9l-20-8l-28-18l-18-13l-22-20l-24-27l-22-30l-18-30l-16-32l-13-34l-10-36l-5-24zM419 464l33-2l34 1l36 2l33 5l35 10l32 12l20 11l24 16l22 19l22 23l22 28l19 29l16 28l13 30l12 32l8 32l4 22l1 34l-2 34l-4 22l-10 34l-12 34l-16 32l-19 32l-20 28l-22 25l-24 23l-16 12l-28 18l-18 9l-28 10l-35 9l-41 5l-40 2l-40-1l-40-4l-24-4l-32-10l-32-12l-22-13l-26-19l-22-20l-26-30l-22-30l-18-31l-16-33l-12-34l-10-36l-4-28l-1-38l2-28l7-32l12-38l16-36l19-34l22-32l27-32l24-23l23-17l25-15l32-13l28-9l22-5zM-8 1266l28 1l40 5l24 6l22 7l30 12l16 9l28 19l17 15l21 22l22 27l18 27l17 30l15 32l11 32l8 30l5 30h-322zM922 1266h10v304h-318l4-28l7-28l11-32l14-31l16-29l17-26l20-26l21-24l20-18l19-14l26-16l19-8l26-9l32-9l28-4z"/>
<path fill="#98d8d6" d="M-8 -8h306l-2 34l-5 28l-8 28l-11 30l-15 30l-18 30l-20 28l-23 26l-18 16l-22 16l-24 15l-22 11l-28 9l-30 8l-30 5l-30 2zM630 -8h302v316l-30-3l-28-5l-30-7l-26-9l-22-11l-24-15l-22-16l-18-16l-23-26l-20-28l-18-30l-15-30l-11-30l-9-28l-4-28zM446 476h34l36 3l34 6l34 10l20 7l26 14l24 16l23 18l20 20l21 26l19 28l15 28l14 32l11 32l7 26l3 26l1 34l-3 34l-4 24l-10 30l-13 34l-17 32l-20 30l-21 28l-19 20l-23 19l-26 17l-30 16l-26 9l-28 7l-28 6l-28 3l-34 1l-36-3l-36-5l-34-9l-26-9l-20-10l-26-16l-26-20l-19-18l-23-28l-19-28l-17-30l-15-32l-11-32l-6-26l-3-28l-1-34l3-34l4-24l11-34l15-34l17-32l20-30l23-28l15-16l25-20l27-17l26-14l28-10l30-7l30-5zM-8 1280v-1l22 2l34 5l30 7l30 9l22 11l24 15l22 16l18 15l20 23l20 26l17 26l14 26l13 30l10 32l6 24l3 24h-305zM921 1280l11-1v291h-301l3-24l5-24l11-32l13-30l14-26l16-26l19-24l20-23l17-15l21-16l23-14l23-12l24-8l26-7l28-6z"/>
<path fill="#a8d48c" d="M-8 -8h289l-2 34l-4 26l-6 24l-10 28l-14 30l-14 24l-14 20l-23 26l-24 23l-18 14l-22 14l-26 14l-24 9l-30 9l-28 5l-30 3zM647 -8h285v303l-30-3l-28-6l-26-7l-24-10l-30-16l-24-16l-22-19l-17-16l-22-26l-13-20l-14-24l-12-26l-9-22l-8-30l-4-26zM431 490l31-2l32 2l32 4l30 7l24 9l26 11l30 18l24 18l20 19l19 20l18 24l16 26l13 28l11 28l8 30l4 26l2 26l-1 30l-3 30l-8 34l-11 30l-12 26l-13 24l-19 26l-19 22l-21 20l-26 20l-26 17l-30 14l-22 8l-28 7l-30 5l-30 2l-32-1l-30-4l-30-6l-24-7l-28-12l-26-14l-26-18l-24-21l-21-22l-15-20l-18-28l-15-28l-10-26l-8-26l-6-34l-2-26v-34l4-30l6-28l10-30l13-28l16-28l20-28l21-24l23-21l22-16l26-16l30-14l22-7l30-7zM-8 1292l26 2l28 5l30 9l20 7l22 11l26 15l22 16l20 18l17 17l17 22l16 24l14 26l11 24l10 30l6 28l3 24h-288zM912 1294l20-2v278h-284l3-26l6-26l8-26l9-20l12-24l16-26l11-16l20-22l21-21l18-14l24-16l22-12l22-9l24-8l24-6z"/>
<path fill="#a8d48c" d="M-8 -8h282l-2 28l-4 28l-7 28l-9 26l-12 26l-14 24l-17 24l-19 22l-20 19l-21 17l-25 16l-24 13l-26 10l-24 7l-28 5l-30 4zM654 -8h278v296l-30-3l-28-6l-24-7l-26-11l-24-13l-24-16l-20-16l-20-19l-18-22l-17-23l-13-24l-12-26l-9-26l-7-28l-5-28zM440 496l30-1l30 2l30 5l28 7l26 10l26 13l24 15l23 17l21 20l20 23l17 23l15 26l13 28l9 28l7 28l4 30l1 30l-2 28l-5 30l-8 28l-11 28l-13 26l-15 24l-18 24l-20 21l-21 19l-23 17l-26 15l-24 11l-26 9l-30 7l-30 4l-30 1l-30-2l-30-4l-30-7l-26-10l-24-11l-24-15l-24-17l-22-20l-21-24l-18-24l-15-26l-13-28l-9-28l-7-28l-4-30l-1-30l2-28l5-30l7-28l11-28l13-26l16-26l19-24l19-20l22-20l24-17l26-15l26-11l26-9l30-6zM-8 1300v-1l16 1l32 5l27 7l25 9l24 12l24 14l22 16l19 17l19 20l16 20l16 24l12 23l11 25l8 26l6 26l4 26h-281zM919 1300l13-1v271h-277l4-26l6-26l7-24l10-24l12-22l14-22l15-20l17-20l20-18l18-14l22-15l22-12l22-9l22-8l26-6z"/>
<path fill="#a8d48c" d="M-8 -8h275l-2 26l-4 28l-7 28l-9 26l-11 24l-14 25l-16 22l-18 21l-20 19l-20 16l-24 16l-24 13l-26 10l-26 8l-26 5l-28 3zM661 -8h271v290l-26-3l-26-6l-26-7l-26-11l-22-12l-24-15l-20-16l-20-20l-18-20l-16-23l-14-24l-11-25l-10-26l-7-28l-4-28zM457 502l29 1l28 3l26 5l28 9l26 11l24 14l25 17l21 18l20 21l18 23l15 24l14 26l10 26l8 28l5 30l3 28l-1 28l-3 28l-7 28l-9 28l-11 26l-15 26l-17 24l-19 22l-21 20l-20 16l-25 16l-25 12l-26 10l-26 8l-30 5l-30 2h-30l-28-4l-26-5l-28-9l-26-11l-24-13l-24-17l-21-18l-21-21l-18-23l-15-24l-14-26l-10-26l-8-28l-5-28l-3-30l1-28l3-30l7-28l9-28l12-26l14-26l17-24l20-22l20-19l22-17l26-17l24-11l26-10l26-7l30-5zM-8 1306l22 2l28 4l24 7l24 9l24 12l22 13l20 14l20 18l18 19l16 20l15 22l12 24l11 24l8 24l6 26l3 26h-273zM928 1306h4v264h-270l4-26l5-24l8-24l10-24l12-22l14-22l15-20l19-20l19-18l18-13l22-14l22-12l24-9l25-8l25-5z"/>
<path fill="#a8d48c" d="M-8 -8h268l-2 28l-4 26l-7 26l-9 26l-11 24l-14 24l-16 22l-17 20l-18 17l-20 17l-22 14l-24 13l-26 10l-26 8l-24 5l-28 3zM668 -8h264v283l-26-3l-26-6l-26-8l-24-10l-23-12l-23-16l-20-16l-18-18l-17-20l-16-22l-14-24l-10-24l-9-26l-7-26l-4-26zM436 510l28-1l28 1l26 4l28 6l26 9l26 12l24 15l22 16l20 18l20 22l16 22l15 24l12 26l10 26l7 28l4 28l2 26l-2 28l-4 28l-7 28l-9 26l-12 26l-15 24l-16 22l-19 21l-20 19l-22 16l-22 14l-26 12l-26 10l-28 7l-26 4l-28 1l-30-1l-26-3l-28-7l-26-8l-26-12l-24-14l-22-16l-22-19l-18-20l-18-24l-15-24l-12-26l-10-26l-7-28l-5-28l-1-26l1-28l4-28l7-28l9-26l13-26l14-24l18-24l18-20l21-20l22-16l23-14l26-12l26-9l28-7zM-8 1314v-2l12 1l32 5l26 7l26 10l23 11l21 13l20 14l19 17l17 18l16 20l15 22l12 22l10 24l8 24l6 24l3 26h-266zM916 1314l16-2v258h-263l4-24l5-23l7-23l9-22l11-22l13-20l15-20l16-18l17-17l18-14l20-14l20-11l22-10l24-8l24-6z"/>
<path fill="#a8d48c" d="M-8 -8h261l-2 26l-4 26l-6 26l-9 24l-11 24l-12 22l-16 22l-17 20l-19 18l-21 17l-20 13l-22 12l-24 10l-26 8l-26 5l-26 3zM675 -8h257v276l-26-4l-26-5l-24-8l-24-10l-22-12l-20-13l-20-16l-18-18l-17-20l-16-22l-13-22l-11-24l-8-24l-7-26l-3-26zM449 516h27l28 3l28 5l26 8l26 10l24 13l20 13l22 18l19 20l18 22l16 24l13 24l11 26l7 26l6 26l2 28v26l-3 28l-6 28l-8 26l-10 24l-13 24l-16 23l-17 21l-20 20l-21 17l-20 13l-24 13l-26 10l-26 8l-26 5l-28 3h-28l-26-2l-28-6l-26-7l-26-11l-24-13l-21-14l-21-17l-20-20l-17-21l-16-24l-13-24l-11-26l-8-26l-5-26l-3-28v-26l3-28l6-26l8-27l11-25l12-24l15-22l18-22l20-20l22-18l20-13l24-13l26-10l26-8l26-5zM-8 1320v-1l18 2l28 5l24 7l24 9l22 11l20 11l20 15l18 16l16 17l16 20l14 21l12 22l10 23l8 24l6 24l3 24h-259zM926 1320l6-1v251h-256l4-24l6-24l7-22l9-22l12-22l13-20l15-20l16-17l18-17l18-14l19-12l21-11l22-9l22-7l24-6z"/>
<path fill="#a8d48c" d="M-8 -8h253l-1 24l-4 26l-6 26l-9 24l-11 24l-13 22l-14 20l-17 20l-19 18l-20 16l-19 12l-22 12l-24 10l-24 7l-24 5l-26 3zM682 -8h250v269l-26-4l-24-5l-24-8l-24-10l-22-12l-18-12l-20-16l-18-18l-17-20l-14-20l-13-22l-11-24l-8-24l-6-24l-4-26zM437 524l27-1l26 1l26 4l26 6l26 9l23 11l24 14l19 14l20 18l18 20l17 22l14 24l11 24l10 26l6 26l4 26l1 26l-1 26l-4 28l-7 26l-10 26l-11 23l-14 23l-16 21l-18 20l-20 18l-20 15l-22 13l-24 11l-26 9l-26 6l-26 4l-28 1l-26-1l-26-4l-26-6l-26-10l-24-11l-22-13l-20-15l-20-18l-18-21l-16-21l-14-24l-11-24l-9-26l-7-26l-4-26l-1-26l2-26l4-26l6-26l10-26l12-24l13-22l16-22l19-20l20-18l19-14l23-14l24-11l26-9l26-6zM-8 1328v-2l10 1l32 5l24 7l24 9l22 10l20 12l19 14l18 16l17 18l14 18l14 20l12 22l9 22l8 22l5 24l4 24h-252zM919 1328l13-1v243h-248l3-22l5-23l7-21l9-22l10-20l13-20l14-18l15-17l18-17l17-14l17-11l20-11l20-9l22-7l22-6z"/>
<path fill="#a8d48c" d="M-8 -8h246l-1 24l-4 24l-5 24l-9 24l-10 22l-12 22l-15 21l-16 19l-18 17l-18 15l-20 13l-22 12l-22 9l-24 8l-24 5l-26 3zM689 -8h243v261l-26-3l-24-5l-24-8l-22-10l-22-12l-18-12l-18-15l-18-18l-15-18l-14-20l-13-22l-10-22l-8-24l-6-24l-3-24zM455 530h25l26 3l26 6l24 7l24 10l22 12l20 14l20 16l19 20l16 20l15 22l11 22l10 24l8 26l5 26l2 26v26l-3 26l-6 26l-8 24l-10 24l-12 22l-15 22l-17 20l-19 18l-20 16l-20 13l-24 13l-24 9l-24 7l-26 5l-26 2h-26l-26-3l-26-5l-24-8l-24-10l-22-12l-20-13l-20-17l-19-19l-16-20l-14-22l-13-24l-10-24l-7-24l-5-26l-2-26v-26l3-26l5-26l8-24l10-24l14-24l15-22l17-20l18-18l20-15l20-13l24-13l24-9l26-7l26-5zM-8 1334l18 1l26 5l22 6l22 9l20 9l20 12l18 13l18 16l16 17l14 18l14 20l11 20l9 22l8 22l5 22l4 24h-245zM929 1334h3v236h-241l3-24l6-22l7-22l9-20l11-20l13-20l14-18l15-16l17-16l18-13l18-12l20-10l20-8l22-7l22-5z"/>
<path fill="#a8d48c" d="M-8 -8h239l-1 24l-4 24l-6 24l-8 22l-10 22l-12 21l-14 20l-16 19l-18 17l-18 14l-19 13l-21 11l-22 9l-22 7l-24 5l-24 3zM697 -8h235v254l-24-3l-24-5l-22-7l-22-10l-20-11l-20-13l-18-15l-16-16l-15-18l-14-20l-12-20l-10-22l-8-22l-6-24l-3-24zM440 538l26-1l24 1l26 4l24 6l24 9l23 11l21 13l20 15l18 16l18 20l14 20l13 22l11 22l8 24l7 26l3 24l1 26l-1 24l-4 24l-7 26l-9 24l-10 22l-14 22l-15 20l-16 18l-18 16l-21 16l-20 12l-24 11l-24 8l-24 6l-26 4l-26 1l-24-1l-26-4l-24-6l-24-9l-24-11l-20-12l-20-15l-18-17l-17-19l-15-20l-13-22l-11-22l-8-24l-7-26l-3-24l-1-26l1-24l3-24l7-26l9-24l10-22l14-22l15-21l16-17l18-17l21-15l21-13l24-11l24-8l24-6zM-8 1342v-1h10l28 5l24 7l22 8l20 9l20 12l18 13l17 15l15 16l15 18l13 20l11 20l9 20l7 22l5 22l4 22h-238zM921 1342l11-1v229h-234l3-20l5-22l7-22l9-20l11-20l11-18l12-16l15-16l15-14l16-13l18-12l18-10l20-9l20-7l22-5z"/>
<path fill="#a8d48c" d="M-8 -8h232l-1 24l-4 22l-5 22l-8 23l-10 21l-11 20l-14 20l-15 18l-16 15l-18 15l-20 13l-20 11l-22 9l-22 7l-22 5l-24 2zM704 -8h228v247l-24-3l-22-5l-22-7l-22-10l-20-11l-18-12l-18-15l-16-16l-15-18l-13-19l-11-19l-10-22l-7-22l-6-22l-3-22zM432 546l26-2l24 1l24 3l24 5l24 8l22 9l21 12l20 14l19 16l17 18l15 20l13 20l11 22l9 22l7 24l4 24l2 24l-1 24l-2 24l-6 24l-7 24l-10 22l-12 22l-14 20l-16 19l-18 17l-20 16l-20 13l-22 11l-22 8l-24 7l-24 4l-24 2h-26l-24-3l-24-6l-24-7l-22-10l-20-11l-20-14l-19-16l-17-17l-16-21l-13-20l-11-22l-9-22l-7-24l-4-24l-2-24v-26l3-24l6-24l8-24l9-22l13-22l14-20l15-18l18-17l20-16l20-13l22-11l22-8l24-7zM-8 1348l20 2l22 4l22 7l20 8l19 9l19 12l17 12l16 14l15 16l13 16l12 18l11 20l9 20l7 22l5 20l3 22h-230zM932 1348v222h-227l4-22l4-20l7-20l9-20l11-20l11-18l15-18l14-15l16-14l16-12l18-12l18-9l20-8l22-7l20-4z"/>
<path fill="#a8d48c" d="M-8 -8h225l-2 22l-3 22l-5 22l-7 22l-10 20l-11 20l-13 19l-14 17l-17 16l-17 14l-20 13l-20 11l-20 8l-22 7l-22 5l-22 2zM711 -8h221v240l-22-3l-22-5l-20-6l-20-9l-20-11l-18-12l-18-14l-16-16l-14-17l-14-19l-11-20l-9-20l-7-22l-6-22l-3-22zM443 552l25-1l24 2l24 4l22 6l24 9l20 10l20 12l18 14l18 16l15 18l15 20l11 20l10 22l8 22l6 24l3 24l1 24l-2 24l-4 24l-6 22l-8 22l-11 22l-13 20l-15 20l-16 17l-18 15l-19 14l-21 12l-22 10l-22 7l-22 5l-24 3l-24 1l-24-2l-24-3l-22-6l-22-8l-20-10l-20-12l-20-15l-17-16l-16-18l-15-20l-11-20l-11-22l-7-22l-6-24l-3-24l-1-24l2-24l4-24l5-22l9-22l10-22l13-20l14-19l16-17l18-16l20-14l20-12l22-10l22-7l24-6zM-8 1356v-1l12 1l26 5l22 6l20 8l18 8l18 11l18 13l16 14l16 17l12 16l12 18l10 18l8 18l7 20l5 20l3 22h-223zM924 1356l8-1v215h-220l4-20l4-20l7-20l8-18l9-18l12-18l12-16l13-14l15-14l16-12l16-11l18-10l18-8l20-7l20-5z"/>
<path fill="#a8d48c" d="M-8 -8h217l-1 22l-3 22l-5 22l-7 20l-10 20l-10 18l-12 18l-15 17l-15 15l-17 14l-18 12l-20 11l-20 8l-20 7l-22 5l-22 2zM718 -8h214v233l-22-3l-20-5l-20-6l-20-9l-20-11l-18-12l-16-13l-16-16l-14-17l-12-18l-11-19l-9-20l-7-20l-5-22l-3-20zM435 560l23-2l22 1l24 3l22 5l22 7l20 8l20 11l20 14l18 16l16 16l14 18l12 19l10 20l9 22l6 22l5 24l1 22v24l-3 24l-5 22l-7 22l-10 22l-11 20l-13 18l-16 18l-16 16l-18 14l-20 13l-20 10l-22 8l-22 6l-22 4l-22 2l-24-1l-24-2l-22-5l-22-7l-20-9l-20-11l-20-14l-18-15l-16-17l-14-18l-12-18l-10-20l-9-22l-6-22l-5-24l-2-22l1-24l3-24l4-22l8-22l9-22l11-20l14-19l14-17l18-17l18-14l20-13l21-10l21-8l22-6zM-8 1362l20 2l20 4l20 6l18 8l18 9l18 11l17 12l15 14l14 14l12 16l11 16l10 18l8 18l7 20l5 20l3 20h-216zM918 1364l14-2v208h-212l3-20l4-18l6-18l8-18l9-18l10-15l11-15l13-15l14-13l15-12l15-11l18-10l16-7l18-7l18-5z"/>
<path fill="#a8d48c" d="M-8 -8h210l-1 22l-3 20l-5 20l-7 20l-9 20l-10 18l-12 18l-14 16l-15 15l-16 13l-18 12l-18 10l-20 8l-20 7l-20 4l-22 3zM725 -8h207v226l-22-3l-20-5l-20-7l-18-8l-18-10l-18-12l-16-14l-15-15l-14-16l-11-17l-10-17l-9-20l-7-20l-4-20l-3-20zM447 566l23-1l22 2l22 4l22 6l20 8l20 10l18 11l18 14l16 15l15 17l13 18l11 20l9 20l8 22l5 22l3 22v22l-1 22l-4 22l-6 22l-8 22l-10 20l-12 18l-14 18l-15 16l-16 14l-18 13l-20 12l-20 9l-22 7l-22 5l-22 3l-22 1l-22-2l-22-3l-22-6l-22-8l-20-10l-18-11l-18-14l-16-15l-15-17l-13-18l-11-20l-9-20l-8-22l-5-22l-3-22l-1-22l2-22l3-22l6-22l9-22l10-20l11-18l14-19l16-17l16-13l18-13l20-12l20-9l22-7l22-5zM-8 1370v-1l12 1l24 5l18 5l20 8l18 9l16 9l16 12l16 14l14 14l12 16l11 16l9 16l8 18l7 20l4 18l4 20h-209zM926 1370l6-1v201h-205l3-20l5-18l6-18l7-16l9-18l11-16l12-16l12-13l15-13l15-12l16-10l16-9l16-7l18-6l20-5z"/>
<path fill="#a8d48c" d="M-8 -8h203l-1 20l-3 20l-5 20l-7 20l-8 18l-10 18l-11 16l-14 17l-14 14l-16 13l-18 12l-18 10l-18 8l-20 6l-20 4l-20 3zM733 -8h199v219l-20-3l-20-5l-20-7l-18-8l-18-10l-16-11l-15-13l-14-14l-13-15l-12-17l-10-18l-8-18l-7-20l-4-20l-3-20zM438 574l22-1h22l22 3l20 5l20 6l20 9l20 12l17 12l16 14l15 16l14 18l11 18l10 20l7 20l6 20l4 22l1 22l-1 22l-3 22l-4 20l-7 20l-9 20l-10 18l-13 18l-14 16l-16 15l-18 14l-18 12l-20 9l-20 8l-20 5l-22 4l-22 2l-22-1l-22-3l-20-4l-20-7l-20-9l-18-10l-18-13l-17-14l-15-16l-14-18l-11-18l-10-20l-8-20l-5-20l-4-22l-1-22v-22l3-22l5-20l6-20l9-20l12-20l12-17l14-16l16-15l18-14l18-12l20-9l20-8l20-5zM-8 1378v-2h2l28 5l20 5l20 8l18 9l16 9l16 12l14 12l13 14l13 16l11 16l9 16l8 18l6 18l4 18l3 18h-201zM920 1378l12-1v193h-198l7-34l6-18l7-16l8-16l10-16l11-14l13-14l26-23l14-10l16-9l16-7l18-7l18-5z"/>
<path fill="#cdda5c" d="M-8 -8h196l-1 20l-3 20l-5 20l-6 18l-9 18l-9 16l-11 16l-13 16l-14 14l-15 12l-16 11l-18 10l-18 8l-20 6l-18 4l-20 3zM740 -8h192v211l-20-3l-18-4l-18-6l-18-8l-18-10l-16-11l-15-13l-14-14l-12-14l-11-17l-10-17l-8-18l-6-18l-5-20l-2-18zM451 580h21l20 1l22 5l20 5l20 9l18 9l18 12l16 13l15 14l13 16l12 18l10 18l8 18l6 20l5 20l2 22l1 22l-2 20l-4 22l-6 20l-8 19l-10 19l-12 18l-12 15l-14 15l-17 14l-17 12l-19 10l-19 8l-20 7l-20 4l-22 2h-22l-20-1l-20-4l-20-6l-20-8l-18-10l-18-11l-16-13l-14-14l-14-16l-12-18l-10-18l-9-20l-6-20l-4-20l-3-22v-22l2-20l4-20l5-20l8-20l10-18l12-18l13-17l14-14l16-14l18-12l18-10l20-8l20-7l20-4zM-8 1384l14 1l20 4l18 5l18 8l16 8l16 10l14 10l14 12l12 13l12 15l10 14l9 16l7 16l6 18l5 18l3 18h-194zM929 1384h3v186h-191l3-18l5-16l6-18l7-16l9-16l9-14l11-14l13-14l13-12l15-11l14-9l16-9l32-12l18-4z"/>
<path fill="#cdda5c" d="M-8 -8h189l-2 20l-2 18l-5 18l-6 18l-8 18l-9 16l-11 16l-12 15l-14 13l-14 12l-16 11l-17 9l-17 8l-18 6l-18 4l-20 3zM747 -8h185v204l-18-2l-18-5l-18-6l-18-8l-16-9l-16-11l-14-12l-13-13l-12-14l-11-16l-9-16l-8-18l-6-18l-4-18l-3-18zM442 588l20-1l20 1l20 2l20 5l20 7l18 9l18 10l16 12l16 14l13 15l12 16l11 18l9 18l6 18l5 20l3 20l2 20l-1 20l-3 20l-5 20l-7 20l-8 18l-11 18l-12 16l-14 16l-14 13l-16 12l-18 11l-18 8l-18 7l-20 5l-20 3l-20 1h-20l-20-3l-20-5l-20-7l-18-8l-18-11l-16-11l-16-15l-13-14l-12-16l-11-18l-9-18l-6-18l-6-20l-3-20l-1-20l1-20l2-20l5-20l7-20l8-18l11-18l12-16l13-15l14-13l16-12l18-12l18-8l20-8l20-5zM-8 1392v-1h4l24 4l18 5l18 7l16 8l16 9l14 10l14 12l12 13l11 13l10 14l9 17l8 17l6 16l4 16l3 18h-187zM924 1392l8-1v179h-183l6-32l6-16l7-16l16-28l22-26l25-22l29-18l16-7l16-6z"/>
<path fill="#cdda5c" d="M-8 -8h181l-1 18l-2 18l-4 18l-7 18l-7 16l-9 16l-11 16l-12 14l-12 12l-14 12l-16 11l-16 9l-16 7l-18 6l-18 4l-18 2zM754 -8h178v197l-18-3l-18-4l-18-7l-16-7l-16-9l-14-10l-14-12l-13-13l-11-14l-11-16l-9-16l-7-16l-5-16l-4-18l-3-18zM436 596l20-2h20l20 3l18 3l18 6l18 8l18 9l16 11l14 12l14 14l13 16l11 16l9 18l7 18l6 18l3 20l2 20v20l-2 20l-4 18l-6 18l-7 18l-10 18l-11 16l-13 15l-14 14l-16 13l-16 10l-16 9l-18 7l-18 5l-20 4l-20 2h-20l-20-2l-18-4l-18-6l-18-7l-18-10l-16-11l-16-13l-14-14l-12-16l-10-15l-9-17l-7-18l-6-18l-4-20l-2-20l1-20l2-20l3-18l6-18l7-18l10-18l11-16l12-15l14-14l16-13l16-10l18-10l18-7l18-5zM-8 1398l16 2l16 3l16 5l16 7l16 8l14 9l14 10l12 11l12 12l10 13l18 28l7 16l6 16l7 32h-180zM919 1400l13-2v172h-176l6-30l12-30l16-27l20-25l24-21l26-17l28-12z"/>
<path fill="#cdda5c" d="M-8 -8h174l-1 18l-2 16l-4 18l-6 16l-7 16l-9 16l-9 14l-12 14l-12 12l-14 12l-15 10l-15 9l-16 7l-18 6l-16 4l-18 2zM761 -8h171v190l-18-3l-16-4l-16-6l-16-7l-16-9l-14-10l-13-11l-12-12l-11-14l-10-14l-9-16l-7-16l-5-16l-4-18l-3-16zM446 602l20-1l18 1l20 3l18 5l18 7l16 8l16 10l15 11l13 12l13 14l12 16l9 16l8 16l6 18l4 18l3 20l1 20l-1 18l-3 18l-4 18l-7 18l-7 16l-10 16l-12 16l-13 14l-13 12l-16 12l-16 10l-18 8l-17 6l-19 5l-18 2l-20 1l-18-1l-18-3l-18-4l-18-7l-18-8l-16-10l-15-11l-13-12l-13-14l-12-16l-9-16l-8-16l-6-18l-5-18l-3-20l-1-20l1-18l4-20l4-18l7-18l8-16l9-16l12-16l13-14l14-12l15-11l16-10l18-8l18-6l18-4zM-8 1406v-1l8 1l20 4l16 5l16 6l28 15l14 10l12 11l21 23l10 14l8 14l12 30l4 16l3 16h-172zM928 1406l4-1v165h-169l7-30l12-30l16-26l20-24l24-20l26-16l30-12z"/>
<path fill="#cdda5c" d="M-8 -8h167l-1 18l-2 16l-4 16l-6 16l-7 16l-8 14l-9 14l-12 14l-12 12l-14 11l-14 10l-14 8l-16 7l-16 5l-16 4l-16 2zM769 -8h163v183l-16-3l-16-4l-16-6l-16-7l-14-8l-14-10l-13-11l-11-12l-10-12l-10-14l-8-14l-7-16l-5-16l-4-16l-2-16zM440 610l18-2l18 1l18 2l18 4l18 6l16 7l16 9l14 9l14 12l12 12l12 15l10 16l8 15l7 18l5 18l3 18l2 18v18l-3 18l-3 18l-6 18l-7 16l-9 16l-10 14l-12 14l-13 13l-14 11l-16 10l-16 8l-16 7l-18 5l-18 3l-18 2l-18-1l-18-2l-18-3l-18-6l-16-7l-16-9l-16-11l-14-12l-12-13l-10-13l-11-16l-8-16l-6-16l-5-18l-4-18l-1-18v-18l2-18l4-18l6-18l7-16l8-16l10-14l12-14l12-12l14-12l16-10l16-8l18-8l18-5zM-8 1414v-2l24 4l16 5l16 6l28 15l25 20l21 24l17 26l11 28l7 30h-165zM923 1414l9-1v157h-161l6-28l11-28l16-26l18-22l22-19l24-15l26-11z"/>
<path fill="#cdda5c" d="M-8 -8h160l-1 16l-2 16l-4 16l-6 16l-14 28l-9 14l-10 12l-12 12l-12 10l-14 10l-14 8l-14 6l-16 5l-16 4l-16 3zM776 -8h156v175l-30-6l-16-6l-14-6l-26-17l-12-10l-12-12l-10-12l-10-14l-14-28l-5-16l-4-16l-2-16zM452 616h18l18 1l18 4l16 4l16 7l16 8l14 9l13 11l13 12l12 14l9 14l9 16l7 16l5 16l3 16l2 18l1 18l-2 16l-3 18l-4 16l-7 16l-8 16l-9 14l-11 15l-12 12l-13 11l-14 10l-15 9l-16 7l-18 5l-16 4l-18 2l-18 1l-16-2l-18-3l-16-4l-16-7l-16-8l-14-8l-15-12l-12-12l-11-12l-10-14l-9-16l-7-16l-6-18l-4-16l-2-18v-18l1-18l4-18l4-16l7-16l8-16l9-14l11-14l12-12l14-12l14-10l15-8l17-7l16-5l16-4zM-8 1420l12 1l16 4l28 10l26 14l22 18l20 23l15 24l12 28l7 28h-158zM932 1420v150h-154l6-28l12-28l15-24l19-21l22-18l25-15l27-10z"/>
<path fill="#cdda5c" d="M-8 -8h153l-3 30l-4 16l-5 14l-6 14l-8 14l-9 14l-10 12l-22 20l-26 16l-14 7l-16 5l-30 6zM783 -8h149v168l-30-7l-28-11l-14-9l-12-8l-22-21l-18-24l-14-28l-4-14l-4-16zM444 624l16-1h18l16 2l16 4l16 6l16 7l14 8l14 10l12 10l12 13l10 13l9 14l7 15l6 15l4 16l3 18l2 16l-1 18l-2 16l-4 16l-5 16l-7 15l-9 15l-9 13l-10 12l-12 11l-14 11l-14 9l-16 8l-15 6l-17 5l-16 2l-16 1h-18l-16-2l-16-4l-16-5l-16-7l-14-8l-14-10l-12-11l-12-12l-10-13l-9-14l-7-14l-6-16l-5-16l-3-18l-1-16l1-18l2-16l3-16l5-16l8-16l8-14l10-14l10-12l13-12l13-10l14-9l14-7l16-7l16-4zM-8 1428v-1h2l20 4l16 4l14 6l24 13l23 18l18 20l15 24l12 26l7 28h-151zM926 1428l6-1v143h-147l6-26l10-24l15-24l17-20l21-18l22-13l24-11z"/>
<path fill="#cdda5c" d="M-8 -8h145l-3 30l-8 28l-13 26l-18 24l-21 20l-12 8l-14 8l-28 12l-28 5zM790 -8h142v161l-28-7l-14-5l-14-6l-24-16l-22-21l-17-24l-12-26l-8-28zM438 632l16-2h16l16 2l16 3l16 4l14 6l14 7l14 9l12 10l12 12l10 12l9 13l8 14l6 14l5 16l3 16l2 16v16l-1 16l-3 16l-5 16l-6 14l-7 14l-9 14l-10 12l-11 12l-12 10l-13 9l-14 7l-14 6l-16 6l-16 3l-16 2h-16l-16-1l-16-3l-16-5l-14-6l-14-7l-14-9l-13-10l-11-11l-10-12l-9-13l-8-14l-6-14l-5-16l-4-16l-1-16l-1-16l2-16l3-16l4-16l6-14l7-14l9-14l10-12l11-12l12-10l14-10l14-7l15-7l15-5zM-8 1436v-2l18 3l16 5l14 5l24 13l22 18l18 20l14 22l11 24l6 26h-143zM923 1436l9-2v136h-140l6-24l9-22l13-22l16-19l19-17l21-13l22-10z"/>
<path fill="#cdda5c" d="M-8 -8h138l-3 28l-8 28l-12 24l-17 23l-20 19l-24 15l-26 11l-28 6zM797 -8h135v153l-26-5l-26-12l-24-15l-20-19l-16-22l-12-26l-8-26zM448 638l14-1l16 1l16 2l14 4l14 4l14 7l14 8l12 9l12 11l10 11l9 12l9 14l6 14l5 14l4 14l2 16l1 14v16l-3 16l-3 14l-5 14l-7 14l-8 14l-9 12l-10 12l-11 10l-12 9l-14 8l-14 7l-14 5l-14 4l-16 2l-14 1l-16-1l-16-2l-14-3l-14-5l-14-6l-14-9l-12-8l-12-11l-10-11l-9-12l-9-14l-6-14l-6-14l-3-14l-3-16l-1-14l1-16l2-16l4-14l4-14l7-14l8-14l9-13l10-11l12-11l12-9l13-8l15-7l14-5l14-4zM-8 1442v-1l6 1l16 3l24 9l22 12l20 16l17 18l14 22l11 24l6 24h-136zM930 1442h2v128h-132l6-24l9-22l13-20l16-19l18-15l22-13l22-9z"/>
<path fill="#cdda5c" d="M-8 -8h131l-3 26l-7 26l-12 24l-16 22l-19 18l-24 15l-24 10l-26 6zM805 -8h127v146l-26-6l-24-11l-22-14l-19-19l-15-20l-12-24l-7-26zM442 646l14-1h16l28 4l14 4l14 6l13 7l12 8l11 9l11 11l9 11l8 12l7 13l6 14l6 28l2 14v16l-5 28l-4 14l-6 14l-14 24l-10 12l-10 10l-12 10l-12 8l-26 12l-28 7l-14 2h-16l-28-5l-14-4l-14-6l-24-14l-12-9l-11-11l-9-11l-8-12l-7-13l-6-14l-4-14l-3-14l-1-14v-16l4-28l4-14l6-14l7-13l8-12l10-12l10-10l22-17l14-7l14-6zM-8 1450v-1l18 3l26 9l22 12l18 15l16 18l13 20l10 22l6 22h-129zM926 1450l6-1v121h-125l6-22l8-20l13-20l14-17l18-15l18-11l20-9z"/>
<path fill="#cdda5c" d="M-8 -8h124l-3 26l-7 24l-11 22l-15 21l-18 17l-22 14l-24 10l-24 5zM812 -8h120v139l-24-6l-22-10l-20-13l-19-18l-15-20l-11-22l-7-24zM453 652l27 1l14 2l14 4l14 5l12 6l22 16l20 20l8 12l7 12l10 26l3 14l1 14v28l-6 26l-6 14l-6 12l-15 22l-20 19l-12 8l-12 7l-26 10l-14 4l-14 1l-28-1l-14-2l-14-4l-14-6l-12-6l-22-16l-19-20l-8-12l-7-12l-9-26l-5-26l1-28l6-26l5-14l6-12l16-23l20-19l12-8l12-7l26-10zM-8 1456l20 4l22 8l20 11l18 15l14 16l12 18l9 20l6 22h-121zM923 1458l9-2v114h-118l6-20l8-19l10-17l14-16l15-14l17-11l19-9z"/>
<path fill="#cdda5c" d="M-8 -8h117l-3 24l-7 24l-11 22l-13 18l-17 16l-20 13l-22 10l-24 5zM819 -8h113v132l-22-6l-22-10l-20-13l-17-17l-13-18l-10-22l-7-22zM446 660l26-1l26 4l14 5l12 5l22 14l19 17l15 22l11 24l6 26l1 26l-4 26l-4 14l-6 12l-14 22l-18 20l-20 14l-24 11l-26 6l-26 1l-26-4l-14-4l-12-6l-22-13l-18-17l-16-22l-11-24l-7-26l-1-26l4-26l5-14l5-12l14-22l17-19l22-16l24-11zM-8 1464v-1l16 3l22 8l18 10l18 14l14 16l11 16l9 20l6 20h-114zM930 1464h2v106h-110l5-20l8-18l11-16l14-16l14-12l18-11l18-8z"/>
<path fill="#cdda5c" d="M-8 -8h109l-2 22l-6 22l-10 20l-13 18l-16 16l-20 13l-20 9l-22 5zM826 -8h106v124l-20-5l-20-9l-18-12l-17-16l-13-18l-9-20l-7-22zM441 668l25-2l26 3l24 8l22 13l19 16l15 20l11 22l7 24l1 26l-3 24l-8 24l-12 21l-16 19l-20 15l-22 12l-24 6l-26 2l-24-3l-24-8l-22-12l-18-16l-16-20l-11-22l-7-24l-2-26l3-24l8-24l13-22l16-19l19-15l23-11zM-8 1472v-2l12 3l22 7l18 10l16 13l14 15l11 16l8 18l6 18h-107zM926 1472l6-1v99h-103l5-18l8-16l10-16l12-14l14-12l14-9l16-7z"/>
<path fill="#cdda5c" d="M-8 -8h102l-2 22l-6 20l-9 18l-13 18l-14 14l-18 12l-20 9l-20 5zM833 -8h99v117l-20-5l-18-9l-18-13l-14-14l-12-16l-9-20l-6-20zM450 674h24l22 4l22 8l20 13l16 15l14 20l10 22l5 24l1 24l-4 22l-9 22l-13 20l-16 17l-20 14l-22 9l-22 5l-24 1l-22-4l-22-9l-21-13l-17-16l-13-20l-10-22l-5-22v-24l4-24l9-22l13-20l16-16l20-14l22-9zM-8 1478l16 3l18 7l16 9l14 12l12 13l10 14l8 16l5 18h-99zM924 1480l8-2v92h-96l5-16l7-15l10-15l10-12l12-11l14-9l14-7z"/>
<path fill="#cdda5c" d="M-8 -8h95l-2 20l-5 18l-9 18l-11 16l-14 14l-16 11l-18 8l-20 5zM841 -8h91v110l-18-5l-18-9l-16-12l-12-12l-12-16l-8-18l-5-18zM445 682l23-2l22 3l20 7l20 12l16 14l14 18l10 20l6 22l1 22l-3 22l-7 20l-12 20l-14 16l-18 14l-19 9l-22 6l-22 2l-22-3l-20-7l-20-11l-16-14l-14-18l-10-20l-6-22l-1-22l3-22l6-20l12-20l14-17l18-14l20-9zM-8 1486v-1l12 3l18 6l14 8l14 11l11 11l10 14l8 16l5 16h-92zM930 1486h2v84h-88l5-16l7-14l8-12l10-12l12-10l14-9l14-6z"/>
<path fill="#cdda5c" d="M-8 -8h88l-2 18l-6 20l-8 16l-10 14l-14 13l-16 11l-14 6l-18 5zM848 -8h84v102l-16-4l-16-8l-14-10l-14-14l-10-14l-8-18l-4-16zM455 688h19l20 4l20 8l20 14l14 15l10 17l8 20l3 20v22l-5 20l-8 18l-12 17l-16 15l-16 10l-20 8l-20 3h-22l-20-5l-18-8l-17-12l-15-16l-10-16l-8-19l-4-21v-18l4-20l8-20l12-18l14-14l18-12l20-8zM-8 1494v-2l8 2l17 6l15 8l13 10l11 12l8 11l8 15l4 14h-84zM927 1494l5-1v77h-81l5-14l6-12l8-12l9-10l11-10l12-8l13-6z"/>
<path fill="#ffe632" d="M-8 -8h80l-2 17l-4 15l-8 16l-8 12l-14 14l-14 10l-13 6l-17 5zM856 -8h76v94l-18-6l-11-6l-14-10l-13-14l-8-12l-6-13l-4-14zM455 696h17l20 4l15 6l19 12l14 14l8 12l8 17l4 15l2 18l-2 18l-6 20l-10 18l-12 14l-12 10l-19 10l-20 6l-21 1l-14-1l-8-2l-12-4l-12-6l-14-10l-12-13l-12-18l-6-15l-4-22v-12l4-22l6-16l10-16l18-18l12-8l19-8zM-8 1502v-1l7 1l16 6l11 6l13 10l9 9l8 11l6 10l6 16h-76zM928 1502l4-1v69h-72l4-12l6-12l10-14l6-6l12-10l10-6z"/>
<path fill="#ffe632" d="M-8 -8h62l-2 15l-4 13l-6 12l-6 9l-9 9l-10 8l-11 6l-14 4zM874 -8h58v76l-14-6l-10-6l-10-8l-8-9l-8-13l-4-10l-3-12zM456 714h16l18 4l13 6l12 8l11 11l8 12l6 15l3 16v16l-3 16l-6 14l-8 12l-12 12l-12 8l-15 6l-15 3h-16l-16-3l-14-6l-12-8l-12-12l-8-12l-6-14l-4-18v-14l4-18l6-13l8-12l11-11l15-10l16-6zM-8 1520v-1l4 1l11 4l11 6l8 6l14 16l9 18h-57zM931 1520h1v50h-54l8-16l13-16l17-12z"/>
<path fill="#ffe632" d="M-8 -8h39l-1 12l-2 7l-2 5l-8 12l-14 12l-12 5zM896 -8h36v52l-14-8l-10-10l-8-14l-2-6zM458 736h12l10 2l14 6l8 6l6 6l8 13l4 11l1 14l-1 14l-2 6l-6 11l-14 15l-10 6l-11 4l-13 1l-13-1l-7-2l-12-6l-9-8l-7-8l-6-11l-4-17v-8l2-12l4-10l6-10l10-10l6-4l14-6zM-8 1542l6 2l10 6l12 12l5 8h-33zM930 1544h2v26h-29l3-6l7-8l9-8z"/>
<path fill="#98d8d6" d="M449 38l13-1l14 1l8 1l12 5l18 13l20 19l10 13l20 31l69 124l20 44l7 30v16v8l-2 6l-10 20l-4 6l-16 12l-24 10l-30 4l-26 3l-32 1h-96l-46-2l-50-6l-14-5l-12-6l-14-11l-9-14l-5-12l-2-8l-1-18l3-16l8-26l26-54l58-103l24-38l18-19l20-18l10-6zM-8 382v-2h26l48 2l46 6l14 5l14 7l15 12l7 12l6 14l2 6v12l-1 12l-4 22l-4 10l-8 20l-26 50l-57 101l-18 27l-20 22l-22 19l-18 7zM862 382l34-2h36v365l-14-6l-20-17l-22-23l-12-18l-22-37l-59-108l-17-36l-7-26l-2-12l1-20l7-18l9-14l16-12l22-9l26-4zM-8 842l4 1l12 4l10 8l19 17l17 20l22 35l50 89l21 40l15 32l5 18l3 18v20l-4 11l-7 15l-7 8l-14 11l-21 9l-27 5l-28 2l-34 2h-36zM928 844l4-2v365h-32l-36-2l-28-3l-25-4l-21-9l-15-11l-6-8l-7-14l-4-12v-20l7-34l14-32l20-38l52-92l23-37l14-16l16-16l14-11zM387 1184l29-1h112l39 3l37 5l24 10l16 13l9 14l6 16l1 10v14l-5 22l-5 16l-24 50l-58 104l-24 39l-15 17l-15 15l-14 11l-16 6l-14 2h-16l-10-2l-14-5l-22-18l-22-23l-24-38l-57-102l-22-44l-7-16l-3-10l-6-26l1-20l6-17l9-15l17-13l22-9l32-5z"/>
<path fill="#98d8d6" d="M449 64l11-1h12l8 1l10 4l14 6l22 20l18 21l14 19l41 72l20 38l8 18l7 24l5 26v12l-6 18l-9 17l-8 8l-12 8l-30 12l-38 4l-32 2h-72l-48-2l-32-5l-28-11l-8-4l-9-7l-10-16l-5-12l-3-12l-1-10l2-10l4-20l7-22l5-12l13-26l49-87l18-25l20-22l18-16l12-6zM-8 392h38l40 3l16 3l25 10l14 8l5 4l5 6l10 20l4 14v6v10l-4 20l-11 34l-24 46l-42 74l-18 24l-24 26l-14 11l-20 8zM898 392l34-1v327l-18-8l-14-12l-22-23l-18-25l-42-74l-22-42l-11-30l-6-32v-12l7-22l10-16l10-8l15-8l21-8l26-4zM-8 868l20 8l12 10l22 22l18 23l18 31l41 74l11 22l8 22l6 28l1 16l-3 14l-6 14l-9 14l-9 7l-14 8l-22 8l-40 5l-54 2zM929 870l3-1v327l-50-2l-40-5l-19-7l-17-8l-10-8l-7-12l-7-14l-3-14v-14l5-26l9-26l8-18l17-32l44-76l16-22l21-22l15-13zM390 1196l34-1h84l36 2l30 4l29 11l9 5l8 6l10 15l7 18l2 10l-1 16l-5 24l-8 24l-20 40l-42 74l-7 12l-12 16l-24 27l-16 14l-22 9l-14 2h-14l-8-1l-14-6l-8-4l-10-8l-24-25l-20-27l-42-73l-24-46l-9-28l-6-28v-14l3-12l4-10l11-18l9-8l6-3l28-11l16-3z"/>
<path fill="#98d8d6" d="M448 88l18-2l10 1l6 2l12 4l10 6l6 4l10 9l16 18l18 24l27 46l17 32l9 20l7 20l4 18l2 16l-4 20l-10 20l-8 10l-16 9l-16 7l-16 5l-26 3l-28 2h-58l-46-3l-12-2l-16-4l-14-5l-12-7l-10-7l-12-18l-5-14l-3-14l2-18l4-18l6-18l20-42l33-56l23-32l22-21l14-9zM-8 404v-2l18 1l42 3l24 6l22 10l10 6l11 16l8 18l3 18l-5 28l-12 32l-20 40l-29 50l-20 27l-20 21l-14 10l-18 8zM891 404l41-2v292l-18-8l-14-12l-18-19l-18-25l-29-48l-19-38l-11-30l-7-28v-12l5-18l7-14l10-14l14-9l18-7l22-6zM-8 892l14 5l14 9l20 20l20 25l24 40l22 41l13 30l8 26l3 20l-1 10l-6 18l-11 18l-6 7l-14 7l-16 7l-20 6l-26 3l-38 1zM929 894l3-1v292l-30-1l-26-2l-16-4l-17-6l-15-8l-9-6l-11-16l-7-16l-4-18l2-14l7-26l13-30l16-32l29-49l16-23l18-19l12-11zM418 1206l64-1l36 1l24 3l22 5l20 9l15 9l7 10l6 10l4 10l3 12l1 10l-2 16l-5 18l-7 18l-22 46l-28 48l-22 30l-24 24l-16 10l-18 6l-12 1l-12-1l-20-7l-16-10l-12-11l-12-14l-23-32l-33-58l-17-38l-5-16l-4-16l-3-16l4-18l8-18l11-15l18-10l22-9l18-4z"/>
<path fill="#98d8d6" d="M453 108h19l12 3l18 9l16 12l16 18l15 22l21 36l18 36l8 20l5 18l1 18l-2 10l-6 17l-10 15l-8 8l-14 7l-14 5l-14 4l-32 4l-58 1l-38-3l-30-7l-13-5l-11-6l-10-10l-10-16l-4-12l-2-12v-12l2-10l4-16l7-18l23-44l24-40l22-27l10-8l12-8l12-5zM-8 414v-1h4l20 1l28 4l22 7l19 9l9 8l10 15l5 15l3 16l-3 20l-10 30l-19 38l-22 38l-15 22l-15 17l-18 13l-18 8zM918 414l14-1v260l-16-8l-16-12l-15-17l-15-21l-20-35l-20-38l-10-26l-3-12l-1-10v-14l6-18l8-16l10-10l16-9l18-6l20-4zM-8 914v-1l4 2l12 5l18 13l12 13l14 18l22 36l18 34l11 26l7 24l2 18l-3 14l-6 16l-10 14l-7 7l-14 7l-16 6l-18 4l-22 3l-24 1zM928 916l4-1v259l-28-2l-24-4l-20-6l-18-9l-10-9l-8-14l-6-16l-2-14l2-20l9-28l17-34l22-39l16-24l16-19l14-11zM416 1218l32-2l48 1l30 3l24 6l22 9l11 9l11 16l6 18l2 10l-1 14l-2 12l-6 16l-17 38l-27 48l-17 24l-16 17l-20 14l-12 5l-10 3l-18 1l-20-7l-20-12l-15-15l-22-30l-25-44l-17-34l-10-30l-1-18l2-14l6-16l10-16l10-8l20-9l20-6z"/>
<path fill="#32ace8" d="M452 128l14-2l16 4l16 8l16 12l14 15l13 19l17 30l14 28l7 16l4 16l1 16l-1 12l-5 15l-8 13l-10 9l-10 6l-24 8l-30 4l-46 1l-36-3l-22-5l-18-7l-16-12l-9-15l-3-10l-2-10v-12l2-14l7-24l18-36l21-34l18-22l10-9l10-8l10-5zM-8 428v-2l8 1l30 3l18 4l16 7l14 11l7 10l6 14l3 16l-2 20l-6 22l-13 28l-21 37l-13 19l-15 16l-16 12l-16 8zM912 428l20-1v226l-14-8l-14-11l-14-15l-12-17l-19-32l-15-30l-7-20l-3-20v-12l4-16l6-13l8-9l12-9l10-5l18-5zM-8 934v-1l2 1l12 6l16 11l16 17l12 18l21 36l14 30l7 22l2 20l-2 14l-6 16l-7 10l-13 11l-12 6l-18 5l-20 3l-24 2zM928 936l4-2v227l-22-2l-18-3l-18-5l-12-6l-12-9l-7-10l-7-14l-3-16l3-22l6-22l11-24l18-32l13-20l14-17l14-13zM434 1230l38-1l30 2l24 3l20 6l12 7l13 11l9 16l4 16l-1 22l-7 26l-18 36l-22 37l-16 20l-16 14l-18 11l-18 5h-8l-8-2l-18-7l-18-13l-16-17l-18-26l-22-40l-10-24l-6-22l-1-18l4-14l7-16l9-10l11-8l16-7l20-4z"/>
<path fill="#32ace8" d="M453 148l13-2l14 4l14 7l14 12l13 15l12 18l15 27l10 21l5 16l2 14v12l-3 11l-5 11l-8 8l-11 8l-12 6l-20 5l-30 2h-36l-26-4l-16-5l-15-8l-11-11l-6-11l-3-10l-1-6l1-12l2-12l9-24l17-32l14-22l15-18l16-12zM-8 442l16 1l20 3l12 4l12 7l9 7l7 8l6 14l1 12l-2 18l-5 18l-10 22l-16 28l-12 18l-12 13l-12 11l-14 7zM925 442h7v190l-12-8l-12-10l-12-14l-12-18l-14-26l-10-22l-6-18l-2-16l1-10l5-14l4-7l9-9l11-7l14-6l12-3zM-8 954l12 6l14 12l12 14l13 18l15 28l10 22l5 18l2 18l-2 12l-5 13l-6 7l-10 9l-12 6l-12 5l-16 2l-20 2zM931 956l1-1v191l-32-4l-14-5l-11-7l-10-8l-6-8l-5-12l-2-12l2-16l5-18l8-20l15-27l12-19l12-15l12-11zM458 1244l26 1l22 1l14 3l14 6l12 7l10 10l6 12l3 14l-2 20l-6 20l-13 28l-18 30l-14 18l-14 13l-16 9l-16 5h-6l-10-3l-16-8l-14-11l-14-16l-15-23l-17-34l-8-22l-4-20l1-12l6-16l8-10l11-8l12-6l13-4l19-3z"/>
<path fill="#32ace8" d="M452 174l12-2l12 2l10 5l8 7l8 8l11 14l13 22l7 16l7 22l2 10l-1 10l-3 8l-7 8l-7 6l-10 5l-16 5l-20 3h-26l-20-2l-16-5l-12-6l-9-8l-7-10l-2-10l2-16l5-16l9-20l14-23l11-15l13-11zM-8 462l12 1l12 3l10 4l8 4l9 8l6 8l2 6l1 8l-2 12l-3 14l-7 16l-9 16l-10 16l-9 13l-10 9l-10 7zM920 464l12-2v143l-9-7l-8-8l-9-12l-10-16l-14-30l-4-12l-2-12l1-14l3-6l6-7l14-10zM-8 982v-2l6 4l12 10l9 12l11 17l10 19l7 16l4 14l1 12l-1 8l-3 6l-6 8l-8 7l-8 4l-10 4l-24 4zM929 984l3-2v143l-22-4l-10-4l-8-5l-7-6l-6-8l-2-6l-1-6l1-12l2-12l12-28l21-33l8-9zM435 1266l17-2h24l16 2l14 3l12 5l10 6l8 9l5 9v14l-3 16l-7 18l-10 20l-13 20l-10 12l-12 10l-12 6l-12 1l-10-2l-12-6l-12-11l-12-15l-14-24l-9-19l-5-14l-2-12v-12l2-5l4-7l8-8l10-6l12-5z"/>
<path fill="#32ace8" d="M461 220l9 1l9 5l8 10l9 16l3 10v8l-3 8l-3 4l-3 2l-16 3h-24l-14-4l-6-7l-2-6l1-8l2-8l5-10l6-10l6-7l6-5zM-8 500v-2l2 1l10 4l4 7l2 8l-2 8l-3 8l-13 21zM929 500l3-1v51l-10-18l-3-8l-1-6l1-6l2-6l4-4zM-8 1034v-2l4 6l9 16l3 8l2 8l-2 8l-4 6l-4 3l-8 2zM931 1038l1 50l-6-2l-4-4l-3-6l-1-6l1-6l2-8zM460 1300l18 1l13 3l6 6l2 8v6l-2 8l-11 21l-10 10l-10 4l-10-1l-6-4l-4-4l-13-20l-3-8l-2-8l2-10l4-6l10-4z"/>
</g></g><path fill-rule="evenodd" fill="#231f20" d="M21.4 1527.6H495.8V2324H21.4ZM27.6 1534.8H489.5V2316H27.6Z"/><circle cx="80" cy="1592" r="47" fill="#fff"/><text x="42" y="1593" font-size="70">m</text><text x="98" y="1617" font-size="54">1</text>
<clipPath id="d2"><rect x="0" y="0" width="922.6" height="1578"/></clipPath>
<g transform="translate(506.7,1531) scale(0.5)"><g clip-path="url(#d2)" stroke="#16221c" stroke-width="2.4" stroke-opacity="0.88" stroke-linejoin="round">
<rect x="-8" y="-8" width="938" height="1594" fill="#98d8d6" stroke="none"/>
<path fill="#98d8d6" d="M-8 -8h370l-5 32l-11 40l-12 32l-17 38l-18 30l-22 30l-23 25l-26 24l-18 14l-24 16l-18 9l-14 4l-6 1l-22 1l-84 11l-50 3zM566 -8h364v310l-46-3l-82-11l-24-1l-8-2l-10-3l-22-11l-18-12l-20-15l-28-26l-23-26l-21-30l-18-30l-14-30l-15-38l-12-46zM433 442l29-1l30 1l34 3l76 10l22 1l20 5l20 10l26 18l22 18l28 27l17 20l20 28l19 34l16 36l12 34l9 32l4 24l3 30l-1 42l-4 36l-4 20l-9 30l-12 32l-15 34l-16 28l-18 26l-20 24l-21 21l-26 22l-28 20l-24 12l-18 4l-22 1l-82 11l-30 3h-26h-26l-30-3l-82-11l-24-1l-18-5l-22-11l-36-26l-28-25l-25-28l-21-30l-20-34l-17-36l-12-34l-10-42l-4-32l-1-28v-26l5-38l10-42l17-46l21-42l22-34l14-18l15-16l28-27l18-14l20-14l26-14l19-5l23-1l76-10zM-8 1278v-1h6l34 2l94 12l24 1l18 5l20 10l36 26l22 19l27 28l24 32l18 30l17 36l14 38l11 38l5 32h-370zM909 1278l21-1v309h-364l3-24l10-40l15-40l14-30l15-28l24-34l22-26l23-22l22-17l20-14l10-6l18-9l17-4l23-1l76-10z"/>
<path fill="#98d8d6" d="M-8 -8h356l-5 32l-10 38l-12 32l-14 30l-18 30l-20 28l-23 25l-24 23l-22 17l-22 15l-20 10l-10 3l-12 4l-22 2l-62 11l-32 3l-28 1zM580 -8h350v304l-28-1l-32-4l-56-10l-22-2l-18-5l-22-11l-10-6l-20-14l-20-16l-24-23l-21-24l-20-28l-18-30l-14-30l-12-34l-8-32zM434 448l34-1l34 2l40 5l46 8l24 3l20 5l28 15l28 20l22 19l23 24l22 26l18 28l16 28l14 34l10 30l8 34l3 30l2 30l-1 32l-4 30l-8 34l-10 32l-12 28l-16 30l-18 28l-22 28l-21 21l-28 24l-28 20l-26 14l-18 5l-24 3l-42 8l-34 4l-30 3h-28l-30-1l-36-5l-52-9l-22-2l-22-7l-24-13l-34-24l-28-25l-25-28l-22-30l-18-30l-16-36l-12-36l-8-36l-5-42l1-42l4-40l10-40l14-40l20-38l22-34l27-32l28-27l34-26l12-8l16-8l7-3l19-5l24-3l56-10zM-8 1284v-1h16l38 4l66 11l24 3l12 3l8 2l24 13l24 16l20 16l24 23l23 26l20 28l18 30l14 30l12 34l8 34l5 30h-356zM910 1284l20-1v303h-350l5-32l8-32l10-30l14-30l14-26l18-26l19-24l26-26l20-17l18-14l18-12l22-11l20-5l24-3l56-10z"/>
<path fill="#98d8d6" d="M-8 -8h344l-5 30l-8 32l-12 34l-14 30l-14 24l-20 28l-23 26l-24 23l-26 20l-24 16l-20 10l-18 6l-78 15l-30 3l-28 1zM592 -8h338v298l-28-2l-30-3l-74-14l-16-6l-24-12l-24-16l-22-18l-25-23l-22-26l-18-24l-16-28l-16-34l-10-28l-8-32zM436 454l34-1l36 2l36 5l56 10l26 9l20 10l18 12l24 18l25 23l22 24l20 26l16 26l14 28l12 30l8 28l6 28l4 34l1 36l-3 30l-4 28l-8 30l-10 30l-12 26l-18 32l-20 28l-23 26l-20 20l-24 19l-30 20l-22 11l-20 6l-54 10l-32 5l-32 3h-32l-38-3l-42-7l-42-7l-28-11l-14-7l-16-10l-30-22l-27-25l-26-30l-22-32l-16-30l-14-32l-10-32l-8-40l-3-30l1-44l4-36l10-40l12-34l18-36l20-32l24-30l27-27l30-24l32-20l16-8l22-7l62-11zM-8 1290v-1l18 1l34 3l32 5l50 9l18 6l24 12l24 16l20 16l25 23l22 24l18 24l18 30l14 28l12 32l10 38l5 30h-344zM912 1290l18-1v297h-338l5-32l8-30l10-28l12-28l16-28l18-26l20-24l23-23l16-14l22-16l18-12l24-12l20-6l44-9l34-5z"/>
<path fill="#98d8d6" d="M-8 -8h336l-6 32l-7 30l-11 30l-13 28l-16 28l-19 26l-21 24l-23 22l-22 17l-24 17l-22 11l-17 7l-15 5l-58 10l-32 3l-30 2zM600 -8h330v292l-30-2l-32-4l-52-9l-20-7l-22-9l-18-11l-22-15l-21-17l-22-22l-21-24l-18-26l-15-26l-13-28l-11-30l-8-30zM439 460l33-1l32 2l32 4l52 10l23 7l11 5l17 9l22 14l25 20l22 20l20 22l19 26l16 26l14 28l11 30l9 30l5 30l3 30v32l-2 30l-5 30l-9 30l-10 28l-13 28l-15 26l-19 26l-20 23l-22 21l-26 21l-28 18l-24 12l-22 7l-52 9l-32 5l-32 2l-30-1l-42-4l-62-10l-24-8l-18-8l-30-19l-28-22l-26-25l-23-27l-20-30l-16-30l-14-34l-10-34l-7-36l-2-38l1-38l6-36l10-36l13-36l18-33l21-31l23-28l28-27l30-23l30-17l14-7l24-7l58-11zM-8 1296v-1l22 1l36 4l60 10l16 5l16 6l24 13l24 16l22 17l24 23l20 23l18 25l16 28l13 28l11 30l8 30l5 32h-335zM915 1296l15-1v291h-330l5-30l8-30l9-28l13-28l15-26l18-26l18-22l22-22l20-17l22-16l20-12l22-11l20-6l14-3l52-9z"/>
<path fill="#98d8d6" d="M-8 -8h328l-5 30l-8 30l-10 28l-13 28l-16 27l-18 25l-20 24l-22 21l-20 16l-22 15l-18 11l-24 10l-24 8l-40 6l-36 5l-32 2zM608 -8h322v286l-34-3l-42-6l-28-5l-22-6l-24-11l-18-11l-22-15l-22-18l-22-21l-20-24l-17-24l-15-26l-13-28l-10-28l-8-30zM442 466l30-1l32 2l46 7l32 6l20 6l25 12l25 16l26 19l24 22l22 25l20 28l16 28l14 30l11 32l7 32l5 32l1 34l-2 32l-6 32l-8 32l-12 30l-14 30l-18 28l-20 26l-22 24l-26 22l-26 19l-27 15l-17 7l-24 8l-50 8l-30 3l-32 2l-32-2l-32-3l-51-9l-23-7l-24-11l-24-15l-24-18l-26-23l-22-24l-20-27l-17-29l-14-30l-12-32l-7-32l-5-34l-1-34l2-34l6-34l9-32l12-32l16-30l18-28l21-26l24-25l26-21l30-20l26-13l14-5l20-6l52-8zM-8 1302h24l36 5l46 7l26 8l23 10l17 10l22 15l20 16l22 21l20 22l19 26l15 26l14 28l11 30l7 30l5 30h-327zM918 1302h12v284h-322l5-30l7-28l10-28l12-26l15-26l17-25l20-23l20-21l21-17l23-17l20-12l24-11l22-7l16-3l46-7z"/>
<path fill="#98d8d6" d="M-8 -8h320l-5 30l-8 28l-10 28l-13 28l-15 26l-18 24l-19 22l-22 21l-22 18l-22 15l-18 10l-26 11l-28 8l-24 4l-38 5l-32 2zM616 -8h314v280l-32-3l-36-4l-22-4l-26-8l-26-11l-20-11l-22-15l-22-18l-22-21l-19-23l-17-24l-15-26l-13-26l-10-28l-7-28zM445 472h31l36 2l46 7l24 6l20 8l24 12l24 15l24 18l23 22l21 24l19 26l16 28l14 30l10 30l8 32l4 32l1 32l-2 32l-6 32l-8 30l-11 30l-15 29l-17 27l-20 26l-21 22l-24 21l-26 19l-26 15l-24 10l-28 8l-34 6l-34 4l-32 1l-32-2l-46-6l-30-6l-20-6l-26-12l-26-16l-26-19l-24-22l-22-25l-19-26l-16-28l-14-30l-11-32l-7-32l-4-32l-1-34l2-32l6-32l9-32l12-30l16-30l17-26l21-26l23-23l25-21l27-18l27-14l15-6l30-9l42-6zM-8 1308l28 1l38 4l28 5l28 8l26 11l18 11l22 14l22 18l22 21l20 23l17 24l15 25l13 27l10 28l7 28l5 30h-319zM921 1308h9v278h-314l5-28l7-28l10-28l12-26l14-24l17-24l18-22l21-21l22-19l24-16l20-12l26-11l24-8l16-3l38-5z"/>
<path fill="#98d8d6" d="M-8 -8h311l-4 28l-8 28l-10 28l-12 26l-14 24l-17 24l-19 22l-21 20l-24 19l-24 16l-20 11l-28 12l-24 6l-22 4l-34 5l-30 1zM624 -8h306v274l-30-2l-32-4l-24-5l-22-7l-24-10l-24-13l-24-16l-22-18l-20-20l-18-21l-17-24l-15-25l-12-26l-10-27l-7-28zM438 478l32-1l34 2l36 5l28 7l20 6l24 11l24 14l22 16l24 20l20 21l19 23l17 26l13 26l12 28l9 28l6 30l3 30l1 30l-3 30l-5 28l-8 30l-10 28l-13 26l-16 26l-18 24l-21 23l-23 21l-25 18l-28 17l-24 11l-22 7l-31 7l-37 5l-34 1l-34-1l-38-5l-30-7l-22-7l-24-11l-29-17l-27-20l-23-22l-23-26l-19-26l-16-28l-13-30l-10-32l-6-32l-4-32v-34l4-32l6-32l11-32l13-30l16-28l20-28l22-24l26-24l28-20l28-16l29-12l25-7l27-5zM-8 1314v-1l22 1l38 4l24 5l27 7l27 11l20 11l24 16l23 18l21 20l19 22l17 24l14 24l13 26l10 28l8 28l4 28h-311zM914 1314l16-1v273h-306l5-28l7-26l9-26l11-24l14-24l15-22l17-22l20-20l20-17l22-16l24-15l22-10l20-8l32-8l26-3z"/>
<path fill="#98d8d6" d="M-8 -8h303l-4 28l-7 26l-10 26l-12 26l-14 24l-16 23l-18 21l-21 20l-21 17l-22 15l-26 14l-22 9l-20 7l-32 7l-30 4l-28 1zM632 -8h298v268l-30-2l-28-4l-28-7l-22-7l-22-10l-24-13l-22-15l-22-18l-20-20l-17-20l-15-22l-15-24l-12-26l-9-26l-7-26zM435 484l31-1l30 1l32 5l33 7l27 10l22 10l24 15l24 17l23 20l20 22l18 24l16 26l14 28l10 28l8 28l5 30l2 30l-1 30l-4 30l-7 30l-9 28l-13 28l-16 28l-17 24l-21 24l-22 20l-24 19l-26 16l-22 11l-30 11l-28 6l-30 5l-32 2l-34-1l-34-4l-34-7l-26-9l-22-10l-24-13l-24-17l-24-21l-21-22l-19-24l-16-26l-14-28l-11-30l-8-30l-5-30l-2-30l1-32l4-30l7-30l11-30l13-28l16-26l18-25l22-24l24-21l24-18l28-16l22-10l24-8l34-8zM-8 1320v-1l20 1l32 3l34 7l22 7l22 9l26 14l22 15l22 17l20 20l18 20l17 24l14 24l13 26l9 26l7 26l5 28h-303zM911 1320l19-1v267h-298l5-26l7-26l8-24l11-24l13-24l16-22l16-20l18-19l20-17l20-15l22-14l22-11l24-9l18-5l30-6z"/>
<path fill="#98d8d6" d="M-8 -8h295l-4 26l-7 26l-10 26l-11 24l-14 24l-16 22l-17 20l-20 20l-20 16l-22 15l-24 13l-22 10l-26 8l-22 6l-30 4l-30 2zM640 -8h290v261l-30-2l-30-5l-22-5l-24-9l-24-11l-22-12l-21-15l-19-16l-19-18l-17-20l-16-22l-14-24l-11-24l-9-26l-7-26zM447 490h31l32 3l29 5l27 8l26 10l26 14l24 16l22 17l21 21l19 23l17 25l15 26l11 28l9 28l6 28l3 30l1 30l-3 28l-6 30l-8 28l-11 28l-13 26l-17 25l-18 23l-22 22l-22 18l-26 18l-26 14l-24 10l-30 9l-28 5l-28 3h-30l-30-2l-32-5l-26-7l-24-9l-28-14l-25-16l-23-18l-22-21l-19-23l-17-24l-15-26l-12-28l-9-28l-6-30l-4-30v-30l3-30l5-30l9-28l11-28l14-26l16-25l19-23l21-21l24-20l25-17l27-14l24-10l28-8l30-5zM-8 1326l26 1l32 4l24 6l26 8l22 10l24 13l22 15l20 16l19 19l17 20l16 22l15 24l11 24l10 26l7 26l4 26h-295zM923 1326h7v260h-290l5-26l7-26l9-24l11-24l13-22l15-22l17-20l19-19l20-17l20-14l22-13l23-11l23-8l24-7l28-5z"/>
<path fill="#98d8d6" d="M-8 -8h287l-4 26l-7 26l-9 24l-12 24l-13 22l-16 22l-17 20l-19 18l-20 16l-22 15l-22 12l-25 11l-23 8l-26 6l-26 3l-26 2zM648 -8h282v255l-24-2l-26-4l-26-6l-24-9l-24-11l-22-12l-22-15l-19-16l-18-18l-17-20l-16-22l-13-22l-11-24l-9-24l-6-24zM433 498l29-2l30 2l30 4l28 7l24 8l26 12l24 14l24 17l22 20l18 20l18 23l15 25l13 26l10 28l8 28l4 28l2 28l-1 30l-4 28l-7 28l-10 28l-12 26l-14 24l-17 24l-20 22l-21 19l-24 18l-24 15l-26 13l-24 8l-28 7l-30 5l-30 2l-30-1l-30-5l-28-6l-24-9l-27-12l-24-14l-23-17l-22-19l-18-20l-18-23l-15-25l-13-26l-11-28l-7-28l-4-28l-2-28l1-30l4-28l6-28l10-28l12-26l14-24l17-24l20-22l21-20l24-18l25-15l26-12l24-9l30-8zM-8 1334v-2l12 1l34 4l28 6l26 8l24 10l24 13l22 15l20 16l18 17l18 21l15 21l14 22l11 24l9 24l7 26l5 26h-287zM909 1334l21-1v253h-282l5-24l6-24l9-24l10-22l12-22l14-20l15-18l17-18l18-16l20-15l20-13l22-11l21-9l23-7l24-5z"/>
<path fill="#98d8d6" d="M-8 -8h279l-5 26l-6 24l-9 24l-11 22l-13 22l-15 21l-16 19l-19 18l-20 16l-21 14l-22 12l-24 11l-22 7l-26 6l-24 4l-26 1zM656 -8h274v247l-26-2l-24-4l-22-5l-24-9l-24-11l-22-12l-20-14l-20-16l-18-18l-17-20l-14-20l-13-22l-10-22l-9-24l-6-24zM430 506l28-2l28 1l28 3l28 7l26 8l26 12l24 14l22 15l21 18l19 20l17 22l15 24l13 26l10 26l8 26l5 28l2 28l-1 28l-3 28l-7 28l-8 26l-12 26l-13 24l-16 23l-18 21l-20 19l-22 17l-24 16l-26 13l-26 10l-26 7l-28 5l-28 2l-30-1l-28-3l-28-6l-26-9l-26-12l-24-13l-22-16l-22-19l-19-20l-17-22l-15-24l-13-26l-10-26l-7-26l-5-28l-2-28l1-28l3-28l7-28l8-26l12-26l14-24l17-24l18-21l20-19l22-17l24-15l26-13l26-10l26-6zM-8 1342v-2h10l34 4l28 6l24 8l24 10l22 12l22 14l20 16l19 18l17 20l14 20l14 22l10 22l9 24l7 24l5 26h-279zM906 1342l24-2v246h-273l4-24l6-22l8-22l10-22l11-20l14-20l14-18l16-17l18-16l18-14l20-13l20-10l20-9l22-7l24-6z"/>
<path fill="#98d8d6" d="M-8 -8h271l-4 24l-7 24l-9 24l-11 22l-12 20l-14 20l-16 18l-18 18l-20 16l-20 13l-22 12l-22 10l-24 8l-24 6l-24 3l-24 1zM664 -8h266v239l-24-2l-24-3l-24-7l-22-8l-22-9l-22-13l-20-14l-18-15l-18-17l-16-19l-14-20l-12-20l-10-22l-8-22l-7-24zM451 512h27l28 3l26 5l26 8l26 11l24 13l22 15l21 17l20 20l17 21l15 23l13 24l10 24l7 26l6 26l2 28v28l-2 26l-6 28l-8 26l-11 26l-12 23l-16 23l-16 20l-20 20l-20 16l-23 16l-25 13l-26 11l-26 8l-24 4l-28 3h-28l-28-3l-26-5l-26-8l-26-11l-23-12l-23-15l-20-17l-20-20l-17-20l-15-22l-13-24l-11-26l-8-26l-5-26l-3-28v-28l3-26l5-28l8-26l11-26l13-24l15-22l17-21l20-20l21-17l23-16l24-12l26-11l26-8l26-4zM-8 1348l22 1l26 4l24 5l24 8l22 10l22 12l21 14l19 15l18 18l16 18l14 20l13 21l10 22l9 22l6 24l5 24h-271zM927 1348h3v238h-265l4-24l6-22l8-22l11-22l12-21l14-20l16-18l17-17l19-16l20-14l20-11l22-10l22-8l24-7l24-4z"/>
<path fill="#98d8d6" d="M-8 -8h263l-5 24l-6 22l-8 22l-11 22l-12 20l-14 20l-16 18l-17 16l-18 15l-20 13l-22 12l-22 10l-22 7l-24 6l-22 3l-24 2zM673 -8h257v231l-24-2l-22-3l-24-6l-22-8l-22-10l-20-12l-20-14l-17-14l-16-16l-16-18l-14-20l-12-20l-9-20l-9-22l-6-22zM449 520h27l26 2l26 5l26 8l24 10l24 13l22 14l20 17l20 19l16 20l15 22l13 24l10 24l8 26l5 26l2 26l1 26l-3 26l-5 26l-8 26l-10 24l-12 24l-15 22l-17 21l-18 18l-21 17l-21 14l-24 13l-24 10l-26 8l-26 6l-26 2h-26l-26-2l-26-5l-26-8l-24-10l-24-12l-22-15l-21-17l-18-18l-17-20l-15-22l-13-24l-10-24l-8-26l-5-26l-3-26v-26l2-26l5-26l8-26l10-24l12-24l15-22l16-20l18-18l21-18l21-14l24-13l24-11l26-8l26-5zM-8 1356l20 1l26 3l24 6l22 7l22 10l22 12l20 13l18 15l16 15l16 18l15 20l12 20l10 22l9 22l6 22l5 24h-263zM925 1356h5v230h-257l4-24l7-22l8-22l10-20l12-20l13-18l15-18l16-16l18-15l19-13l19-11l22-11l22-8l22-6l22-4z"/>
<path fill="#98d8d6" d="M-8 -8h255l-5 24l-6 22l-9 22l-10 20l-12 20l-13 18l-16 18l-16 15l-18 14l-19 13l-21 11l-20 9l-22 7l-22 6l-22 3l-24 2zM681 -8h249v223l-22-1l-22-4l-22-6l-22-7l-20-9l-21-12l-19-13l-18-15l-16-16l-14-16l-13-18l-12-20l-10-20l-8-22l-6-22zM449 528h25l26 2l26 5l24 7l24 10l22 11l22 15l20 16l18 18l17 20l15 22l12 22l10 24l7 24l6 26l2 26l1 26l-3 26l-5 26l-8 24l-10 24l-11 22l-15 22l-16 19l-18 19l-20 16l-22 15l-22 11l-24 10l-24 8l-24 4l-26 3h-26l-26-2l-26-5l-24-8l-24-9l-22-12l-22-15l-20-16l-18-18l-16-20l-15-22l-12-22l-10-24l-7-24l-5-24l-3-26v-26l2-24l5-26l7-24l10-24l12-23l14-22l16-19l18-19l20-17l21-14l23-12l24-11l24-7l26-5zM-8 1364l20 1l24 3l24 6l22 7l22 10l20 11l18 12l18 14l17 16l15 17l14 19l12 20l10 20l8 22l6 22l5 22h-255zM925 1364h5v222h-249l4-22l6-22l8-20l10-20l12-20l13-18l14-17l16-16l18-15l18-12l18-10l20-10l22-8l22-6l22-4z"/>
<path fill="#98d8d6" d="M-8 -8h247l-4 22l-7 22l-8 20l-10 20l-12 20l-13 18l-15 17l-16 15l-18 14l-18 12l-20 10l-20 9l-20 7l-22 5l-22 3l-22 2zM689 -8h241v215l-22-1l-22-4l-22-6l-20-7l-20-9l-20-12l-18-12l-16-13l-16-16l-14-17l-13-18l-11-18l-10-20l-7-20l-6-20zM450 536h24l26 2l24 5l24 7l22 9l22 11l21 14l20 16l17 17l16 19l15 22l12 22l9 22l8 24l5 24l2 26v26l-2 24l-4 24l-8 24l-9 24l-12 22l-14 21l-16 19l-18 18l-18 15l-20 13l-22 12l-22 10l-24 7l-24 5l-26 3h-26l-24-2l-24-5l-24-7l-24-9l-22-12l-21-14l-19-15l-18-18l-15-19l-14-20l-12-22l-9-22l-8-24l-5-24l-3-26v-26l2-24l5-24l7-24l10-24l11-22l14-20l16-20l18-18l19-16l20-14l22-11l22-10l24-7l24-5zM-8 1372l18 1l24 3l22 5l22 7l20 9l20 11l18 11l18 15l16 15l15 17l14 18l11 18l10 20l8 20l6 22l5 22h-247zM926 1372h4v214h-241l4-22l6-20l8-20l10-20l11-18l13-18l13-16l16-15l16-14l18-12l18-10l20-10l20-7l21-6l21-4z"/>
<path fill="#98d8d6" d="M-8 -8h239l-5 22l-6 20l-8 20l-9 18l-10 18l-14 18l-14 16l-15 15l-17 13l-18 12l-19 11l-20 8l-20 7l-22 5l-20 3l-22 2zM697 -8h233v207l-22-1l-20-4l-20-5l-20-7l-20-9l-18-10l-18-13l-16-13l-16-15l-13-16l-12-16l-11-18l-9-18l-8-20l-6-20zM450 544h24l24 2l24 5l24 7l22 9l22 11l20 14l18 14l18 18l15 18l13 20l12 22l9 22l7 22l5 24l2 24l1 24l-3 24l-4 24l-7 24l-9 22l-12 22l-14 20l-14 18l-17 17l-18 15l-20 14l-22 11l-22 10l-22 7l-24 5l-24 2h-24l-24-2l-24-4l-24-7l-22-9l-22-12l-20-13l-18-15l-17-17l-15-18l-14-20l-12-22l-9-22l-7-22l-5-24l-3-24v-24l2-24l5-24l7-24l9-22l11-22l14-20l14-18l18-18l18-15l20-14l21-11l23-10l22-7l24-4zM-8 1380l18 1l22 3l22 5l20 6l20 9l19 10l19 12l16 13l16 15l14 16l12 16l12 19l10 19l8 20l6 20l5 22h-239zM926 1380h4v206h-233l4-20l6-20l8-20l9-18l11-18l13-18l14-16l14-14l16-13l18-12l18-11l18-8l20-7l20-5l20-4z"/>
<path fill="#a5d28c" d="M-8 -8h231l-4 20l-6 20l-8 20l-10 18l-11 18l-12 16l-14 16l-14 13l-16 13l-18 12l-18 10l-18 7l-20 7l-20 5l-20 3l-22 2zM705 -8h225v199l-20-1l-20-4l-20-5l-20-7l-18-8l-18-10l-16-11l-16-13l-14-14l-14-16l-12-16l-11-18l-9-18l-7-18l-6-20zM450 552h24l22 2l24 4l22 7l22 9l20 10l20 13l18 15l17 16l15 18l13 20l11 20l9 22l7 22l5 22l2 24l1 24l-2 22l-5 24l-6 22l-9 22l-11 20l-13 20l-15 18l-15 16l-18 15l-20 14l-20 11l-22 9l-22 7l-22 5l-24 2h-24l-22-2l-24-4l-22-6l-22-9l-20-11l-20-13l-18-14l-16-16l-15-18l-14-20l-11-20l-9-22l-7-22l-5-22l-3-24v-24l2-22l4-24l7-22l9-22l10-20l13-20l15-19l16-16l18-15l20-14l20-11l22-9l22-7l22-4zM-8 1388l18 1l22 3l20 4l20 7l18 8l18 9l18 12l16 12l15 14l14 16l12 16l12 18l9 18l8 20l6 20l4 20h-230zM926 1388h4v198h-225l4-20l7-20l7-18l9-18l10-17l12-16l13-15l14-14l15-12l17-12l17-10l18-8l18-7l20-5l20-4z"/>
<path fill="#a5d28c" d="M-8 -8h223l-5 20l-5 18l-7 18l-10 18l-10 17l-12 16l-13 15l-15 14l-15 12l-17 11l-18 10l-18 7l-18 6l-20 5l-20 3l-20 2zM713 -8h217v191l-20-1l-18-3l-20-6l-18-6l-18-8l-16-9l-16-11l-16-13l-14-13l-13-15l-12-16l-10-16l-9-18l-7-18l-6-18zM450 560h24l22 2l22 4l22 7l20 8l20 10l20 13l17 14l16 16l15 18l12 18l11 20l9 20l6 22l5 22l2 22l1 22l-2 22l-4 22l-7 22l-8 22l-11 20l-12 19l-14 17l-16 16l-18 15l-18 13l-20 11l-20 8l-22 7l-22 5l-22 2h-22l-22-1l-22-4l-22-7l-22-8l-20-11l-19-12l-17-14l-17-16l-15-18l-12-18l-11-20l-9-20l-7-22l-4-22l-3-22v-24l2-22l4-22l7-22l9-22l10-20l12-18l14-17l16-17l17-14l19-13l20-11l20-8l22-7l22-5zM-8 1396h16l22 4l20 4l20 7l18 8l18 9l16 11l16 12l14 14l14 15l12 16l10 16l9 18l7 18l6 18l4 20h-222zM926 1396h4v190h-217l5-20l5-18l8-18l8-16l9-16l12-16l12-14l15-14l15-13l16-11l16-9l18-8l18-7l18-4l20-4z"/>
<path fill="#a5d28c" d="M-8 -8h214l-4 20l-6 18l-7 18l-9 16l-10 16l-12 16l-13 14l-13 12l-16 13l-16 10l-16 9l-18 7l-18 6l-18 5l-18 2l-20 2zM721 -8h209v183l-20-1l-18-4l-18-4l-18-7l-18-8l-16-9l-14-10l-15-12l-15-14l-12-14l-10-14l-10-16l-8-16l-7-18l-6-18zM451 568h21l22 2l22 4l20 6l20 8l20 10l18 12l18 14l16 16l13 16l12 18l10 18l9 20l6 20l5 22l2 22l1 22l-2 22l-4 22l-6 20l-8 20l-11 20l-12 18l-13 17l-15 15l-16 14l-18 12l-19 11l-20 8l-20 7l-22 5l-22 2h-22l-22-1l-22-5l-20-5l-20-8l-20-11l-18-11l-17-14l-16-16l-14-16l-12-18l-10-18l-9-20l-6-20l-5-22l-3-22v-22l2-22l4-22l6-20l8-20l10-20l12-19l14-17l16-16l16-14l18-12l19-10l19-8l22-7l22-5zM-8 1404l16 1l20 2l20 5l18 6l18 8l16 8l16 10l16 13l14 13l13 14l11 15l10 16l9 17l8 18l5 18l4 18h-214zM927 1404h3v182h-209l4-18l6-18l7-16l8-17l10-16l11-15l13-14l12-12l15-12l15-11l16-9l16-7l18-7l18-5l18-3z"/>
<path fill="#a5d28c" d="M-8 -8h206l-4 18l-6 18l-6 16l-9 16l-10 16l-11 15l-12 13l-14 13l-14 11l-16 10l-16 9l-16 7l-18 6l-18 4l-18 2l-18 2zM729 -8h201v175l-18-1l-18-3l-18-5l-16-6l-16-7l-16-9l-16-11l-14-11l-12-12l-13-14l-10-14l-10-16l-8-16l-7-16l-5-16zM451 576h21l20 1l22 5l20 5l20 9l18 9l18 12l16 13l15 14l13 16l12 18l10 18l8 18l6 20l5 20l2 22l1 22l-2 20l-4 22l-6 20l-8 19l-10 19l-12 18l-12 15l-14 15l-17 14l-17 12l-19 10l-19 8l-20 7l-20 4l-22 2h-22l-20-1l-20-4l-20-6l-20-8l-18-10l-18-11l-16-13l-14-14l-14-16l-12-18l-10-18l-9-20l-6-20l-4-20l-3-22v-22l2-20l4-20l5-20l8-20l10-18l12-18l13-17l14-14l16-14l18-12l18-10l20-8l20-7l20-4zM-8 1412h14l20 3l18 4l18 6l18 7l16 9l16 10l14 11l13 12l13 14l10 14l11 16l8 16l7 16l6 18l4 18h-206zM927 1412h3v174h-201l5-18l5-16l6-16l9-16l10-16l10-14l12-13l12-12l14-11l14-10l16-9l16-7l16-6l18-5l18-3z"/>
<path fill="#a5d28c" d="M-8 -8h198l-4 18l-5 16l-7 16l-9 16l-9 14l-10 14l-12 13l-14 13l-14 10l-14 9l-16 9l-16 7l-16 5l-18 4l-16 2l-18 2zM737 -8h193v167l-18-1l-16-3l-18-5l-16-6l-30-15l-14-9l-14-11l-12-12l-12-13l-10-14l-9-14l-8-16l-7-16zM451 584h21l20 2l20 3l20 6l18 8l18 9l18 12l15 12l14 14l14 16l10 16l10 18l8 18l6 20l4 20l2 20l1 20l-2 20l-4 20l-6 20l-7 18l-10 18l-10 16l-13 16l-14 15l-16 13l-16 11l-18 10l-18 8l-20 6l-20 4l-20 2h-20l-20-1l-20-4l-20-6l-18-7l-18-9l-18-12l-15-12l-14-14l-13-16l-11-16l-10-18l-8-18l-6-20l-5-20l-2-20v-20l2-20l3-20l6-20l7-18l10-18l12-18l12-15l14-15l16-13l16-11l18-10l18-7l20-7l20-4zM-8 1420h14l20 3l18 4l16 6l16 6l16 9l14 9l14 11l14 12l11 12l11 14l9 14l8 16l7 16l6 16l4 18h-198zM927 1420h3v166h-192l4-18l5-16l15-30l9-14l10-14l23-23l14-12l14-9l30-15l32-10z"/>
<path fill="#a5d28c" d="M-8 -8h190l-4 16l-5 16l-7 16l-8 15l-9 13l-10 14l-12 12l-13 12l-14 11l-14 9l-30 13l-32 9l-32 4zM746 -8h184v159l-32-4l-16-4l-16-6l-16-7l-14-8l-26-19l-23-23l-10-14l-9-14l-14-30zM451 592h19l20 1l20 4l18 5l18 7l18 10l16 10l16 13l14 14l12 15l11 15l9 18l8 18l5 18l4 18l2 20l1 20l-2 18l-4 20l-5 18l-7 18l-10 18l-10 16l-12 15l-14 14l-14 12l-16 11l-18 10l-18 7l-18 6l-18 4l-20 2h-20l-18-1l-20-4l-18-5l-18-7l-18-9l-16-11l-15-12l-15-14l-12-15l-10-15l-10-18l-8-18l-6-18l-4-18l-2-20v-20l1-18l4-20l5-18l7-18l10-18l10-16l13-16l14-14l14-12l16-11l16-9l18-8l18-6l20-4zM-8 1428h14l18 3l32 9l30 14l14 8l14 11l12 11l12 13l11 13l9 14l7 14l7 16l6 16l4 16h-190zM927 1428h3v158h-184l8-30l15-30l18-26l11-13l12-11l26-19l28-14l16-6l16-4z"/>
<path fill="#a5d28c" d="M-8 -8h182l-9 30l-13 28l-19 26l-11 12l-12 11l-26 18l-14 8l-16 7l-30 8l-32 4zM754 -8h176v151l-30-4l-30-9l-28-14l-26-18l-22-23l-18-25l-13-28zM452 600h18l20 1l18 4l18 5l18 7l16 9l16 10l14 12l13 12l12 14l11 16l8 16l8 18l6 18l3 18l2 18l1 20l-2 18l-3 18l-6 18l-7 18l-8 16l-11 16l-11 14l-12 12l-14 12l-16 11l-16 9l-18 8l-18 5l-18 4l-18 2h-20l-18-1l-18-4l-18-5l-18-7l-16-8l-16-11l-14-11l-12-12l-12-14l-12-16l-8-16l-8-18l-6-18l-4-18l-2-18v-20l2-18l3-18l5-18l7-18l9-16l10-16l11-14l13-13l14-12l16-11l16-9l16-7l18-6l18-4zM-8 1436h12l18 3l16 3l16 6l28 13l26 17l22 22l10 12l10 15l8 14l7 15l9 30h-182zM928 1436h2v150h-176l9-30l13-27l18-25l21-22l25-18l28-14l30-10z"/>
<path fill="#a5d28c" d="M-8 -8h174l-9 28l-14 28l-17 24l-22 22l-24 17l-28 13l-30 8l-30 4zM762 -8h168v143l-30-4l-28-9l-26-12l-24-18l-20-20l-18-24l-14-28zM452 608h18l18 1l18 4l16 4l16 6l17 9l15 10l14 11l13 13l12 14l10 14l8 16l7 16l6 18l3 16l2 18l1 18l-2 18l-3 18l-5 16l-6 16l-8 16l-11 16l-11 14l-12 13l-14 11l-14 10l-16 9l-16 7l-18 6l-16 3l-18 2l-18 1l-18-2l-18-3l-16-5l-16-6l-16-8l-16-10l-14-11l-13-13l-12-14l-10-14l-8-16l-7-16l-6-18l-4-16l-2-18v-18l1-18l4-18l4-16l7-17l8-16l10-15l11-14l13-14l14-12l14-9l16-9l16-7l16-5l18-4zM-8 1444h12l18 3l30 8l28 14l24 17l21 20l18 24l14 28l8 28h-173zM928 1444h2v142h-168l9-28l13-26l17-24l21-21l24-17l26-13l28-9z"/>
<path fill="#a5d28c" d="M-8 -8h166l-9 28l-13 25l-17 23l-21 20l-24 17l-26 12l-28 8l-28 3zM770 -8h160v135l-28-4l-26-8l-26-12l-23-17l-20-20l-16-22l-13-26zM452 616h18l16 1l18 3l16 5l16 6l14 7l14 9l14 11l12 12l12 14l10 14l8 14l7 16l5 16l3 16l2 18l1 18l-2 16l-3 18l-5 16l-6 16l-7 14l-9 14l-11 14l-12 12l-13 11l-14 10l-14 8l-16 7l-16 5l-16 4l-18 2l-18 1l-16-2l-18-3l-16-5l-16-6l-14-7l-14-9l-14-11l-12-11l-12-14l-10-14l-8-14l-7-16l-5-16l-4-16l-2-18v-18l1-16l3-18l5-16l6-16l7-14l9-14l11-14l12-13l13-11l15-10l14-8l16-7l16-5l16-4zM-8 1452h12l16 3l28 7l26 12l24 17l20 19l18 24l13 26l8 26h-165zM928 1452h2v134h-160l9-26l13-26l16-22l20-20l22-15l24-12l26-9z"/>
<path fill="#a5d28c" d="M-8 -8h157l-8 26l-13 24l-16 22l-20 19l-22 15l-24 11l-26 7l-28 4zM778 -8h152v127l-26-3l-26-8l-24-12l-22-16l-18-18l-16-22l-12-24zM452 624h16l16 1l16 3l16 4l16 6l14 7l14 9l12 10l12 11l11 13l10 14l8 14l6 14l5 16l3 16l2 16l1 16l-1 16l-3 16l-5 16l-6 16l-7 14l-9 14l-9 12l-12 12l-12 10l-14 10l-14 8l-14 6l-16 6l-16 3l-16 2l-16 1l-16-2l-16-2l-16-5l-16-6l-14-7l-14-9l-12-9l-12-11l-11-13l-10-14l-8-14l-6-14l-5-16l-4-16l-2-16v-16l1-16l3-16l4-16l6-16l7-14l9-14l10-13l12-12l12-11l14-9l14-8l14-6l16-6l16-3zM-8 1460h10l16 2l26 7l26 12l22 15l20 19l16 21l12 24l9 26h-157zM928 1460h2v126h-151l7-24l13-24l16-22l19-18l20-15l24-11l24-8z"/>
<path fill="#a5d28c" d="M-8 -8h149l-8 24l-13 24l-15 20l-19 17l-22 15l-22 10l-24 7l-26 3zM787 -8h143v119l-26-4l-24-7l-22-11l-20-15l-18-17l-14-19l-11-22zM453 632h15l16 1l16 3l14 4l14 5l14 7l12 8l13 10l11 10l10 12l9 12l8 14l6 14l5 16l3 14l2 16l1 16l-2 16l-2 16l-4 14l-6 14l-7 14l-9 14l-10 12l-10 11l-12 10l-12 8l-14 8l-14 6l-16 5l-14 3l-16 2h-16l-14-1l-16-3l-14-3l-14-6l-14-7l-14-9l-12-9l-11-11l-10-12l-9-12l-8-14l-6-14l-5-16l-3-14l-2-16v-16l1-14l3-16l4-14l5-14l7-14l9-14l10-12l11-12l12-10l12-8l14-8l14-6l14-5l16-3zM-8 1468l24 2l26 7l23 11l21 14l19 18l16 20l11 22l9 24h-149zM929 1468h1v118h-143l7-22l12-22l15-20l18-18l19-14l22-11l24-7z"/>
<path fill="#a5d28c" d="M-8 -8h141l-8 22l-12 22l-15 19l-18 17l-20 13l-22 10l-22 6l-24 3zM795 -8h135v111l-24-3l-22-7l-22-11l-18-13l-17-17l-14-18l-11-20zM453 640h15l14 1l16 3l14 4l26 11l12 8l12 9l10 10l11 12l8 12l7 13l6 13l4 14l4 14l1 16l1 16l-2 14l-6 28l-12 26l-8 12l-9 12l-10 10l-11 10l-12 8l-14 8l-14 6l-14 5l-28 4h-16l-14-1l-28-6l-26-12l-12-7l-12-10l-10-9l-10-12l-9-12l-7-13l-6-13l-5-14l-3-14l-2-16v-16l1-14l7-28l11-26l8-12l9-12l21-20l11-8l14-8l14-6l14-5l14-3zM-8 1476l22 2l24 6l22 10l20 13l18 17l14 18l13 22l7 22h-140zM929 1476h1v110h-135l8-22l11-20l14-18l16-16l20-14l20-10l22-7z"/>
<path fill="#a5d28c" d="M-8 -8h133l-8 20l-11 20l-14 18l-17 16l-19 12l-20 9l-22 6l-22 3zM803 -8h127v103l-22-3l-20-6l-20-10l-18-12l-16-16l-13-16l-11-20zM453 648l27 1l14 2l14 4l14 5l12 6l22 16l20 20l8 12l7 12l10 26l3 14l1 14v28l-6 26l-6 14l-6 12l-15 22l-20 19l-12 8l-12 7l-26 10l-14 4l-14 1l-28-1l-14-2l-14-4l-14-6l-12-6l-22-16l-19-20l-8-12l-7-12l-9-26l-5-26l1-28l6-26l5-14l6-12l16-23l20-19l12-8l12-7l26-10zM-8 1484l20 2l22 5l20 9l20 13l17 15l14 18l12 20l7 20h-132zM929 1484h1v102h-127l8-20l10-18l13-17l16-15l18-13l20-10l20-6z"/>
<path fill="#a5d28c" d="M-8 -8h124l-8 20l-10 18l-13 16l-16 14l-17 11l-20 9l-20 5l-20 3zM811 -8h119v95l-20-3l-20-6l-18-9l-16-11l-15-14l-13-16l-10-18zM453 656l27 1l26 5l24 11l21 15l19 20l14 22l9 24l4 26v26l-6 26l-11 24l-14 20l-9 10l-11 9l-22 14l-24 10l-26 4h-26l-26-6l-24-11l-22-15l-18-19l-14-22l-9-24l-5-26l1-26l5-26l11-24l15-22l19-18l22-14l25-10zM-8 1492l20 2l20 5l18 8l18 11l16 14l13 16l11 18l8 20h-124zM929 1492l1 94h-118l7-18l10-18l13-16l14-13l16-11l18-9l20-6z"/>
<path fill="#a5d28c" d="M-8 -8h116l-8 18l-9 16l-13 16l-14 12l-16 10l-18 8l-18 5l-20 3zM820 -8h110v87l-18-3l-18-5l-16-8l-16-10l-14-13l-11-14l-10-16zM454 664h24l24 6l24 10l20 14l17 18l13 20l9 24l4 24v24l-5 24l-10 23l-14 20l-18 17l-20 13l-24 10l-24 4h-24l-24-5l-23-10l-21-15l-17-17l-13-20l-9-24l-5-24l1-26l5-23l10-23l14-20l18-18l20-12l24-10zM-8 1500l18 2l18 4l18 8l16 10l16 14l12 14l10 16l7 18h-115zM930 1500v86h-110l7-16l9-16l12-15l14-13l16-10l16-8l18-5z"/>
<path fill="#a5d28c" d="M-8 -8h107l-6 16l-11 16l-10 12l-14 12l-16 10l-16 7l-16 4l-18 3zM828 -8h102v79l-16-2l-16-5l-16-8l-14-9l-13-11l-11-14l-9-14zM454 672h24l22 5l20 9l20 14l16 16l13 20l8 22l4 22v24l-5 22l-10 22l-12 18l-17 16l-19 12l-22 9l-22 4h-24l-22-5l-22-10l-18-12l-16-16l-13-20l-9-22l-4-22l1-24l4-22l9-21l13-19l17-16l20-13l22-9zM-8 1508l16 1l18 5l16 7l15 9l13 11l12 14l10 15l7 16h-107zM916 1510l14-2v78h-101l6-14l7-12l9-12l11-11l12-9l14-8l14-6z"/>
<path fill="#a5d28c" d="M-8 -8h99l-6 14l-10 14l-10 12l-13 11l-14 8l-14 6l-16 5l-16 2zM837 -8h93v71l-16-2l-14-5l-14-6l-12-8l-12-11l-10-11l-9-14zM454 680h22l20 4l20 9l18 12l15 15l12 18l8 20l4 22v22l-4 20l-8 20l-13 18l-14 14l-18 12l-20 9l-22 4h-22l-20-4l-20-8l-18-12l-15-15l-12-18l-8-20l-5-22v-22l5-22l9-20l12-18l16-15l18-11l20-8zM-8 1516l14 1l16 4l16 7l14 8l12 10l11 12l9 14l6 14h-98zM917 1518l13-2v70h-93l6-12l7-12l8-10l10-10l12-9l12-6l12-5z"/>
<path fill="#a5d28c" d="M-8 -8h90l-7 14l-8 12l-9 10l-12 9l-12 8l-14 5l-14 4l-14 2zM845 -8h85v63l-14-2l-12-4l-12-5l-12-8l-12-10l-9-10l-8-12zM455 688h19l20 4l19 8l17 12l14 15l11 17l7 18l4 20l-1 20l-4 20l-9 18l-11 16l-14 14l-17 11l-18 7l-20 3h-20l-20-4l-18-8l-16-11l-14-15l-11-17l-7-18l-4-20v-20l5-20l8-18l11-16l14-14l16-11l18-7zM-8 1524l14 1l14 4l14 6l12 7l12 10l10 10l8 12l6 12h-90zM918 1526l12-2v62h-84l6-12l6-9l16-17l10-8l10-6l12-5z"/>
<path fill="#c8dc52" d="M-8 -8h81l-7 14l-8 10l-8 8l-11 8l-19 10l-15 4l-13 1zM854 -8h76v55l-7-1l-15-4l-20-10l-8-6l-12-12l-6-8zM456 696h16l20 4l18 8l12 8l16 16l8 12l6 13l4 15l2 18l-2 18l-4 14l-10 20l-12 14l-15 12l-19 10l-16 4l-20 1l-13-1l-9-2l-19-8l-15-10l-12-12l-12-18l-6-15l-4-21v-12l4-22l10-22l8-11l16-15l13-8l15-6zM-8 1532l16 2l8 2l10 4l12 6l10 8l14 14l8 12l3 6h-81zM919 1534l11-2v54h-75l9-16l10-11l10-9l17-10z"/>
<path fill="#c8dc52" d="M-8 -8h61l-11 15l-14 11l-17 8l-19 3zM874 -8h56v37l-18-5l-16-8l-12-11zM456 714h16l16 4l14 6l11 8l11 11l8 13l6 16l2 12l-1 14l-3 15l-6 14l-8 11l-10 10l-12 8l-14 6l-16 3h-14l-15-3l-14-6l-12-8l-11-12l-8-12l-6-16l-2-12v-14l4-17l6-13l8-12l11-10l12-8l15-6zM-8 1550l16 2l18 8l16 12l11 14h-61zM921 1552l9-2v36h-55l9-12l11-10l14-8z"/>
<path fill="#c8dc52" d="M-8 -8h33l-7 6l-7 4l-11 4l-8 1zM902 -8h28v14l-14-4zM458 736h12l9 2l10 4l9 6l8 8l4 6l6 14l1 16l-1 11l-4 11l-8 11l-10 9l-7 4l-11 4l-12 1l-13-1l-11-4l-12-8l-4-4l-8-12l-4-10l-2-10v-8l2-11l8-17l12-12l16-8zM-8 1572l16 4l8 4l8 6h-32zM924 1574l6-1v13h-26l4-4z"/>
<path fill="#3ab2ea" d="M451 -6l19-1l8 1l10 4l12 7l10 8l10 10l10 12l22 41l38 84l36 70l15 36l9 26l6 24l3 30l-2 26l-7 20l-9 18l-11 9l-14 8l-36 5l-114-7l-30 1l-88 6l-12-1l-24-4l-16-9l-10-8l-10-21l-4-12l-2-11l-1-20l1-20l2-13l7-25l17-45l39-77l41-92l20-36l12-16l14-13l16-10zM86 312l22-1l32 5l12 7l12 9l10 18l7 22l1 28l-2 28l-9 34l-15 38l-38 74l-38 86l-20 38l-6 10l-8 10l-18 17l-10 7l-12 6l-14 2v-432zM813 312l19-1l98 7v432l-8-2l-6-3l-18-11l-18-18l-12-17l-20-39l-40-88l-33-64l-13-32l-10-30l-4-16l-2-14l-1-24l1-15l2-11l6-18l9-16l15-11l10-5zM-8 830v-1l6 1l10 2l14 8l16 13l16 18l20 37l43 94l33 64l11 26l9 23l8 27l4 26v26l-2 17l-6 19l-9 16l-11 9l-14 8l-36 5l-112-7zM927 830h3v431l-106 7l-36-5l-14-8l-12-9l-8-16l-6-17l-3-21l1-28l2-15l8-29l9-24l12-28l31-60l40-90l21-40l11-15l16-16l16-11l8-4zM337 1148l15-1l110 7l30-1l84-6l28 3l12 2l14 8l10 8l7 12l7 16l3 12l1 16v22l-2 18l-9 34l-15 38l-40 78l-40 90l-19 36l-11 14l-14 14l-12 9l-14 7l-10 2h-16l-15-4l-11-6l-10-8l-12-11l-10-12l-21-39l-43-94l-32-62l-12-28l-9-24l-9-32l-3-24l1-29l2-11l4-12l10-20l12-10l14-8z"/>
<path fill="#3ab2ea" d="M455 30l11-1l10 2l8 2l8 4l18 15l18 22l12 19l12 24l28 64l30 65l13 32l6 24l3 24v20l-3 20l-7 18l-8 14l-14 10l-16 8l-20 3l-22 1l-78-3l-80 3l-34-3l-7-1l-7-3l-20-13l-10-14l-6-16l-4-18l-1-22l2-22l6-24l14-38l31-66l26-60l20-38l10-15l9-11l11-10l12-9l8-4zM40 324l32-1l34 4l14 6l17 11l11 18l7 20l2 22l-2 24l-4 24l-13 36l-35 76l-27 62l-14 27l-16 25l-18 19l-10 8l-8 4l-10 4l-8 1v-388zM841 324l23-1l66 3v387l-14-4l-18-13l-16-18l-16-24l-14-28l-28-64l-30-64l-11-26l-8-26l-4-28v-24l2-12l2-8l8-18l8-12l17-12l12-5zM-8 866l8 1l8 2l8 4l10 7l16 16l16 23l16 31l30 67l29 61l9 24l7 20l6 24l2 20l-1 24l-3 14l-7 16l-8 14l-14 10l-16 8l-20 3l-22 1l-74-3zM923 868l7-2v387l-68 3l-22-1l-21-3l-16-8l-13-10l-8-13l-6-15l-4-12l-1-24l2-22l4-22l7-20l9-24l31-66l28-64l13-26l15-22l13-16l15-13l8-4zM365 1160l23-1l78 4l74-4l22 1l20 3l14 6l17 11l9 15l7 17l2 10l2 16l-1 14l-2 18l-3 16l-4 14l-15 38l-28 60l-29 66l-17 32l-12 18l-14 16l-14 11l-14 7l-10 2h-10l-8-1l-12-4l-10-7l-10-8l-10-11l-10-13l-12-20l-14-28l-26-59l-32-69l-15-40l-5-26l-1-28l2-18l8-22l10-16l13-9l16-8z"/>
<path fill="#3ab2ea" d="M461 60h9l8 2l16 8l16 15l14 19l16 30l26 58l24 52l8 20l7 20l4 22l2 20l-1 20l-5 16l-7 15l-11 13l-14 8l-17 6l-8 2l-20 1l-60-2l-62 2l-28-1l-20-6l-18-10l-12-16l-9-20l-2-18v-18l3-20l5-22l11-28l53-118l17-30l9-12l9-10l8-7l10-6l10-4zM-8 338l50-2l26 1l18 4l18 8l6 3l6 6l11 18l6 16l2 24l-1 16l-3 16l-10 34l-54 122l-11 22l-16 25l-16 18l-7 5l-9 5l-16 4zM851 338l27-2l52 2v344l-14-5l-14-10l-14-15l-13-20l-13-26l-24-54l-27-58l-8-20l-6-22l-4-22v-20l2-20l5-14l9-14l9-10l16-8zM-8 898v-2l12 3l16 8l16 16l14 20l14 27l26 58l25 54l8 20l7 22l4 22l1 22l-2 20l-5 14l-8 14l-9 10l-15 9l-18 6l-8 1l-20 1l-58-2zM926 898l4-1v344l-48 2l-28-1l-19-6l-17-9l-8-8l-8-13l-7-16l-2-16v-20l3-22l6-22l8-22l28-60l24-55l12-23l12-20l14-16l12-10zM375 1174l29-2l60 2l64-2l24 2l20 7l16 9l12 16l8 19l3 23l-2 28l-7 28l-11 30l-26 54l-25 58l-15 28l-11 16l-12 13l-10 8l-14 6l-8 2h-10l-10-2l-8-3l-8-4l-8-7l-17-19l-11-18l-11-22l-25-56l-27-58l-10-28l-6-24l-2-22l1-22l4-16l8-16l10-13l16-9z"/>
<path fill="#3ab2ea" d="M453 92l7-1h8l8 1l8 4l14 10l14 16l10 16l9 18l40 90l10 26l5 20l3 20v18l-3 16l-7 14l-9 12l-12 10l-10 4l-18 4l-20 2l-46-1l-46 1l-26-3l-20-6l-10-7l-12-14l-8-16l-4-22l2-24l6-26l10-28l42-92l14-27l10-14l10-10l10-7zM11 352h25l20 2l18 4l12 6l14 14l9 16l4 18v20l-4 24l-8 28l-45 100l-10 21l-12 19l-14 15l-14 10l-14 3v-300zM886 352h44v299l-14-5l-12-10l-12-14l-10-16l-10-20l-43-96l-8-24l-5-22l-2-20l2-18l4-14l8-14l10-11l10-7l18-5zM-8 928v-1h2l10 3l14 8l12 12l12 17l13 25l40 90l9 22l5 18l3 18l1 18l-2 18l-4 12l-8 14l-11 11l-8 6l-16 5l-26 3h-46zM929 928h1v299h-38l-26-2l-16-5l-8-5l-12-11l-9-14l-4-12l-3-16l1-18l3-18l5-20l8-20l41-93l11-21l11-18l10-11l12-9zM410 1188h102l18 1l16 4l13 5l13 11l10 15l5 16l2 14v16l-2 16l-5 18l-10 28l-42 93l-14 26l-12 17l-8 7l-8 6l-8 4l-8 3l-8 1l-8-1l-14-5l-14-11l-14-17l-16-29l-42-94l-9-24l-6-20l-3-22l1-20l3-14l9-16l10-12l11-8l18-5z"/>
<path fill="#3ab2ea" d="M456 122l8-1l6 1l12 4l12 9l10 13l8 12l9 18l33 76l9 24l4 18l1 16l-2 14l-4 14l-6 10l-10 10l-10 6l-12 5l-12 2l-14 1h-72l-20-3l-16-6l-12-8l-10-12l-5-13l-3-12v-14l1-14l4-14l8-24l33-74l12-24l12-17l12-11l6-3zM-8 370l30-1l14 1l16 4l13 6l12 10l9 12l4 14l2 16l-2 22l-7 24l-45 101l-10 17l-12 14l-12 8l-12 4zM892 370h38v251l-10-5l-10-8l-10-12l-9-14l-43-96l-7-18l-4-18l-1-16l1-14l3-14l6-10l8-10l10-7l12-6zM-8 958h2l8 2l12 8l10 10l10 15l10 19l34 78l7 18l4 16l3 16l-1 14l-2 12l-4 12l-7 10l-10 9l-12 7l-14 4l-16 2l-34-1zM926 960l4-1v250l-26 1l-14-1l-14-3l-12-6l-10-7l-8-9l-5-8l-4-14l-1-14l1-16l4-18l7-20l42-94l8-14l9-12l9-8zM416 1206l84-1l12 1l12 2l14 6l13 10l11 14l4 12l1 12v14l-1 14l-4 14l-8 22l-34 76l-11 22l-11 16l-12 11l-14 6l-6 1h-8l-12-5l-12-9l-12-14l-13-24l-34-76l-8-20l-4-16l-3-16v-16l3-16l5-11l8-11l12-9l12-6z"/>
<path fill="#3ab2ea" d="M460 152h10l10 5l10 8l8 11l10 18l25 58l10 26l3 14v12l-1 12l-4 10l-4 8l-7 7l-10 6l-10 4l-18 2h-54l-12-1l-10-2l-12-5l-10-7l-6-9l-4-11l-2-10v-10l1-12l3-12l6-18l28-62l8-16l10-13l10-9zM-8 392v-1h34l13 3l11 5l10 9l5 8l4 12l1 14l-2 18l-5 18l-36 80l-8 14l-9 10l-8 6l-10 3zM896 392l14-2l20 1v199l-8-5l-8-7l-7-8l-7-12l-33-74l-5-14l-3-14l-1-12v-12l3-10l4-10l5-6l8-7l8-4zM-8 990v-2l6 2l10 6l8 8l8 11l8 16l27 61l5 14l4 14l2 14v12l-3 10l-4 10l-5 7l-8 7l-10 5l-10 2l-14 2l-24-1zM929 990h1v199l-30-1l-10-2l-10-5l-8-5l-6-7l-4-9l-3-10l-1-12v-12l3-14l6-16l33-74l7-12l7-9l8-7zM420 1228l16-2h54l12 1l10 2l12 5l10 8l6 9l4 11l2 10v10l-4 22l-6 18l-27 60l-9 18l-10 14l-10 8l-10 5h-10l-10-3l-10-8l-9-10l-10-18l-26-60l-11-28l-2-14v-12l1-12l4-10l5-8l8-8l10-5z"/>
<path fill="#3ab2ea" d="M456 184l8-2l8 2l8 5l6 7l10 17l20 45l6 16l2 10v10v8l-3 8l-3 6l-6 7l-6 4l-8 3l-16 1h-40l-12-1l-10-4l-6-5l-6-7l-3-8l-2-10l1-10l2-12l4-12l26-58l10-13zM-7 412l25 1l8 2l8 4l6 6l5 7l3 10v10l-2 14l-4 14l-24 54l-6 11l-6 7l-8 6l-6 2v-148zM914 412h16v146l-10-8l-10-15l-24-54l-4-12l-2-11l-1-10l1-8l2-6l5-8l5-6l6-4l6-2zM-8 1020v-1l4 1l6 4l6 5l6 9l26 56l7 22l1 18l-4 15l-4 6l-6 5l-6 4l-8 2l-10 1h-18zM928 1022l2-1v146h-16l-8-1l-8-3l-6-4l-5-5l-4-6l-2-8l-2-8l1-10l2-12l4-12l22-50l10-17zM438 1248h48l14 2l9 4l7 7l5 7l3 10v16l-4 16l-24 56l-6 12l-8 10l-8 6l-6 2l-8 1l-8-4l-8-7l-6-8l-6-11l-20-45l-5-12l-3-12l-1-10l1-10l2-8l4-7l6-7l6-4l6-2z"/>
<path fill="#3ab2ea" d="M463 216l7 2l3 2l7 9l16 35l4 12v13l-4 9l-4 4l-10 4h-36l-10-4l-6-6l-2-6v-16l4-11l12-27l8-14l5-4zM-8 438v-1h12l10 3l8 9l2 5v6v6l-4 14l-14 31l-6 9l-4 4l-4 2zM918 438l12-1v86l-4-5l-6-10l-14-32l-2-8v-14l2-6l5-6zM-8 1054v-1l2 1l4 3l8 11l14 32l4 13v12l-4 9l-4 4l-10 4h-14zM928 1058l2-2v86h-8l-10-4l-6-7l-2-5l-1-6l1-9l4-12l14-31zM442 1274l32-1l11 1l5 2l5 4l3 5l2 5v12l-4 14l-18 38l-6 6l-4 2h-9l-9-8l-6-10l-14-32l-2-8v-15l2-5l3-4l5-4z"/>
</g></g><rect x="506.7" y="2313.6" width="461.3" height="6.5" fill="#fff"/><path d="M506.7 1790Q522 1910 506.7 2030Z" fill="#fff"/><g font-size="15"><text x="598" y="1648" text-anchor="middle" style="font-family:'Liberation Sans',sans-serif;fill:#555">-0.5</text><text x="739" y="1648" text-anchor="middle" style="font-family:'Liberation Sans',sans-serif;fill:#555">0</text><text x="880" y="1648" text-anchor="middle" style="font-family:'Liberation Sans',sans-serif;fill:#555">0.5</text></g><path fill-rule="evenodd" fill="#231f20" d="M501.4 1525.9H974V2328H501.4ZM506.7 1531H968V2320H506.7Z"/><circle cx="570" cy="1588" r="46" fill="#fff"/><text x="530" y="1593" font-size="70">m</text><text x="586" y="1620" font-size="54">2</text>
<clipPath id="d3"><rect x="0" y="0" width="789.0" height="1581.1999999999998"/></clipPath>
<g transform="translate(985.7,1532) scale(0.5)"><g clip-path="url(#d3)" stroke="#16221c" stroke-width="2.4" stroke-opacity="0.88" stroke-linejoin="round">
<rect x="-8" y="-8" width="805" height="1597" fill="#3ab0e8" stroke="none"/>
<path fill="#3ab0e8" d="M-8 -8h303l-1 26l-3 26l-4 26l-6 28l-8 30l-10 30l-12 30l-12 30l-12 24l-12 22l-11 17l-12 16l-12 13l-14 11l-14 10l-14 6l-28 10l-32 5l-40 4l-46 1zM499 -8h297v365l-38-1l-34-2l-30-5l-24-6l-20-8l-18-10l-16-13l-16-17l-19-27l-18-34l-19-42l-16-44l-13-42l-9-40l-5-38zM349 410l37-2l38 1l34 2l30 4l24 6l22 8l18 9l16 12l16 16l16 21l16 26l16 31l15 36l15 40l11 38l8 36l6 36l3 34l-1 34l-3 36l-7 38l-9 38l-13 40l-17 42l-16 36l-16 29l-16 23l-16 19l-16 13l-20 13l-22 8l-26 7l-34 5l-40 2h-44l-40-2l-32-5l-26-7l-22-8l-20-12l-18-16l-18-21l-16-25l-16-31l-17-38l-15-42l-13-40l-8-38l-7-40l-2-40l2-40l5-40l10-44l14-46l18-48l20-42l16-28l15-22l18-19l18-14l22-11l24-8l28-6zM-8 1200v-1h26l44 3l32 4l28 7l22 8l19 11l17 14l16 18l20 30l21 40l19 46l17 48l11 42l7 42l4 40v38h-303zM752 1200l44-1v391h-297v-36l3-36l6-36l9-40l14-44l17-44l18-39l19-33l14-20l15-16l16-13l18-11l20-8l24-7l28-4z"/>
<path fill="#3ab0e8" d="M-8 -8h295l-1 26l-3 26l-5 28l-6 28l-9 30l-9 28l-11 28l-13 28l-12 23l-12 20l-12 17l-12 14l-14 13l-14 11l-16 9l-16 8l-26 8l-32 6l-34 3h-38zM507 -8h289v354h-34l-32-3l-28-5l-26-8l-22-9l-18-12l-16-13l-17-18l-18-26l-18-32l-18-38l-15-40l-11-38l-9-38l-5-38zM363 420l35-1l34 1l30 3l28 6l24 7l20 9l18 11l18 15l18 20l16 23l16 28l16 35l15 37l11 36l9 36l6 36l4 36v34l-3 36l-6 36l-9 40l-13 40l-16 40l-17 36l-15 25l-16 22l-16 18l-18 15l-18 11l-22 10l-26 7l-28 5l-34 3l-38 1l-36-2l-32-5l-26-6l-24-9l-20-11l-18-13l-18-19l-18-24l-17-28l-16-34l-16-38l-12-38l-10-38l-7-38l-3-38v-38l4-38l6-38l12-42l15-44l17-40l19-36l16-24l17-20l17-16l20-13l22-11l24-7l28-6zM-8 1210h34l36 3l30 5l26 8l22 10l20 12l18 16l16 18l20 30l19 36l18 42l15 44l11 42l6 38l3 38v38h-294zM768 1210h28v380h-289v-36l3-36l6-38l10-38l13-42l16-40l18-36l18-30l17-22l16-16l18-14l18-10l22-8l26-7l28-4z"/>
<path fill="#3ab0e8" d="M-8 -8h287l-1 26l-3 28l-5 26l-6 28l-9 30l-10 28l-11 27l-12 25l-12 21l-12 19l-14 18l-13 14l-14 12l-15 11l-16 8l-18 8l-24 7l-28 5l-32 3h-32zM515 -8h281v344l-32-1l-30-3l-28-5l-24-8l-22-10l-20-12l-17-15l-16-18l-19-26l-17-30l-16-34l-14-38l-11-38l-8-36l-5-36zM368 430l32-1l32 1l30 4l26 6l24 8l20 10l18 12l18 16l18 21l17 25l17 30l14 32l14 36l10 36l8 36l5 34l2 36l-1 34l-4 36l-7 36l-10 38l-14 38l-15 36l-18 32l-16 24l-16 20l-18 17l-18 12l-20 11l-24 9l-26 6l-28 4l-32 2l-34-1l-32-3l-28-5l-24-8l-22-10l-20-12l-18-16l-18-20l-18-26l-16-28l-16-34l-13-36l-12-38l-8-36l-4-34l-3-36l1-36l5-36l7-36l11-40l15-40l16-36l18-32l17-24l16-18l18-16l20-13l22-10l24-8l28-6zM-8 1220h32l32 3l30 6l26 8l22 10l20 13l19 16l17 20l20 29l18 33l17 40l14 40l10 40l6 38l4 38l-1 36h-286zM773 1220h23v370h-281v-34l3-36l6-36l9-38l12-38l15-38l17-34l19-30l16-21l16-16l18-14l20-11l22-10l26-7l28-4z"/>
<path fill="#3ab0e8" d="M-8 -8h279l-1 26l-3 28l-5 28l-7 28l-8 28l-11 28l-11 26l-12 24l-12 20l-13 18l-14 17l-14 14l-14 11l-16 10l-18 9l-18 7l-22 6l-26 4l-26 2h-28zM523 -8h273v335l-30-1l-30-4l-26-5l-24-8l-22-11l-19-12l-19-16l-16-18l-18-25l-16-29l-15-32l-14-36l-10-34l-8-36l-5-34zM366 440l30-1l30 1l30 4l26 6l22 7l22 11l18 12l19 16l17 20l17 24l16 28l15 32l13 34l11 36l7 34l5 34l2 34l-1 34l-4 34l-7 36l-10 36l-13 36l-15 34l-16 30l-17 24l-17 20l-17 16l-19 14l-20 10l-24 9l-26 7l-28 4l-30 1l-32-1l-30-3l-26-6l-24-8l-20-10l-20-13l-18-15l-18-20l-17-25l-16-28l-15-32l-13-34l-10-34l-8-36l-5-34l-2-34l1-36l4-34l7-36l10-36l13-36l16-34l17-31l16-23l16-19l18-16l20-14l22-11l24-8l26-6zM-8 1230h28l34 3l28 6l26 8l22 11l20 13l19 17l18 20l19 28l17 32l16 36l13 40l10 38l6 36l3 36v36h-279zM769 1230l27-1v361h-273v-34l2-34l5-34l9-36l11-36l14-34l16-32l17-28l16-22l17-18l18-14l20-13l22-9l24-8l26-5z"/>
<path fill="#3ab0e8" d="M-8 -8h272l-1 26l-3 28l-5 26l-7 28l-8 28l-10 26l-12 26l-13 24l-12 20l-14 18l-14 16l-15 14l-16 11l-16 10l-18 8l-20 6l-20 5l-22 3l-22 2h-24zM530 -8h266v325l-28-1l-28-3l-26-6l-24-8l-22-11l-19-12l-18-16l-17-18l-17-24l-16-28l-15-31l-12-33l-11-34l-7-34l-4-34zM362 450l28-2l30 1l28 3l26 6l22 7l22 11l20 13l18 15l18 19l16 23l17 28l14 30l13 32l10 34l8 34l4 32l2 34v32l-4 34l-6 34l-10 36l-12 34l-14 32l-16 29l-15 23l-17 20l-18 17l-20 15l-22 11l-22 9l-26 6l-26 4l-28 2l-30-1l-28-4l-26-5l-24-9l-20-10l-20-13l-18-16l-18-20l-16-22l-16-28l-14-29l-13-33l-9-32l-7-32l-5-34l-3-34l1-32l4-34l6-34l9-34l12-34l14-32l16-30l16-24l17-20l18-17l18-14l21-11l23-9l24-7zM-8 1240v-1h24l34 3l28 6l26 9l22 11l20 13l19 17l18 20l18 26l17 32l15 34l12 36l10 36l6 36l3 36l-1 36h-271zM762 1240l34-1v351h-266v-32l2-32l5-32l7-34l11-34l12-32l15-31l16-27l16-22l16-17l18-16l18-12l21-11l23-8l26-6z"/>
<path fill="#3ab0e8" d="M-8 -8h265l-2 28l-3 26l-5 28l-6 26l-9 28l-10 26l-12 25l-13 23l-13 19l-14 18l-14 14l-16 14l-16 11l-18 9l-18 8l-20 6l-36 6l-40 1zM537 -8h259v316l-28-1l-28-3l-26-7l-22-8l-20-10l-20-13l-18-16l-16-18l-17-24l-16-26l-14-30l-12-32l-9-32l-7-32l-4-32zM375 458l27-1l28 2l26 4l26 8l22 9l20 11l18 13l18 17l17 21l16 24l15 28l13 30l12 32l8 32l6 32l3 32l1 32l-2 32l-4 32l-7 34l-11 34l-12 32l-15 30l-16 26l-16 21l-16 18l-18 15l-20 13l-22 11l-24 8l-26 5l-26 3l-28 1l-28-3l-26-4l-24-7l-22-10l-20-11l-18-14l-17-16l-17-21l-16-24l-14-27l-14-30l-11-32l-8-32l-6-32l-4-32l-1-32l2-32l5-32l7-34l10-32l12-32l15-30l15-26l16-21l16-18l18-16l20-13l22-11l22-8l26-6zM-8 1248h30l28 4l28 6l24 9l22 11l20 14l18 16l18 21l18 27l16 29l14 33l12 34l9 36l5 34l3 34l-1 34h-264zM780 1248h16v342h-259v-32l2-34l6-34l7-32l11-34l14-32l15-30l16-25l16-20l18-19l18-14l20-12l22-9l24-8l26-5z"/>
<path fill="#3ab0e8" d="M-8 -8h258l-1 26l-4 28l-4 26l-7 26l-8 26l-11 26l-11 24l-13 22l-13 19l-14 17l-14 15l-16 13l-16 10l-18 10l-20 7l-20 6l-34 5l-34 1zM544 -8h252v307l-26-1l-26-3l-24-6l-24-8l-20-10l-20-14l-17-15l-17-18l-16-23l-15-25l-13-28l-12-30l-10-32l-6-32l-5-32zM364 468l26-2l28 1l26 3l26 6l22 8l22 12l18 12l18 16l18 20l16 22l14 25l13 27l12 30l9 32l7 32l4 30l1 32v30l-4 32l-6 32l-9 32l-11 32l-14 29l-15 27l-16 22l-17 20l-18 16l-18 13l-22 12l-22 8l-24 6l-26 4l-26 1l-26-1l-26-4l-24-7l-22-8l-20-11l-19-13l-17-16l-18-20l-15-22l-14-24l-13-28l-11-30l-9-30l-7-32l-4-30l-2-32l1-30l3-30l6-32l9-32l11-30l13-30l14-26l16-23l16-19l18-17l18-14l20-11l22-9l24-7zM-8 1258v-1h22l32 3l28 7l24 8l22 12l20 14l19 17l17 20l18 26l15 28l14 32l11 32l8 34l5 34l3 32l-1 34h-257zM764 1258l32-1v333h-252v-30l2-30l4-32l7-30l9-30l11-30l14-28l15-26l16-22l16-17l18-16l18-12l20-11l22-8l24-6z"/>
<path fill="#98d8d4" d="M-8 -8h251l-1 28l-3 26l-5 26l-7 26l-9 26l-10 24l-12 24l-12 21l-14 19l-13 16l-15 14l-16 12l-16 10l-18 9l-20 8l-20 5l-30 4h-30zM551 -8h245v299l-26-1l-24-4l-24-5l-22-8l-21-11l-19-13l-17-15l-16-18l-17-22l-14-24l-13-28l-11-28l-9-30l-7-30l-4-30zM371 476l27-1l26 1l24 4l24 6l22 9l20 11l18 14l18 16l16 19l16 23l14 25l12 27l11 30l8 30l6 30l4 30l1 32l-2 30l-4 32l-7 30l-8 30l-12 30l-13 27l-15 25l-15 20l-16 18l-18 16l-20 13l-20 10l-22 8l-24 6l-26 3l-26 1l-24-2l-24-4l-24-7l-20-8l-20-12l-19-14l-17-16l-16-19l-15-23l-14-24l-12-28l-10-28l-9-30l-5-30l-4-30l-1-30l1-30l4-30l6-30l9-30l11-30l13-27l14-25l16-22l16-18l18-16l18-13l20-11l22-8l22-6zM-8 1266h24l28 3l26 6l24 8l22 12l20 14l19 17l17 20l16 24l16 28l13 30l11 32l7 32l6 32l2 34v32h-251zM772 1266l24-1v325h-245v-32l2-30l4-30l7-30l9-30l11-28l14-27l15-25l15-20l17-18l17-14l20-14l20-10l22-7l24-6z"/>
<path fill="#98d8d4" d="M-8 -8h241l-1 26l-3 26l-5 26l-6 24l-8 24l-10 24l-12 23l-13 21l-13 17l-14 16l-16 15l-16 12l-16 9l-18 8l-20 7l-20 5l-24 2l-26 1zM560 -8h236v286l-24-1l-24-3l-22-6l-22-8l-20-10l-18-13l-18-16l-16-17l-15-20l-14-24l-12-26l-11-28l-8-28l-6-28l-4-30zM379 488l25-1l24 2l24 5l22 7l20 9l20 12l18 14l16 16l16 20l14 21l14 25l11 26l9 28l8 28l4 28l3 30l1 30l-2 30l-5 30l-6 28l-9 28l-12 28l-13 26l-14 22l-15 19l-16 17l-18 15l-18 12l-20 10l-22 7l-24 6l-24 2h-24l-24-2l-22-5l-22-7l-20-9l-18-11l-18-14l-16-16l-16-19l-15-23l-13-24l-11-26l-10-28l-7-28l-5-28l-3-30v-28l2-30l4-30l7-28l8-28l11-28l14-26l13-22l15-19l16-18l18-15l18-12l20-10l20-7l22-6zM-5 1278l25 1l26 3l24 6l22 9l21 11l19 14l18 17l16 19l17 24l14 26l12 28l10 30l7 30l5 32l2 30v32h-241v-312zM784 1278h12v312h-235l-1-30l2-30l5-30l7-30l9-28l11-28l14-26l15-24l15-19l17-17l17-14l20-12l22-10l22-7l24-5z"/>
<path fill="#98d8d4" d="M-8 -8h232l-2 26l-2 24l-5 24l-6 24l-9 24l-9 22l-11 21l-12 20l-12 16l-14 15l-15 14l-16 12l-17 10l-18 8l-18 6l-20 5l-22 2h-24zM570 -8h226v274l-24-1l-22-3l-22-6l-20-8l-19-10l-18-12l-17-15l-15-17l-15-20l-13-22l-12-24l-10-26l-8-26l-6-28l-4-28zM384 500h24l22 2l22 5l21 7l19 9l18 11l18 15l16 16l15 19l14 22l13 24l10 24l8 26l7 28l5 28l2 28v28l-2 28l-5 28l-7 28l-8 26l-11 26l-13 24l-14 22l-14 17l-16 16l-18 15l-18 11l-20 9l-20 7l-22 5l-24 2h-24l-22-3l-22-5l-20-7l-20-10l-18-12l-16-13l-16-17l-15-19l-14-22l-12-24l-10-24l-8-26l-7-28l-4-26l-2-28v-28l2-28l4-28l7-26l8-26l11-26l12-24l14-21l15-19l15-16l18-14l18-12l20-10l20-7l22-5zM-8 1292v-2h16l30 3l24 6l24 9l20 11l20 14l18 17l16 18l15 22l14 26l12 28l9 28l7 28l5 30l2 30l-1 30h-231zM764 1292l32-2v300h-225l-1-28l1-26l4-28l6-26l7-26l10-25l12-25l12-21l14-19l14-17l16-15l18-13l18-10l20-9l20-6z"/>
<path fill="#98d8d4" d="M-8 -8h222l-1 24l-3 24l-4 24l-6 22l-8 22l-9 22l-11 20l-12 19l-12 16l-14 15l-14 13l-16 11l-16 9l-18 8l-18 6l-18 4l-20 2h-22zM579 -8h217v262l-22-1l-22-3l-20-6l-20-7l-18-10l-18-13l-16-14l-15-16l-15-20l-12-20l-11-24l-10-24l-7-26l-6-26l-3-26zM386 512h22l22 3l20 4l20 7l18 9l18 11l17 14l16 16l14 18l13 20l12 23l10 25l9 26l6 26l4 26l2 26l-1 28l-2 26l-4 26l-7 26l-8 26l-11 24l-11 22l-14 20l-14 18l-16 16l-17 13l-18 11l-20 9l-20 7l-20 4l-22 2h-22l-22-3l-20-5l-20-8l-18-9l-18-12l-16-14l-14-14l-14-18l-13-21l-12-22l-10-24l-8-26l-6-26l-4-26l-2-26v-28l3-26l4-26l6-26l9-26l10-24l12-22l13-20l14-17l16-16l16-13l18-11l18-9l20-7l20-5zM-8 1304v-1l16-1l28 3l24 6l22 8l20 11l18 13l18 17l16 18l15 22l13 24l11 26l8 26l7 28l4 28l2 28v30h-222zM766 1304l30-2v288h-216l-1-26l2-26l3-26l6-26l7-24l9-25l11-23l12-20l13-18l14-16l16-15l16-12l18-11l18-8l20-6z"/>
<path fill="#98d8d4" d="M-8 -8h213l-1 24l-3 22l-4 22l-6 22l-8 22l-9 20l-10 19l-11 17l-12 16l-13 14l-14 13l-16 11l-16 9l-16 7l-18 6l-18 3l-18 2h-20zM589 -8h207v250l-22-1l-20-3l-20-6l-18-7l-18-10l-16-11l-16-14l-14-15l-14-19l-12-19l-10-21l-10-24l-7-24l-6-26l-3-24zM387 524h21l20 2l20 5l20 7l18 9l18 12l16 14l14 14l14 19l12 19l11 21l10 24l7 24l6 24l3 24l2 26v26l-2 24l-4 26l-6 24l-8 24l-11 24l-11 20l-13 20l-14 17l-15 15l-17 13l-16 10l-18 8l-20 7l-20 4l-22 2h-20l-20-3l-20-5l-18-7l-18-9l-16-11l-16-14l-15-15l-14-18l-12-20l-11-22l-9-22l-8-24l-5-24l-4-24l-2-26l1-26l2-24l4-26l6-24l8-24l10-22l11-21l12-19l14-17l15-15l15-12l18-12l18-9l18-6l20-5zM-8 1316v-1l14-1l26 3l22 5l22 8l20 11l18 12l16 15l16 18l14 20l13 24l11 24l9 26l6 26l4 28l2 28l-1 28h-212zM767 1316l29-2v276h-206l-1-26l1-24l3-24l5-24l7-24l8-22l10-22l12-20l13-18l14-16l14-14l16-12l18-10l18-8l18-6z"/>
<path fill="#98d8d4" d="M-8 -8h204l-2 22l-2 22l-5 22l-5 20l-7 20l-9 20l-10 18l-10 16l-12 15l-12 13l-14 13l-14 10l-16 9l-16 7l-16 5l-18 4l-18 1h-18zM598 -8h198v238l-20-1l-20-3l-18-5l-18-7l-16-9l-17-11l-15-13l-14-16l-13-17l-12-20l-10-20l-9-22l-6-22l-5-24l-4-24zM386 536h20l20 2l20 5l18 6l18 10l16 10l15 13l14 14l13 17l12 19l11 20l9 22l7 22l6 24l3 24l2 24v24l-2 24l-4 24l-6 24l-8 22l-9 22l-11 20l-12 18l-14 17l-14 14l-16 13l-16 10l-18 8l-18 6l-20 4l-20 2h-20l-20-3l-18-5l-18-7l-16-9l-16-11l-16-13l-13-14l-13-17l-12-19l-10-20l-8-20l-7-22l-6-24l-3-24l-2-24v-24l2-24l4-24l5-22l8-22l9-22l10-20l12-18l13-16l13-14l16-13l16-11l18-9l18-6l18-5zM-8 1328v-1l12-1l26 2l22 6l20 7l18 10l18 12l16 15l16 18l14 20l12 22l10 23l8 25l6 26l4 26l2 26l-1 26h-203zM767 1328l29-2v264h-197l-1-24l1-24l3-24l5-22l6-22l8-22l10-20l11-20l12-17l13-15l15-14l14-10l16-10l18-8l18-6z"/>
<path fill="#98d8d4" d="M-8 -8h194l-3 40l-4 20l-5 20l-7 20l-8 18l-9 17l-10 15l-12 16l-11 12l-13 11l-14 11l-14 8l-16 7l-16 5l-16 4l-18 2l-18-1zM608 -8h188v226l-18-1l-18-2l-18-5l-18-7l-16-9l-16-11l-14-12l-14-15l-12-16l-11-18l-10-20l-8-20l-6-22l-5-22l-3-22zM385 548h19l18 2l18 3l18 7l17 8l16 10l15 12l13 14l13 16l12 18l10 18l8 20l8 22l5 22l3 22l2 24v24l-1 22l-4 24l-5 22l-8 22l-8 20l-10 18l-12 18l-12 15l-14 14l-15 13l-16 10l-17 8l-18 6l-18 4l-18 2h-18l-18-2l-18-5l-18-6l-16-9l-16-10l-14-12l-13-14l-13-16l-11-18l-10-18l-8-20l-7-22l-6-22l-3-22l-2-22v-24l2-22l3-22l6-22l7-22l8-20l10-18l11-18l13-16l13-14l14-12l16-10l16-9l18-6l18-5zM-8 1340v-1l12-1l26 3l20 4l20 8l18 10l16 12l16 14l14 17l13 18l11 20l9 22l8 24l6 24l4 26l1 24l-1 26h-193zM767 1340l29-2v252h-188v-22v-22l3-22l4-22l6-22l8-20l9-20l10-18l11-16l13-15l14-13l14-11l16-10l16-7l18-6z"/>
<path fill="#98d8d4" d="M-8 -8h185l-4 38l-3 20l-5 18l-7 18l-8 18l-8 16l-10 15l-10 13l-12 13l-13 11l-13 10l-14 8l-14 6l-14 4l-16 4l-16 2l-18-1zM617 -8h179v214l-18-1l-16-2l-18-5l-16-6l-16-9l-14-10l-14-12l-12-13l-12-15l-10-17l-10-19l-8-20l-6-21l-5-20l-3-22zM386 560h18l18 2l18 4l16 6l16 8l14 9l14 11l14 14l12 15l11 17l9 18l9 20l6 20l5 20l3 22l2 22v22l-2 22l-3 22l-5 20l-7 20l-9 20l-9 18l-12 17l-12 15l-12 12l-14 11l-16 10l-16 8l-16 6l-18 4l-18 1h-18l-16-2l-18-5l-16-6l-16-9l-14-10l-14-12l-12-12l-12-16l-10-16l-9-18l-9-20l-6-20l-5-20l-3-20l-1-22v-22l1-20l4-22l5-20l6-20l8-20l10-18l10-16l13-16l12-12l14-12l14-9l16-9l16-6l16-4zM-8 1352v-1l12-1l24 2l20 5l18 7l18 10l16 12l15 14l13 15l12 18l11 19l9 22l7 22l5 22l3 24l2 24l-1 24h-184zM768 1352l28-2v240h-178l-1-20l1-22l2-22l4-20l6-20l7-20l8-18l10-18l12-16l12-14l13-13l14-10l14-9l16-7l16-6z"/>
<path fill="#98d8d4" d="M-8 -8h175l-3 36l-8 36l-13 32l-9 16l-9 14l-11 14l-10 11l-12 11l-12 8l-12 7l-14 7l-14 4l-14 4l-16 1h-18zM627 -8h169v201h-16l-16-2l-16-4l-16-7l-14-7l-14-10l-14-12l-12-13l-11-14l-10-16l-9-18l-7-18l-6-20l-5-20l-2-20zM389 572h17l16 2l16 4l16 6l14 7l14 9l14 12l12 12l12 15l10 16l9 17l7 18l7 20l4 20l3 20l2 20l-1 20l-1 20l-4 20l-5 20l-6 20l-8 18l-9 16l-11 16l-11 14l-12 12l-14 11l-14 9l-16 8l-16 5l-16 4l-16 1h-16l-16-2l-16-5l-16-6l-14-7l-15-10l-13-12l-12-12l-11-14l-10-16l-9-18l-7-18l-6-18l-4-20l-3-20l-2-20v-20l2-20l3-20l5-20l6-18l8-18l10-18l10-16l12-14l12-12l12-10l14-9l14-7l16-6l16-4zM-8 1364v-1l12-1l22 2l18 5l18 7l16 8l16 12l14 13l13 15l12 18l10 18l9 20l6 20l5 22l3 22l1 22l-1 24h-174zM770 1364l26-2v228h-169v-20v-20l2-20l4-20l6-20l6-18l8-16l9-17l11-15l11-13l12-12l14-11l14-8l14-7l16-6z"/>
<path fill="#98d8d4" d="M-8 -8h165l-3 34l-7 32l-12 30l-16 28l-19 23l-22 18l-12 8l-14 6l-26 8l-16 2h-18zM636 -8h160v189h-16l-16-3l-16-4l-14-6l-14-8l-12-8l-12-11l-12-13l-11-14l-9-15l-8-16l-7-17l-5-18l-4-18l-2-18zM375 586l15-2h16l16 3l16 4l14 5l14 8l14 9l12 11l11 12l11 14l10 16l8 16l7 18l5 18l4 18l3 20l1 20l-1 20l-2 20l-4 18l-5 18l-6 18l-8 16l-10 17l-10 14l-12 13l-12 11l-14 10l-14 8l-14 5l-16 5l-16 2l-16 1l-14-2l-16-3l-14-5l-14-6l-12-7l-12-9l-12-12l-11-12l-10-14l-9-15l-8-17l-6-16l-5-18l-6-36l-1-18v-20l2-20l4-18l10-34l8-17l8-15l10-14l10-12l12-12l12-10l14-9l14-7l14-5zM-8 1376v-1h12l20 2l18 4l16 6l16 9l14 10l14 13l12 14l10 15l10 18l9 20l6 20l5 20l3 22v22l-1 20h-164zM773 1376l23-1v215h-159l-1-18l1-20l2-20l3-18l5-18l7-18l7-16l9-15l10-14l11-13l12-12l13-10l14-8l14-6l14-5z"/>
<path fill="#98d8d4" d="M-8 -8h155l-3 32l-7 30l-11 29l-15 25l-18 22l-21 17l-12 7l-12 6l-24 7l-16 1h-16zM646 -8h150v176h-14l-14-2l-14-3l-14-6l-14-7l-12-9l-12-10l-10-11l-10-13l-8-13l-8-16l-7-16l-5-16l-4-18l-2-18zM380 598l16-1l14 1l14 2l14 4l14 6l12 7l12 8l12 11l11 12l10 14l8 14l8 16l6 16l5 18l3 18l2 18l1 18l-1 18l-2 18l-4 18l-6 18l-6 16l-8 16l-9 14l-10 13l-10 11l-12 10l-12 8l-14 8l-14 5l-14 4l-14 2h-14l-14-1l-14-3l-14-5l-14-7l-12-8l-12-9l-10-10l-10-12l-10-14l-14-28l-6-17l-5-17l-5-34v-18l1-18l5-34l11-32l8-16l8-14l9-13l10-11l12-11l12-9l12-7l14-6l12-4zM-8 1388h16l16 1l16 4l14 6l14 7l14 10l13 12l12 14l11 16l8 16l8 18l6 18l4 20l3 20v20l-1 20h-154zM780 1388h16v202h-149l-1-18l1-20l2-18l4-18l5-18l6-16l7-16l9-14l10-14l10-11l12-11l12-8l14-8l14-6l14-4z"/>
<path fill="#98d8d4" d="M-8 -8h145l-3 28l-6 28l-10 26l-14 24l-16 20l-20 16l-22 12l-22 7l-16 2h-16zM657 -8h139v163h-14l-12-2l-14-3l-12-5l-12-6l-12-9l-12-10l-9-10l-17-24l-7-14l-7-16l-8-32zM395 610l13 1l14 2l14 4l12 5l12 7l12 9l20 20l16 25l13 29l8 32l2 32l-2 32l-7 32l-12 30l-8 13l-9 13l-19 20l-12 9l-12 8l-12 5l-14 5l-12 2l-14 1l-14-1l-12-2l-14-4l-12-5l-12-7l-12-9l-10-9l-10-11l-16-24l-7-14l-6-16l-8-32l-3-32l3-34l7-31l12-29l8-14l9-12l19-21l12-9l12-7l12-5l12-4l14-3zM-8 1402v-1h10l18 1l16 4l14 5l14 8l13 9l11 10l12 14l9 14l9 16l7 16l5 18l4 18l2 18l1 20l-1 18h-144zM774 1402l22-1v189h-138l-1-34l5-32l9-30l13-28l8-12l10-12l10-10l12-9l12-8l12-6l12-4z"/>
<path fill="#98d8d4" d="M-8 -8h134l-2 26l-7 26l-9 24l-12 21l-14 17l-18 15l-20 12l-20 6l-16 2h-16zM668 -8h128v149h-12l-12-1l-12-3l-12-5l-11-6l-11-7l-10-9l-10-10l-8-11l-8-13l-12-26l-7-28zM389 624h13l12 1l12 3l12 4l11 6l11 7l10 8l10 10l16 23l13 26l8 30l3 30l-1 30l-6 30l-11 28l-15 24l-18 20l-21 15l-12 5l-12 5l-12 2l-12 1h-12l-12-2l-12-3l-12-5l-12-7l-10-7l-18-17l-16-23l-12-26l-7-28l-4-30l2-30l5-28l11-28l14-24l18-20l9-8l12-8l22-10zM-8 1416v-1l8-1l18 2l14 3l14 5l14 8l11 8l11 10l10 12l10 14l7 14l7 16l4 15l4 17l2 18v18l-1 16h-133zM773 1416l23-2v176h-127l-1-30l4-30l8-28l12-26l16-22l10-10l10-8l10-7l12-6z"/>
<path fill="#98d8d4" d="M-8 -8h122l-2 24l-5 22l-9 22l-10 18l-14 17l-15 13l-17 10l-18 6l-16 3l-16-1zM679 -8h117v135l-22-2l-22-7l-20-12l-17-16l-14-20l-11-24l-8-26zM379 640l11-1l12-1l22 4l10 4l12 6l18 14l16 18l14 24l9 26l5 26l1 28l-4 28l-8 26l-13 24l-16 20l-18 15l-10 6l-12 5l-22 5h-22l-20-5l-20-11l-18-15l-15-18l-12-22l-9-26l-4-26l-1-28l4-26l7-24l12-23l14-19l18-17l20-11zM-8 1430l10-1l14 1l14 3l12 5l12 6l10 8l11 10l9 11l8 11l7 14l6 14l5 16l4 30v16l-1 16h-121zM777 1430l19-1v161h-115l-2-28l4-28l7-26l12-24l15-20l17-16l10-6l12-6z"/>
<path fill="#98d8d4" d="M-8 -8h110l-2 20l-5 20l-7 19l-10 17l-11 14l-13 11l-14 9l-16 6l-16 3h-16zM692 -8h104v119l-20-1l-18-6l-18-10l-16-15l-13-19l-10-20l-6-24zM396 654l20 2l18 7l17 11l15 15l12 17l10 22l6 24l2 24l-1 24l-6 24l-9 22l-12 19l-14 15l-18 12l-18 7l-20 3l-20-2l-18-7l-17-11l-15-14l-12-18l-10-22l-6-24l-3-24l2-24l5-24l10-22l12-19l14-15l18-12l18-7zM-8 1446v-1h8h14l12 3l10 4l12 6l10 8l9 8l8 10l8 12l6 12l9 26l4 28l-2 28h-108zM776 1446l20-1v145h-103l-1-26l3-24l5-22l11-22l13-19l16-15l18-10z"/>
<path fill="#98d8d4" d="M-8 -8h96l-2 18l-4 16l-5 14l-8 14l-9 12l-10 10l-12 8l-14 6l-16 4l-16-1zM706 -8h90v102l-18-1l-16-6l-14-8l-14-12l-12-17l-8-17l-6-21zM388 672h18l16 4l16 8l14 12l12 16l9 16l6 20l3 20v22l-4 20l-6 20l-10 17l-12 15l-16 12l-16 7l-16 3l-18-1l-16-5l-14-8l-14-12l-10-14l-10-18l-6-20l-2-20v-20l3-20l7-20l9-16l11-14l14-12l16-8zM-8 1464v-1l4-1h14l10 2l11 4l9 5l10 7l15 16l12 20l8 24l3 24l-2 26h-94zM775 1464l11-2h10v128h-88l-2-20l1-22l5-20l8-18l10-16l14-14l15-10z"/>
<path fill="#98d8d4" d="M-8 -8h80l-4 24l-4 12l-6 11l-6 9l-8 9l-8 6l-10 6l-16 4l-10 1l-8-1zM722 -8h74v82l-14-1l-14-4l-12-7l-11-10l-9-12l-8-16l-4-16zM390 692h14l14 4l12 6l12 10l10 13l7 15l5 16l2 16v18l-3 16l-6 16l-9 14l-10 12l-12 8l-12 6l-14 2l-14-1l-12-3l-12-7l-12-11l-9-12l-6-14l-5-16l-2-16v-16l3-16l5-16l8-14l10-12l10-8l12-6zM-8 1484v-1l6-1h10l10 2l8 3l16 11l12 13l10 17l6 20l2 22l-2 20h-78zM777 1484l9-2h10v108h-72l-2-16l1-18l3-17l6-15l8-14l11-12l13-9z"/>
<path fill="#98d8d4" d="M-8 -8h59l-2 14l-5 13l-7 11l-9 9l-8 5l-10 3l-10 1l-8-1zM743 -8h53v56h-10l-10-3l-8-4l-8-7l-6-8l-6-11l-4-11zM390 718l10-1l10 3l9 4l8 6l7 8l5 10l4 12l2 12v12l-2 12l-3 10l-6 11l-7 9l-8 6l-9 4l-10 2h-10l-8-2l-8-4l-9-8l-6-8l-5-10l-4-10l-2-12v-12l2-10l3-10l5-11l6-8l8-7l8-5zM0 1508l12 1l12 5l10 8l8 11l6 13l3 14v16l-3 14h-56v-81zM789 1508h7v82h-50l-3-14v-14l2-14l5-12l8-12l9-8l11-6z"/>
<path fill="#3ab0e8" d="M304 -8h186l2 38l5 38l10 42l13 44l18 50l21 48l19 37l19 27l13 14l15 12l17 9l20 6l24 5l30 3l38 3h42v820h-44l-38 3l-30 3l-24 5l-20 7l-16 9l-16 12l-14 16l-20 31l-21 42l-22 54l-18 54l-12 46l-8 42l-3 40v38h-186v-38l-4-40l-7-42l-13-46l-18-56l-22-53l-22-43l-19-30l-15-16l-14-11l-18-10l-20-6l-26-5l-30-4l-40-2h-44v-820h44l38-2l30-3l26-5l20-7l18-9l14-10l14-15l18-26l20-37l21-48l18-50l14-46l9-42l6-38zM352 398l-38 2l-32 5l-26 6l-20 9l-16 11l-16 16l-15 21l-16 28l-22 48l-22 58l-16 52l-11 50l-6 44l-1 42l4 42l8 44l10 40l14 44l17 45l18 41l16 31l15 23l15 18l16 13l18 10l24 7l28 6l36 3l52 2l56-1l44-3l34-6l22-6l20-10l16-12l16-17l16-24l17-32l17-40l17-44l14-42l10-38l8-36l4-34l2-34l-1-32l-4-34l-7-34l-10-38l-12-40l-16-42l-16-38l-15-31l-14-25l-15-20l-15-15l-14-10l-16-7l-20-7l-22-4l-30-3l-36-2l-42-1z"/>
<path fill="#3ab0e8" d="M314 -8h166l2 40l7 40l10 44l15 50l26 72l29 70l18 36l7 10l8 9l8 5l10 4l28 5l54 2l94 1v796l-104 1l-54 3l-14 3l-12 4l-10 6l-8 9l-8 11l-10 19l-24 56l-27 72l-22 66l-12 46l-7 42l-4 38v38h-167l1-40l-5-42l-8-44l-14-50l-26-76l-31-78l-21-44l-9-14l-8-9l-8-5l-10-4l-12-3l-18-2l-54-3h-98v-796l104-1l56-3l16-2l12-4l10-6l8-8l8-11l8-14l20-44l27-69l22-64l14-46l9-42l6-38zM306 386l-46 2l-28 4l-10 2l-8 4l-8 6l-6 6l-8 12l-8 15l-20 44l-27 69l-22 64l-14 50l-10 44l-5 40l-1 38l3 40l7 42l12 46l16 52l30 82l29 67l10 19l8 12l8 8l10 6l16 5l26 3l38 2l62 1h90l62-2l36-2l22-5l14-7l12-12l13-23l17-37l27-67l22-62l16-54l11-48l4-30l2-30v-30l-2-30l-5-32l-8-34l-9-36l-13-40l-28-76l-29-68l-10-20l-8-13l-8-9l-8-6l-10-4l-14-4l-40-3l-92-2z"/>
<path fill="#3ab0e8" d="M325 -8h144l1 24l3 24l10 54l16 58l37 116l10 40l2 18l-2 14l-5 10l-9 7l-10 4l-12 4l-38 5l-58 2l-64-1l-42-2l-28-5l-12-4l-8-4l-5-4l-5-6l-3-8l-1-10v-12l3-16l9-34l36-114l16-54l6-30l5-26l3-26zM-8 394v-1h22l50 2l32 2l22 4l15 5l10 6l6 8l4 12l1 10l-2 12l-6 30l-41 130l-16 56l-9 42l-5 40l-1 28l2 28l3 28l6 32l17 64l43 136l6 26l3 18l-1 12l-2 8l-3 6l-5 6l-7 4l-10 5l-25 5l-47 4l-62 1zM742 394l54-1v770l-42-1l-36-1l-26-3l-20-4l-14-5l-9-7l-7-10l-2-12l2-20l6-28l43-136l16-58l9-52l3-24v-24v-22l-3-24l-9-52l-16-60l-44-138l-6-30v-20l1-8l5-8l7-6l10-5l14-4l16-3zM366 1184l82 1l32 2l24 3l17 4l13 6l8 8l5 10l1 10v10l-6 30l-10 34l-37 116l-16 64l-6 30l-3 26l-1 26l1 26h-146l1-26l-2-28l-3-26l-5-30l-18-66l-44-140l-6-30l-1-20l2-10l5-8l9-7l11-5l15-4l20-3z"/>
<path fill="#3ab0e8" d="M337 -8h119l3 40l8 44l12 46l33 112l6 26l4 22l1 22l-2 10l-3 8l-8 12l-8 6l-8 4l-25 8l-33 5l-44 1l-42-2l-28-5l-22-6l-8-5l-8-6l-9-12l-3-11l-1-13v-14l3-18l10-40l29-100l13-46l8-46zM-8 408h28l34 2l24 4l19 6l14 8l9 9l6 12l2 15l-1 24l-6 32l-38 128l-12 50l-7 42l-2 38l2 36l7 42l12 50l29 98l10 36l6 34v24l-3 12l-6 10l-8 8l-9 6l-14 5l-18 5l-20 2l-24 2l-34 1zM763 408l33-1v742l-32-1l-28-3l-22-3l-18-6l-14-8l-8-9l-6-12l-3-15l2-24l6-32l38-130l12-48l7-42l2-38l-2-38l-7-40l-12-50l-29-98l-10-36l-6-34v-24l3-12l5-10l8-8l10-6l14-5l16-4zM385 1198h31l28 2l24 4l18 4l14 7l10 7l7 10l5 14l1 12l-1 12l-5 34l-10 36l-31 104l-13 56l-6 46l-1 22l1 22h-120v-24l-1-24l-3-26l-4-26l-12-46l-33-112l-10-42l-3-24l1-20l4-14l4-6l6-6l14-9l22-7l28-4z"/>
<path fill="#3ab0e8" d="M353 -8h88l2 32l6 34l10 40l33 114l7 32l3 24v14l-2 12l-3 10l-5 8l-6 7l-8 6l-10 5l-12 5l-24 5l-30 2l-30-1l-26-4l-20-7l-14-8l-10-10l-7-14l-3-12v-14l1-16l3-18l10-42l27-94l10-38l7-38zM-8 424l22-1l28 3l22 5l16 7l12 9l8 11l6 14l1 16l-1 26l-7 34l-35 124l-10 40l-6 36l-2 30l2 36l7 38l10 38l29 98l9 36l4 30v24l-3 12l-6 12l-8 9l-10 7l-14 6l-16 4l-20 3l-20 2l-18-1zM771 424l25-1v710l-26-1l-24-3l-18-5l-16-7l-11-9l-8-10l-5-14l-2-16l2-26l6-32l10-37l27-91l9-40l6-32l2-32l-3-36l-7-38l-11-42l-27-92l-9-38l-4-30v-24l3-12l5-10l7-9l9-7l11-6l14-4l16-4zM388 1214h24l22 2l20 5l16 5l12 8l10 10l6 12l3 12l1 12l-1 14l-5 36l-10 38l-29 98l-11 46l-5 40v38h-89l1-20v-20l-3-20l-4-24l-11-46l-31-108l-10-46l-2-24l1-18l5-14l9-12l13-10l18-7l24-5z"/>
<path fill="#3ab0e8" d="M379 -8h36l2 18l4 20l46 142l9 37l5 29l1 20l-2 16l-4 13l-7 11l-9 9l-13 7l-15 5l-18 3l-20 1l-20-1l-18-4l-16-7l-12-9l-7-10l-6-12l-3-14v-14l1-16l7-38l14-49l37-113l6-24zM-8 444v-2h10l26 2l18 5l16 7l10 9l8 11l5 14l2 18l-2 28l-7 34l-12 43l-37 115l-7 26l-2 24l2 24l7 26l37 115l14 49l7 38v14v14l-3 12l-5 12l-7 9l-8 7l-12 7l-14 5l-16 3l-16 1h-14zM766 444l14-2h16v672l-20-1l-18-3l-16-5l-13-7l-9-9l-7-11l-4-12l-2-16l1-28l7-36l13-44l37-114l7-28l2-22l-2-22l-7-28l-37-114l-14-50l-7-36l-1-14l1-14l2-12l4-10l4-8l7-8l8-6l10-5l12-4zM376 1234l20-1l22 1l18 4l16 6l11 8l9 10l6 13l3 15l1 14l-2 18l-8 42l-14 48l-31 94l-9 32l-3 26l1 26h-39l2-14v-14l-4-28l-10-34l-38-118l-9-34l-5-28l-1-20l1-16l4-14l6-10l9-9l12-8l14-5z"/>
<path fill="#3ab0e8" d="M391 86l5-1h4l4 2l6 5l10 13l10 19l12 29l9 29l6 26l3 24v14l-3 14l-5 12l-6 9l-8 7l-12 6l-12 4l-14 2l-14-1l-14-3l-10-4l-10-7l-8-9l-5-10l-4-12l-1-12v-18l4-22l6-25l8-25l10-24l10-20l10-15zM-5 466h15l14 2l12 5l10 6l8 9l6 10l4 12l1 14l-1 22l-4 24l-8 29l-10 28l-12 25l-10 16l-10 10l-8 3l-4-1l-6-4v-210zM784 466h12v214l-4 1l-8-3l-10-9l-10-16l-10-21l-10-26l-8-27l-5-23l-3-22l1-14l2-14l4-10l6-10l8-8l11-6l12-4zM-2 876l6-1l4 2l8 6l10 13l10 20l12 29l9 27l6 26l2 24v14l-2 14l-5 12l-6 9l-8 7l-12 7l-12 3l-14 2h-14v-210zM787 876l5-1l4 1v214h-2l-14-1l-14-3l-10-4l-10-7l-8-9l-5-10l-3-12l-2-14l1-20l5-24l6-24l10-28l10-23l10-18l10-13zM380 1258l14-2l16 1l14 4l12 6l9 7l7 10l5 12l3 14v20l-4 24l-7 26l-9 28l-12 28l-10 18l-10 12l-6 4l-4 1l-8-2l-8-7l-10-14l-10-20l-10-25l-9-27l-6-24l-3-22v-14l1-14l3-10l5-10l6-8l9-7l10-6z"/>
<path fill="#3ab0e8" d="M390 154l6-2l6 1l6 4l6 7l6 10l5 12l3 12l3 14l-1 20l-2 8l-4 8l-5 6l-5 4l-6 3l-8 2h-8l-6-2l-6-3l-6-4l-4-6l-3-6l-4-16l1-21l6-22l10-19l6-7zM-8 504l8-2l8 1l8 2l6 4l6 6l4 7l4 16v12l-1 12l-7 24l-6 12l-6 8l-6 5l-6 2l-6-1l-6-3zM781 504l7-2l8 1v109l-4 1l-6-1l-4-2l-6-6l-5-8l-9-20l-4-22v-18l4-14l3-6l5-6zM-3 944l7-1l6 2l6 5l6 8l6 12l4 12l4 24v10l-1 10l-3 8l-3 6l-5 5l-6 5l-6 2l-8 2l-12-2v-105zM786 944l6-1l4 1v109l-2 1l-8-1l-6-1l-6-3l-6-5l-4-6l-3-6l-4-16l2-22l6-22l10-18l5-6zM388 1294l8-1l8 1l7 2l6 4l5 5l4 7l3 8l2 10v12l-2 12l-7 24l-6 11l-6 8l-6 5l-6 2l-6-1l-6-4l-10-13l-8-20l-5-22v-18l5-15l8-10l6-5z"/>
</g></g><path fill-rule="evenodd" fill="#231f20" d="M977.6 1525.9H1387V2330H977.6ZM985.7 1532H1380.2V2322.6H985.7Z"/><circle cx="1039" cy="1588" r="46" fill="#fff"/><text x="1000" y="1593" font-size="70">m</text><text x="1055" y="1620" font-size="54">3</text>
<clipPath id="e1"><rect x="0" y="0" width="921.1999999999998" height="1581.1999999999998"/></clipPath>
<g transform="translate(1403.4,1532) scale(0.5)"><g clip-path="url(#e1)" stroke="#16221c" stroke-width="2.4" stroke-opacity="0.88" stroke-linejoin="round">
<rect x="-8" y="-8" width="937" height="1597" fill="#98d8d6" stroke="none"/>
<path fill="#a0d296" d="M-8 -8h439l-2 46l-7 44l-9 36l-13 36l-15 34l-18 32l-21 31l-24 29l-26 27l-28 24l-30 22l-32 19l-34 17l-34 13l-36 10l-36 8l-36 4l-38 1zM501 -8h429v433l-42-3l-42-6l-40-10l-40-15l-38-18l-36-22l-34-25l-32-29l-28-31l-26-36l-21-36l-18-38l-14-40l-10-40l-6-42zM440 362l42-1l42 4l42 8l40 12l40 16l37 19l35 22l34 28l30 29l28 33l24 36l20 36l16 38l13 40l9 42l4 42l1 42l-4 42l-8 42l-11 40l-16 40l-20 38l-24 36l-25 32l-30 30l-33 28l-35 24l-37 20l-38 16l-40 13l-42 9l-42 4l-42 1l-42-4l-42-8l-40-11l-40-16l-38-20l-36-24l-32-25l-30-30l-28-33l-24-36l-20-36l-16-38l-13-40l-9-42l-4-42l-1-42l4-42l8-42l12-40l16-40l19-37l23-35l27-34l29-30l33-27l34-24l38-21l38-16l40-13l42-8zM-8 1160l40 1l44 5l42 10l42 14l38 18l38 22l34 25l32 28l28 31l26 34l22 36l19 40l15 40l11 42l6 42l2 42h-439zM916 1160h14v430h-429l2-42l6-40l10-40l13-38l18-38l21-36l24-34l27-30l30-29l33-25l34-22l37-19l38-15l40-11l40-7z"/>
<path fill="#a0d296" d="M-8 -8h424l-3 44l-6 42l-9 36l-12 34l-15 32l-17 31l-20 30l-22 27l-25 26l-27 24l-30 22l-30 18l-32 16l-34 13l-34 10l-36 7l-36 4l-36 1zM517 -8h413v417l-40-2l-40-6l-40-10l-38-14l-36-17l-36-22l-33-24l-30-28l-27-30l-25-34l-21-36l-17-36l-13-38l-10-40l-6-40zM432 378l40-1l40 2l40 7l40 10l38 14l36 18l36 22l32 24l30 28l28 32l24 34l20 34l17 38l13 38l9 40l5 40l2 40l-3 40l-6 40l-11 40l-14 38l-18 37l-22 35l-24 32l-28 30l-32 28l-33 24l-35 20l-38 17l-38 13l-40 9l-40 5l-40 2l-40-3l-40-6l-40-11l-38-14l-37-18l-35-22l-32-24l-30-28l-28-32l-24-34l-20-34l-17-38l-13-38l-9-40l-5-40l-1-40l2-40l7-40l10-40l14-38l18-36l22-36l25-32l28-30l31-28l32-23l36-20l38-18l38-12l40-10zM-8 1176v-1h8l28 1l44 5l40 9l40 14l38 17l36 21l33 24l31 27l28 30l25 33l21 34l18 38l15 40l10 40l6 40l3 42h-424zM905 1176l25-1v415h-413l2-40l5-38l9-38l13-36l16-36l19-34l23-32l25-30l29-28l30-24l32-21l34-18l36-15l38-12l38-8z"/>
<path fill="#a0d296" d="M-8 -8h412l-2 42l-6 42l-9 34l-12 34l-14 32l-17 30l-20 30l-21 26l-25 25l-26 23l-28 20l-30 19l-32 15l-32 13l-34 10l-34 6l-34 4l-36 1zM528 -8h402v406l-40-2l-38-6l-38-10l-38-13l-36-18l-34-20l-32-24l-29-27l-27-30l-24-32l-20-34l-16-36l-14-38l-9-38l-5-38zM453 388l39 1l40 4l38 8l38 12l36 16l34 19l34 23l30 25l28 29l24 31l22 33l18 35l15 38l11 38l7 38l3 40v40l-5 40l-8 38l-12 38l-16 36l-19 35l-23 33l-25 30l-29 28l-31 25l-33 21l-35 18l-38 15l-38 11l-38 7l-40 3h-40l-40-5l-38-8l-38-12l-36-16l-35-19l-33-23l-30-25l-28-29l-24-31l-22-33l-18-35l-15-38l-11-38l-7-38l-3-40l1-40l4-40l8-38l13-38l15-36l19-34l23-34l26-30l29-28l30-24l34-22l35-18l37-15l38-11l40-7zM-8 1188v-2l28 1l46 5l40 8l40 14l37 16l35 20l33 24l31 27l27 29l25 33l22 35l17 36l14 38l9 38l6 40l2 40h-412zM895 1188l35-2v404h-402l2-38l5-36l8-36l12-36l15-34l18-32l22-32l24-28l26-26l29-24l31-22l32-17l34-15l36-12l36-9z"/>
<path fill="#a0d296" d="M-8 -8h401l-2 42l-6 40l-9 34l-11 32l-14 30l-16 30l-19 28l-22 27l-24 25l-26 22l-28 20l-28 17l-30 15l-32 12l-32 9l-34 7l-34 4l-34 1zM539 -8h391v395l-38-2l-38-6l-38-10l-36-13l-34-16l-34-21l-31-23l-28-26l-26-28l-23-32l-20-34l-16-34l-13-36l-9-38l-5-38zM438 400l38-1l38 3l38 6l38 11l36 14l34 17l34 22l30 23l28 27l24 28l22 32l20 34l15 36l12 36l9 38l4 38l1 38l-3 38l-6 38l-11 38l-14 36l-17 34l-21 34l-24 30l-27 28l-28 24l-32 23l-34 19l-36 16l-36 11l-38 9l-38 4l-38 1l-38-3l-38-6l-38-11l-36-14l-34-17l-34-22l-30-23l-28-27l-24-28l-22-32l-20-34l-15-36l-12-36l-9-38l-4-38l-1-38l3-38l6-38l11-38l14-36l17-34l22-34l24-30l26-28l28-24l32-22l34-19l36-16l36-12l38-8zM-8 1198h36l40 5l38 9l38 13l36 16l34 20l32 23l29 26l27 29l23 31l21 34l16 34l13 36l10 38l6 38l2 40h-401zM912 1198l18-1v393h-391l2-38l5-36l9-36l12-36l16-34l19-32l21-30l24-28l27-26l30-23l32-21l32-17l34-13l36-11l36-7z"/>
<path fill="#a0d296" d="M-8 -8h390l-2 40l-6 40l-8 32l-12 32l-13 30l-16 28l-19 28l-20 25l-22 23l-26 22l-27 20l-29 18l-30 14l-30 12l-32 9l-32 6l-32 4l-34 1zM550 -8h380v384l-38-2l-36-6l-36-9l-36-13l-34-17l-32-19l-30-23l-28-25l-25-28l-22-30l-19-32l-15-34l-13-36l-9-36l-5-36zM429 412l37-2l38 2l36 5l36 9l36 13l34 16l32 19l30 23l28 25l26 28l22 30l19 32l16 34l12 34l9 36l6 38l2 36l-2 38l-5 38l-9 36l-13 36l-16 34l-19 32l-22 30l-26 29l-28 25l-30 22l-32 19l-34 16l-34 12l-36 10l-38 5l-36 2l-38-2l-38-5l-36-9l-36-13l-34-16l-32-19l-30-22l-28-26l-26-28l-22-30l-19-32l-16-34l-12-34l-9-36l-6-38l-2-36l2-38l5-38l9-36l13-36l16-34l19-32l23-30l25-28l28-25l30-23l32-19l34-16l36-13l36-9zM-8 1210v-1h30l42 5l38 9l36 11l35 16l33 19l32 23l28 25l26 27l23 30l20 34l17 34l13 36l9 36l6 38l2 38h-390zM901 1210l29-1v381h-380l2-36l5-34l8-34l11-34l15-32l17-32l20-28l23-28l25-25l28-23l30-20l30-16l32-14l34-11l36-9z"/>
<path fill="#a0d296" d="M-8 -8h379l-2 40l-6 38l-8 32l-11 30l-13 28l-15 28l-18 26l-21 26l-23 24l-23 20l-27 19l-28 17l-28 14l-30 11l-30 9l-32 6l-32 4h-32zM561 -8h369v372l-36-2l-36-5l-36-9l-34-13l-32-15l-32-20l-30-22l-26-24l-24-27l-21-29l-19-32l-15-32l-12-34l-9-36l-5-36zM445 422h37l36 3l36 7l34 10l34 14l32 16l30 20l28 23l26 25l23 28l21 30l18 32l14 34l11 34l7 36l4 36l1 36l-3 36l-7 36l-11 36l-13 34l-17 32l-20 30l-22 28l-26 26l-28 24l-30 20l-32 18l-34 14l-34 11l-36 7l-36 4l-36 1l-36-3l-36-7l-36-11l-34-13l-32-17l-30-20l-28-22l-26-26l-24-28l-20-30l-18-32l-14-34l-11-34l-7-36l-4-36v-36l3-36l6-36l11-36l14-34l17-32l19-30l23-28l25-26l28-23l30-21l32-17l34-15l34-10l36-8zM-8 1220l38 1l36 5l36 8l34 12l34 15l32 19l30 21l28 25l24 26l22 30l20 32l15 32l13 34l9 36l6 36l2 38h-379zM923 1220h7v370h-369l2-36l6-36l8-34l12-34l15-32l18-30l22-30l23-26l25-24l30-23l30-18l32-16l34-13l34-9l36-6z"/>
<path fill="#a0d296" d="M-8 -8h368l-2 38l-6 38l-8 30l-10 30l-13 28l-15 27l-17 25l-20 24l-21 22l-24 21l-26 19l-26 15l-28 14l-30 12l-30 8l-30 6l-30 3l-32 1zM573 -8h357v361l-36-2l-34-5l-34-9l-34-12l-32-16l-30-18l-28-21l-26-24l-23-26l-21-28l-18-30l-15-32l-11-34l-9-34l-5-34zM434 434l36-1l34 2l36 5l34 9l32 12l32 15l30 19l28 21l26 24l24 26l21 30l18 30l15 32l11 34l9 34l4 34l2 36l-2 34l-6 36l-9 34l-12 32l-15 32l-18 30l-22 29l-24 26l-26 23l-30 22l-30 17l-32 15l-34 12l-34 8l-34 4l-36 2l-34-2l-36-6l-34-9l-32-12l-32-15l-30-18l-29-22l-26-24l-23-26l-21-30l-18-30l-15-32l-11-34l-8-34l-5-34l-1-36l2-34l5-36l9-34l12-32l15-32l19-30l21-28l24-26l27-24l29-21l30-18l32-14l34-12l34-8zM-8 1232v-1h6l24 1l38 4l36 8l34 11l33 15l31 18l28 20l28 24l24 26l22 28l19 32l16 32l12 34l9 34l6 36l2 36h-368zM907 1232l23-1v359h-357l1-34l5-34l8-32l11-32l14-30l16-29l19-27l22-26l23-23l26-21l28-19l30-16l32-14l32-10l34-7z"/>
<path fill="#a0d296" d="M-8 -8h356l-1 38l-6 36l-8 30l-10 28l-13 28l-14 25l-17 25l-19 24l-22 22l-22 19l-24 17l-26 16l-28 14l-28 10l-28 8l-30 6l-30 3l-30 1zM584 -8h346v350l-34-2l-34-5l-34-9l-32-12l-30-14l-30-18l-28-22l-24-22l-22-24l-20-28l-18-30l-14-30l-11-32l-9-34l-5-34zM454 444h34l34 4l34 8l32 10l32 14l30 16l28 20l26 22l24 24l20 26l20 30l15 30l13 32l9 32l6 34l3 34v34l-4 34l-7 34l-10 32l-14 32l-17 30l-19 28l-22 26l-25 24l-26 21l-30 19l-30 15l-32 13l-32 9l-34 7l-34 2h-34l-34-4l-34-7l-32-11l-32-13l-30-17l-28-19l-26-23l-24-24l-20-26l-20-30l-15-30l-13-32l-9-32l-6-34l-3-34v-34l4-34l8-34l10-32l14-32l16-30l20-28l22-26l25-24l27-22l28-18l30-15l32-13l32-9l34-6zM-8 1244v-2l22 1l40 3l36 8l34 11l32 14l30 17l28 20l28 24l24 26l22 28l18 30l14 30l12 32l9 34l5 34l2 36h-356zM898 1244l32-2v348h-346l1-32l5-32l7-30l10-30l13-30l16-28l17-26l21-25l23-23l25-21l26-18l28-16l30-13l30-10l30-7z"/>
<path fill="#a0d296" d="M-8 -8h345l-2 36l-5 34l-7 28l-10 28l-11 26l-15 26l-16 24l-19 24l-20 20l-22 20l-24 17l-24 14l-26 13l-28 11l-28 8l-30 6l-28 3l-30 1zM595 -8h335v339l-34-2l-32-5l-32-8l-32-12l-30-15l-28-17l-26-20l-24-22l-22-24l-20-28l-17-28l-13-30l-11-30l-8-32l-4-32zM440 456l34-1l32 2l32 6l32 8l32 13l29 14l29 18l25 20l25 23l21 25l20 28l16 28l13 30l11 32l7 32l4 32l1 34l-2 32l-5 32l-9 32l-12 32l-15 30l-18 28l-20 26l-23 24l-25 22l-28 19l-28 16l-30 14l-32 10l-32 7l-32 4l-34 1l-32-2l-32-5l-32-9l-32-12l-29-15l-29-18l-26-20l-24-23l-21-25l-20-28l-16-28l-13-30l-11-32l-7-32l-4-32l-1-34l2-32l6-32l8-32l13-32l14-29l18-28l20-26l24-25l24-21l27-19l29-17l30-13l32-11l32-7zM-8 1254h32l34 5l34 7l32 11l30 14l30 17l27 20l25 22l22 24l21 28l17 28l15 30l11 32l9 32l4 32l2 34h-345zM914 1254l16-1v337h-335l2-32l4-32l8-30l10-30l13-29l16-28l19-27l21-24l23-22l25-20l26-16l28-15l30-12l30-9l32-7z"/>
<path fill="#a0d296" d="M-8 -8h334l-2 34l-5 34l-7 28l-9 26l-12 26l-14 26l-17 24l-18 22l-20 20l-20 18l-22 15l-24 15l-26 13l-26 10l-28 8l-28 5l-28 3l-28 1zM606 -8h324v328l-32-2l-32-5l-30-8l-30-11l-28-13l-28-17l-26-20l-24-22l-22-24l-18-25l-16-27l-14-30l-10-30l-8-30l-4-32zM432 468l32-2l32 2l32 4l30 7l30 11l30 14l28 16l24 18l24 21l22 24l19 25l17 28l15 30l11 30l7 30l5 32l2 32l-1 32l-5 32l-8 32l-10 30l-14 29l-16 27l-19 26l-22 24l-23 21l-25 19l-27 17l-30 14l-30 11l-30 7l-32 5l-32 2l-32-1l-32-5l-30-7l-30-11l-30-13l-28-17l-24-18l-24-21l-22-24l-19-25l-17-28l-15-30l-10-30l-8-30l-5-32l-2-32l2-32l4-32l7-30l11-30l13-28l16-28l19-26l21-24l24-22l25-19l28-17l28-14l30-11l32-8zM-8 1266v-1h24l36 4l32 7l32 10l30 13l28 16l27 19l25 22l23 24l20 26l17 28l14 29l11 31l9 32l4 32l2 32h-334zM903 1266l27-1v325h-324l2-30l4-30l7-30l10-28l12-28l15-26l16-24l20-24l22-21l23-19l25-17l26-15l28-12l28-9l30-7z"/>
<path fill="#a0d296" d="M-8 -8h323l-2 34l-5 32l-6 26l-9 26l-11 24l-14 25l-16 23l-16 20l-19 20l-21 18l-22 16l-24 14l-24 12l-26 10l-26 8l-28 5l-26 3h-28zM617 -8h313v316l-32-1l-30-5l-30-8l-28-10l-28-14l-26-15l-25-19l-23-21l-20-23l-19-26l-15-26l-13-28l-10-28l-8-30l-4-30zM446 478h32l30 2l30 6l30 8l28 11l28 15l26 17l24 19l22 21l20 24l17 25l16 28l12 28l10 30l6 30l3 30l1 32l-3 30l-5 30l-9 30l-11 28l-14 28l-17 26l-19 24l-22 22l-23 20l-26 18l-28 15l-28 12l-30 10l-30 6l-30 3l-32 1l-30-3l-30-5l-30-9l-28-11l-28-15l-26-16l-24-20l-22-21l-20-24l-17-25l-16-28l-12-28l-9-30l-7-30l-3-30v-32l2-30l6-30l8-30l12-28l14-28l17-26l19-24l21-22l24-20l25-17l28-16l28-12l30-9l30-7zM-8 1276l32 1l32 4l30 7l30 10l28 13l28 16l24 17l24 22l21 22l19 25l16 27l14 28l11 30l7 30l5 30l2 32h-323zM924 1276h6v314h-313l2-30l4-30l8-30l10-28l13-28l15-26l19-26l20-22l22-21l24-18l26-16l26-13l28-10l30-9l30-5z"/>
<path fill="#a0d296" d="M-8 -8h312l-2 32l-5 32l-7 26l-8 24l-11 24l-13 24l-15 22l-17 20l-18 19l-20 17l-22 16l-22 13l-24 12l-24 9l-26 7l-26 5l-26 3h-26zM629 -8h301v305l-30-1l-30-5l-28-7l-28-11l-26-12l-26-16l-24-18l-22-20l-20-23l-18-24l-15-26l-12-26l-10-28l-7-28l-4-30zM437 490l29-1l30 1l30 5l28 7l28 10l28 13l26 16l23 17l22 20l20 22l18 24l15 25l13 27l10 28l7 28l4 30l2 30l-2 30l-4 30l-7 28l-10 28l-12 26l-16 26l-18 24l-19 22l-22 20l-24 18l-26 16l-28 13l-28 10l-28 7l-30 4l-30 2l-30-2l-30-4l-28-7l-28-10l-27-13l-25-15l-24-18l-22-20l-20-22l-18-23l-15-26l-14-28l-9-28l-8-28l-4-30l-1-30l1-30l5-30l7-28l10-28l12-26l15-26l18-24l20-22l23-21l24-18l26-15l26-12l28-10l30-8zM-8 1288v-1h2l22 1l32 3l30 6l30 10l28 12l26 15l26 18l23 20l20 22l19 24l16 26l13 28l11 28l7 30l5 30l2 30h-312zM909 1288l21-1v303h-301l1-28l4-28l7-28l9-26l11-26l14-24l16-24l19-22l20-20l22-18l24-16l24-13l26-11l26-8l28-6z"/>
<path fill="#a0d296" d="M-8 -8h300l-1 32l-5 30l-6 24l-8 24l-11 24l-13 22l-14 21l-16 20l-18 18l-20 17l-20 14l-22 13l-22 11l-24 9l-24 7l-26 5l-24 3h-26zM640 -8h290v294l-30-2l-28-4l-28-8l-26-9l-26-13l-24-14l-23-18l-21-19l-19-21l-17-24l-14-24l-13-26l-9-26l-7-28l-4-28zM455 500h29l28 3l28 6l28 9l26 11l24 13l24 17l22 18l20 20l18 23l16 24l14 26l10 26l8 28l6 28l2 28v28l-3 28l-5 28l-9 28l-11 26l-14 26l-16 24l-19 22l-20 20l-22 18l-24 16l-25 13l-26 11l-28 8l-28 6l-30 2h-28l-28-3l-28-5l-28-9l-26-11l-26-14l-24-16l-22-19l-20-20l-18-23l-16-24l-14-26l-10-26l-8-28l-6-28l-2-28v-28l3-28l6-28l8-28l11-26l14-26l17-24l18-22l20-20l23-18l24-16l26-13l26-11l28-8l28-5zM-8 1300v-2h18l34 4l30 6l30 9l26 12l26 14l24 17l23 20l19 20l18 24l16 25l13 27l10 28l7 28l5 28l1 30h-300zM901 1300l29-2v292h-290l1-26l4-26l6-26l8-26l11-24l13-24l15-22l16-20l18-18l21-18l21-15l24-14l24-11l26-9l26-7z"/>
<path fill="#a0d296" d="M-8 -8h289l-1 30l-5 30l-6 24l-8 22l-10 22l-12 22l-14 20l-15 19l-17 17l-19 17l-20 14l-22 13l-22 10l-22 9l-24 6l-24 5l-24 2l-24 1zM651 -8h279v283l-28-2l-28-4l-26-7l-26-10l-24-11l-24-15l-22-16l-20-19l-19-21l-16-22l-14-24l-11-24l-9-26l-7-26l-4-28zM442 512l28-1l28 2l28 4l26 7l26 10l24 12l24 15l22 17l20 18l18 21l16 22l14 24l11 25l9 26l6 26l4 28l1 28l-1 28l-5 28l-7 26l-10 26l-12 24l-15 24l-16 22l-19 20l-21 18l-22 16l-24 14l-25 11l-26 9l-26 7l-28 3l-28 1l-28-1l-28-5l-26-7l-26-10l-24-12l-24-15l-22-17l-20-18l-18-21l-16-22l-14-24l-11-25l-9-26l-6-26l-4-28l-1-28l2-28l4-28l7-26l10-26l12-24l15-24l17-22l19-20l20-18l23-16l24-14l24-11l26-9l26-6zM-8 1310h26l28 3l28 6l28 10l26 11l24 14l22 16l22 19l19 21l17 22l15 24l11 24l10 26l7 28l5 28l1 28h-289zM915 1310l15-1v281h-279l1-26l4-26l6-26l9-26l11-24l13-22l15-22l17-20l19-18l22-18l22-14l23-12l24-10l25-8l26-5z"/>
<path fill="#a0d296" d="M-8 -8h278l-1 30l-5 28l-6 22l-7 22l-10 22l-12 20l-13 20l-15 18l-17 17l-17 15l-19 13l-20 12l-22 11l-22 8l-22 6l-24 5l-22 2l-24 1zM662 -8h268v272l-26-2l-27-4l-25-7l-26-9l-24-12l-22-13l-20-15l-20-19l-18-20l-15-21l-13-22l-12-24l-9-26l-6-26l-4-26zM435 524l27-2l26 1l26 3l26 6l26 9l23 11l23 13l21 15l19 16l19 20l17 22l14 22l12 24l9 24l7 26l4 26l2 26l-1 28l-3 26l-6 26l-9 26l-11 24l-13 22l-15 22l-18 20l-19 18l-21 16l-22 14l-24 12l-24 9l-26 7l-26 4l-26 2l-28-1l-26-3l-26-6l-26-9l-24-11l-22-13l-21-15l-19-16l-19-20l-17-22l-14-22l-11-24l-10-24l-7-26l-4-26l-2-26l1-26l3-26l6-26l9-26l10-24l14-24l15-21l17-19l19-18l22-18l22-13l24-12l24-9l26-7zM-8 1322v-1h18l32 3l28 6l26 8l24 11l24 13l22 16l21 18l19 20l16 21l14 23l12 24l10 26l6 26l4 26l2 28h-278zM906 1322l24-1v269h-268l1-24l4-24l5-24l8-24l10-22l12-22l14-21l16-19l17-18l19-16l20-14l22-12l22-10l24-8l24-6z"/>
<path fill="#cad85c" d="M-8 -8h267l-2 28l-4 26l-5 22l-8 22l-9 20l-11 20l-12 18l-15 18l-15 16l-18 15l-18 13l-20 12l-20 10l-22 8l-22 6l-22 4l-22 2h-22zM673 -8h257v260l-26-1l-24-4l-24-6l-24-9l-22-10l-23-14l-21-16l-18-17l-17-19l-15-20l-13-22l-10-22l-9-24l-6-26l-3-24zM448 534h26l24 1l26 5l24 7l24 9l22 11l22 14l20 16l18 17l17 20l14 20l12 22l11 24l8 24l5 24l3 26l1 26l-2 24l-5 26l-6 24l-10 24l-11 22l-14 22l-16 20l-17 18l-20 17l-20 14l-22 13l-24 10l-24 8l-24 5l-26 3l-26 1l-24-2l-26-5l-24-6l-24-10l-22-11l-22-14l-20-16l-18-17l-17-20l-14-20l-12-22l-11-24l-8-24l-5-24l-3-26l-1-26l2-24l5-26l7-24l9-24l11-22l14-22l16-20l17-18l20-17l22-15l22-12l22-10l24-7l24-6zM-8 1332l26 1l26 3l26 6l24 8l24 10l22 13l21 15l19 17l18 19l15 20l14 22l11 24l9 24l6 24l4 26l2 26h-267zM925 1332h5v258h-257l2-26l3-24l6-24l9-24l10-22l13-22l15-20l16-18l19-18l19-14l21-13l22-11l24-9l24-7l24-4z"/>
<path fill="#cad85c" d="M-8 -8h256l-2 26l-4 26l-5 22l-7 20l-9 20l-10 18l-13 18l-13 16l-15 16l-17 14l-17 13l-18 10l-20 10l-20 8l-20 5l-22 5l-22 2h-22zM685 -8h245v249l-24-1l-24-4l-24-6l-22-8l-22-11l-20-12l-20-15l-18-16l-16-18l-14-20l-13-22l-10-22l-8-22l-6-24l-3-24zM440 546l24-1l24 1l24 3l24 6l24 8l22 10l20 12l20 15l18 16l17 18l15 20l12 20l10 22l8 22l7 24l3 24l2 24l-1 24l-4 24l-5 24l-9 24l-10 22l-12 20l-14 20l-17 18l-18 17l-20 15l-20 12l-22 10l-22 9l-24 6l-24 3l-24 2l-24-1l-24-4l-24-5l-24-9l-22-10l-20-12l-20-15l-18-16l-17-18l-15-20l-12-20l-10-22l-8-22l-6-24l-4-24l-1-24l1-24l3-24l6-24l8-24l10-22l12-20l15-20l16-18l18-16l20-15l20-12l22-11l22-8l24-6zM-8 1344v-1h18l28 3l26 6l24 7l22 10l22 12l21 15l19 17l16 17l16 20l13 22l11 22l9 24l6 24l3 24l2 24h-256zM911 1344l19-1v247h-245l1-24l3-22l5-22l8-22l9-20l11-20l14-20l14-17l16-16l18-15l20-13l20-11l20-9l22-7l22-5z"/>
<path fill="#cad85c" d="M-8 -8h244l-1 26l-4 24l-5 20l-7 20l-8 18l-10 18l-12 18l-13 15l-14 15l-16 14l-16 11l-18 11l-18 9l-20 7l-20 6l-20 4l-20 2h-22zM696 -8h234v238l-24-1l-22-4l-22-6l-22-8l-20-9l-20-12l-18-14l-18-16l-16-18l-13-18l-12-20l-10-22l-8-22l-5-22l-3-22zM456 556h24l22 3l24 4l22 7l22 10l20 11l18 12l18 15l16 16l14 18l14 20l10 20l9 22l7 22l4 22l2 24v24l-2 22l-5 24l-7 22l-9 20l-11 21l-13 19l-15 18l-16 16l-18 15l-20 13l-20 10l-22 9l-22 7l-22 4l-24 2h-24l-22-2l-24-5l-22-7l-20-9l-21-11l-19-13l-18-15l-16-16l-14-18l-14-20l-10-20l-9-22l-7-22l-4-22l-2-24v-24l3-22l4-22l7-23l9-21l11-20l13-20l15-18l16-16l18-14l20-13l20-11l22-9l22-6l22-5zM-8 1356v-2h12l30 3l24 5l24 7l22 9l22 13l20 14l18 15l16 17l14 19l13 20l10 22l9 22l6 24l3 22l1 24h-244zM904 1356l26-2v236h-234l1-22l3-20l5-22l7-20l8-20l10-18l12-18l13-16l15-15l16-14l18-13l18-10l20-10l20-7l20-5z"/>
<path fill="#cad85c" d="M-8 -8h233l-1 24l-4 24l-5 20l-6 18l-8 18l-11 18l-11 16l-13 16l-14 14l-14 12l-16 11l-16 9l-18 9l-18 7l-18 5l-20 4l-20 2h-20zM707 -8h223v227l-22-1l-22-4l-22-6l-20-7l-20-10l-18-11l-18-13l-16-15l-14-16l-14-19l-11-19l-10-20l-7-20l-5-22l-3-22zM445 568l21-1l22 1l22 3l22 6l20 7l20 9l20 12l17 13l15 14l16 17l13 17l12 20l9 20l7 20l6 22l3 22l1 22l-1 22l-3 22l-6 22l-7 20l-9 20l-12 20l-13 17l-14 16l-17 15l-17 13l-20 12l-20 9l-20 8l-22 5l-22 3l-22 1l-22-1l-22-3l-22-6l-20-7l-20-9l-20-12l-17-13l-17-15l-14-16l-13-17l-12-20l-9-20l-7-20l-6-22l-3-22l-1-22l1-22l3-22l6-22l7-20l10-20l10-18l14-19l16-17l15-14l19-14l18-10l20-10l22-8l22-5zM-8 1366h20l24 2l22 5l22 7l20 9l20 11l18 13l18 15l15 16l14 18l12 20l10 20l8 22l6 22l3 22l1 22h-233zM917 1366l13-1v225h-223l1-22l3-20l5-20l7-20l9-20l10-18l12-17l14-16l15-15l17-14l18-11l18-10l20-8l20-6l20-5z"/>
<path fill="#cad85c" d="M-8 -8h222l-1 24l-4 22l-4 18l-7 18l-7 16l-9 16l-11 16l-11 14l-14 14l-14 12l-16 12l-16 9l-16 7l-18 7l-18 5l-18 4l-18 1l-20 1zM718 -8h212v216l-22-2l-20-3l-20-5l-20-8l-18-8l-18-11l-17-13l-15-14l-14-16l-12-16l-11-18l-9-20l-7-20l-5-20l-3-20zM438 580l22-2l20 1l22 2l20 5l20 6l18 8l18 10l18 12l16 14l14 14l13 16l12 18l9 18l8 20l6 20l4 22l2 20v22l-3 22l-4 20l-7 20l-8 19l-10 18l-12 17l-13 16l-15 14l-16 13l-18 12l-18 9l-20 8l-20 6l-22 4l-20 2h-22l-22-3l-20-4l-20-7l-19-8l-18-10l-17-12l-16-13l-14-15l-13-16l-12-18l-9-18l-8-20l-6-20l-4-22l-2-20l1-22l2-22l5-20l6-20l8-18l10-18l12-18l14-16l16-16l16-12l18-12l18-9l20-8l20-5zM-8 1378v-1h12l26 2l22 4l22 7l20 8l20 12l18 12l16 14l14 15l13 17l12 18l10 20l7 20l6 22l3 20l1 22h-222zM909 1378l21-1v213h-212l1-20l3-18l4-20l6-18l8-18l10-17l11-17l12-14l13-14l15-12l15-11l18-10l18-9l18-6l20-5z"/>
<path fill="#cad85c" d="M-8 -8h211l-1 22l-4 22l-4 18l-6 16l-7 16l-10 16l-9 14l-12 14l-12 12l-14 12l-14 10l-16 9l-16 8l-16 6l-16 4l-18 4l-18 1h-18zM729 -8h201v204l-20-1l-20-3l-20-5l-18-7l-18-9l-16-10l-16-12l-14-13l-13-14l-12-16l-10-18l-9-18l-6-18l-5-20l-3-20zM450 590l20-1l20 2l20 3l18 5l18 7l18 9l18 11l16 12l14 13l13 15l11 16l11 18l8 18l6 18l5 20l2 20l1 20l-1 20l-4 20l-5 18l-6 18l-9 18l-11 18l-13 16l-13 14l-15 13l-16 12l-18 10l-18 8l-18 6l-20 5l-20 2l-20 1l-20-1l-20-4l-18-5l-18-7l-18-8l-18-12l-16-12l-14-13l-13-15l-11-16l-11-18l-8-18l-6-18l-4-20l-3-20l-1-20l2-20l3-20l5-18l7-18l9-18l11-18l12-16l14-14l14-13l16-11l18-10l18-9l20-6l20-5zM-7 1388h21l20 3l20 4l18 6l18 8l18 10l16 11l16 14l14 15l12 15l11 18l9 18l8 20l5 20l3 20l1 20h-211v-202zM926 1388h4v202h-201l2-20l2-18l5-20l7-18l8-18l9-16l12-16l12-14l14-13l16-12l16-11l18-9l18-7l18-5l20-3z"/>
<path fill="#cad85c" d="M-8 -8h200l-1 20l-3 20l-4 16l-6 16l-7 16l-8 14l-9 14l-12 14l-12 12l-12 11l-14 10l-14 8l-16 7l-16 6l-16 5l-16 3l-16 1h-18zM741 -8h189v193l-20-1l-18-3l-18-5l-17-6l-17-8l-16-10l-15-12l-13-12l-13-14l-11-15l-10-17l-7-16l-6-18l-5-18l-2-18zM443 602l19-1h18l20 3l18 4l18 6l16 7l16 9l16 11l15 13l13 14l11 14l10 16l8 16l7 18l5 18l3 18l2 18l-1 20l-2 18l-4 18l-6 18l-8 18l-9 16l-11 16l-13 15l-14 13l-14 11l-16 10l-16 8l-18 7l-18 5l-18 3l-18 2l-20-1l-18-2l-18-4l-18-6l-18-8l-16-9l-16-11l-15-13l-13-14l-11-14l-10-16l-8-16l-7-18l-5-18l-3-18l-1-18v-20l2-18l4-18l6-18l8-18l9-16l11-16l13-15l14-13l14-11l16-10l16-8l18-7l18-5zM-8 1400v-1h14l22 2l20 4l18 6l18 7l17 10l17 12l14 12l13 14l13 16l10 16l8 17l7 19l5 18l2 18l2 20h-200zM914 1400l16-1v191h-189l1-18l2-16l4-18l5-16l7-16l9-16l10-14l11-14l12-12l14-12l14-9l16-9l16-8l16-5l18-4z"/>
<path fill="#cad85c" d="M-8 -8h188l-1 20l-2 18l-9 30l-14 28l-10 14l-10 12l-11 12l-12 10l-13 9l-14 8l-14 7l-16 6l-30 6l-16 2h-16zM752 -8h178v182l-18-1l-16-3l-18-4l-16-6l-16-8l-16-10l-14-10l-13-12l-11-13l-10-13l-9-16l-8-16l-5-16l-5-18l-2-18zM457 612h19l18 2l18 4l16 5l16 6l16 9l15 10l13 11l13 13l11 14l9 14l9 16l6 16l6 18l3 16l1 18v18l-2 18l-3 18l-5 16l-7 16l-9 16l-9 14l-12 14l-13 13l-14 11l-14 9l-16 9l-16 6l-18 6l-16 3l-18 1h-18l-18-2l-18-3l-16-5l-16-7l-16-9l-15-10l-13-11l-13-13l-11-14l-9-14l-9-16l-6-16l-5-18l-3-16l-2-18v-18l2-18l4-18l5-16l7-16l8-16l10-14l11-14l13-12l14-12l14-9l16-8l16-7l16-5l18-3zM-8 1412v-2h8l24 2l20 4l18 5l18 8l16 9l14 10l14 12l14 14l10 14l10 16l8 16l6 16l5 18l2 18l1 18h-188zM907 1412l23-2v180h-178l1-16l2-16l4-16l5-16l13-28l10-14l9-12l12-12l11-10l13-9l14-9l14-7l16-6l16-4z"/>
<path fill="#cad85c" d="M-8 -8h177l-1 18l-2 18l-9 28l-13 27l-18 24l-22 20l-24 16l-28 12l-30 6l-30 2zM763 -8h167v171l-16-1l-16-3l-16-4l-16-6l-16-7l-14-9l-12-9l-13-12l-10-12l-11-14l-8-14l-7-16l-5-16l-4-16l-2-16zM448 624l16-1l18 1l16 2l16 4l16 6l14 6l14 8l14 10l12 11l12 13l9 12l9 14l8 16l6 16l4 16l2 16l1 16v18l-3 16l-4 16l-5 16l-7 14l-8 14l-10 14l-10 12l-13 12l-13 10l-14 8l-16 8l-16 6l-16 4l-16 2l-16 1h-18l-16-3l-16-4l-16-5l-14-7l-14-8l-14-10l-12-11l-12-13l-9-12l-9-14l-8-16l-6-16l-4-16l-2-16l-1-16l1-18l2-16l4-16l6-16l6-14l8-14l10-14l12-13l12-11l13-10l13-8l16-8l16-5l16-5zM-8 1422h14l18 1l18 4l16 5l16 7l16 8l14 10l13 11l11 12l11 14l9 14l8 16l5 16l5 16l2 16l1 18h-177zM919 1422h11v168h-167l1-16l2-16l4-16l5-14l6-14l8-14l19-24l12-12l12-10l26-15l14-6l16-6l16-3z"/>
<path fill="#cad85c" d="M-8 -8h166l-1 18l-2 16l-8 26l-13 26l-17 22l-21 19l-24 15l-26 11l-26 5l-28 1zM774 -8h156v160l-16-1l-14-3l-16-4l-14-5l-14-7l-13-8l-13-10l-11-10l-10-12l-9-12l-8-14l-7-14l-4-14l-4-16l-2-14zM442 636l16-2h16l16 2l14 3l16 5l14 6l14 7l12 8l12 10l11 11l10 12l8 12l8 14l6 14l4 14l3 16l2 16v16l-2 16l-2 14l-5 16l-6 14l-8 14l-8 12l-10 12l-11 11l-12 10l-12 8l-14 8l-14 6l-14 4l-16 3l-16 2h-16l-16-2l-14-2l-16-5l-14-6l-14-8l-12-8l-12-10l-11-11l-10-12l-8-12l-8-14l-5-14l-5-14l-3-16l-2-16v-16l2-16l3-14l5-16l6-14l7-14l8-12l10-12l11-11l12-10l12-8l14-7l14-6l14-5zM-8 1434v-1h8l20 1l16 3l17 5l15 6l14 8l14 9l12 10l12 13l9 12l9 14l7 14l5 14l5 16l2 16l1 16h-166zM912 1434l18-1v157h-156l3-28l8-28l13-26l16-22l20-19l24-16l26-11z"/>
<path fill="#ffe63c" d="M-8 -8h155v16l-3 16l-7 24l-12 24l-15 20l-20 18l-22 14l-24 10l-26 6l-26 1zM785 -8h145v149l-28-3l-14-4l-14-5l-14-7l-12-8l-22-18l-17-22l-7-12l-7-14l-4-14l-4-14zM449 646l15-1h14l28 5l26 11l12 6l13 9l11 10l10 10l9 12l7 12l12 26l4 14l2 14l1 14v16l-5 28l-10 26l-8 14l-8 11l-10 11l-10 10l-12 9l-12 8l-26 11l-14 4l-14 2l-14 1h-16l-28-5l-26-10l-12-7l-13-9l-11-10l-10-10l-9-12l-7-12l-12-26l-4-14l-2-14l-1-14v-16l6-28l10-26l6-12l9-12l10-12l10-9l12-10l12-7l26-12l14-3zM-8 1444h12l16 1l16 3l14 4l14 6l14 8l12 8l11 10l10 10l9 12l8 12l7 14l5 14l4 14l2 14l1 16h-155zM920 1444h10v146h-145l3-28l8-26l12-24l16-21l20-18l24-15l26-9z"/>
<path fill="#ffe63c" d="M-8 -8h142l-1 16l-2 14l-7 22l-11 22l-14 18l-17 16l-20 12l-22 10l-24 5h-24zM798 -8h132v136l-26-3l-26-9l-22-12l-20-17l-16-20l-12-23l-8-26zM444 660l26-2l26 4l25 8l23 13l20 18l16 21l11 22l7 26l2 26l-3 26l-9 26l-13 22l-17 20l-21 16l-23 11l-26 7l-26 2l-26-3l-26-9l-22-13l-20-18l-16-21l-11-22l-7-26l-2-26l4-26l8-25l13-23l18-20l21-16l24-12zM-8 1458v-1h6l18 1l14 2l14 4l24 11l12 8l11 9l17 20l8 12l6 12l9 26l2 14l1 14h-142zM914 1458l16-1v133h-132l3-24l6-24l11-21l14-19l17-16l19-13l22-9z"/>
<path fill="#ffe63c" d="M-8 -8h128l-1 14l-1 12l-6 20l-11 20l-13 17l-16 15l-18 11l-20 8l-20 4h-22zM812 -8h118v122l-24-3l-22-7l-20-12l-18-15l-15-19l-10-20l-7-22zM445 674l23-2l24 3l22 7l21 12l19 16l14 18l10 22l6 22l2 24l-3 24l-8 22l-11 20l-16 18l-18 14l-22 11l-22 6l-24 1l-24-3l-22-8l-20-11l-18-16l-13-18l-11-21l-6-23l-2-24l3-22l7-22l12-21l16-18l18-14l20-10zM-8 1472v-1h4h16l14 3l12 3l22 10l21 15l16 18l13 22l7 24l3 24h-128zM915 1472l15-1v119h-118l2-22l6-20l9-18l13-18l14-14l18-12l20-9z"/>
<path fill="#ffe63c" d="M-8 -8h115l-2 24l-6 18l-9 18l-12 15l-14 12l-16 10l-18 7l-18 4h-20zM825 -8h105v109l-20-3l-20-6l-18-10l-17-14l-13-17l-10-19l-5-20zM453 686l21-1l20 4l20 7l18 12l15 14l11 16l10 20l4 20l1 22l-4 20l-7 20l-12 18l-14 15l-16 12l-20 9l-20 4l-22 1l-20-4l-20-7l-18-12l-15-14l-11-16l-9-20l-5-20l-1-22l4-20l8-20l11-18l14-15l18-12l18-8zM-8 1484l22 1l22 5l20 10l17 12l14 16l11 20l7 20l2 22h-115zM924 1484h6v106h-105l2-20l5-18l10-18l12-16l16-14l16-10l18-7z"/>
<path fill="#ffe63c" d="M-8 -8h102l-2 20l-4 16l-9 16l-10 14l-13 11l-14 9l-16 6l-16 3h-18zM838 -8h92v96l-18-3l-18-5l-16-10l-14-12l-11-14l-8-16l-5-18zM448 700l18-2l18 2l18 5l16 9l15 12l11 14l9 16l5 18l2 18l-2 18l-5 18l-9 17l-12 14l-14 12l-16 8l-18 5l-18 2l-18-2l-18-5l-17-9l-14-12l-11-14l-9-16l-5-18l-2-18l2-18l5-18l9-16l11-14l15-12l16-9zM-8 1498v-1h2h14l20 4l18 8l16 11l14 15l10 17l6 18l2 20h-102zM917 1498l13-1v93h-92l2-16l4-16l7-14l9-14l12-11l14-10l15-7z"/>
<path fill="#ffe63c" d="M-8 -8h84l-2 18l-4 14l-7 12l-9 11l-10 9l-12 7l-12 4l-14 2h-14zM856 -8h74v78l-14-2l-14-5l-13-7l-12-10l-9-12l-6-12l-4-14zM450 718l14-2l16 1l14 4l13 7l11 9l10 11l8 14l4 14l2 14l-1 16l-4 14l-7 13l-8 11l-12 10l-14 8l-14 5l-14 1l-16-1l-14-4l-13-7l-11-9l-10-11l-8-14l-4-14l-2-14l1-16l5-14l6-13l9-11l11-10l14-8zM-8 1516v-1h12l18 3l14 6l14 9l10 11l9 14l5 16l2 16h-84zM918 1516l12-1v75h-74l2-14l3-12l6-12l7-10l10-10l10-7l12-6z"/>
<path fill="#ffe63c" d="M-8 -8h57l-1 12l-3 10l-5 8l-6 7l-6 5l-8 4l-10 4l-8 1l-10-1zM883 -8h47v51l-10-2l-8-3l-8-4l-8-7l-6-9l-4-8l-2-8zM457 744l9-1l10 1l10 3l8 5l7 6l5 6l5 8l3 10l1 8l-1 10l-2 10l-4 8l-6 8l-8 6l-8 5l-10 3l-8 1l-10-1l-10-2l-8-4l-8-7l-6-7l-5-8l-3-10l-1-10l1-10l3-10l5-8l6-7l8-6l8-4zM-5 1542h9l10 2l10 4l8 6l8 8l4 8l4 10l1 10h-57v-48zM927 1542h3v48h-47l1-10l3-8l4-8l5-6l6-6l8-5l8-3z"/>
</g></g><path fill-rule="evenodd" fill="#231f20" d="M1396.7 1525.9H1869.3V2328.4H1396.7ZM1403.4 1532H1864V2322.6H1403.4Z"/><circle cx="1455" cy="1590" r="46" fill="#fff"/><text x="1425" y="1588" font-size="70">p</text><text x="1458" y="1614" font-size="54">1</text>
<clipPath id="e2"><rect x="0" y="0" width="918.4000000000005" height="1581.4"/></clipPath>
<g transform="translate(1883.6,1530.3) scale(0.5)"><g clip-path="url(#e2)" stroke="#16221c" stroke-width="2.4" stroke-opacity="0.88" stroke-linejoin="round">
<rect x="-8" y="-8" width="934" height="1597" fill="#98d2a0" stroke="none"/>
<path fill="#cad864" d="M-8 -8h408l-1 26l-4 36l-8 38l-10 32l-16 38l-18 34l-24 36l-26 32l-23 23l-26 22l-34 24l-36 21l-36 15l-36 12l-36 8l-30 3l-44 2zM538 -8h388v402l-42-3l-40-8l-34-10l-30-12l-32-16l-38-24l-28-21l-31-30l-26-30l-20-28l-20-34l-18-38l-14-42l-8-34l-6-42zM436 386l44-1l44 3l34 5l32 8l38 14l34 16l36 22l32 24l31 29l29 32l21 30l20 34l14 30l14 38l10 40l6 38l2 42l-2 42l-6 40l-8 32l-12 36l-16 36l-22 38l-20 28l-28 32l-31 29l-28 22l-32 20l-40 20l-36 14l-28 8l-44 7l-44 3l-44-1l-34-3l-40-8l-42-14l-32-14l-36-20l-34-24l-32-28l-29-31l-21-26l-23-38l-18-36l-14-36l-12-46l-6-38l-2-42l2-44l6-38l10-40l14-38l14-30l24-40l24-32l31-33l32-28l28-20l38-22l36-16l42-14l40-8zM-8 1190v-2l26 1l48 4l36 8l42 14l38 18l34 20l28 20l34 30l27 29l24 32l22 36l18 38l14 38l10 42l6 42l1 30h-408zM898 1190l28-2v402h-388l1-30l6-42l8-34l14-42l16-34l18-32l18-26l26-32l25-25l32-26l26-18l32-19l34-15l42-14l36-8z"/>
<path fill="#cad864" d="M-8 -8h399l-2 40l-7 38l-9 38l-14 36l-17 36l-20 32l-24 32l-26 28l-29 26l-31 23l-34 20l-34 16l-38 13l-38 10l-36 5l-40 2zM547 -8h379v394l-38-3l-36-7l-36-11l-36-14l-34-18l-32-20l-29-23l-27-26l-25-28l-22-32l-19-32l-16-34l-12-36l-9-36l-6-36zM431 394l41-2l40 2l36 6l38 10l36 13l36 17l34 20l30 22l28 26l28 30l22 30l20 34l17 36l13 36l10 38l6 38l2 38l-2 40l-5 38l-9 38l-13 36l-16 36l-20 34l-23 31l-26 29l-28 26l-31 24l-33 20l-36 18l-36 13l-38 10l-38 6l-40 3l-42-2l-36-5l-38-9l-38-13l-36-16l-34-20l-31-23l-29-26l-28-30l-23-30l-20-34l-18-36l-13-36l-10-38l-6-40l-2-38l2-40l6-40l9-38l13-36l17-36l20-34l23-32l26-28l30-28l32-23l34-20l36-17l36-13l40-10zM-8 1196l10-1l26 2l38 5l38 9l38 13l36 17l34 20l31 23l29 26l26 28l24 32l20 32l17 36l14 36l9 38l7 38l2 40h-399zM922 1196h4v394h-379l2-38l6-36l9-36l12-36l16-34l19-32l22-32l25-28l27-26l29-23l32-20l32-17l36-15l36-10l36-7z"/>
<path fill="#cad864" d="M-8 -8h390l-2 38l-6 38l-10 36l-13 36l-16 34l-20 32l-23 31l-26 29l-28 25l-30 22l-34 20l-34 16l-36 13l-36 9l-38 5l-38 2zM556 -8h370v385l-36-3l-36-7l-36-11l-34-13l-33-17l-31-20l-28-22l-27-26l-25-28l-21-30l-19-32l-15-32l-12-34l-9-36l-6-36zM441 402l39-1l38 3l38 7l36 10l36 14l34 17l32 20l30 24l28 27l25 29l23 32l18 32l15 36l12 36l9 38l4 38l1 38l-3 38l-7 38l-10 36l-14 36l-17 34l-20 32l-24 30l-27 28l-29 25l-32 23l-32 18l-36 15l-36 12l-38 9l-38 4l-38 1l-38-3l-38-7l-36-10l-36-14l-34-17l-32-20l-30-24l-28-27l-25-29l-23-32l-18-32l-15-36l-12-36l-9-38l-4-38l-1-38l3-38l7-38l10-36l14-36l17-34l20-32l24-30l27-28l29-25l32-23l32-18l36-15l36-12l38-9zM-8 1206v-2l24 1l46 5l38 9l38 13l34 16l34 20l30 22l30 26l25 28l23 30l20 33l17 35l13 36l10 36l6 38l2 38h-390zM907 1206l19-1v385h-370l2-36l5-34l8-34l12-34l14-32l18-32l21-30l22-27l25-25l27-22l30-21l30-17l32-14l34-12l34-9z"/>
<path fill="#cad864" d="M-8 -8h381l-2 38l-6 36l-9 36l-13 34l-16 34l-20 32l-22 30l-25 27l-28 25l-30 22l-32 19l-34 16l-34 12l-36 9l-36 5l-38 2zM565 -8h361v376l-36-3l-34-7l-34-10l-34-13l-32-17l-30-19l-28-22l-27-25l-23-27l-21-29l-19-32l-15-32l-12-34l-8-34l-6-36zM430 412l36-2l38 2l38 5l36 9l36 13l34 16l32 19l30 22l28 25l24 27l23 30l19 32l16 34l13 34l9 36l6 38l2 36l-2 38l-5 38l-9 36l-13 36l-16 34l-19 32l-22 30l-25 28l-27 24l-30 23l-32 19l-34 16l-34 13l-36 9l-38 6l-36 2l-38-2l-38-5l-36-9l-36-13l-34-16l-32-19l-30-22l-28-25l-24-27l-23-30l-19-32l-16-34l-13-34l-9-36l-6-38l-2-36l2-38l5-38l9-36l13-36l16-34l19-32l22-30l25-28l27-24l30-23l32-19l34-16l34-13l36-9zM-8 1214v-1h2l28 1l40 5l38 10l36 12l34 16l32 19l30 22l28 25l25 27l22 30l20 32l16 34l13 34l9 36l6 36l2 38h-381zM918 1214h8v376h-361l2-36l5-34l9-34l11-34l15-32l17-30l21-30l23-27l26-25l28-22l30-20l30-16l32-13l34-11l34-8z"/>
<path fill="#cad864" d="M-8 -8h372l-2 36l-6 36l-9 34l-12 34l-15 32l-20 32l-22 30l-24 26l-27 24l-29 22l-32 19l-32 15l-34 12l-36 9l-36 5l-36 2zM574 -8h352v367l-34-3l-34-7l-34-10l-32-12l-32-17l-28-18l-28-21l-26-25l-23-26l-20-28l-18-30l-15-32l-12-34l-9-34l-5-34zM442 420l36-1l36 3l36 6l36 10l34 13l32 16l30 19l30 23l26 25l24 28l21 30l18 32l15 34l12 34l8 36l4 36l1 36l-3 36l-6 36l-10 36l-13 34l-16 32l-19 30l-23 30l-25 26l-28 24l-30 21l-32 18l-34 15l-34 12l-36 8l-36 4l-36 1l-36-3l-36-6l-36-10l-34-13l-32-16l-30-19l-30-23l-26-25l-24-28l-21-30l-18-32l-15-34l-12-34l-8-36l-4-36l-1-36l3-36l6-36l10-36l13-34l16-32l19-30l23-30l25-26l28-24l30-21l32-18l34-15l34-12l36-8zM-8 1224v-2l22 1l44 5l36 8l36 13l34 15l31 18l29 21l28 25l24 26l23 30l19 31l16 33l13 34l9 36l6 36l2 36h-372zM907 1224l19-1v367h-352l2-34l5-34l8-32l11-32l13-30l17-30l19-28l22-26l23-24l27-22l27-19l30-17l32-14l32-11l32-8z"/>
<path fill="#cad864" d="M-8 -8h363l-2 36l-6 34l-8 34l-13 34l-15 32l-19 30l-21 28l-24 26l-26 24l-29 21l-30 18l-32 15l-34 12l-34 8l-34 5l-36 2zM583 -8h343v358l-34-3l-34-7l-32-9l-32-13l-30-16l-28-18l-28-22l-24-23l-22-25l-20-28l-18-30l-14-30l-11-32l-9-34l-5-34zM431 430l35-2l36 2l36 5l34 8l34 12l32 15l30 17l28 21l27 24l24 26l22 28l18 30l16 32l12 34l9 34l6 36l2 34l-1 36l-5 36l-8 34l-12 34l-15 32l-18 32l-21 28l-24 27l-26 24l-28 22l-30 18l-32 16l-34 12l-34 9l-36 6l-34 2l-36-1l-36-5l-34-8l-34-12l-32-15l-32-18l-28-21l-27-24l-24-26l-22-28l-18-30l-16-32l-12-34l-9-34l-6-36l-2-34l1-36l5-36l8-34l12-34l15-32l18-32l21-28l24-27l26-24l28-22l32-19l32-15l34-13l34-9zM-8 1232v-1h2l26 1l40 5l36 9l33 12l33 15l30 18l29 21l26 24l24 26l21 28l19 30l15 32l13 34l8 34l6 34l2 36h-363zM919 1232h7v358h-343l2-34l5-34l8-32l11-32l14-30l17-29l19-27l22-26l25-24l26-21l28-19l30-16l30-12l32-11l34-7z"/>
<path fill="#cad864" d="M-8 -8h354l-2 34l-5 34l-9 34l-12 32l-14 30l-19 30l-21 28l-23 26l-27 24l-28 20l-30 18l-30 14l-32 11l-34 8l-34 5l-34 2zM592 -8h334v349l-34-3l-32-7l-32-9l-30-12l-30-16l-28-18l-26-21l-24-23l-22-25l-19-27l-17-28l-14-30l-11-32l-8-32l-5-32zM442 438l36-1l34 3l34 5l34 10l32 12l32 16l29 19l27 21l25 23l23 27l20 29l17 30l14 32l11 32l8 34l4 34l1 34l-2 34l-6 34l-9 34l-12 32l-16 32l-19 30l-21 27l-24 26l-26 22l-28 20l-30 17l-32 15l-34 11l-34 8l-34 4l-34 1l-34-2l-34-6l-34-9l-32-12l-32-16l-30-19l-27-21l-26-24l-22-26l-20-28l-17-30l-15-32l-11-34l-8-34l-4-34l-1-36l3-34l5-34l10-34l12-32l16-32l19-29l21-27l23-25l27-23l29-20l30-17l32-14l32-11l34-8zM-8 1242v-2l20 1l42 4l36 9l34 12l32 14l30 18l28 20l26 23l23 25l21 28l19 30l15 32l12 32l9 34l5 34l2 34h-354zM908 1242l18-1v349h-334l2-32l5-32l7-32l11-30l13-30l16-28l18-26l20-24l24-24l24-20l26-18l28-16l30-13l30-11l30-7z"/>
<path fill="#cad864" d="M-8 -8h345l-2 34l-6 34l-8 32l-12 32l-15 30l-17 28l-21 28l-22 24l-25 22l-27 20l-30 18l-30 14l-32 11l-32 8l-32 4l-34 2zM601 -8h325v340l-32-3l-32-6l-30-9l-30-12l-28-15l-28-18l-26-20l-24-23l-21-24l-19-27l-16-28l-14-29l-10-30l-8-32l-5-32zM432 448l34-2l34 1l34 5l32 8l32 11l30 14l29 17l28 20l25 22l24 26l20 27l18 29l14 30l12 32l9 32l5 34l2 34l-1 34l-5 34l-8 32l-11 32l-14 30l-17 29l-20 28l-22 25l-26 24l-27 20l-29 18l-30 14l-32 12l-32 9l-34 5l-34 2l-34-1l-34-5l-32-8l-32-11l-30-14l-29-17l-28-20l-25-22l-24-26l-20-27l-18-29l-14-30l-12-32l-9-32l-5-34l-2-34l1-34l5-34l8-32l11-32l14-30l17-29l20-28l22-25l26-24l27-20l29-18l30-14l32-12l32-9zM-8 1250v-1l26 1l38 5l34 8l32 11l30 14l30 18l27 20l25 22l22 24l21 28l17 28l15 30l12 32l8 32l6 34l2 34h-345zM920 1250h6v340h-325l2-32l5-32l7-30l11-30l13-30l16-28l19-26l20-24l23-22l25-20l26-18l28-15l30-12l30-10l32-7z"/>
<path fill="#cad864" d="M-8 -8h336l-2 34l-5 32l-9 32l-11 30l-15 30l-16 27l-20 26l-22 24l-24 22l-26 19l-28 17l-30 14l-30 10l-32 8l-32 5l-34 2zM610 -8h316v331l-32-3l-30-6l-30-9l-30-12l-28-15l-26-17l-24-19l-23-22l-21-24l-18-26l-17-28l-12-28l-11-30l-7-30l-5-30zM443 456l33-1l34 3l32 5l32 9l30 11l30 15l28 18l26 20l24 23l22 25l19 28l16 28l13 30l11 32l7 32l4 32l1 34l-3 32l-5 32l-9 32l-11 30l-15 30l-18 28l-20 26l-23 24l-25 22l-28 19l-28 16l-30 13l-32 11l-32 7l-32 4l-34 1l-32-3l-32-5l-32-9l-30-11l-30-15l-28-18l-26-20l-24-23l-22-25l-19-28l-16-28l-13-30l-11-32l-7-32l-4-32l-1-34l3-32l5-32l9-32l11-30l15-30l18-28l20-26l23-24l25-22l28-19l28-16l30-13l30-10l32-8zM-8 1260v-2h18l40 5l34 8l32 11l30 13l29 17l27 20l25 22l22 24l20 26l17 28l15 30l11 30l9 32l5 32l2 34h-336zM909 1260l17-1v331h-316l2-32l5-30l7-30l10-28l12-28l15-26l17-25l19-23l22-22l23-19l26-18l26-15l28-12l28-10l30-7z"/>
<path fill="#cad864" d="M-8 -8h327l-2 32l-5 32l-8 30l-11 30l-14 28l-17 28l-19 26l-21 22l-24 22l-26 19l-28 17l-28 13l-30 10l-30 8l-32 4l-32 2zM619 -8h307v322l-30-3l-30-6l-30-9l-28-12l-26-13l-26-17l-24-19l-22-21l-20-23l-18-25l-16-26l-13-28l-10-28l-7-30l-5-30zM433 466l31-2l32 1l32 4l32 8l30 10l30 14l28 16l26 19l24 22l22 23l19 25l17 28l13 28l12 30l8 30l5 32l2 32l-1 32l-4 32l-7 30l-10 30l-14 30l-16 28l-19 26l-21 24l-23 22l-25 19l-28 18l-30 14l-30 12l-30 8l-32 5l-32 2l-32-1l-32-4l-30-7l-30-10l-30-14l-28-16l-26-19l-24-21l-22-23l-19-25l-18-28l-14-30l-12-30l-8-30l-5-32l-2-32l1-32l4-32l8-32l10-30l14-30l16-28l19-26l22-24l23-22l25-19l28-17l28-13l30-12l32-8zM-8 1268v-1l24 1l36 5l32 7l32 11l28 13l28 17l26 19l24 22l21 22l19 26l17 28l14 28l11 30l8 30l5 32l2 32h-327zM920 1268h6v322h-307l2-30l4-30l8-30l10-28l12-28l15-26l18-25l20-23l22-22l23-18l25-17l26-14l28-11l28-9l30-7z"/>
<path fill="#cad864" d="M-8 -8h318l-2 32l-5 30l-8 30l-10 28l-14 28l-15 26l-20 26l-20 22l-22 20l-26 19l-26 15l-29 14l-29 10l-30 8l-30 4l-32 2zM628 -8h298v313l-30-3l-28-6l-28-8l-28-12l-26-13l-26-17l-23-18l-21-20l-20-23l-17-25l-16-26l-11-26l-10-28l-7-28l-5-30zM444 474l30-1l32 2l32 6l30 8l29 11l28 14l27 17l24 19l22 20l21 24l18 26l15 26l13 28l10 30l7 30l4 32l1 32l-2 30l-6 32l-8 30l-11 29l-14 28l-17 27l-19 24l-20 22l-24 21l-26 18l-26 15l-28 13l-30 10l-30 7l-32 4l-32 1l-30-2l-32-6l-30-8l-29-11l-28-14l-27-17l-24-19l-22-20l-21-24l-18-26l-15-26l-13-28l-10-30l-7-30l-4-32l-1-32l2-30l6-32l8-30l11-29l14-28l17-27l19-24l20-22l24-21l26-18l26-15l28-13l30-10l30-7zM-8 1278v-2h16l38 5l32 7l32 11l28 12l28 17l25 18l23 20l22 24l18 24l16 26l14 28l11 30l8 30l5 30l2 32h-318zM910 1278l16-1v313h-298l2-28l4-29l7-29l9-26l11-26l15-26l16-23l18-22l20-20l22-19l24-17l24-14l26-11l28-10l28-7z"/>
<path fill="#cad864" d="M-8 -8h309l-2 30l-5 30l-8 30l-10 28l-13 26l-16 26l-18 24l-20 22l-22 20l-25 18l-26 15l-26 13l-28 10l-30 7l-30 5l-30 1zM637 -8h289v304l-28-3l-28-5l-28-9l-27-11l-25-13l-24-16l-22-17l-22-21l-18-21l-17-24l-15-26l-12-26l-10-26l-7-28l-4-28zM434 484l30-2l30 1l30 4l30 7l28 9l28 13l28 16l24 18l23 20l20 22l19 24l16 26l13 28l11 28l7 28l5 30l2 30l-1 30l-4 30l-7 30l-9 28l-13 28l-16 28l-18 24l-20 23l-22 20l-24 19l-26 16l-28 13l-28 11l-28 7l-30 5l-30 2l-30-1l-30-4l-30-7l-28-9l-28-13l-28-16l-24-18l-23-20l-20-22l-19-24l-16-26l-13-28l-11-28l-7-28l-5-30l-2-30l1-30l4-30l7-30l9-28l13-28l16-28l18-24l20-23l22-20l24-19l26-16l28-13l28-11l28-7zM-8 1286v-1l22 1l34 4l30 7l30 11l28 13l26 15l25 18l22 20l20 22l18 24l16 26l13 26l10 28l8 30l5 30l2 30h-309zM921 1286h5v304h-289l2-30l4-28l7-28l10-26l12-26l13-24l17-24l18-21l20-19l22-18l24-16l26-14l26-12l28-8l28-7z"/>
<path fill="#cad864" d="M-8 -8h300l-2 30l-4 28l-8 28l-10 28l-13 26l-15 25l-17 23l-21 22l-22 20l-22 16l-26 15l-26 12l-28 10l-28 7l-28 4l-30 2zM646 -8h280v295l-28-3l-28-6l-26-8l-26-11l-24-12l-24-16l-22-18l-20-19l-18-21l-16-23l-14-24l-12-26l-9-26l-7-26l-4-28zM445 492l29-1l28 2l30 5l28 7l28 11l26 12l25 16l24 18l21 20l20 22l17 24l15 26l12 26l9 28l7 28l4 30l1 30l-2 28l-5 30l-7 28l-11 28l-12 26l-16 25l-18 24l-20 21l-22 20l-24 17l-26 15l-26 12l-28 9l-28 7l-30 4l-30 1l-28-2l-30-5l-28-7l-28-11l-26-12l-25-16l-24-18l-21-20l-20-22l-17-24l-15-26l-12-26l-9-28l-7-28l-4-30l-1-30l2-28l5-30l7-28l11-28l12-26l16-25l18-24l20-21l22-20l24-17l26-15l26-12l28-9l28-7zM-8 1296v-2h14l38 5l30 6l30 11l26 12l26 15l24 17l22 20l20 21l17 23l16 26l13 26l10 28l8 28l4 28l2 30h-300zM911 1296l15-1v295h-280l2-28l4-26l6-26l9-26l11-24l13-24l15-22l18-22l18-18l21-18l23-16l22-12l24-11l26-10l26-7z"/>
<path fill="#cad864" d="M-8 -8h291l-2 28l-4 28l-8 28l-9 26l-13 26l-15 24l-16 22l-20 22l-21 18l-23 17l-24 14l-26 12l-26 10l-28 7l-28 4l-28 1zM655 -8h271v286l-28-3l-26-6l-26-8l-24-10l-24-12l-22-15l-22-17l-19-19l-18-20l-15-22l-14-24l-11-24l-10-26l-6-26l-4-26zM435 502l29-2l28 1l28 4l28 6l26 9l26 11l26 15l23 16l21 19l20 21l17 22l15 24l13 26l10 26l8 28l5 28l2 28l-1 30l-4 28l-6 28l-9 26l-11 26l-15 26l-16 23l-19 21l-21 20l-22 17l-24 15l-26 13l-26 10l-28 8l-28 5l-28 2l-30-1l-28-4l-28-6l-26-9l-26-11l-26-15l-23-16l-21-19l-20-21l-17-22l-15-24l-13-26l-10-26l-8-28l-5-28l-2-28l1-30l4-28l6-28l9-26l11-26l15-26l16-23l19-21l21-20l22-17l24-15l26-13l26-10l28-8zM-8 1304v-1l20 1l32 4l28 6l29 10l26 12l25 15l23 17l21 18l20 22l16 22l15 24l13 26l9 26l8 28l4 28l2 28h-291zM922 1304h4v286h-271l2-26l3-26l7-26l9-26l11-24l13-24l16-22l17-20l19-19l20-16l22-15l24-13l24-11l26-8l26-6z"/>
<path fill="#cad864" d="M-8 -8h282l-2 28l-4 26l-7 26l-9 26l-12 24l-14 24l-17 22l-19 21l-20 18l-22 16l-24 14l-24 11l-26 10l-26 6l-28 5l-28 1zM664 -8h262v277l-26-3l-26-5l-24-8l-24-10l-24-13l-22-14l-20-16l-19-18l-17-20l-16-22l-12-22l-11-24l-9-24l-6-26l-4-26zM445 510l27-1l28 2l28 4l26 7l26 10l26 13l24 14l21 17l21 19l18 21l16 22l14 24l12 26l8 26l6 26l4 28l1 28l-2 28l-5 28l-7 26l-10 26l-12 24l-14 24l-17 21l-19 21l-21 18l-22 16l-24 14l-26 12l-26 8l-26 6l-28 4l-28 1l-28-2l-28-5l-26-7l-26-10l-24-12l-24-14l-21-17l-21-19l-18-21l-16-22l-14-24l-12-26l-8-26l-6-26l-4-28l-1-28l2-28l5-28l7-26l10-26l12-24l14-24l17-21l19-21l21-18l22-16l24-14l26-12l26-8l26-6zM-8 1314v-2h12l36 4l28 6l28 10l26 12l24 14l22 16l21 18l18 20l17 22l15 24l12 24l10 26l7 26l4 28l2 28h-282zM912 1314l14-1v277h-262l2-26l3-24l6-24l8-24l11-24l12-22l14-21l16-19l18-19l20-16l20-15l22-12l22-10l24-9l26-7z"/>
<path fill="#fae23e" d="M-8 -8h273l-2 26l-4 26l-7 26l-8 24l-12 24l-14 23l-16 21l-18 20l-20 18l-22 16l-22 13l-24 11l-24 9l-26 7l-26 4l-28 1zM673 -8h253v268l-26-3l-24-5l-24-8l-22-9l-22-11l-22-15l-20-16l-18-17l-17-20l-14-20l-13-22l-10-22l-9-24l-7-26l-3-24zM436 520l26-2l28 1l26 3l26 6l26 9l24 10l24 14l21 15l21 18l18 19l16 21l14 22l12 24l10 26l8 26l4 26l2 26l-1 28l-3 26l-6 26l-9 26l-10 24l-14 24l-15 21l-18 21l-19 18l-21 16l-22 14l-24 12l-26 10l-26 8l-26 4l-26 2l-28-1l-26-3l-26-6l-26-9l-24-10l-24-14l-21-15l-21-18l-18-19l-16-21l-14-22l-12-24l-10-26l-8-26l-4-26l-2-26l1-28l3-26l6-26l9-26l10-24l14-24l15-21l18-21l19-18l21-16l22-14l24-12l26-10l26-8zM-8 1322v-1l20 1l30 4l26 6l26 9l24 11l24 14l22 16l20 18l18 20l16 21l14 23l12 24l8 24l7 26l4 26l2 26h-273zM923 1322h3v268h-253l2-26l3-24l6-24l9-24l10-22l12-22l15-21l16-19l18-17l20-17l20-13l22-12l24-11l24-7l24-6z"/>
<path fill="#fae23e" d="M-8 -8h264l-2 26l-4 26l-6 24l-9 24l-12 24l-13 21l-16 21l-17 18l-19 17l-20 15l-22 13l-24 11l-24 9l-26 6l-24 4l-26 1zM682 -8h244v259l-24-3l-24-5l-24-8l-22-9l-22-12l-20-13l-19-15l-17-17l-16-18l-14-20l-12-21l-10-22l-9-24l-6-24l-4-24zM446 528l26-1l26 2l26 4l24 6l24 9l24 12l22 13l20 15l19 18l17 19l16 21l13 22l11 24l8 24l6 26l4 26l1 26l-2 26l-4 26l-6 24l-9 24l-12 24l-13 22l-15 20l-18 19l-19 17l-21 16l-22 13l-24 11l-24 8l-26 6l-26 4l-26 1l-26-2l-26-4l-24-6l-24-9l-24-12l-22-13l-20-15l-19-18l-17-19l-16-21l-13-22l-11-24l-8-24l-6-26l-4-26l-1-26l2-26l4-26l6-24l9-24l12-24l13-22l15-20l18-19l19-17l21-16l22-13l24-11l24-8l26-6zM-8 1332v-2h10l34 4l26 5l26 9l24 11l23 13l21 15l20 18l18 19l15 20l14 22l12 24l9 24l6 24l4 26l2 26h-264zM914 1332l12-1v259h-244l1-24l4-22l6-24l7-22l10-22l11-20l14-20l14-18l17-17l18-15l20-15l20-11l22-10l22-8l22-6z"/>
<path fill="#fae23e" d="M-8 -8h255l-2 24l-3 24l-7 24l-8 24l-11 22l-14 22l-15 20l-16 18l-19 17l-20 14l-22 13l-22 10l-24 9l-24 5l-24 4l-24 1zM691 -8h235v250l-24-3l-22-5l-22-7l-22-9l-20-11l-20-13l-18-14l-18-18l-16-18l-12-18l-12-20l-10-22l-8-22l-6-24l-3-22zM437 538l25-2l24 1l26 3l24 5l24 8l24 10l22 13l20 14l18 16l18 18l15 20l14 22l11 22l9 24l7 24l4 24l2 24l-1 26l-3 26l-6 24l-8 24l-9 22l-13 22l-14 20l-16 18l-18 18l-20 15l-22 14l-22 11l-24 9l-24 7l-24 4l-24 2l-26-1l-26-3l-24-6l-24-8l-22-9l-22-13l-20-14l-18-16l-18-18l-15-20l-14-22l-11-22l-9-24l-7-24l-4-24l-2-24l1-26l3-26l6-24l8-24l9-22l13-22l14-20l16-18l18-18l20-15l22-14l22-11l24-9l24-7zM-8 1340v-1l18 1l28 3l26 6l24 9l22 10l22 13l20 14l19 17l16 18l15 20l14 22l11 22l8 24l7 24l3 24l2 24h-255zM923 1340h3v250h-235l2-24l3-22l6-24l8-22l10-22l12-20l12-18l16-18l16-16l18-15l20-13l20-11l22-10l22-7l22-5z"/>
<path fill="#fae23e" d="M-8 -8h246l-2 24l-4 24l-6 24l-8 22l-11 22l-13 20l-14 19l-16 17l-18 16l-20 14l-20 12l-22 10l-22 8l-22 5l-24 4l-24 1zM700 -8h226v241l-24-3l-22-5l-22-7l-20-9l-20-11l-18-12l-17-14l-17-16l-15-18l-13-18l-11-20l-9-20l-8-22l-5-22l-4-22zM447 546l23-1l24 1l24 4l24 6l22 8l22 11l20 12l20 15l18 16l16 18l14 19l12 21l11 22l8 22l5 24l4 24l1 24l-1 24l-4 24l-6 24l-8 22l-11 22l-12 20l-15 20l-16 18l-18 16l-19 14l-21 12l-22 11l-22 8l-24 5l-24 4l-24 1l-24-1l-24-4l-24-6l-22-8l-22-11l-20-12l-20-15l-18-16l-16-18l-14-19l-12-21l-11-22l-8-22l-5-24l-4-24l-1-24l1-24l4-24l6-24l8-22l11-22l12-20l15-20l16-18l18-16l19-14l21-12l22-11l24-8l24-6zM-8 1350v-2h8l32 3l26 6l24 8l22 10l22 13l20 14l18 16l16 17l14 19l13 20l11 22l8 22l6 24l4 24l2 24h-246zM915 1350l11-1v241h-226l1-22l4-22l5-22l7-20l9-20l10-18l12-18l15-18l15-16l17-14l17-12l20-12l20-9l20-8l22-5z"/>
<path fill="#fae23e" d="M-8 -8h237l-2 24l-3 22l-6 22l-8 22l-10 20l-13 20l-13 18l-16 17l-17 15l-19 14l-20 12l-20 9l-22 8l-22 5l-22 4l-24 1zM709 -8h217v232l-22-3l-22-5l-20-6l-20-9l-18-10l-18-12l-16-13l-17-16l-14-16l-13-19l-11-19l-9-20l-7-20l-5-22l-4-20zM438 556l24-2h22l24 3l22 5l22 7l22 10l21 11l19 14l18 15l16 17l14 17l12 19l10 20l9 22l7 22l4 24l2 22v24l-3 24l-5 22l-7 22l-10 22l-11 21l-14 19l-15 18l-17 16l-17 14l-19 12l-20 10l-22 9l-22 7l-24 4l-22 2h-24l-24-3l-22-5l-22-7l-22-10l-21-11l-19-14l-18-15l-16-17l-14-17l-12-19l-10-20l-9-22l-7-22l-4-24l-2-22v-24l3-24l5-22l7-22l10-22l11-21l14-19l15-18l17-16l17-14l19-12l20-10l22-9l22-7zM-8 1358v-1l16 1l26 3l24 5l22 8l22 10l20 12l18 13l18 16l16 17l13 18l13 20l10 20l8 22l6 22l3 22l2 24h-237zM924 1358h2v232h-217l1-22l4-20l5-22l7-20l9-20l10-18l13-18l14-17l15-15l17-14l18-12l20-11l20-9l20-6l20-5z"/>
<path fill="#fae23e" d="M-8 -8h228l-1 22l-4 22l-6 22l-8 20l-9 20l-11 18l-14 18l-15 16l-16 15l-18 13l-20 12l-20 9l-20 7l-22 6l-22 3l-22 1zM718 -8h208v223l-22-3l-20-5l-20-6l-18-8l-18-10l-18-12l-16-13l-14-14l-14-16l-12-17l-10-17l-9-20l-7-20l-5-20l-4-20zM448 564l22-1l22 1l22 3l22 6l20 7l21 10l19 12l18 13l16 15l16 17l14 19l10 18l10 20l8 22l5 22l3 22l1 22l-1 22l-3 22l-6 22l-8 22l-10 20l-11 19l-14 18l-16 17l-15 14l-19 14l-18 10l-20 10l-22 8l-22 5l-22 3l-22 1l-22-1l-22-3l-22-6l-22-8l-20-10l-19-11l-18-14l-17-16l-14-15l-14-19l-10-18l-10-20l-8-22l-5-22l-3-22l-1-22l1-22l3-22l6-22l7-20l10-21l12-19l13-18l15-16l17-16l19-14l18-10l20-10l22-8l22-5zM-8 1368v-2h8l30 3l24 6l22 7l20 9l20 12l18 13l16 14l15 16l14 18l13 20l9 20l8 20l6 22l4 22l1 22h-228zM916 1368l10-1v223h-208l1-20l3-20l5-20l7-20l8-18l10-18l11-16l13-16l14-14l16-14l16-11l18-11l18-8l18-7l20-5z"/>
<path fill="#fae23e" d="M-8 -8h219l-2 22l-3 20l-5 20l-8 20l-9 20l-11 18l-13 16l-14 16l-16 14l-16 12l-18 11l-20 9l-20 7l-22 6l-20 3l-22 1zM727 -8h199v214l-20-3l-18-4l-20-6l-18-8l-18-10l-16-11l-16-13l-14-13l-13-16l-11-16l-11-18l-8-18l-6-18l-6-20l-3-20zM439 574l23-2l22 1l22 2l20 5l20 6l20 9l18 10l18 12l16 14l16 16l13 17l12 18l9 18l8 20l6 20l4 22l2 22l-1 22l-2 22l-5 20l-6 20l-9 20l-10 18l-12 18l-14 16l-16 16l-17 13l-18 12l-18 9l-20 8l-20 6l-22 4l-22 2l-22-1l-22-2l-20-5l-20-6l-20-9l-18-10l-18-12l-16-14l-16-16l-13-17l-12-18l-9-18l-8-20l-6-20l-4-22l-2-22l1-22l2-22l5-20l6-20l9-20l10-18l12-18l14-16l15-15l16-13l18-12l20-10l20-8l20-6zM-8 1376v-1h14l26 4l22 5l20 7l20 9l18 11l18 13l16 14l14 16l13 16l11 18l9 20l8 20l5 20l3 20l2 22h-219zM925 1376h1v214h-199l1-20l3-20l6-20l6-18l8-18l9-16l11-16l14-16l14-14l15-13l16-11l18-10l18-8l20-7l20-4z"/>
<path fill="#fae23e" d="M-8 -8h210l-1 20l-4 20l-5 20l-8 20l-8 18l-12 18l-12 16l-13 14l-15 13l-16 12l-18 11l-18 8l-20 7l-20 5l-20 3l-20 1zM736 -8h190v205l-20-3l-18-4l-18-6l-18-8l-16-9l-16-11l-15-12l-13-13l-12-15l-12-16l-9-16l-8-18l-6-18l-5-18l-3-18zM449 582l21-1l20 1l20 3l20 5l20 7l18 9l18 11l16 11l16 15l14 15l11 16l11 18l9 18l7 20l5 20l3 20l1 20l-1 22l-3 20l-5 20l-7 20l-9 18l-11 18l-11 16l-15 16l-15 14l-16 11l-18 11l-18 9l-20 7l-20 5l-20 3l-20 1l-22-1l-20-3l-20-5l-20-7l-18-9l-18-11l-16-11l-16-15l-14-15l-11-16l-11-18l-9-18l-7-20l-5-20l-3-20l-1-20l1-22l3-20l5-20l7-20l9-18l11-18l11-16l14-15l16-15l16-11l18-11l18-9l20-7l20-5zM-8 1386v-2h4l30 3l22 5l20 6l20 9l18 11l16 11l16 14l14 15l12 16l12 18l8 18l8 20l5 20l4 20l1 20h-210zM917 1386l9-1v205h-190l1-18l3-18l4-18l6-18l8-18l9-16l11-16l11-14l13-13l14-12l16-11l16-10l16-7l18-7l18-5z"/>
<path fill="#fae23e" d="M-8 -8h201l-1 20l-3 18l-6 20l-7 18l-9 18l-9 16l-13 16l-13 14l-14 13l-16 11l-16 10l-18 8l-18 6l-20 5l-18 3l-20 1zM745 -8h181v196l-18-3l-18-4l-18-6l-16-7l-16-9l-16-11l-14-12l-12-12l-12-14l-10-15l-10-17l-7-16l-5-16l-5-18l-3-18zM441 592l19-2h20l20 2l18 4l20 6l18 8l18 10l15 10l15 12l14 14l13 16l11 16l9 18l8 18l5 18l4 20l2 20v20l-2 20l-4 18l-6 20l-8 18l-10 18l-10 15l-12 15l-14 14l-16 13l-16 11l-18 9l-18 8l-18 5l-20 4l-20 2h-20l-20-2l-18-4l-20-6l-18-8l-18-10l-15-10l-15-12l-14-14l-13-16l-11-16l-9-18l-8-18l-5-18l-4-20l-2-20v-20l2-20l4-18l6-20l8-18l10-18l10-15l12-15l14-14l16-13l16-11l18-9l18-8l20-5zM-8 1394v-1h12l24 3l20 5l18 6l18 8l18 11l16 11l14 13l13 14l13 16l9 16l9 18l7 18l6 20l3 18l1 20h-201zM926 1394v196h-181l1-18l3-18l5-18l5-16l7-16l10-17l10-15l12-14l12-12l14-12l16-11l16-9l16-7l18-6l18-4z"/>
<path fill="#fae23e" d="M-8 -8h192l-1 18l-3 18l-5 18l-7 18l-8 17l-10 16l-11 15l-13 14l-14 12l-14 10l-16 10l-18 8l-18 6l-18 5l-18 2l-18 1zM754 -8h172v187l-18-3l-16-4l-16-5l-16-7l-16-9l-14-10l-13-11l-12-12l-12-14l-10-14l-8-14l-7-16l-6-16l-4-18l-3-16zM449 600l19-1l20 1l18 3l18 4l18 6l16 8l16 9l16 12l14 12l12 14l12 15l10 17l8 16l6 18l5 18l3 20l1 18l-1 20l-3 18l-4 18l-6 18l-8 16l-9 16l-12 16l-12 14l-14 12l-15 12l-17 10l-16 8l-18 6l-18 5l-20 3l-20 1l-18-1l-18-3l-18-4l-18-6l-16-8l-16-9l-16-12l-14-12l-12-14l-12-15l-10-17l-8-16l-6-18l-5-18l-3-20l-1-18l1-20l3-18l4-18l6-18l8-16l9-16l12-16l12-14l14-12l15-12l17-10l16-8l18-6l18-5zM-8 1404v-2h2l28 2l20 5l20 6l18 8l16 10l16 11l13 12l13 13l11 15l10 16l9 17l6 17l5 18l3 18l2 20h-192zM918 1404l8-1v187h-172l1-18l3-16l4-16l5-16l7-16l8-14l10-14l10-13l12-12l12-11l14-10l14-9l16-7l16-6l16-5z"/>
<path fill="#fae23e" d="M-8 -8h183l-1 18l-3 18l-5 16l-6 17l-8 16l-9 15l-11 14l-12 13l-14 12l-14 10l-14 9l-16 7l-16 6l-18 4l-18 3l-18 1zM763 -8h163v178l-16-3l-16-4l-16-5l-14-6l-14-8l-14-10l-12-10l-13-12l-10-12l-10-14l-8-14l-7-16l-5-16l-4-16l-3-16zM442 610l18-2h18l18 2l18 4l18 5l16 7l16 9l14 9l14 12l12 12l12 14l10 15l9 17l7 16l4 16l4 18l2 18v18l-2 18l-4 18l-5 18l-7 16l-9 16l-9 14l-12 14l-12 12l-14 12l-15 10l-17 9l-16 7l-16 4l-18 4l-18 2h-18l-18-2l-18-4l-18-5l-16-7l-16-9l-14-9l-14-12l-12-12l-12-14l-10-15l-9-17l-7-16l-4-16l-4-18l-2-18v-18l2-18l4-18l5-18l7-16l9-16l9-14l12-14l12-12l14-12l15-10l17-9l16-7l16-4zM-8 1412v-1h10l22 3l18 4l18 6l16 7l16 10l14 10l14 12l12 13l11 14l9 15l8 16l6 17l5 16l3 18l1 18h-183zM913 1414l13-2v178h-163l3-30l9-30l13-28l18-26l22-22l26-18l28-13l16-6z"/>
<path fill="#fae23e" d="M-8 -8h174l-1 18l-3 16l-5 16l-6 16l-7 14l-8 14l-11 14l-11 12l-12 11l-14 10l-14 8l-16 8l-16 6l-16 4l-16 2l-18 1zM772 -8h154v169l-30-6l-28-11l-26-17l-12-9l-12-12l-18-24l-9-14l-6-14l-5-14l-4-16l-3-16zM450 618l18-1l16 1l18 2l16 4l16 6l16 7l14 8l14 10l14 13l11 12l10 14l9 14l8 16l5 16l4 16l3 16l1 16l-1 18l-2 18l-4 16l-6 16l-7 16l-8 14l-10 14l-13 14l-12 11l-14 10l-14 9l-16 8l-16 5l-16 4l-16 3l-16 1l-18-1l-18-2l-16-4l-16-6l-16-7l-14-8l-14-10l-14-13l-11-12l-10-14l-9-14l-8-16l-5-16l-4-16l-3-16l-1-16l1-18l2-18l4-16l6-16l7-16l8-14l10-14l13-14l12-11l14-10l14-9l16-8l16-5l16-4zM-8 1422v-2l26 2l18 4l18 5l16 7l14 8l14 10l14 12l12 13l10 13l9 14l8 16l6 16l5 16l3 16l1 18h-174zM920 1422l6-1v169h-154l3-30l4-16l5-14l14-27l18-25l21-20l25-16l28-13z"/>
<path fill="#fae23e" d="M-8 -8h165l-1 16l-3 16l-4 16l-6 14l-7 14l-8 14l-10 13l-11 11l-11 10l-14 10l-14 8l-14 7l-14 5l-16 4l-16 2l-16 1zM781 -8h145v160l-28-6l-28-12l-24-15l-22-20l-18-23l-13-26l-8-28zM443 628l17-2h16l16 2l16 3l16 4l14 6l14 7l14 10l12 9l12 12l11 13l9 13l8 15l6 14l5 16l3 16l2 16v16l-2 16l-3 16l-4 16l-6 14l-7 14l-10 15l-10 12l-12 12l-12 10l-14 9l-14 8l-14 6l-16 5l-16 3l-16 2h-16l-16-2l-16-3l-16-4l-14-6l-14-7l-15-10l-12-10l-12-12l-10-12l-9-14l-8-14l-6-14l-5-16l-3-16l-2-16v-16l2-16l3-16l4-16l6-14l7-14l10-14l9-12l12-12l13-11l13-9l15-8l14-6l16-5zM-8 1430v-1h10l20 3l16 4l16 5l14 7l14 8l14 10l11 10l11 11l10 13l8 14l7 14l6 14l4 16l3 16l1 16h-165zM915 1432l11-2v160h-145l3-28l8-26l12-26l16-23l19-19l23-16l26-12z"/>
<path fill="#faa52a" d="M-8 -8h156l-2 20l-2 11l-8 25l-8 16l-10 16l-18 20l-22 18l-26 14l-25 8l-11 2l-24 2zM790 -8h136v150l-15-2l-14-4l-11-4l-16-8l-16-10l-10-8l-16-16l-16-22l-10-20l-8-25l-2-11zM452 636h34l29 6l11 4l17 8l13 8l14 10l18 18l12 17l8 13l10 25l6 29v34l-6 29l-4 11l-8 17l-8 13l-10 14l-18 18l-17 12l-13 8l-25 10l-29 6h-34l-29-6l-11-4l-17-8l-13-8l-14-10l-18-18l-12-17l-8-13l-10-25l-6-29v-34l6-29l4-11l8-17l8-13l10-14l18-18l17-12l13-8l25-10zM-8 1440v-2l25 2l18 4l17 6l26 14l20 16l12 12l8 10l10 16l8 16l8 25l2 11l2 20h-156zM921 1440h5v150h-136l2-20l2-11l8-25l10-20l16-22l16-16l10-8l16-10l16-8l11-4z"/>
<path fill="#faa52a" d="M-8 -8h138l-3 26l-9 26l-12 22l-18 21l-20 16l-24 13l-26 8l-26 2zM808 -8h118v133l-24-6l-22-10l-20-13l-17-16l-15-20l-10-20l-7-24zM452 654l28-1l26 5l26 10l22 14l19 18l16 22l6 12l5 14l6 26l1 14v14l-5 26l-10 26l-14 22l-18 19l-22 16l-12 6l-14 5l-26 6l-14 1h-14l-26-5l-26-10l-22-14l-19-18l-16-22l-6-12l-5-14l-6-26l-1-14v-14l5-26l10-26l14-22l19-20l23-16l24-10zM-8 1458v-2l18 1l16 3l14 5l14 6l12 7l21 16l17 20l14 24l9 26l3 26h-138zM923 1458l3-1v133h-118l3-24l6-22l11-22l14-19l16-15l20-14l22-10z"/>
<path fill="#faa52a" d="M-8 -8h120l-4 26l-6 18l-10 18l-16 20l-18 14l-18 10l-11 4l-15 4l-22 2zM826 -8h100v114l-18-4l-22-10l-15-10l-15-15l-14-19l-8-17l-6-21zM454 672h26l23 4l20 8l19 12l16 15l14 19l10 21l4 13l2 12v26l-4 23l-8 20l-12 19l-15 16l-19 14l-21 10l-13 4l-12 2h-26l-23-4l-20-8l-19-12l-16-15l-14-19l-10-21l-4-13l-2-12v-26l4-23l8-20l12-19l15-16l19-14l21-10zM-8 1476v-2l18 1l13 3l12 4l13 6l10 6l18 14l16 20l10 18l6 18l4 26h-120zM924 1476h2v114h-100l2-18l6-21l8-17l14-19l15-15l15-10l17-8z"/>
<path fill="#faa52a" d="M-8 -8h98l-2 16l-6 19l-10 17l-12 14l-14 12l-20 10l-14 4l-20 2zM848 -8h78v92l-14-4l-16-8l-14-10l-12-12l-8-12l-8-16l-4-14zM455 694l19-1l19 3l17 6l19 12l15 14l10 14l8 18l4 17l1 19l-3 19l-6 17l-12 19l-14 15l-14 10l-18 8l-17 4l-19 1l-19-3l-17-6l-19-12l-15-14l-10-14l-8-18l-4-17l-1-19l3-19l6-17l12-19l14-15l14-10l18-8zM-8 1498v-2l10 1l10 1l14 4l16 8l16 12l12 13l10 16l6 15l4 24h-98zM918 1500l8-2v92h-78l2-16l4-14l8-16l8-12l12-12l10-8l11-6z"/>
<path fill="#faa52a" d="M-8 -8h66l-2 12l-4 11l-6 11l-9 10l-7 6l-16 8l-6 2l-16 2zM880 -8h46v58l-7-2l-11-6l-16-16l-8-16l-2-6zM458 726h22l14 4l14 8l10 9l8 11l4 8l4 14v22l-4 14l-8 14l-9 10l-11 8l-8 4l-14 4h-22l-14-4l-14-8l-10-9l-8-11l-4-8l-4-14v-22l4-14l8-14l9-10l11-8l8-4zM-8 1530v-2h2l14 2l6 2l16 8l7 6l9 10l6 11l4 11l2 12h-66zM924 1532h2v58h-46l2-12l2-6l8-16l16-16z"/>
<path fill="#98d2a0" d="M466 28l4-1l4 2l11 15l91 160l77 130l10 18l4 10l1 6l-4 5l-10 2l-18 1l-168-4l-164 4l-24-2l-6-1l-3-3l-1-4l2-6l11-22l80-136l86-152l11-17zM116 404l44-1l22 2l6 2l2 3l1 4l-2 6l-28 50l-66 112l-84 148l-11 17l-4 3l-4 2v-345zM762 404l30-1l134 4v322l-85-151l-64-108l-24-42l-5-12v-6l4-4zM-8 832v-2l2 1l4 2l11 15l89 158l77 130l15 28l1 6l-3 5l-10 3l-26 1l-160-4zM926 854v321l-140 4l-26-1l-10-3l-2-3l-1-4l2-6l6-12l86-146zM278 1208l10-1l24-1l116 4h48l162-4l20 2l6 1l3 3l1 4l-2 6l-11 22l-80 136l-86 152l-11 17l-6 5l-4 1l-4-2l-11-15l-90-158l-82-140l-8-14l-3-10l2-5z"/>
<path fill="#98d2a0" d="M465 44l5-1l5 3l5 6l10 16l76 134l82 140l6 14v5l-2 3l-8 2l-20 1l-156-3l-150 4l-26-2l-6-2l-2-2v-6l2-6l12-22l71-122l79-138l10-16zM99 412h67l7 2l3 2l1 4l-1 6l-10 20l-71 122l-85 148l-10 15l-4 4l-4 1v-321zM774 412h40l112 2v298l-160-277l-4-9l-1-8l1-2l3-2zM-8 846l4 1l4 4l10 15l85 148l71 122l11 22v6l-1 2l-3 2l-9 2h-34l-138-3zM926 870v298l-118 2h-34l-9-2l-3-2l-1-6l1-4l6-13zM291 1216l13-1l30-1l142 3l148-2l23 1l5 2l2 2v6l-2 6l-12 22l-71 122l-79 138l-10 16l-8 9h-4l-4-2l-10-13l-85-148l-71-122l-10-18l-4-10v-6l2-2z"/>
<path fill="#98d2a0" d="M467 66h3l4 2l10 14l118 204l30 54l2 8v2l-2 2l-6 2l-22 1l-136-1l-130 1l-28-1l-4-2l-2-2v-5l2-5l14-26l134-232l8-12zM51 424h95l8 2l2 1l1 3v4l-3 8l-10 18l-134 232l-12 18l-2 2l-4 2v-289zM792 424l134 1v263l-142-246l-3-10l1-4l2-2zM-8 870v-2l2 1l4 3l12 18l134 232l12 24l1 6l-3 4l-8 2h-16l-138-1zM926 894v263l-120 1h-14l-8-2l-2-2l-1-4l5-13zM309 1228l31-1l128 1l138-1l22 1l4 2l2 2v5l-2 5l-14 26l-134 232l-8 12l-4 4h-4l-4-2l-10-14l-142-246l-8-18v-4z"/>
<path fill="#98d2a0" d="M465 108l5-2l6 5l22 35l94 163l6 13l1 4l-1 4l-2 2l-8 3h-20l-194 1l-28-2l-5-2l-1-2v-8l10-20l98-170l10-16zM-8 444h115l11 2l3 2l1 4l-4 12l-10 18l-98 170l-12 17l-6 4zM831 444l95-1v205l-106-184l-4-10v-4l4-4zM-8 910h2l4 3l12 17l98 170l10 18l4 10v4l-4 4l-10 2h-12l-104 1zM926 934v205l-86-1h-12l-8-2l-3-2l-1-4l2-7l4-9zM346 1248l32-2l192 1l22 1l5 2l1 2v8l-10 20l-98 170l-10 16l-8 9l-4 1l-4-3l-10-13l-104-180l-8-15l-3-9l1-5z"/>
<path fill="#98d2a0" d="M466 164h6l4 2l10 12l12 18l38 66l6 12l8 20v6l-2 4l-4 2l-8 2l-18 2h-98l-18-2l-8-2l-4-2l-2-4v-6l2-6l12-26l38-66l20-28zM-8 470v-1l60 1l12 2l5 2l3 3l1 5l-3 12l-8 17l-38 67l-10 15l-12 17l-5 4l-5 2zM886 470l40-1v127l-12-18l-30-52l-10-19l-8-19l-1-8l1-4l8-4zM-8 966h2l6 4l14 19l42 71l16 34v10l-3 4l-5 2l-12 2l-60 1zM926 986v127l-40-1l-12-2l-5-2l-3-3l-1-5l1-6l4-10l14-28l30-52zM420 1272h98l18 2l8 2l4 2l2 4v6l-2 6l-10 22l-10 18l-34 58l-16 22l-6 4h-6l-6-4l-16-22l-42-72l-12-26l-2-10v-2l2-4l4-2l8-2z"/>
</g></g><rect x="2350" y="1524.5" width="4" height="804" fill="#f4b43c"/><path d="M1885 1515V1524M1885 2328V2345" stroke="#231f20" stroke-width="1.5"/><path fill-rule="evenodd" fill="#231f20" d="M1876 1524.5H2350V2328.4H1876ZM1883.6 1530.3H2342.8V2321H1883.6Z"/><circle cx="1936" cy="1588" r="46" fill="#fff"/><text x="1905" y="1588" font-size="70">p</text><text x="1940" y="1614" font-size="54">2</text>
<text x="52" y="1478" font-size="70">(d)</text>
<text x="1400" y="1478" font-size="70">(e)</text>
</svg>
</body></html>
